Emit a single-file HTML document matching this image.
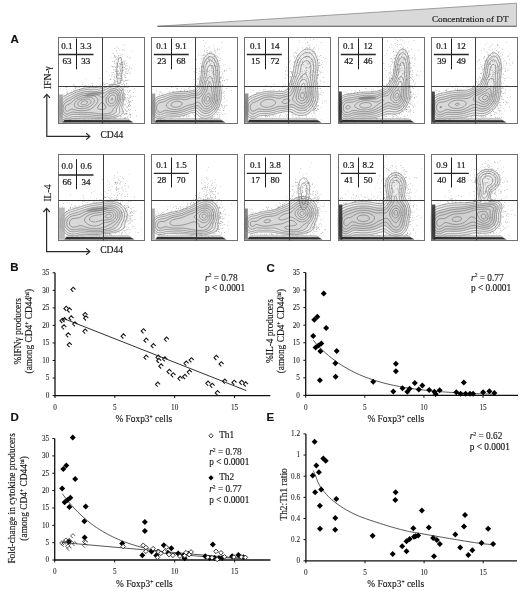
<!DOCTYPE html>
<html><head><meta charset="utf-8"><style>
html,body{margin:0;padding:0;background:#fff;overflow:hidden;width:520px;height:591px;}
svg{display:block;will-change:transform;}
text{stroke:#111;stroke-width:0.15px;}
text.t{stroke:#222;stroke-width:0.08px;fill:#222;}
text.s{stroke-width:0.22px;}
</style></head><body>
<svg width="520" height="591" viewBox="0 0 520 591">
<rect width="520" height="591" fill="#fff"/>
<polygon points="157.5,26.3 516.5,3.2 516.5,26.3" fill="#d9d9d9" stroke="#8a8a8a" stroke-width="0.8"/>
<line x1="157.50" y1="26.30" x2="516.50" y2="26.30" stroke="#6a6a6a" stroke-width="1.0"/>
<text x="508.50" y="21.60" style="font-family:'Liberation Serif',serif;font-size:9.2px;font-weight:normal" text-anchor="end" fill="#1a1a1a" >Concentration of DT</text>
<text x="10.60" y="43.20" style="font-family:'Liberation Sans',sans-serif;font-size:11.5px;font-weight:bold" text-anchor="start" fill="#111" >A</text>
<text x="10.20" y="270.70" style="font-family:'Liberation Sans',sans-serif;font-size:11.5px;font-weight:bold" text-anchor="start" fill="#111" >B</text>
<text x="266.60" y="272.00" style="font-family:'Liberation Sans',sans-serif;font-size:11.5px;font-weight:bold" text-anchor="start" fill="#111" >C</text>
<text x="10.40" y="420.50" style="font-family:'Liberation Sans',sans-serif;font-size:11.5px;font-weight:bold" text-anchor="start" fill="#111" >D</text>
<text x="266.40" y="420.80" style="font-family:'Liberation Sans',sans-serif;font-size:11.5px;font-weight:bold" text-anchor="start" fill="#111" >E</text>
<g><path d="M68.1 120.2l-.7 .1-1 .1-1-.2-.7-.2-.6-.3-.7-.4-.7-.5-.6-.6-.4-.4-.6-.6-.4-.5-.3-.5-.3-.5-.4-.5-.3-.6-.3-.6-.3-.5-.3-.7-.1-1 0-1 0-1 0-1 0-1 0-1 0-1 0-1 0-1 .1-.6 .3-.7 .4-.7 .4-.6 .4-.7 .4-.6 .3-.4 .6-.7 .4-.4 .6-.6 .4-.4 .7-.5 .5-.4 .5-.3 .5-.4 .5-.3 .7-.3 .6-.4 .6-.3 .7-.3 .7-.4 .6-.3 .7-.3 .7-.4 .7-.3 .7-.3 .6-.3 .7-.3 .7-.3 .6-.3 .7-.3 .6-.2 .7-.3 .7-.2 .7-.2 .6-.2 .7-.2 .7-.2 .6-.2 .7-.2 .7-.1 .6-.2 .7-.1 .7-.2 .6-.1 .7-.1 .7-.1 .6-.1 .7-.1 1-.1 .8-.1 .9-.1 1 0 1-.1 1 0 1 0 1 .1 1 0 .7 .1 .9 .1 1 .1 .7 .1 .7 .1 .6 .1 1 .1 1 0 1-.1 .7-.1 .7-.2 .6-.3 .6-.2 .7-.4 .7-.3 .6-.3 .8-.4 .6-.2 .7-.3 .7-.2 .6-.2 .7-.1 .7-.1 1-.1 1 0 1 .1 .6 .2 .7 .2 .7 .3 .6 .3 .7 .4 .5 .4 .5 .4 .6 .6 .4 .5 .3 .4 .4 .5 .3 .6 .3 .6 .4 .7 .2 .7 .2 .7 .2 .6 .2 .7 .1 .7 .1 .8 0 .8 0 1 0 1-.1 1-.1 .7-.1 .7-.2 .6-.1 .7-.2 .7-.2 .6-.2 .7-.3 .7-.2 .5-.3 .8-.2 .7-.1 .6-.1 1 .2 .7 .3 .7 .3 .6 .4 .7 .3 .7 .1 .6-.1 1-.3 .7-.5 .6-.5 .4-.4 .3-.5 .4-.6 .3-.7 .3-.6 .3-.7 .3-.7 .2-.6 .2-.7 .2-.7 .2-.6 .2-.7 .1-.7 .2-.6 .1-.7 .1-.7 .1-.6 .1-.7 .1-1 .1-1 .1-1 .1-1 0-1 .1-1 0-1 0-1 0-1 0-1 0-1-.1-1 0-1-.1-1 0-1-.1-1 0-1-.1-1 0-1-.1-1 0-1-.1-1 0-1 0-1 0-1 0-1 .1-1 0-1 .1-1 0-1 .1-1 0-1 0-1 .1-1 0-1 0-1 0-1 .1-.7 .1-.6 .2-.7 .2-.7 .3-.6 .2-.7 .3-.7 .2-.6 .2z" fill="#ececec" stroke="none"/><clipPath id="cl00"><rect x="58.4" y="86.5" width="85.8" height="36.6"/></clipPath><path d="M68.1 116.2l-.7 .2-1 0-.7-.1-.6-.3-.7-.4-.5-.4-.5-.6-.3-.5-.4-.5-.3-.6-.3-.8-.3-.7-.2-.7-.1-.6-.1-.7 0-1 0-1 .1-1 .1-.7 .2-.6 .3-.7 .2-.7 .4-.6 .4-.7 .3-.4 .5-.6 .5-.5 .5-.5 .5-.3 .5-.4 .5-.3 .7-.3 .6-.4 .7-.3 .7-.3 .6-.4 .6-.3 .6-.3 .5-.3 .6-.4 .6-.3 .6-.4 .5-.2 .7-.4 .7-.3 .6-.3 .7-.3 .7-.3 .6-.3 .7-.2 .7-.3 .6-.2 .7-.2 .7-.2 .6-.2 .7-.1 .7-.2 .6-.1 .7-.2 .7-.1 .6-.1 .7-.1 .7-.1 1-.1 1 0 1-.1 1 0 1 0 1 .1 1 .1 .6 .1 .7 .1 .7 .1 .6 .1 .7 .2 .7 .2 .6 .2 .7 .2 .6 .2 .7 .3 .7 .1 .7 .1 1 0 .6-.1 .7-.3 .7-.4 .5-.3 .5-.4 .5-.3 .5-.3 .5-.4 .5-.3 .5-.3 .6-.4 .5-.2 .7-.3 .7-.3 .6-.2 .7-.1 .7-.1 1-.1 1 .2 .6 .1 .7 .3 .7 .3 .6 .4 .7 .7 .6 .7 .4 .5 .3 .5 .3 .6 .3 .7 .2 .7 .2 .6 .1 .7 .1 1 0 1 0 1-.1 1-.2 .7-.1 .6-.2 .7-.2 .6-.3 .7-.3 .7-.3 .7-.4 .6-.4 .7-.3 .6-.4 .6-.3 .5-.3 .6-.3 .7-.2 .7-.1 .6-.1 1-.1 .7-.2 .6-.4 .6-.4 .5-.6 .4-.6 .4-.7 .3-.7 .3-.6 .2-.7 .2-.7 .2-.6 .1-.7 .1-.7 .2-.6 0-1 .1-1 .1-1 .1-1 0-1 0-1 0-1 0-1-.1-1 0-1-.1-1-.1-1-.1-1-.1-1-.1-1-.1-1-.1-1-.1-1-.1-.9-.1-.8 0-1-.1-1 0-1 0-1 0-1 0-1 0-1 0-1 0-1 0-1-.1-1 0-1-.1-1 0-1-.1-1 0-1 .1-.7 .1-.6 .3-.7 .3-.7 .3-.6 .3-.7 .3z" fill="#d8d8d8" stroke="none" clip-path="url(#cl00)"/><ellipse cx="0" cy="0" rx="10" ry="2.0" fill="#555" fill-opacity="0.35" transform="translate(94.4,94.0) rotate(-12)"/><path d="M114.2 56.2h.6v.6h-.6zM120.7 80.3h.6v.6h-.6zM122.9 67.7h.6v.6h-.6zM121.8 63.6h.6v.6h-.6zM115.1 71.1h.6v.6h-.6zM124.2 63.6h.6v.6h-.6zM122.6 70.0h.6v.6h-.6zM122.6 87.4h.6v.6h-.6zM122.8 68.9h.6v.6h-.6zM124.4 63.2h.6v.6h-.6zM129.5 57.8h.6v.6h-.6zM116.6 75.6h.6v.6h-.6zM119.6 67.6h.6v.6h-.6zM127.3 73.3h.6v.6h-.6zM113.4 53.1h.6v.6h-.6zM120.9 65.4h.6v.6h-.6zM116.3 70.2h.6v.6h-.6zM119.3 74.6h.6v.6h-.6zM121.5 71.9h.6v.6h-.6zM110.7 66.5h.6v.6h-.6zM114.9 82.0h.6v.6h-.6zM113.1 69.0h.6v.6h-.6zM118.4 48.5h.6v.6h-.6zM116.3 56.5h.6v.6h-.6zM126.2 68.7h.6v.6h-.6zM116.7 71.5h.6v.6h-.6zM127.1 55.9h.6v.6h-.6zM117.6 57.1h.6v.6h-.6zM120.6 72.9h.6v.6h-.6zM119.6 71.9h.6v.6h-.6zM119.5 73.0h.6v.6h-.6zM114.3 76.4h.6v.6h-.6zM120.9 69.9h.6v.6h-.6zM121.1 61.4h.6v.6h-.6zM120.5 82.1h.6v.6h-.6zM122.2 79.8h.6v.6h-.6zM115.7 86.7h.6v.6h-.6zM118.1 74.2h.6v.6h-.6zM116.4 71.1h.6v.6h-.6zM111.7 72.1h.6v.6h-.6zM121.1 73.1h.6v.6h-.6zM116.5 51.6h.6v.6h-.6zM119.1 68.6h.6v.6h-.6zM129.5 66.6h.6v.6h-.6zM120.4 73.9h.6v.6h-.6zM119.9 73.3h.6v.6h-.6zM124.2 67.1h.6v.6h-.6zM125.0 65.8h.6v.6h-.6zM127.6 56.9h.6v.6h-.6zM117.1 73.0h.6v.6h-.6zM127.5 65.5h.6v.6h-.6zM118.8 66.7h.6v.6h-.6zM114.2 81.0h.6v.6h-.6zM115.2 80.7h.6v.6h-.6zM124.4 67.0h.6v.6h-.6zM122.8 87.1h.6v.6h-.6zM125.2 77.3h.6v.6h-.6zM115.3 70.6h.6v.6h-.6zM117.9 61.0h.6v.6h-.6zM114.0 61.1h.6v.6h-.6zM110.5 79.3h.6v.6h-.6zM119.3 50.2h.6v.6h-.6zM126.5 86.9h.6v.6h-.6zM124.4 76.6h.6v.6h-.6zM115.9 66.1h.6v.6h-.6zM124.7 85.8h.6v.6h-.6zM116.8 71.9h.6v.6h-.6zM120.8 56.9h.6v.6h-.6zM123.1 62.7h.6v.6h-.6zM117.6 58.4h.6v.6h-.6zM115.4 57.1h.6v.6h-.6zM122.3 88.8h.6v.6h-.6zM118.6 70.2h.6v.6h-.6zM116.9 67.3h.6v.6h-.6zM122.3 77.1h.6v.6h-.6zM118.4 74.9h.6v.6h-.6zM121.1 62.1h.6v.6h-.6zM115.1 58.9h.6v.6h-.6zM122.7 49.2h.6v.6h-.6zM115.1 78.2h.6v.6h-.6zM117.7 66.3h.6v.6h-.6zM111.0 77.9h.6v.6h-.6zM124.6 69.1h.6v.6h-.6zM119.8 55.1h.6v.6h-.6zM121.5 62.6h.6v.6h-.6zM111.7 83.9h.6v.6h-.6zM120.1 62.7h.6v.6h-.6zM117.6 73.9h.6v.6h-.6zM124.8 45.0h.6v.6h-.6zM112.3 60.9h.6v.6h-.6zM121.0 78.7h.6v.6h-.6zM124.2 49.9h.6v.6h-.6zM114.0 79.7h.6v.6h-.6zM119.9 64.1h.6v.6h-.6zM114.5 63.0h.6v.6h-.6zM119.6 83.7h.6v.6h-.6zM120.9 64.1h.6v.6h-.6zM125.3 80.4h.6v.6h-.6zM120.2 65.6h.6v.6h-.6zM116.3 73.4h.6v.6h-.6zM122.0 80.2h.6v.6h-.6zM119.4 80.7h.6v.6h-.6zM124.3 67.3h.6v.6h-.6zM116.7 46.8h.6v.6h-.6zM125.4 87.4h.6v.6h-.6zM120.2 64.3h.6v.6h-.6zM120.5 82.9h.6v.6h-.6zM123.9 61.9h.6v.6h-.6zM117.0 65.7h.6v.6h-.6zM117.1 71.1h.6v.6h-.6zM121.7 69.8h.6v.6h-.6zM119.0 89.8h.6v.6h-.6zM119.6 52.7h.6v.6h-.6zM117.6 64.6h.6v.6h-.6zM118.0 72.9h.6v.6h-.6zM123.3 74.5h.6v.6h-.6zM128.2 70.5h.6v.6h-.6zM113.2 72.1h.6v.6h-.6zM126.2 80.4h.6v.6h-.6zM122.7 64.5h.6v.6h-.6zM124.8 64.5h.6v.6h-.6zM120.2 68.9h.6v.6h-.6zM116.1 77.0h.6v.6h-.6zM118.5 55.5h.6v.6h-.6zM115.2 89.0h.6v.6h-.6zM111.9 66.3h.6v.6h-.6zM119.0 63.6h.6v.6h-.6zM120.6 66.4h.6v.6h-.6zM118.1 58.8h.6v.6h-.6zM120.3 60.5h.6v.6h-.6zM112.4 66.6h.6v.6h-.6zM124.2 74.6h.6v.6h-.6zM118.7 77.2h.6v.6h-.6zM119.6 65.9h.6v.6h-.6zM122.6 66.8h.6v.6h-.6zM116.9 74.4h.6v.6h-.6zM131.1 50.7h.6v.6h-.6zM125.0 68.0h.6v.6h-.6zM124.9 80.3h.6v.6h-.6zM120.1 86.4h.6v.6h-.6zM116.2 67.7h.6v.6h-.6zM121.7 55.9h.6v.6h-.6zM116.1 63.6h.6v.6h-.6zM120.4 82.3h.6v.6h-.6zM120.5 90.1h.6v.6h-.6zM125.0 68.1h.6v.6h-.6zM121.4 54.6h.6v.6h-.6zM120.1 71.3h.6v.6h-.6zM125.6 77.6h.6v.6h-.6zM118.9 78.8h.6v.6h-.6zM117.0 73.5h.6v.6h-.6zM117.1 94.5h.6v.6h-.6zM126.0 69.7h.6v.6h-.6zM119.5 98.5h.6v.6h-.6zM116.8 58.9h.6v.6h-.6zM110.6 84.5h.6v.6h-.6zM114.7 81.0h.6v.6h-.6zM120.8 78.0h.6v.6h-.6zM122.0 62.0h.6v.6h-.6zM126.9 68.4h.6v.6h-.6zM116.3 57.8h.6v.6h-.6zM121.6 70.2h.6v.6h-.6zM125.2 72.6h.6v.6h-.6zM109.1 75.5h.6v.6h-.6zM129.8 57.5h.6v.6h-.6zM114.3 62.4h.6v.6h-.6zM114.3 47.9h.6v.6h-.6zM123.6 70.3h.6v.6h-.6zM121.3 59.2h.6v.6h-.6zM124.9 80.2h.6v.6h-.6zM122.3 64.2h.6v.6h-.6zM120.8 74.7h.6v.6h-.6zM118.8 65.7h.6v.6h-.6zM115.9 69.3h.6v.6h-.6zM122.1 67.4h.6v.6h-.6zM110.8 57.5h.6v.6h-.6zM118.6 78.1h.6v.6h-.6zM122.9 60.7h.6v.6h-.6zM114.2 82.3h.6v.6h-.6zM123.2 44.6h.6v.6h-.6zM123.8 64.4h.6v.6h-.6zM119.7 77.8h.6v.6h-.6zM118.7 78.0h.6v.6h-.6zM121.9 49.8h.6v.6h-.6zM122.3 71.3h.6v.6h-.6zM118.3 71.1h.6v.6h-.6zM128.7 72.0h.6v.6h-.6zM126.3 65.5h.6v.6h-.6zM123.9 61.3h.6v.6h-.6zM125.7 71.1h.6v.6h-.6zM125.3 74.9h.6v.6h-.6zM113.2 79.1h.6v.6h-.6zM130.9 68.3h.6v.6h-.6zM112.9 60.9h.6v.6h-.6zM120.4 76.5h.6v.6h-.6zM114.4 55.3h.6v.6h-.6zM122.3 62.0h.6v.6h-.6zM121.4 62.7h.6v.6h-.6zM120.5 69.1h.6v.6h-.6zM106.5 71.0h.6v.6h-.6zM123.0 89.1h.6v.6h-.6zM120.5 75.6h.6v.6h-.6zM110.2 78.9h.6v.6h-.6zM126.2 65.3h.6v.6h-.6zM118.7 58.5h.6v.6h-.6zM116.0 65.7h.6v.6h-.6zM121.4 64.2h.6v.6h-.6zM117.0 90.3h.6v.6h-.6zM121.2 84.3h.6v.6h-.6zM117.8 78.2h.6v.6h-.6zM115.4 68.7h.6v.6h-.6zM114.3 56.6h.6v.6h-.6zM123.0 66.4h.6v.6h-.6zM119.9 63.3h.6v.6h-.6zM116.0 62.0h.6v.6h-.6zM116.8 73.9h.6v.6h-.6zM115.4 87.3h.6v.6h-.6zM129.1 90.4h.6v.6h-.6zM121.1 67.8h.6v.6h-.6zM120.2 70.8h.6v.6h-.6zM126.3 73.1h.6v.6h-.6zM116.5 63.2h.6v.6h-.6zM114.5 83.2h.6v.6h-.6zM117.1 75.2h.6v.6h-.6zM120.2 70.9h.6v.6h-.6zM118.5 75.6h.6v.6h-.6zM117.8 65.4h.6v.6h-.6zM120.1 67.8h.6v.6h-.6zM117.4 82.8h.6v.6h-.6zM114.4 80.1h.6v.6h-.6zM122.7 71.8h.6v.6h-.6zM118.1 55.8h.6v.6h-.6zM118.0 95.2h.6v.6h-.6zM121.6 74.9h.6v.6h-.6zM121.2 80.0h.6v.6h-.6zM114.2 60.6h.6v.6h-.6zM116.0 76.3h.6v.6h-.6zM113.0 76.5h.6v.6h-.6zM113.8 73.8h.6v.6h-.6zM120.7 82.5h.6v.6h-.6zM117.1 53.2h.6v.6h-.6zM115.0 82.9h.6v.6h-.6zM113.2 66.8h.6v.6h-.6zM125.0 65.7h.6v.6h-.6zM117.4 70.5h.6v.6h-.6zM120.3 75.0h.6v.6h-.6zM118.9 72.8h.6v.6h-.6zM114.9 66.9h.6v.6h-.6zM121.2 76.7h.6v.6h-.6zM119.8 99.4h.6v.6h-.6zM125.1 77.5h.6v.6h-.6zM121.9 67.0h.6v.6h-.6zM113.5 83.0h.6v.6h-.6zM118.6 79.7h.6v.6h-.6zM118.7 62.9h.6v.6h-.6zM118.8 83.3h.6v.6h-.6zM113.6 56.9h.6v.6h-.6zM111.6 75.6h.6v.6h-.6zM118.6 89.4h.6v.6h-.6zM120.7 58.6h.6v.6h-.6zM113.8 66.0h.6v.6h-.6zM127.6 62.5h.6v.6h-.6zM122.1 84.0h.6v.6h-.6zM117.0 63.4h.6v.6h-.6zM128.4 69.5h.6v.6h-.6zM112.3 74.4h.6v.6h-.6zM114.6 80.2h.6v.6h-.6zM114.3 77.3h.6v.6h-.6zM124.5 60.6h.6v.6h-.6zM115.8 49.9h.6v.6h-.6zM122.5 79.5h.6v.6h-.6zM120.3 70.3h.6v.6h-.6zM116.5 76.0h.6v.6h-.6zM119.8 63.5h.6v.6h-.6zM113.9 69.5h.6v.6h-.6zM123.0 83.4h.6v.6h-.6zM114.7 54.7h.6v.6h-.6zM115.2 67.5h.6v.6h-.6zM122.3 53.9h.6v.6h-.6zM117.0 82.8h.6v.6h-.6zM127.7 71.2h.6v.6h-.6zM125.5 59.9h.6v.6h-.6zM111.8 53.0h.6v.6h-.6zM119.9 70.4h.6v.6h-.6zM118.6 71.0h.6v.6h-.6zM129.0 67.8h.6v.6h-.6zM116.8 82.9h.6v.6h-.6zM116.4 59.5h.6v.6h-.6zM118.4 77.2h.6v.6h-.6zM118.3 84.7h.6v.6h-.6zM115.2 63.7h.6v.6h-.6zM120.4 78.2h.6v.6h-.6zM116.8 84.8h.6v.6h-.6zM115.4 55.9h.6v.6h-.6zM126.1 63.3h.6v.6h-.6zM119.9 56.9h.6v.6h-.6zM114.5 74.7h.6v.6h-.6zM113.0 88.4h.6v.6h-.6zM117.8 55.5h.6v.6h-.6zM113.6 69.7h.6v.6h-.6zM134.1 88.0h.6v.6h-.6zM125.9 113.3h.6v.6h-.6zM129.0 102.7h.6v.6h-.6zM128.9 106.0h.6v.6h-.6zM126.2 121.0h.6v.6h-.6zM129.7 101.3h.6v.6h-.6zM128.4 99.8h.6v.6h-.6zM127.2 97.2h.6v.6h-.6zM126.7 87.0h.6v.6h-.6zM130.7 100.6h.6v.6h-.6zM127.8 86.8h.6v.6h-.6zM125.5 90.7h.6v.6h-.6zM126.2 83.3h.6v.6h-.6zM128.2 109.3h.6v.6h-.6zM128.5 100.4h.6v.6h-.6zM123.9 113.8h.6v.6h-.6zM129.7 95.8h.6v.6h-.6zM124.4 97.6h.6v.6h-.6zM122.9 94.4h.6v.6h-.6zM126.6 92.0h.6v.6h-.6zM128.2 119.0h.6v.6h-.6zM129.8 73.3h.6v.6h-.6zM124.5 114.3h.6v.6h-.6zM126.5 113.3h.6v.6h-.6zM130.0 96.9h.6v.6h-.6zM127.3 102.9h.6v.6h-.6zM130.3 117.3h.6v.6h-.6zM129.1 101.6h.6v.6h-.6zM123.7 80.8h.6v.6h-.6zM125.4 94.5h.6v.6h-.6zM129.7 114.5h.6v.6h-.6zM121.4 91.7h.6v.6h-.6zM129.5 113.8h.6v.6h-.6zM127.0 97.2h.6v.6h-.6zM125.2 108.9h.6v.6h-.6zM133.1 96.3h.6v.6h-.6zM125.2 94.6h.6v.6h-.6zM125.8 98.3h.6v.6h-.6zM126.7 80.1h.6v.6h-.6zM126.6 107.4h.6v.6h-.6zM128.8 79.8h.6v.6h-.6zM128.5 100.8h.6v.6h-.6zM121.4 90.3h.6v.6h-.6zM130.4 105.1h.6v.6h-.6zM130.2 114.3h.6v.6h-.6zM129.8 101.7h.6v.6h-.6zM128.7 98.4h.6v.6h-.6zM123.6 104.4h.6v.6h-.6zM129.3 106.2h.6v.6h-.6zM126.3 110.4h.6v.6h-.6zM124.7 96.7h.6v.6h-.6zM127.5 113.4h.6v.6h-.6zM129.1 91.2h.6v.6h-.6zM124.9 100.0h.6v.6h-.6zM128.9 103.7h.6v.6h-.6zM130.0 109.1h.6v.6h-.6zM126.0 105.8h.6v.6h-.6zM127.9 104.7h.6v.6h-.6zM127.4 121.4h.6v.6h-.6zM130.8 102.2h.6v.6h-.6zM128.1 86.1h.6v.6h-.6zM122.9 99.6h.6v.6h-.6zM125.3 103.7h.6v.6h-.6zM130.5 96.0h.6v.6h-.6zM130.8 95.8h.6v.6h-.6zM130.7 114.3h.6v.6h-.6zM126.9 107.3h.6v.6h-.6zM125.2 117.8h.6v.6h-.6zM129.2 104.3h.6v.6h-.6zM127.1 90.5h.6v.6h-.6zM126.8 99.4h.6v.6h-.6zM125.7 98.7h.6v.6h-.6zM128.3 98.2h.6v.6h-.6zM125.2 109.3h.6v.6h-.6zM126.4 83.8h.6v.6h-.6zM132.3 100.1h.6v.6h-.6zM127.2 117.5h.6v.6h-.6zM130.5 90.3h.6v.6h-.6zM128.0 109.1h.6v.6h-.6zM128.5 101.9h.6v.6h-.6zM127.9 84.9h.6v.6h-.6zM133.0 92.3h.6v.6h-.6zM128.3 115.2h.6v.6h-.6zM128.1 94.7h.6v.6h-.6zM127.8 102.4h.6v.6h-.6zM126.2 100.8h.6v.6h-.6zM130.4 90.2h.6v.6h-.6zM125.4 113.3h.6v.6h-.6zM123.6 111.0h.6v.6h-.6zM128.1 105.8h.6v.6h-.6zM128.6 100.1h.6v.6h-.6zM124.4 93.3h.6v.6h-.6zM128.1 92.1h.6v.6h-.6zM127.4 111.0h.6v.6h-.6zM123.4 80.7h.6v.6h-.6zM122.1 111.5h.6v.6h-.6zM128.3 105.1h.6v.6h-.6zM127.4 106.4h.6v.6h-.6zM129.5 101.6h.6v.6h-.6zM78.6 99.0h.6v.6h-.6zM81.4 88.8h.6v.6h-.6zM95.6 96.6h.6v.6h-.6zM107.4 98.2h.6v.6h-.6zM123.4 93.5h.6v.6h-.6zM104.2 88.9h.6v.6h-.6zM109.4 92.0h.6v.6h-.6zM82.9 95.1h.6v.6h-.6zM116.1 93.1h.6v.6h-.6zM108.9 93.0h.6v.6h-.6zM135.1 96.5h.6v.6h-.6zM118.5 100.3h.6v.6h-.6zM99.7 98.8h.6v.6h-.6zM76.6 89.0h.6v.6h-.6zM130.5 86.1h.6v.6h-.6zM80.8 99.3h.6v.6h-.6zM105.4 98.2h.6v.6h-.6zM119.5 92.3h.6v.6h-.6zM115.3 86.1h.6v.6h-.6zM77.5 98.5h.6v.6h-.6zM79.5 90.6h.6v.6h-.6zM122.1 89.4h.6v.6h-.6zM112.9 91.7h.6v.6h-.6zM83.1 86.2h.6v.6h-.6zM66.0 87.5h.6v.6h-.6zM75.1 92.4h.6v.6h-.6zM81.3 92.7h.6v.6h-.6zM90.7 86.4h.6v.6h-.6zM104.9 101.7h.6v.6h-.6zM104.9 97.2h.6v.6h-.6zM93.1 94.7h.6v.6h-.6zM83.6 95.0h.6v.6h-.6zM104.7 84.2h.6v.6h-.6zM88.6 92.8h.6v.6h-.6zM117.6 94.6h.6v.6h-.6zM91.9 92.9h.6v.6h-.6zM86.6 93.9h.6v.6h-.6zM122.9 94.9h.6v.6h-.6zM122.9 98.6h.6v.6h-.6zM72.1 119.9h.6v.6h-.6zM95.5 87.0h.6v.6h-.6zM119.3 85.1h.6v.6h-.6zM114.9 84.1h.6v.6h-.6zM98.6 118.6h.6v.6h-.6zM120.1 116.3h.6v.6h-.6zM60.9 94.8h.6v.6h-.6zM109.2 84.1h.6v.6h-.6zM66.0 89.3h.6v.6h-.6zM125.0 97.1h.6v.6h-.6zM60.5 88.0h.6v.6h-.6zM100.5 84.4h.6v.6h-.6zM120.2 116.9h.6v.6h-.6zM122.0 85.9h.6v.6h-.6zM118.0 120.4h.6v.6h-.6zM109.3 122.2h.6v.6h-.6zM112.8 84.1h.6v.6h-.6zM111.2 83.7h.6v.6h-.6zM90.3 85.5h.6v.6h-.6zM127.6 87.4h.6v.6h-.6zM127.3 79.7h.6v.6h-.6zM75.3 87.3h.6v.6h-.6zM92.0 85.1h.6v.6h-.6zM129.2 112.4h.6v.6h-.6zM123.5 110.8h.6v.6h-.6zM117.1 77.8h.6v.6h-.6zM121.5 75.9h.6v.6h-.6zM107.3 83.3h.6v.6h-.6zM79.5 120.0h.6v.6h-.6zM125.2 104.6h.6v.6h-.6zM123.4 82.6h.6v.6h-.6zM124.9 117.1h.6v.6h-.6zM105.8 118.8h.6v.6h-.6zM59.6 115.7h.6v.6h-.6zM104.4 84.4h.6v.6h-.6zM97.9 86.4h.6v.6h-.6zM59.8 99.0h.6v.6h-.6zM113.1 119.0h.6v.6h-.6zM124.1 98.9h.6v.6h-.6zM100.1 85.0h.6v.6h-.6zM76.2 86.9h.6v.6h-.6zM83.9 119.7h.6v.6h-.6zM77.8 86.1h.6v.6h-.6zM123.0 106.9h.6v.6h-.6zM61.4 118.6h.6v.6h-.6zM112.1 84.8h.6v.6h-.6zM127.5 94.3h.6v.6h-.6zM67.5 93.3h.6v.6h-.6zM122.6 105.9h.6v.6h-.6zM103.7 82.0h.6v.6h-.6zM66.8 93.0h.6v.6h-.6zM124.7 89.5h.6v.6h-.6zM88.0 84.5h.6v.6h-.6zM123.8 112.7h.6v.6h-.6zM65.8 86.9h.6v.6h-.6zM118.5 81.2h.6v.6h-.6zM63.3 119.2h.6v.6h-.6zM124.2 87.1h.6v.6h-.6zM66.9 91.0h.6v.6h-.6zM124.0 90.2h.6v.6h-.6zM121.7 116.2h.6v.6h-.6zM85.2 122.2h.6v.6h-.6zM74.4 87.7h.6v.6h-.6zM91.8 119.1h.6v.6h-.6zM82.6 88.3h.6v.6h-.6zM104.8 86.4h.6v.6h-.6zM61.5 97.9h.6v.6h-.6zM114.6 118.3h.6v.6h-.6zM93.3 86.9h.6v.6h-.6zM117.2 80.8h.6v.6h-.6zM84.2 87.4h.6v.6h-.6zM77.7 120.7h.6v.6h-.6zM63.7 121.7h.6v.6h-.6zM73.0 89.6h.6v.6h-.6zM102.3 85.0h.6v.6h-.6zM99.0 118.4h.6v.6h-.6zM101.2 86.7h.6v.6h-.6zM96.1 85.6h.6v.6h-.6zM110.6 118.7h.6v.6h-.6zM134.9 110.1h.6v.6h-.6zM69.9 92.6h.6v.6h-.6zM108.5 118.8h.6v.6h-.6zM71.1 90.4h.6v.6h-.6zM102.2 119.7h.6v.6h-.6zM125.5 97.2h.6v.6h-.6zM125.3 110.3h.6v.6h-.6zM95.8 87.0h.6v.6h-.6zM124.7 99.5h.6v.6h-.6zM104.3 87.4h.6v.6h-.6zM65.1 121.7h.6v.6h-.6zM125.6 98.3h.6v.6h-.6zM123.5 106.5h.6v.6h-.6zM109.6 79.5h.6v.6h-.6zM76.6 118.6h.6v.6h-.6zM79.4 118.6h.6v.6h-.6zM129.8 95.2h.6v.6h-.6zM128.8 110.5h.6v.6h-.6zM103.2 83.5h.6v.6h-.6zM86.2 85.7h.6v.6h-.6zM129.6 98.2h.6v.6h-.6zM99.3 78.1h.6v.6h-.6zM78.8 87.3h.6v.6h-.6zM70.3 119.2h.6v.6h-.6zM121.5 79.7h.6v.6h-.6zM72.9 84.3h.6v.6h-.6zM127.5 90.7h.6v.6h-.6zM96.5 86.4h.6v.6h-.6zM98.0 119.0h.6v.6h-.6zM60.5 99.2h.6v.6h-.6zM95.5 119.2h.6v.6h-.6zM125.8 112.8h.6v.6h-.6zM124.2 108.3h.6v.6h-.6zM60.5 95.4h.6v.6h-.6zM104.3 86.6h.6v.6h-.6zM63.0 94.4h.6v.6h-.6zM123.7 104.1h.6v.6h-.6zM89.5 85.8h.6v.6h-.6zM75.6 89.9h.6v.6h-.6zM76.8 87.6h.6v.6h-.6zM82.9 87.4h.6v.6h-.6zM74.0 90.0h.6v.6h-.6zM115.8 81.3h.6v.6h-.6zM125.2 108.9h.6v.6h-.6zM63.9 95.3h.6v.6h-.6zM62.2 95.5h.6v.6h-.6zM78.6 120.6h.6v.6h-.6zM124.4 117.7h.6v.6h-.6zM123.2 103.0h.6v.6h-.6zM66.5 94.4h.6v.6h-.6zM88.3 120.1h.6v.6h-.6zM88.1 118.9h.6v.6h-.6zM82.6 82.6h.6v.6h-.6zM75.1 88.4h.6v.6h-.6zM122.8 108.5h.6v.6h-.6zM123.9 117.8h.6v.6h-.6zM66.2 92.0h.6v.6h-.6zM104.2 84.4h.6v.6h-.6zM107.2 119.0h.6v.6h-.6zM79.9 86.4h.6v.6h-.6zM126.5 114.5h.6v.6h-.6zM120.6 80.6h.6v.6h-.6zM85.8 120.4h.6v.6h-.6zM78.7 86.8h.6v.6h-.6zM115.5 118.3h.6v.6h-.6zM130.3 115.2h.6v.6h-.6zM89.0 87.4h.6v.6h-.6zM107.1 121.3h.6v.6h-.6zM71.1 92.2h.6v.6h-.6zM125.7 98.2h.6v.6h-.6zM84.9 78.7h.6v.6h-.6zM121.8 78.4h.6v.6h-.6zM127.3 115.9h.6v.6h-.6zM83.3 86.3h.6v.6h-.6zM69.4 120.6h.6v.6h-.6zM69.5 121.6h.6v.6h-.6zM84.8 85.1h.6v.6h-.6zM96.6 119.7h.6v.6h-.6zM121.9 108.8h.6v.6h-.6zM84.0 119.1h.6v.6h-.6zM123.3 88.1h.6v.6h-.6zM114.2 80.5h.6v.6h-.6zM86.9 121.2h.6v.6h-.6zM114.1 118.7h.6v.6h-.6zM124.9 113.7h.6v.6h-.6zM109.6 84.5h.6v.6h-.6zM92.3 85.0h.6v.6h-.6zM60.7 119.8h.6v.6h-.6zM59.4 115.4h.6v.6h-.6zM105.9 83.3h.6v.6h-.6zM62.8 89.7h.6v.6h-.6zM128.9 97.2h.6v.6h-.6zM73.8 85.1h.6v.6h-.6zM72.9 86.4h.6v.6h-.6zM79.1 89.4h.6v.6h-.6zM102.9 84.5h.6v.6h-.6zM79.7 89.1h.6v.6h-.6zM100.1 87.3h.6v.6h-.6zM81.9 84.1h.6v.6h-.6zM68.9 120.8h.6v.6h-.6zM122.6 105.1h.6v.6h-.6zM123.6 105.5h.6v.6h-.6zM124.4 84.1h.6v.6h-.6zM97.6 120.0h.6v.6h-.6zM75.2 87.9h.6v.6h-.6zM66.9 92.6h.6v.6h-.6zM104.3 84.3h.6v.6h-.6zM108.2 80.7h.6v.6h-.6zM91.3 82.9h.6v.6h-.6zM113.7 83.8h.6v.6h-.6zM62.0 120.6h.6v.6h-.6zM65.6 122.0h.6v.6h-.6zM87.9 120.0h.6v.6h-.6zM84.9 121.1h.6v.6h-.6zM124.5 95.7h.6v.6h-.6zM95.8 120.2h.6v.6h-.6zM121.0 80.4h.6v.6h-.6zM108.1 84.4h.6v.6h-.6zM74.8 119.0h.6v.6h-.6zM119.7 83.5h.6v.6h-.6zM104.2 119.8h.6v.6h-.6zM62.6 95.4h.6v.6h-.6zM102.2 86.5h.6v.6h-.6zM126.6 111.1h.6v.6h-.6zM105.5 120.8h.6v.6h-.6zM100.3 87.7h.6v.6h-.6zM92.4 83.6h.6v.6h-.6zM112.9 82.2h.6v.6h-.6zM124.0 85.0h.6v.6h-.6zM124.5 81.5h.6v.6h-.6zM136.2 115.6h.6v.6h-.6z" fill="#8c8c8c"/><path d="M68.1 120.2l-.7 .1-1 .1-1-.2-.7-.2-.6-.3-.7-.4-.7-.5-.6-.6-.4-.4-.6-.6-.4-.5-.3-.5-.3-.5-.4-.5-.3-.6-.3-.6-.3-.5-.3-.7-.1-1 0-1 0-1 0-1 0-1 0-1 0-1 0-1 0-1 .1-.6 .3-.7 .4-.7 .4-.6 .4-.7 .4-.6 .3-.4 .6-.7 .4-.4 .6-.6 .4-.4 .7-.5 .5-.4 .5-.3 .5-.4 .5-.3 .7-.3 .6-.4 .6-.3 .7-.3 .7-.4 .6-.3 .7-.3 .7-.4 .7-.3 .7-.3 .6-.3 .7-.3 .7-.3 .6-.3 .7-.3 .6-.2 .7-.3 .7-.2 .7-.2 .6-.2 .7-.2 .7-.2 .6-.2 .7-.2 .7-.1 .6-.2 .7-.1 .7-.2 .6-.1 .7-.1 .7-.1 .6-.1 .7-.1 1-.1 .8-.1 .9-.1 1 0 1-.1 1 0 1 0 1 .1 1 0 .7 .1 .9 .1 1 .1 .7 .1 .7 .1 .6 .1 1 .1 1 0 1-.1 .7-.1 .7-.2 .6-.3 .6-.2 .7-.4 .7-.3 .6-.3 .8-.4 .6-.2 .7-.3 .7-.2 .6-.2 .7-.1 .7-.1 1-.1 1 0 1 .1 .6 .2 .7 .2 .7 .3 .6 .3 .7 .4 .5 .4 .5 .4 .6 .6 .4 .5 .3 .4 .4 .5 .3 .6 .3 .6 .4 .7 .2 .7 .2 .7 .2 .6 .2 .7 .1 .7 .1 .8 0 .8 0 1 0 1-.1 1-.1 .7-.1 .7-.2 .6-.1 .7-.2 .7-.2 .6-.2 .7-.3 .7-.2 .5-.3 .8-.2 .7-.1 .6-.1 1 .2 .7 .3 .7 .3 .6 .4 .7 .3 .7 .1 .6-.1 1-.3 .7-.5 .6-.5 .4-.4 .3-.5 .4-.6 .3-.7 .3-.6 .3-.7 .3-.7 .2-.6 .2-.7 .2-.7 .2-.6 .2-.7 .1-.7 .2-.6 .1-.7 .1-.7 .1-.6 .1-.7 .1-1 .1-1 .1-1 .1-1 0-1 .1-1 0-1 0-1 0-1 0-1 0-1-.1-1 0-1-.1-1 0-1-.1-1 0-1-.1-1 0-1-.1-1 0-1-.1-1 0-1 0-1 0-1 0-1 .1-1 0-1 .1-1 0-1 .1-1 0-1 0-1 .1-1 0-1 0-1 0-1 .1-.7 .1-.6 .2-.7 .2-.7 .3-.6 .2-.7 .3-.7 .2-.6 .2M68.4 118.2l-.7 .2-.6 .1-1-.1-.7-.1-.7-.3-.6-.4-.7-.4-.7-.7-.5-.7-.5-.6-.3-.5-.3-.5-.3-.7-.3-.7-.2-.6-.2-.7-.2-.7-.1-.6-.1-.7-.1-1 0-1 .1-1 .1-.7 .2-.6 .2-.7 .2-.7 .3-.6 .3-.7 .4-.7 .3-.5 .4-.5 .3-.4 .5-.6 .5-.5 .5-.5 .4-.3 .5-.3 .5-.4 .6-.3 .5-.3 .7-.4 .6-.3 .7-.3 .7-.4 .6-.3 .6-.3 .7-.4 .6-.3 .6-.3 .5-.3 .7-.3 .7-.3 .6-.3 .7-.3 .7-.3 .6-.2 .7-.3 .7-.2 .6-.2 .7-.3 .7-.2 .6-.2 .7-.1 .7-.2 .6-.2 .7-.1 .7-.1 .6-.2 .7-.1 .7-.1 .6-.1 1-.1 .7-.1 1-.1 1 0 1 0 1 0 1 0 1 0 1 .1 1 .1 .7 .1 .6 .2 .7 .1 .7 .1 .6 .2 .7 .1 .7 .1 .6 .1 1 0 1-.1 .7-.2 .7-.2 .6-.4 .7-.3 .7-.4 .6-.4 .7-.3 .7-.4 .6-.3 .7-.2 .7-.3 .6-.2 .7-.1 .7-.1 1-.1 1 .1 .6 .1 .7 .2 .7 .2 .6 .3 .7 .4 .4 .4 .6 .5 .5 .5 .5 .6 .3 .5 .4 .5 .3 .7 .3 .7 .2 .6 .2 .7 .2 .7 .1 .6 .1 .7 .1 1-.1 1 0 1-.1 .7-.1 .6-.1 .7-.2 .7-.2 .6-.2 .7-.3 .7-.2 .6-.3 .7-.3 .7-.3 .6-.3 .7-.3 .7-.1 .6-.1 .7 .1 1 .1 .7 .1 .6 .1 1-.2 .7-.3 .7-.6 .6-.4 .4-.5 .3-.6 .3-.6 .4-.8 .3-.7 .3-.7 .2-.6 .2-.7 .2-.7 .1-.7 .1-.6 .2-.7 .1-.7 .1-1 .1-1 .1-1 0-1 .1-1 0-1 0-1 0-1 0-1 0-1 0-1-.1-1 0-1-.1-1-.1-1 0-1-.1-1-.1-1-.1-1-.1-1 0-1-.1-1 0-1 0-1-.1-1 0-1 0-1 .1-1 0-1 0-1 0-1 0-1 0-1 0-1 0-1 0-1 0-1 .1-.6 .1-.7 .2-.6 .3-.7 .3-.7 .3-.7 .3M68.1 116.2l-.7 .2-1 0-.7-.1-.6-.3-.7-.4-.5-.4-.5-.6-.3-.5-.4-.5-.3-.6-.3-.8-.3-.7-.2-.7-.1-.6-.1-.7 0-1 0-1 .1-1 .1-.7 .2-.6 .3-.7 .2-.7 .4-.6 .4-.7 .3-.4 .5-.6 .5-.5 .5-.5 .5-.3 .5-.4 .5-.3 .7-.3 .6-.4 .7-.3 .7-.3 .6-.4 .6-.3 .6-.3 .5-.3 .6-.4 .6-.3 .6-.4 .5-.2 .7-.4 .7-.3 .6-.3 .7-.3 .7-.3 .6-.3 .7-.2 .7-.3 .6-.2 .7-.2 .7-.2 .6-.2 .7-.1 .7-.2 .6-.1 .7-.2 .7-.1 .6-.1 .7-.1 .7-.1 1-.1 1 0 1-.1 1 0 1 0 1 .1 1 .1 .6 .1 .7 .1 .7 .1 .6 .1 .7 .2 .7 .2 .6 .2 .7 .2 .6 .2 .7 .3 .7 .1 .7 .1 1 0 .6-.1 .7-.3 .7-.4 .5-.3 .5-.4 .5-.3 .5-.3 .5-.4 .5-.3 .5-.3 .6-.4 .5-.2 .7-.3 .7-.3 .6-.2 .7-.1 .7-.1 1-.1 1 .2 .6 .1 .7 .3 .7 .3 .6 .4 .7 .7 .6 .7 .4 .5 .3 .5 .3 .6 .3 .7 .2 .7 .2 .6 .1 .7 .1 1 0 1 0 1-.1 1-.2 .7-.1 .6-.2 .7-.2 .6-.3 .7-.3 .7-.3 .7-.4 .6-.4 .7-.3 .6-.4 .6-.3 .5-.3 .6-.3 .7-.2 .7-.1 .6-.1 1-.1 .7-.2 .6-.4 .6-.4 .5-.6 .4-.6 .4-.7 .3-.7 .3-.6 .2-.7 .2-.7 .2-.6 .1-.7 .1-.7 .2-.6 0-1 .1-1 .1-1 .1-1 0-1 0-1 0-1 0-1-.1-1 0-1-.1-1-.1-1-.1-1-.1-1-.1-1-.1-1-.1-1-.1-1-.1-.9-.1-.8 0-1-.1-1 0-1 0-1 0-1 0-1 0-1 0-1 0-1 0-1-.1-1 0-1-.1-1 0-1-.1-1 0-1 .1-.7 .1-.6 .3-.7 .3-.7 .3-.6 .3-.7 .3M106.4 113.9l-1 .1-1 0-1 0-1 0-1 0-1-.1-1 0-1-.1-.7-.1-.6-.1-.7-.1-.7-.1-.6-.2-.7-.1-.7-.1-.6-.1-.9-.1-.8 0-1-.1-1 0-1 0-1 0-1 0-1 0-1 0-1 .1-1 0-1 0-1 0-1 0-1-.1-1-.1-1-.1-.7-.1-.6-.1-.7-.1-1-.1-1 0-.7 .1-.6 .2-.7 .4-.7 .3-.6 .4-.7 .3-.7 .2-.6 .2-1-.2-.7-.3-.7-.5-.5-.7-.4-.7-.3-.6-.2-.7-.2-.7 0-.6-.1-1 .1-1 .2-.7 .1-.7 .3-.6 .3-.7 .4-.6 .3-.4 .6-.7 .8-.5 .6-.5 .7-.3 .7-.3 .6-.3 .7-.3 .7-.4 .5-.4 .6-.3 .4-.3 .5-.4 .5-.3 .5-.3 .5-.4 .6-.3 .5-.3 .7-.4 .6-.3 .7-.3 .7-.4 .7-.3 .6-.2 .7-.3 .7-.2 .6-.2 .7-.2 .7-.2 .6-.2 .7-.1 .7-.2 .6-.1 .7-.1 .7-.1 1-.1 1-.1 1-.1 1 0 1 .1 1 0 1 .2 .6 .1 .7 .1 .7 .2 .6 .2 .6 .2 .8 .3 .6 .3 .7 .3 .6 .4 .5 .3 .5 .4 .4 .3 .5 .3 .5 .4 .7 .3 1-.1 .6-.5 .5-.4 .5-.5 .5-.5 .5-.5 .5-.5 .5-.5 .5-.5 .5-.5 .7-.5 .5-.3 .5-.4 .6-.3 .7-.3 .7-.3 .7-.2 .6-.1 1 0 1 .1 .7 .2 .6 .3 .5 .3 .4 .3 .5 .5 .5 .5 .4 .7 .3 .7 .3 .6 .2 .7 .1 .7 .1 1 0 1-.1 1-.1 .6-.2 .7-.2 .7-.2 .6-.3 .7-.3 .7-.4 .6-.4 .7-.4 .5-.3 .4-.6 .8-.4 .4-.5 .6-.5 .5-.5 .5-.5 .6-.3 .6-.4 .7-.3 .7-.3 .6-.4 .5-.6 .6-.7 .3-.7 .3-.6 .3-.7 .1-.7 .2-.6 .1-.7 .1M103.9 109.2l.8-.3 .6-.4 .4-.5 .1-.8-.2-.7-.2-.5-.3-.7-.3-.5-.4-.5-.3-.4-.6-.7-.4-.4-.6-.3-.8 .1-.6 .4-.6 .5-.4 .4-.6 .6-.4 .5-.4 .4-.3 .5-.3 .5-.4 .8 0 1 .4 .4 .6 .4 .7 .2 .7 .2 1 .1 1-.1 1-.1 .6-.1M111.7 106.2l-1 0-.6-.1-.7-.2-.6-.4-.7-.6-.6-.7-.4-.6-.4-.6-.3-.8-.2-.7-.1-.7 0-1 .1-.6 .1-.7 .3-.7 .3-.6 .4-.7 .4-.7 .4-.4 .5-.6 .5-.4 .6-.5 .6-.4 .6-.3 .8-.3 .7-.2 1 0 .7 .1 .6 .2 .7 .3 .6 .5 .4 .5 .3 .4 .4 .7 .2 .8 .2 .6 .1 1 0 1-.1 .7-.2 .7-.2 .6-.2 .7-.3 .7-.4 .6-.5 .6-.6 .8-.4 .3-.6 .6-.6 .4-.7 .3-.7 .3M67.4 111.2l-1-.2-.6-.5-.4-.6-.2-.7-.1-1 .1-.7 .2-.7 .3-.6 .4-.5 .5-.5 .5-.4 .6-.3 .7-.2 .7-.2 .6-.3 .6-.3 .4-.3 .7-.6 .4-.4 .6-.6 .5-.4 .5-.5 .6-.5 .7-.6 .6-.4 .5-.4 .5-.3 .6-.3 .5-.3 .7-.3 .6-.3 .7-.3 .7-.3 .5-.2 .8-.3 .7-.2 .6-.1 .7-.2 .7-.1 .6-.2 .7-.1 .7-.1 1-.1 1 0 1 0 1 0 1 .1 .6 .1 .7 .2 .7 .1 .6 .2 .7 .3 .7 .3 .6 .4 .5 .4 .5 .5 .4 .5 .3 .5 .3 .8 .1 .7-.1 1-.2 .6-.3 .7-.4 .7-.4 .5-.3 .5-.6 .6-.4 .6-.5 .4-.5 .6-.5 .4-.5 .5-.7 .5-.4 .4-.5 .3-.4 .3-.7 .3-.7 .3-.6 .3-.7 .2-.7 .2-.6 .1-.7 .1-.7 .2-.6 0-1 .2-1 0-1 .1-1 0-1 0-1-.1-1-.1-.7-.1-.7-.2-.6-.1-.7-.2-.6-.2-.7-.2-.7-.2-.7-.2-.6-.1-1 .1-.7 .2-.6 .4-.5 .4-.5 .3-.5 .3-.6 .3M112.4 103.5l-.7 .2-1-.1-.6-.3-.6-.5-.4-.5-.3-.5-.3-.6-.1-.7 0-1 .1-.7 .2-.6 .3-.7 .4-.6 .3-.4 .7-.6 .5-.4 .7-.3 .8-.2 1 0 .7 .2 .6 .5 .4 .5 .3 .6 .2 .7 .1 .7 0 1-.1 .6-.2 .7-.3 .6-.4 .6-.3 .4-.7 .7-.5 .4-.7 .3M84.4 108.5l-.7 .1-1 .1-1 0-1 0-1-.1-.6-.1-.7-.1-.7-.2-.6-.2-.7-.3-.7-.4-.5-.5-.5-.6-.3-.7-.1-.7 .1-.8 .3-.8 .4-.7 .3-.4 .5-.6 .5-.5 .6-.5 .4-.3 .5-.4 .5-.3 .7-.3 .6-.4 .7-.3 .7-.2 .6-.3 .7-.2 .7-.2 .6-.1 .7-.2 .7-.1 .6-.1 1-.1 1 0 1 0 1 .2 .7 .1 .7 .2 .6 .2 .7 .3 .7 .5 .6 .7 .4 .5 .2 .8 0 1-.2 .7-.3 .6-.4 .6-.3 .5-.6 .6-.4 .4-.7 .6-.4 .3-.5 .4-.5 .3-.6 .3-.7 .4-.6 .3-.7 .2-.7 .3-.6 .2-.7 .1-.7 .2M112.4 100.2l-.8 0-.3-.7 .2-.7 .6-.5 .6 .1 .3 .8-.2 .6M84.4 106.5l-.7 .1-1 .1-1 0-1-.1-.6-.2-.7-.2-.7-.4-.6-.6-.3-.7 0-1 .3-.7 .3-.5 .4-.5 .6-.5 .7-.5 .5-.3 .7-.3 .7-.4 .7-.2 .7-.2 .7-.2 .6-.1 .7-.1 1-.1 1 .1 .7 .1 .6 .1 .7 .3 .6 .3 .7 .7 .3 .7-.1 1-.3 .6-.4 .7-.5 .5-.6 .5-.5 .3-.5 .4-.6 .3-.7 .3-.7 .3-.7 .2-.7 .2M84.7 104.6l-.6 .1-1 .1-.7-.1-.7-.3-.6-.6 .1-1 .5-.6 .5-.4 .5-.3 .7-.3 .7-.2 .6-.1 1 0 .7 .1 .6 .2 .4 .3 .3 .7-.2 .6-.4 .6-.6 .4-.6 .4-.8 .3M119.1 83.6l-.7-.1-.3-.4-.3-.6-.2-.7-.2-.6-.1-.7-.1-.7-.1-.6-.2-1 0-1-.1-1 0-1 0-1 0-1 0-1 0-1 0-1 .1-1 .1-1 .1-.9 0-.8 .2-1 .1-.7 .1-.6 .1-.7 .1-.7 .1-.6 .2-.7 .1-.7 .2-.6 .2-.7 .2-.6 .4-.7 .3-.5 .6-.5 .7 .2 .4 .6 .3 .8 .2 .7 .1 .7 .1 .6 .1 .7 .1 1 .1 1 .1 1 0 1 .1 1 0 1-.1 1 0 1 0 1-.1 1-.1 1-.1 1-.1 1 0 .7-.1 .6-.1 .7-.1 .7-.2 .6-.1 .7-.1 .7-.2 .6-.2 .7-.2 .7-.2 .6-.3 .7-.4 .7-.5 .4" fill="none" stroke="#505050" stroke-width="0.5"/><path d="M61.4,122.6 L65.4,117.7 L127.4,118.1 L133.4,122.6Z" fill="#999" fill-opacity="0.5"/><path d="M62.4,122.6 L64.4,120.1 L129.4,120.3 L133.4,122.6Z" fill="#1e1e1e" fill-opacity="0.9"/><rect x="58.8" y="94.5" width="4.0" height="28.2" fill="#999" fill-opacity="0.8"/></g>
<rect x="58.5" y="37.5" width="86" height="86" fill="none" stroke="#707070" stroke-width="1"/>
<line x1="102.50" y1="37.50" x2="102.50" y2="123.50" stroke="#3c3c3c" stroke-width="1"/>
<line x1="58.50" y1="86.50" x2="144.50" y2="86.50" stroke="#3c3c3c" stroke-width="1"/>
<rect x="59" y="38" width="35.5" height="32.3" fill="#fff"/>
<line x1="76.50" y1="38.40" x2="76.50" y2="69.30" stroke="#1e1e1e" stroke-width="1.05"/>
<line x1="58.50" y1="54.50" x2="93.50" y2="54.50" stroke="#262626" stroke-width="1.3"/>
<text x="66.90" y="48.50" style="font-family:'Liberation Serif',serif;font-size:9px;font-weight:normal" text-anchor="middle" fill="#1a1a1a" class="s">0.1</text>
<text x="85.85" y="48.50" style="font-family:'Liberation Serif',serif;font-size:9px;font-weight:normal" text-anchor="middle" fill="#1a1a1a" class="s">3.3</text>
<text x="66.90" y="63.80" style="font-family:'Liberation Serif',serif;font-size:9px;font-weight:normal" text-anchor="middle" fill="#1a1a1a" class="s">63</text>
<text x="85.85" y="63.80" style="font-family:'Liberation Serif',serif;font-size:9px;font-weight:normal" text-anchor="middle" fill="#1a1a1a" class="s">33</text>
<g><path d="M160.7 118.9l-1 .1-1-.1-.6-.1-.7-.3-.7-.3-.6-.4-.5-.3-.5-.5-.6-.5-.4-.6-.4-.4-.3-.5-.3-.5-.4-.7-.3-.6-.2-.7-.3-.7-.2-.6-.1-.7-.1-.7-.1-1 0-1 0-1 0-.9 .1-.7 .2-.7 .1-.7 .3-.6 .2-.7 .3-.7 .4-.6 .4-.6 .3-.5 .4-.4 .4-.5 .6-.6 .5-.4 .4-.4 .5-.3 .5-.3 .7-.4 .7-.3 .7-.2 .6-.2 .7-.2 .7-.2 .6-.2 .7-.1 .7-.2 .6-.2 .7-.2 .7-.3 .6-.2 .7-.2 .7-.2 .6-.3 .7-.2 .7-.2 .6-.2 .7-.1 .7-.2 .6-.1 .7-.2 .7-.1 .6-.1 .7-.1 .7-.1 1-.1 1-.1 1-.1 1 0 1-.1 1 0 1 0 1 0 1 0 1 0 1 0 1-.1 .6-.1 .7-.2 .7-.1 .6-.1 .7-.2 .7-.1 .6-.1 .7-.2 .7-.1 .6-.2 .7-.1 .7-.2 .6-.3 .7-.3 .5-.4 .5-.4 .4-.6 .4-.6 .3-.7 .3-.7 .2-.6 .1-.7 .2-.7 .1-.6 .2-.7 .1-.7 .1-.6 .2-.7 .1-.7 .2-.6 .1-.7 .1-.7 .2-.6 .1-.7 .1-.7 .1-.6 .1-.7 .1-1 0-1 .1-1 .1-1 0-1 .1-1 .1-1 .1-.7 .1-.6 .1-.7 .1-.7 .2-.6 .1-.7 .2-.7 .2-.6 .2-.7 .2-.6 .2-.7 .3-.7 .3-.7 .3-.6 .4-.7 .4-.7 .4-.5 .3-.5 .6-.6 .4-.4 .7-.6 .7-.4 .6-.3 .7-.2 .7 0 1 0 .6 .2 .7 .3 .7 .3 .4 .4 .6 .5 .5 .5 .5 .6 .3 .4 .3 .5 .4 .6 .3 .6 .3 .6 .3 .7 .3 .7 .2 .6 .2 .7 .3 .7 .1 .6 .2 .7 .1 .7 .2 .6 .1 .7 .1 .7 .1 .6 .1 1 .1 1 .1 1 0 1 0 1 .1 1 0 1 0 1 0 1 0 1 .1 1 .1 1 .1 1 .1 1 .1 1 .1 .7 .1 .7 .1 .6 .1 .7 .1 .7 .1 .6 .1 .7 .1 .7 .1 .6 .1 .7 .1 .7 .1 .6 .1 .9 .1 .8 0 1 .1 1 0 1 0 1 0 1-.1 1-.1 1-.1 .7 0 .6-.2 .7-.1 .7-.2 .6-.1 .7-.2 .7-.2 .6-.2 .7-.3 .7-.2 .6-.3 .7-.3 .6-.3 .7-.3 .7-.4 .6-.3 .6-.3 .5-.4 .5-.3 .5-.3 .5-.4 .4-.3 .4-.5 .7-.5 .5-.5 .5-.5 .5-.6 .5-.4 .3-.7 .5-.6 .5-.7 .3-.6 .4-.7 .3-.7 .3-.7 .2-.6 .1-.7 .2-1 .1-1-.1-1-.1-.7-.1-.6-.3-.7-.2-.7-.4-.6-.4-.5-.3-.4-.3-.5-.4-.6-.6-.7-.7-.7-.6-.4-.4-.4-.3-.5-.3-.7-.3-.6-.1-1 0-.7 .1-.7 .1-.6 .2-.7 .2-.7 .2-.6 .3-.7 .2-.7 .3-.6 .2-.6 .2-.8 .2-.6 .3-.7 .2-.7 .2-.6 .1-.7 .2-.7 .2-.6 .1-.7 .2-.7 .1-.6 .1-.7 .1-.7 .1-1 .1-1 .1-1 .1-1 0-1 0-1 0-1 0-1 0-1-.1-1 .1-1 .1-.6 .1-.7 .2-.7 .2-.6 .3-.7 .3-.7 .2-.6 .3-.7 .2-.7 .1z" fill="#ececec" stroke="none"/><clipPath id="cl01"><rect x="151.4" y="86.5" width="85.8" height="36.6"/></clipPath><path d="M160.1 114.9l-1-.1-.7-.2-.7-.3-.6-.5-.7-.6-.3-.4-.4-.5-.3-.7-.3-.8-.2-.6-.2-.7-.1-.7 0-1 0-1 .1-.6 .2-.7 .2-.7 .2-.6 .4-.7 .4-.6 .3-.4 .6-.7 .4-.3 .7-.5 .6-.4 .7-.2 .6-.2 .7-.2 .7-.2 .7-.1 .6-.2 .7-.2 .7-.2 .6-.3 .7-.2 .7-.3 .6-.3 .7-.3 .7-.3 .5-.2 .8-.3 .7-.3 .6-.2 .7-.2 .7-.1 .6-.2 .7-.1 .7-.2 .6-.1 .7-.1 1-.1 1-.1 1 0 1 0 1 0 1 0 1 0 1 .1 1 0 1-.1 1-.1 .7-.1 .6-.2 .7-.1 .6-.2 .7-.2 .7-.2 .7-.1 .6-.2 .7-.1 .7-.1 .6-.1 .7-.1 1-.1 .7-.1 .6-.2 .7-.1 .7-.3 .6-.4 .6-.4 .4-.4 .5-.6 .4-.6 .4-.7 .2-.7 .3-.6 .2-.7 .1-.7 .2-.6 .1-.7 .1-.7 .1-.6 .1-.7 .1-.7 .2-.6 .1-.7 .2-.7 .1-.6 .2-.7 .2-.7 .2-.6 .1-.7 .2-.7 .1-.6 .2-.7 .1-.7 .1-.6 .1-1 .1-1 .1-1 .1-1 .1-1 .1-.7 .1-.7 .1-.6 .2-.7 .2-.7 .2-.6 .2-.6 .3-.8 .3-.6 .4-.6 .3-.5 .6-.6 .4-.4 .7-.4 .6-.3 1 0 .7 .2 .7 .4 .6 .5 .4 .4 .3 .5 .3 .5 .4 .6 .3 .7 .2 .6 .3 .7 .1 .7 .2 .6 .2 .7 .1 .7 .1 .6 .1 1 .1 1 0 1 0 1 .1 1 0 1 0 1 .1 1 .1 1 .1 1 .1 .7 .1 .7 .1 .6 .1 .7 .1 .7 .1 1 .1 1 .1 1 .1 1 .1 1 .1 1 .1 .9 .1 .7 .1 1 .1 1 .1 1 .1 1 .1 1 0 1-.1 1 0 1-.1 1-.1 .7-.1 .7-.2 .6-.1 .7-.2 .7-.2 .6-.2 .7-.3 .7-.3 .6-.3 .7-.3 .7-.4 .6-.4 .7-.3 .5-.3 .5-.4 .4-.5 .6-.5 .6-.4 .4-.6 .5-.5 .5-.5 .3-.5 .4-.5 .2-.6 .4-.7 .3-.7 .2-.6 .1-.7 .1-1 .1-1-.2-.7-.1-.6-.3-.7-.3-.7-.4-.5-.5-.5-.4-.6-.6-.4-.4-.5-.6-.5-.4-.6-.6-.4-.3-.6-.3-.7-.2-1 0-1 .1-.7 .2-.6 .1-.7 .2-.7 .2-.6 .2-.7 .2-.7 .2-.6 .3-.7 .2-.7 .2-.6 .3-.7 .2-.7 .3-.6 .2-.7 .3-.7 .2-.6 .2-.7 .3-.7 .1-.6 .2-.7 .2-.7 .1-.6 .2-.7 .1-.7 .1-.6 .1-1 .1-1 .1-1 0-1 0-1 0-1-.1-1-.1-1-.1-1-.1-1-.1-1 0-.7 .2-.7 .1-.6 .3-.7 .3-.7 .3-.6 .3-.7 .2-.7 .2z" fill="#d8d8d8" stroke="none" clip-path="url(#cl01)"/><path d="M206.7 70.8h.6v.6h-.6zM199.2 71.0h.6v.6h-.6zM215.0 61.6h.6v.6h-.6zM215.9 54.9h.6v.6h-.6zM209.5 59.6h.6v.6h-.6zM213.6 68.4h.6v.6h-.6zM221.7 42.3h.6v.6h-.6zM217.8 64.3h.6v.6h-.6zM215.6 57.7h.6v.6h-.6zM215.5 68.4h.6v.6h-.6zM206.2 59.7h.6v.6h-.6zM217.2 70.2h.6v.6h-.6zM201.5 66.8h.6v.6h-.6zM209.4 85.1h.6v.6h-.6zM208.8 65.4h.6v.6h-.6zM201.0 66.6h.6v.6h-.6zM210.7 69.8h.6v.6h-.6zM221.3 47.7h.6v.6h-.6zM209.4 56.6h.6v.6h-.6zM204.2 86.7h.6v.6h-.6zM210.9 75.7h.6v.6h-.6zM216.5 70.5h.6v.6h-.6zM212.6 82.5h.6v.6h-.6zM211.4 67.3h.6v.6h-.6zM202.9 66.5h.6v.6h-.6zM214.4 65.9h.6v.6h-.6zM214.3 48.2h.6v.6h-.6zM219.4 80.8h.6v.6h-.6zM220.3 67.2h.6v.6h-.6zM215.5 68.4h.6v.6h-.6zM201.5 65.5h.6v.6h-.6zM202.8 61.9h.6v.6h-.6zM204.8 42.4h.6v.6h-.6zM213.2 71.3h.6v.6h-.6zM206.7 95.7h.6v.6h-.6zM219.3 81.4h.6v.6h-.6zM212.9 66.0h.6v.6h-.6zM213.6 58.4h.6v.6h-.6zM215.9 69.8h.6v.6h-.6zM213.4 74.0h.6v.6h-.6zM202.9 68.1h.6v.6h-.6zM226.1 79.5h.6v.6h-.6zM220.2 58.1h.6v.6h-.6zM220.5 82.3h.6v.6h-.6zM206.9 71.4h.6v.6h-.6zM200.3 62.9h.6v.6h-.6zM202.4 66.1h.6v.6h-.6zM205.1 73.7h.6v.6h-.6zM216.7 78.6h.6v.6h-.6zM216.8 70.4h.6v.6h-.6zM220.2 76.5h.6v.6h-.6zM224.3 98.3h.6v.6h-.6zM214.5 49.8h.6v.6h-.6zM213.5 45.4h.6v.6h-.6zM209.2 70.6h.6v.6h-.6zM209.4 57.9h.6v.6h-.6zM204.5 70.9h.6v.6h-.6zM214.5 50.2h.6v.6h-.6zM213.3 71.1h.6v.6h-.6zM209.0 85.2h.6v.6h-.6zM206.5 82.8h.6v.6h-.6zM214.1 56.3h.6v.6h-.6zM219.2 65.8h.6v.6h-.6zM211.9 80.1h.6v.6h-.6zM213.1 91.4h.6v.6h-.6zM208.1 58.1h.6v.6h-.6zM209.9 59.3h.6v.6h-.6zM209.5 82.9h.6v.6h-.6zM209.7 65.2h.6v.6h-.6zM207.8 57.2h.6v.6h-.6zM213.8 82.1h.6v.6h-.6zM219.2 49.3h.6v.6h-.6zM205.7 61.3h.6v.6h-.6zM219.8 81.1h.6v.6h-.6zM209.0 62.0h.6v.6h-.6zM209.2 78.7h.6v.6h-.6zM198.5 54.8h.6v.6h-.6zM196.9 78.8h.6v.6h-.6zM215.8 75.2h.6v.6h-.6zM204.9 88.9h.6v.6h-.6zM216.2 66.5h.6v.6h-.6zM211.7 65.3h.6v.6h-.6zM212.9 68.4h.6v.6h-.6zM219.4 82.1h.6v.6h-.6zM211.0 60.6h.6v.6h-.6zM191.8 67.8h.6v.6h-.6zM201.0 92.9h.6v.6h-.6zM217.2 78.9h.6v.6h-.6zM223.4 78.2h.6v.6h-.6zM210.8 63.2h.6v.6h-.6zM207.2 79.8h.6v.6h-.6zM203.0 55.5h.6v.6h-.6zM214.7 51.6h.6v.6h-.6zM200.6 58.2h.6v.6h-.6zM203.9 86.5h.6v.6h-.6zM212.2 71.5h.6v.6h-.6zM212.0 58.3h.6v.6h-.6zM209.8 65.2h.6v.6h-.6zM217.8 74.9h.6v.6h-.6zM203.9 83.7h.6v.6h-.6zM204.3 49.9h.6v.6h-.6zM208.9 85.5h.6v.6h-.6zM211.8 80.7h.6v.6h-.6zM209.4 61.1h.6v.6h-.6zM223.4 64.7h.6v.6h-.6zM207.8 75.4h.6v.6h-.6zM215.2 66.1h.6v.6h-.6zM207.9 71.1h.6v.6h-.6zM213.3 56.8h.6v.6h-.6zM208.7 47.6h.6v.6h-.6zM209.0 98.6h.6v.6h-.6zM221.1 71.5h.6v.6h-.6zM209.4 72.2h.6v.6h-.6zM221.7 75.6h.6v.6h-.6zM207.0 85.5h.6v.6h-.6zM208.6 80.6h.6v.6h-.6zM218.1 57.2h.6v.6h-.6zM196.5 68.1h.6v.6h-.6zM201.4 70.3h.6v.6h-.6zM211.5 78.6h.6v.6h-.6zM214.3 62.3h.6v.6h-.6zM214.8 74.1h.6v.6h-.6zM209.4 72.2h.6v.6h-.6zM202.7 86.1h.6v.6h-.6zM214.1 70.5h.6v.6h-.6zM204.6 73.6h.6v.6h-.6zM211.9 77.6h.6v.6h-.6zM222.3 69.4h.6v.6h-.6zM212.1 59.6h.6v.6h-.6zM204.2 77.5h.6v.6h-.6zM208.8 73.9h.6v.6h-.6zM209.2 59.4h.6v.6h-.6zM213.5 53.2h.6v.6h-.6zM216.9 76.2h.6v.6h-.6zM205.7 59.1h.6v.6h-.6zM207.4 77.3h.6v.6h-.6zM217.6 87.7h.6v.6h-.6zM215.9 72.0h.6v.6h-.6zM219.6 72.2h.6v.6h-.6zM202.5 71.0h.6v.6h-.6zM205.6 86.1h.6v.6h-.6zM217.5 86.3h.6v.6h-.6zM205.6 70.5h.6v.6h-.6zM213.4 78.4h.6v.6h-.6zM211.0 70.0h.6v.6h-.6zM206.8 63.5h.6v.6h-.6zM220.3 78.7h.6v.6h-.6zM211.3 68.4h.6v.6h-.6zM208.3 59.3h.6v.6h-.6zM210.4 51.5h.6v.6h-.6zM212.9 81.4h.6v.6h-.6zM201.8 57.9h.6v.6h-.6zM206.1 56.2h.6v.6h-.6zM203.6 66.3h.6v.6h-.6zM198.5 78.4h.6v.6h-.6zM217.3 48.8h.6v.6h-.6zM220.1 77.1h.6v.6h-.6zM218.6 74.2h.6v.6h-.6zM200.6 54.9h.6v.6h-.6zM213.8 55.8h.6v.6h-.6zM215.5 67.4h.6v.6h-.6zM207.9 92.7h.6v.6h-.6zM216.4 66.5h.6v.6h-.6zM204.6 82.5h.6v.6h-.6zM204.8 80.8h.6v.6h-.6zM206.3 50.5h.6v.6h-.6zM207.0 69.5h.6v.6h-.6zM205.2 81.3h.6v.6h-.6zM217.2 63.5h.6v.6h-.6zM204.8 84.2h.6v.6h-.6zM208.5 56.6h.6v.6h-.6zM207.5 51.9h.6v.6h-.6zM224.8 64.2h.6v.6h-.6zM205.9 77.4h.6v.6h-.6zM214.2 64.9h.6v.6h-.6zM222.4 80.6h.6v.6h-.6zM204.2 51.0h.6v.6h-.6zM206.3 62.6h.6v.6h-.6zM209.4 86.0h.6v.6h-.6zM203.3 40.1h.6v.6h-.6zM218.8 73.3h.6v.6h-.6zM208.5 58.9h.6v.6h-.6zM217.8 60.6h.6v.6h-.6zM214.6 65.6h.6v.6h-.6zM211.5 51.9h.6v.6h-.6zM217.2 80.7h.6v.6h-.6zM209.5 76.6h.6v.6h-.6zM217.8 84.2h.6v.6h-.6zM203.4 71.5h.6v.6h-.6zM206.9 58.2h.6v.6h-.6zM218.7 77.3h.6v.6h-.6zM198.7 53.5h.6v.6h-.6zM214.3 58.5h.6v.6h-.6zM208.9 94.8h.6v.6h-.6zM208.1 82.5h.6v.6h-.6zM207.2 74.9h.6v.6h-.6zM219.1 87.4h.6v.6h-.6zM202.2 66.1h.6v.6h-.6zM216.4 76.6h.6v.6h-.6zM214.3 59.8h.6v.6h-.6zM208.8 65.6h.6v.6h-.6zM210.9 70.7h.6v.6h-.6zM215.6 87.6h.6v.6h-.6zM207.8 61.2h.6v.6h-.6zM202.3 82.3h.6v.6h-.6zM213.1 69.5h.6v.6h-.6zM206.3 48.5h.6v.6h-.6zM208.9 46.4h.6v.6h-.6zM211.7 61.2h.6v.6h-.6zM215.8 82.5h.6v.6h-.6zM222.3 72.7h.6v.6h-.6zM213.5 91.5h.6v.6h-.6zM212.1 71.8h.6v.6h-.6zM216.3 86.7h.6v.6h-.6zM213.1 72.7h.6v.6h-.6zM201.3 58.7h.6v.6h-.6zM207.8 78.2h.6v.6h-.6zM204.0 60.7h.6v.6h-.6zM215.6 52.7h.6v.6h-.6zM219.0 60.6h.6v.6h-.6zM213.5 65.0h.6v.6h-.6zM205.2 72.7h.6v.6h-.6zM216.2 79.9h.6v.6h-.6zM205.6 77.0h.6v.6h-.6zM212.9 94.8h.6v.6h-.6zM204.2 46.1h.6v.6h-.6zM203.1 67.5h.6v.6h-.6zM203.0 100.8h.6v.6h-.6zM211.5 65.9h.6v.6h-.6zM207.4 54.5h.6v.6h-.6zM214.0 60.6h.6v.6h-.6zM203.6 58.0h.6v.6h-.6zM214.3 63.8h.6v.6h-.6zM207.7 90.6h.6v.6h-.6zM218.9 52.9h.6v.6h-.6zM217.5 61.4h.6v.6h-.6zM210.1 86.8h.6v.6h-.6zM212.0 73.3h.6v.6h-.6zM212.9 73.7h.6v.6h-.6zM214.2 65.2h.6v.6h-.6zM209.8 81.1h.6v.6h-.6zM218.0 57.5h.6v.6h-.6zM208.3 81.3h.6v.6h-.6zM199.8 71.3h.6v.6h-.6zM212.9 67.5h.6v.6h-.6zM210.7 63.3h.6v.6h-.6zM216.4 81.2h.6v.6h-.6zM215.0 73.9h.6v.6h-.6zM212.2 65.1h.6v.6h-.6zM218.1 90.0h.6v.6h-.6zM212.3 109.9h.6v.6h-.6zM224.0 105.4h.6v.6h-.6zM224.5 106.3h.6v.6h-.6zM223.2 95.9h.6v.6h-.6zM219.0 110.4h.6v.6h-.6zM220.1 110.2h.6v.6h-.6zM210.7 101.4h.6v.6h-.6zM215.7 108.9h.6v.6h-.6zM216.3 95.5h.6v.6h-.6zM216.9 102.9h.6v.6h-.6zM220.7 85.7h.6v.6h-.6zM215.4 101.1h.6v.6h-.6zM223.6 110.1h.6v.6h-.6zM216.0 119.2h.6v.6h-.6zM214.3 109.0h.6v.6h-.6zM207.4 106.0h.6v.6h-.6zM210.7 105.9h.6v.6h-.6zM216.4 100.3h.6v.6h-.6zM218.9 110.5h.6v.6h-.6zM208.6 97.4h.6v.6h-.6zM217.4 104.4h.6v.6h-.6zM215.0 108.5h.6v.6h-.6zM217.8 99.7h.6v.6h-.6zM224.6 113.6h.6v.6h-.6zM213.8 107.9h.6v.6h-.6zM209.0 101.7h.6v.6h-.6zM215.6 94.0h.6v.6h-.6zM213.1 102.6h.6v.6h-.6zM217.2 100.1h.6v.6h-.6zM221.0 104.5h.6v.6h-.6zM221.9 107.5h.6v.6h-.6zM219.1 106.6h.6v.6h-.6zM224.5 95.6h.6v.6h-.6zM219.3 108.7h.6v.6h-.6zM222.6 107.7h.6v.6h-.6zM219.2 90.8h.6v.6h-.6zM218.9 106.9h.6v.6h-.6zM214.9 103.2h.6v.6h-.6zM217.5 107.3h.6v.6h-.6zM214.6 94.0h.6v.6h-.6zM216.0 100.9h.6v.6h-.6zM217.8 101.6h.6v.6h-.6zM223.2 92.6h.6v.6h-.6zM216.2 108.4h.6v.6h-.6zM220.6 101.0h.6v.6h-.6zM211.3 107.2h.6v.6h-.6zM216.0 94.7h.6v.6h-.6zM223.8 91.1h.6v.6h-.6zM219.2 93.3h.6v.6h-.6zM208.4 84.0h.6v.6h-.6zM217.3 96.7h.6v.6h-.6zM216.2 107.3h.6v.6h-.6zM211.5 116.9h.6v.6h-.6zM208.7 114.4h.6v.6h-.6zM212.7 115.7h.6v.6h-.6zM212.1 115.7h.6v.6h-.6zM220.4 105.7h.6v.6h-.6zM220.7 112.6h.6v.6h-.6zM222.9 109.9h.6v.6h-.6zM206.6 80.5h.6v.6h-.6zM216.1 105.5h.6v.6h-.6zM219.2 104.6h.6v.6h-.6zM214.1 107.5h.6v.6h-.6zM214.3 99.3h.6v.6h-.6zM213.5 97.3h.6v.6h-.6zM218.3 99.3h.6v.6h-.6zM217.2 110.7h.6v.6h-.6zM223.6 108.2h.6v.6h-.6zM219.4 117.5h.6v.6h-.6zM218.5 92.4h.6v.6h-.6zM217.4 114.3h.6v.6h-.6zM213.5 121.4h.6v.6h-.6zM218.1 95.6h.6v.6h-.6zM221.6 104.6h.6v.6h-.6zM219.8 89.2h.6v.6h-.6zM212.1 78.2h.6v.6h-.6zM226.0 100.2h.6v.6h-.6zM225.7 104.7h.6v.6h-.6zM223.9 80.4h.6v.6h-.6zM222.2 84.4h.6v.6h-.6zM194.3 84.6h.6v.6h-.6zM224.5 107.0h.6v.6h-.6zM199.9 118.3h.6v.6h-.6zM214.4 116.0h.6v.6h-.6zM222.7 102.4h.6v.6h-.6zM215.4 55.4h.6v.6h-.6zM177.0 88.5h.6v.6h-.6zM184.6 90.6h.6v.6h-.6zM216.2 113.5h.6v.6h-.6zM187.4 118.0h.6v.6h-.6zM176.5 91.2h.6v.6h-.6zM211.5 117.7h.6v.6h-.6zM169.4 90.8h.6v.6h-.6zM193.8 79.3h.6v.6h-.6zM216.8 56.4h.6v.6h-.6zM196.9 83.8h.6v.6h-.6zM180.3 91.0h.6v.6h-.6zM188.6 116.1h.6v.6h-.6zM199.6 118.7h.6v.6h-.6zM189.6 89.2h.6v.6h-.6zM221.6 84.5h.6v.6h-.6zM162.2 93.5h.6v.6h-.6zM176.6 88.1h.6v.6h-.6zM197.9 78.6h.6v.6h-.6zM183.0 116.2h.6v.6h-.6zM227.2 79.6h.6v.6h-.6zM219.5 114.9h.6v.6h-.6zM218.0 108.9h.6v.6h-.6zM196.9 85.1h.6v.6h-.6zM179.3 117.5h.6v.6h-.6zM222.2 85.2h.6v.6h-.6zM199.4 118.2h.6v.6h-.6zM217.0 55.7h.6v.6h-.6zM178.8 91.1h.6v.6h-.6zM196.1 72.3h.6v.6h-.6zM160.3 91.5h.6v.6h-.6zM206.5 52.3h.6v.6h-.6zM202.2 54.9h.6v.6h-.6zM159.4 94.0h.6v.6h-.6zM152.7 114.7h.6v.6h-.6zM199.1 68.1h.6v.6h-.6zM162.3 95.3h.6v.6h-.6zM217.0 114.5h.6v.6h-.6zM202.7 118.0h.6v.6h-.6zM187.0 89.9h.6v.6h-.6zM203.3 121.6h.6v.6h-.6zM183.3 118.0h.6v.6h-.6zM221.7 87.0h.6v.6h-.6zM229.5 68.3h.6v.6h-.6zM222.0 73.5h.6v.6h-.6zM196.3 119.9h.6v.6h-.6zM214.8 51.8h.6v.6h-.6zM222.1 89.8h.6v.6h-.6zM201.2 118.0h.6v.6h-.6zM199.2 75.8h.6v.6h-.6zM219.7 60.4h.6v.6h-.6zM219.9 78.6h.6v.6h-.6zM193.5 114.6h.6v.6h-.6zM204.3 55.2h.6v.6h-.6zM218.6 64.9h.6v.6h-.6zM154.3 98.3h.6v.6h-.6zM163.2 94.2h.6v.6h-.6zM188.9 115.2h.6v.6h-.6zM199.5 77.0h.6v.6h-.6zM158.6 94.0h.6v.6h-.6zM211.4 118.1h.6v.6h-.6zM198.7 121.4h.6v.6h-.6zM179.2 116.7h.6v.6h-.6zM214.0 118.9h.6v.6h-.6zM197.9 73.9h.6v.6h-.6zM181.0 91.7h.6v.6h-.6zM157.2 121.8h.6v.6h-.6zM152.2 101.9h.6v.6h-.6zM195.5 64.9h.6v.6h-.6zM183.8 88.8h.6v.6h-.6zM219.4 71.5h.6v.6h-.6zM153.5 117.9h.6v.6h-.6zM220.6 65.5h.6v.6h-.6zM184.3 90.1h.6v.6h-.6zM183.8 91.7h.6v.6h-.6zM173.5 91.9h.6v.6h-.6zM196.2 118.4h.6v.6h-.6zM210.3 51.4h.6v.6h-.6zM224.4 70.6h.6v.6h-.6zM198.8 73.3h.6v.6h-.6zM180.6 90.3h.6v.6h-.6zM185.9 120.0h.6v.6h-.6zM183.6 115.6h.6v.6h-.6zM231.0 90.3h.6v.6h-.6zM230.2 85.9h.6v.6h-.6zM210.6 117.6h.6v.6h-.6zM220.2 108.0h.6v.6h-.6zM222.6 114.1h.6v.6h-.6zM214.3 118.9h.6v.6h-.6zM208.9 51.8h.6v.6h-.6zM217.7 117.5h.6v.6h-.6zM211.1 122.1h.6v.6h-.6zM160.7 92.3h.6v.6h-.6zM204.6 53.9h.6v.6h-.6zM217.0 56.1h.6v.6h-.6zM154.2 120.1h.6v.6h-.6zM224.1 70.1h.6v.6h-.6zM186.3 116.7h.6v.6h-.6zM219.7 116.0h.6v.6h-.6zM185.8 88.9h.6v.6h-.6zM220.3 76.6h.6v.6h-.6zM196.3 59.3h.6v.6h-.6zM220.7 82.5h.6v.6h-.6zM222.0 105.6h.6v.6h-.6zM170.3 118.4h.6v.6h-.6zM172.4 91.5h.6v.6h-.6zM217.1 59.5h.6v.6h-.6zM201.0 117.9h.6v.6h-.6zM221.6 92.1h.6v.6h-.6zM155.9 90.6h.6v.6h-.6zM188.0 115.7h.6v.6h-.6zM214.9 50.4h.6v.6h-.6zM226.3 70.0h.6v.6h-.6zM207.1 49.9h.6v.6h-.6zM199.8 80.1h.6v.6h-.6zM189.6 90.9h.6v.6h-.6zM223.8 71.0h.6v.6h-.6zM217.5 49.6h.6v.6h-.6zM213.8 54.3h.6v.6h-.6zM194.6 87.2h.6v.6h-.6zM221.3 90.5h.6v.6h-.6zM196.1 69.7h.6v.6h-.6zM186.2 91.5h.6v.6h-.6zM221.0 105.6h.6v.6h-.6zM189.1 87.1h.6v.6h-.6zM221.6 93.3h.6v.6h-.6zM194.3 71.6h.6v.6h-.6zM166.6 88.0h.6v.6h-.6zM222.5 87.9h.6v.6h-.6zM192.5 112.9h.6v.6h-.6zM212.4 116.8h.6v.6h-.6zM222.7 85.3h.6v.6h-.6zM218.7 112.3h.6v.6h-.6zM198.8 79.5h.6v.6h-.6zM160.6 119.3h.6v.6h-.6zM218.0 60.7h.6v.6h-.6zM154.0 99.5h.6v.6h-.6zM221.2 77.6h.6v.6h-.6zM175.9 85.5h.6v.6h-.6zM226.1 88.1h.6v.6h-.6zM219.5 71.7h.6v.6h-.6zM161.7 93.4h.6v.6h-.6zM164.6 119.4h.6v.6h-.6zM156.3 121.7h.6v.6h-.6zM202.8 57.3h.6v.6h-.6zM203.3 54.6h.6v.6h-.6zM188.6 88.3h.6v.6h-.6zM177.8 120.7h.6v.6h-.6zM214.7 115.4h.6v.6h-.6zM171.0 87.1h.6v.6h-.6zM209.6 120.9h.6v.6h-.6zM199.0 119.2h.6v.6h-.6zM176.9 88.9h.6v.6h-.6zM172.0 120.8h.6v.6h-.6zM170.9 118.1h.6v.6h-.6zM196.1 114.4h.6v.6h-.6zM212.8 116.7h.6v.6h-.6zM160.5 120.2h.6v.6h-.6zM184.3 115.2h.6v.6h-.6zM216.5 112.0h.6v.6h-.6zM184.5 90.6h.6v.6h-.6zM172.0 121.4h.6v.6h-.6zM196.3 81.7h.6v.6h-.6zM206.4 119.1h.6v.6h-.6zM198.5 78.3h.6v.6h-.6zM199.8 77.5h.6v.6h-.6zM223.2 76.7h.6v.6h-.6zM164.3 119.2h.6v.6h-.6zM194.3 115.3h.6v.6h-.6zM222.2 79.9h.6v.6h-.6zM219.1 67.0h.6v.6h-.6zM214.6 114.2h.6v.6h-.6zM218.8 63.5h.6v.6h-.6zM200.5 120.0h.6v.6h-.6zM200.9 60.2h.6v.6h-.6zM217.6 112.1h.6v.6h-.6zM200.9 75.2h.6v.6h-.6zM222.0 107.5h.6v.6h-.6zM196.3 120.1h.6v.6h-.6zM193.5 118.0h.6v.6h-.6zM224.6 101.7h.6v.6h-.6zM173.3 91.6h.6v.6h-.6zM189.5 89.7h.6v.6h-.6zM219.5 114.4h.6v.6h-.6zM194.6 116.4h.6v.6h-.6zM218.5 109.6h.6v.6h-.6zM187.1 91.3h.6v.6h-.6zM186.1 115.6h.6v.6h-.6zM196.8 86.8h.6v.6h-.6zM224.1 80.1h.6v.6h-.6zM210.7 51.8h.6v.6h-.6zM201.1 72.6h.6v.6h-.6zM199.4 121.5h.6v.6h-.6zM226.5 105.3h.6v.6h-.6zM181.3 88.4h.6v.6h-.6zM211.4 120.6h.6v.6h-.6zM209.0 53.0h.6v.6h-.6zM196.5 85.6h.6v.6h-.6zM195.5 89.4h.6v.6h-.6zM219.6 78.6h.6v.6h-.6zM169.0 117.9h.6v.6h-.6zM199.5 81.0h.6v.6h-.6zM181.7 91.2h.6v.6h-.6zM190.6 121.3h.6v.6h-.6zM159.3 91.7h.6v.6h-.6zM220.9 77.6h.6v.6h-.6zM221.6 99.3h.6v.6h-.6zM209.8 118.6h.6v.6h-.6z" fill="#8c8c8c"/><path d="M160.7 118.9l-1 .1-1-.1-.6-.1-.7-.3-.7-.3-.6-.4-.5-.3-.5-.5-.6-.5-.4-.6-.4-.4-.3-.5-.3-.5-.4-.7-.3-.6-.2-.7-.3-.7-.2-.6-.1-.7-.1-.7-.1-1 0-1 0-1 0-.9 .1-.7 .2-.7 .1-.7 .3-.6 .2-.7 .3-.7 .4-.6 .4-.6 .3-.5 .4-.4 .4-.5 .6-.6 .5-.4 .4-.4 .5-.3 .5-.3 .7-.4 .7-.3 .7-.2 .6-.2 .7-.2 .7-.2 .6-.2 .7-.1 .7-.2 .6-.2 .7-.2 .7-.3 .6-.2 .7-.2 .7-.2 .6-.3 .7-.2 .7-.2 .6-.2 .7-.1 .7-.2 .6-.1 .7-.2 .7-.1 .6-.1 .7-.1 .7-.1 1-.1 1-.1 1-.1 1 0 1-.1 1 0 1 0 1 0 1 0 1 0 1 0 1-.1 .6-.1 .7-.2 .7-.1 .6-.1 .7-.2 .7-.1 .6-.1 .7-.2 .7-.1 .6-.2 .7-.1 .7-.2 .6-.3 .7-.3 .5-.4 .5-.4 .4-.6 .4-.6 .3-.7 .3-.7 .2-.6 .1-.7 .2-.7 .1-.6 .2-.7 .1-.7 .1-.6 .2-.7 .1-.7 .2-.6 .1-.7 .1-.7 .2-.6 .1-.7 .1-.7 .1-.6 .1-.7 .1-1 0-1 .1-1 .1-1 0-1 .1-1 .1-1 .1-.7 .1-.6 .1-.7 .1-.7 .2-.6 .1-.7 .2-.7 .2-.6 .2-.7 .2-.6 .2-.7 .3-.7 .3-.7 .3-.6 .4-.7 .4-.7 .4-.5 .3-.5 .6-.6 .4-.4 .7-.6 .7-.4 .6-.3 .7-.2 .7 0 1 0 .6 .2 .7 .3 .7 .3 .4 .4 .6 .5 .5 .5 .5 .6 .3 .4 .3 .5 .4 .6 .3 .6 .3 .6 .3 .7 .3 .7 .2 .6 .2 .7 .3 .7 .1 .6 .2 .7 .1 .7 .2 .6 .1 .7 .1 .7 .1 .6 .1 1 .1 1 .1 1 0 1 0 1 .1 1 0 1 0 1 0 1 0 1 .1 1 .1 1 .1 1 .1 1 .1 1 .1 .7 .1 .7 .1 .6 .1 .7 .1 .7 .1 .6 .1 .7 .1 .7 .1 .6 .1 .7 .1 .7 .1 .6 .1 .9 .1 .8 0 1 .1 1 0 1 0 1 0 1-.1 1-.1 1-.1 .7 0 .6-.2 .7-.1 .7-.2 .6-.1 .7-.2 .7-.2 .6-.2 .7-.3 .7-.2 .6-.3 .7-.3 .6-.3 .7-.3 .7-.4 .6-.3 .6-.3 .5-.4 .5-.3 .5-.3 .5-.4 .4-.3 .4-.5 .7-.5 .5-.5 .5-.5 .5-.6 .5-.4 .3-.7 .5-.6 .5-.7 .3-.6 .4-.7 .3-.7 .3-.7 .2-.6 .1-.7 .2-1 .1-1-.1-1-.1-.7-.1-.6-.3-.7-.2-.7-.4-.6-.4-.5-.3-.4-.3-.5-.4-.6-.6-.7-.7-.7-.6-.4-.4-.4-.3-.5-.3-.7-.3-.6-.1-1 0-.7 .1-.7 .1-.6 .2-.7 .2-.7 .2-.6 .3-.7 .2-.7 .3-.6 .2-.6 .2-.8 .2-.6 .3-.7 .2-.7 .2-.6 .1-.7 .2-.7 .2-.6 .1-.7 .2-.7 .1-.6 .1-.7 .1-.7 .1-1 .1-1 .1-1 .1-1 0-1 0-1 0-1 0-1 0-1-.1-1 .1-1 .1-.6 .1-.7 .2-.7 .2-.6 .3-.7 .3-.7 .2-.6 .3-.7 .2-.7 .1M161.1 116.9l-.7 .1-1 0-.7-.1-.6-.2-.6-.2-.6-.3-.5-.4-.7-.6-.4-.4-.5-.6-.4-.7-.3-.6-.4-.7-.2-.7-.2-.7-.2-.6-.1-.7-.1-1 0-1 .1-1 0-.7 .2-.6 .2-.7 .2-.7 .3-.6 .3-.7 .4-.7 .5-.6 .3-.4 .6-.6 .4-.4 .7-.5 .6-.4 .7-.3 .7-.3 .6-.2 .7-.2 .7-.2 .6-.2 .7-.1 .7-.2 .6-.2 .7-.2 .7-.3 .6-.2 .7-.3 .7-.2 .6-.3 .7-.2 .7-.2 .6-.2 .7-.2 .7-.2 .6-.2 .7-.1 .7-.2 .6-.1 .7-.1 .7-.1 1-.1 .8-.1 .8-.1 1 0 1 0 1 0 1 0 1 0 1 0 1 0 1-.1 1-.1 .7-.1 .7-.1 .6-.2 .7-.1 .7-.2 .6-.1 .7-.2 .7-.1 .6-.1 .7-.2 .7-.1 .6-.1 .7-.1 .7-.2 .6-.2 .7-.3 .7-.5 .5-.5 .5-.6 .3-.5 .3-.7 .3-.8 .2-.7 .2-.6 .2-.7 .1-.7 .1-.7 .1-.6 .2-.7 .1-.7 .1-.6 .2-.7 .1-.7 .2-.6 .1-.7 .2-.7 .1-.6 .2-.7 .1-.7 .1-.6 .1-.7 .1-1 .1-1 0-1 .1-1 .1-.7 .1-1 .1-1 .1-.6 .1-.7 .1-.7 .2-.6 .1-.7 .2-.7 .2-.6 .2-.7 .3-.7 .3-.6 .3-.6 .3-.6 .4-.6 .3-.4 .4-.5 .6-.6 .5-.4 .5-.3 .7-.4 .6-.1 1-.1 .7 .2 .7 .3 .6 .4 .5 .3 .5 .6 .4 .4 .5 .7 .4 .7 .4 .6 .3 .7 .3 .7 .2 .6 .2 .6 .2 .8 .2 .6 .1 .7 .2 .7 .1 .6 .1 .7 .1 .9 .1 .8 0 1 .1 1 0 1 0 1 .1 1 0 1 0 1 0 .7 .1 .9 .1 1 .1 1 .1 .7 .1 1 .1 .7 .1 1 .1 .6 .1 .7 .1 1 .1 1 .1 .7 .1 .6 .1 .7 .1 1 .1 .7 .1 1 .1 1 .1 1 0 1 .1 1 0 1-.1 1-.1 1-.1 .9-.1 .7-.1 .7-.2 .7-.1 .6-.2 .7-.2 .7-.2 .6-.2 .6-.3 .8-.3 .6-.3 .7-.3 .7-.4 .6-.4 .7-.4 .6-.3 .5-.3 .5-.4 .4-.3 .4-.5 .6-.5 .6-.4 .4-.6 .5-.6 .5-.4 .3-.5 .4-.5 .3-.6 .3-.7 .4-.7 .2-.7 .2-.6 .2-.7 .1-1 .1-1-.1-.7-.1-.6-.2-.7-.2-.7-.3-.6-.4-.7-.5-.5-.4-.5-.5-.5-.5-.5-.5-.5-.5-.5-.4-.7-.6-.6-.3-.7-.2-1-.1-1 .1-.7 .2-.6 .2-.6 .1-.8 .3-.6 .2-.6 .2-.8 .3-.6 .2-.7 .3-.6 .2-.7 .3-.7 .2-.7 .2-.6 .2-.7 .2-.7 .2-.6 .2-.7 .2-.7 .1-.6 .2-.7 .1-.7 .1-.6 .1-.7 .1-1 .1-1 .1-1 .1-1 0-1 0-1 0-1-.1-1-.1-1 0-1 0-1 0-.7 .2-.6 .2-.7 .2-.6 .2-.7 .4-.7 .2-.7 .3-.6 .2M160.1 114.9l-1-.1-.7-.2-.7-.3-.6-.5-.7-.6-.3-.4-.4-.5-.3-.7-.3-.8-.2-.6-.2-.7-.1-.7 0-1 0-1 .1-.6 .2-.7 .2-.7 .2-.6 .4-.7 .4-.6 .3-.4 .6-.7 .4-.3 .7-.5 .6-.4 .7-.2 .6-.2 .7-.2 .7-.2 .7-.1 .6-.2 .7-.2 .7-.2 .6-.3 .7-.2 .7-.3 .6-.3 .7-.3 .7-.3 .5-.2 .8-.3 .7-.3 .6-.2 .7-.2 .7-.1 .6-.2 .7-.1 .7-.2 .6-.1 .7-.1 1-.1 1-.1 1 0 1 0 1 0 1 0 1 0 1 .1 1 0 1-.1 1-.1 .7-.1 .6-.2 .7-.1 .6-.2 .7-.2 .7-.2 .7-.1 .6-.2 .7-.1 .7-.1 .6-.1 .7-.1 1-.1 .7-.1 .6-.2 .7-.1 .7-.3 .6-.4 .6-.4 .4-.4 .5-.6 .4-.6 .4-.7 .2-.7 .3-.6 .2-.7 .1-.7 .2-.6 .1-.7 .1-.7 .1-.6 .1-.7 .1-.7 .2-.6 .1-.7 .2-.7 .1-.6 .2-.7 .2-.7 .2-.6 .1-.7 .2-.7 .1-.6 .2-.7 .1-.7 .1-.6 .1-1 .1-1 .1-1 .1-1 .1-1 .1-.7 .1-.7 .1-.6 .2-.7 .2-.7 .2-.6 .2-.6 .3-.8 .3-.6 .4-.6 .3-.5 .6-.6 .4-.4 .7-.4 .6-.3 1 0 .7 .2 .7 .4 .6 .5 .4 .4 .3 .5 .3 .5 .4 .6 .3 .7 .2 .6 .3 .7 .1 .7 .2 .6 .2 .7 .1 .7 .1 .6 .1 1 .1 1 0 1 0 1 .1 1 0 1 0 1 .1 1 .1 1 .1 1 .1 .7 .1 .7 .1 .6 .1 .7 .1 .7 .1 1 .1 1 .1 1 .1 1 .1 1 .1 1 .1 .9 .1 .7 .1 1 .1 1 .1 1 .1 1 .1 1 0 1-.1 1 0 1-.1 1-.1 .7-.1 .7-.2 .6-.1 .7-.2 .7-.2 .6-.2 .7-.3 .7-.3 .6-.3 .7-.3 .7-.4 .6-.4 .7-.3 .5-.3 .5-.4 .4-.5 .6-.5 .6-.4 .4-.6 .5-.5 .5-.5 .3-.5 .4-.5 .2-.6 .4-.7 .3-.7 .2-.6 .1-.7 .1-1 .1-1-.2-.7-.1-.6-.3-.7-.3-.7-.4-.5-.5-.5-.4-.6-.6-.4-.4-.5-.6-.5-.4-.6-.6-.4-.3-.6-.3-.7-.2-1 0-1 .1-.7 .2-.6 .1-.7 .2-.7 .2-.6 .2-.7 .2-.7 .2-.6 .3-.7 .2-.7 .2-.6 .3-.7 .2-.7 .3-.6 .2-.7 .3-.7 .2-.6 .2-.7 .3-.7 .1-.6 .2-.7 .2-.7 .1-.6 .2-.7 .1-.7 .1-.6 .1-1 .1-1 .1-1 0-1 0-1 0-1-.1-1-.1-1-.1-1-.1-1-.1-1 0-.7 .2-.7 .1-.6 .3-.7 .3-.7 .3-.6 .3-.7 .2-.7 .2M161.1 112.2l-.7 .2-1-.1-.7-.2-.6-.4-.5-.5-.5-.7-.3-.7-.2-.6-.1-.7 0-1 .1-1 .2-.7 .3-.6 .3-.6 .3-.4 .7-.7 .5-.3 .5-.3 .7-.3 .6-.2 .7-.1 .7-.1 .6-.1 .7-.2 .7-.2 .6-.3 .5-.2 .5-.3 .7-.4 .6-.3 .6-.4 .6-.3 .7-.3 .7-.4 .8-.3 .7-.2 .6-.2 .7-.2 .7-.2 .6-.2 .7-.1 .7-.1 .6-.1 1-.1 1-.1 1 0 1 0 1 0 1 .1 .8 .1 .9 0 1 0 1 0 1-.2 .7-.1 .6-.2 .7-.2 .7-.2 .6-.2 .7-.2 .7-.2 .6-.2 .7-.1 .7-.1 1-.1 1-.1 1 0 1 0 .6-.1 .7-.2 .7-.3 .5-.3 .5-.4 .6-.6 .4-.5 .3-.4 .3-.5 .4-.6 .3-.6 .3-.8 .3-.6 .2-.7 .1-.7 .1-.6 .2-.7 .1-.7 0-.6 .1-.7 .1-.7 .2-.6 .1-.7 .2-.7 .1-.6 .2-.7 .2-.7 .2-.6 .3-.7 .2-.7 .2-.6 .2-.7 .2-.7 .2-.6 .1-.7 .1-.7 .1-.6 .1-.7 .1-1 .1-.7 .1-.6 .1-.7 .2-.7 .2-.6 .2-.7 .3-.6 .3-.5 .3-.5 .4-.4 .6-.3 .7-.2 .7 .2 .6 .5 .4 .5 .3 .5 .3 .7 .3 .8 .2 .6 .1 .7 .2 .7 0 .6 .1 1 .1 1 .1 1 0 1 .1 1 .1 .7 .1 .7 .1 .6 .2 .7 .1 .7 .1 .6 .1 .7 .2 .7 .1 .6 .1 .7 .1 .7 .1 1 .1 1 .1 1 0 1 .1 1 .1 1 .1 1 .1 1 .1 1 .1 1 .1 1 .1 1 0 1 0 1-.1 1-.1 1-.1 .6-.2 .7-.1 .7-.2 .6-.2 .7-.2 .6-.3 .7-.3 .7-.4 .7-.4 .6-.3 .6-.3 .4-.4 .5-.4 .5-.6 .7-.4 .3-.6 .6-.6 .4-.5 .4-.5 .2-.7 .3-.7 .3-.6 .1-1 .1-1-.1-.7-.2-.7-.2-.6-.4-.7-.4-.4-.4-.6-.5-.4-.5-.6-.7-.6-.6-.4-.5-.6-.5-.6-.4-.8-.2-1 0-.7 .1-.6 .2-.7 .1-.7 .2-.6 .2-.7 .2-.7 .2-.6 .2-.7 .2-.7 .2-.6 .2-.7 .2-.7 .2-.6 .3-.6 .2-.8 .3-.6 .3-.7 .2-.7 .3-.6 .2-.7 .3-.7 .2-.6 .2-.7 .2-.7 .2-.6 .1-.7 .2-.7 .1-.6 .1-1 .1-1 .1-1 0-1-.1-1 0-1-.2-.7-.1-.7-.1-.6-.1-.7-.2-.7-.1-.6-.1-1-.1-1 .1-.7 .1-.7 .3-.6 .3-.7 .4-.7 .3-.6 .2M176.4 109.5l-1 .1-1 0-1-.1-1-.1-.7-.1-.6-.2-.7-.2-.7-.2-.6-.3-.7-.4-.7-.4-.4-.4-.6-.6-.3-.8 .1-1 .2-.5 .4-.6 .3-.4 .4-.5 .6-.6 .5-.4 .4-.3 .5-.3 .6-.4 .6-.3 .7-.3 .7-.3 .7-.2 .6-.2 .7-.1 .7-.2 .6-.1 1-.1 1 0 1 0 1 0 1 .1 .7 .1 .7 .1 .6 .1 .7 .1 1 .1 1 0 .8-.1 .9-.2 .6-.2 .7-.3 .7-.2 .6-.3 .7-.3 .7-.2 .6-.2 .7-.1 .7-.1 1-.1 1 .1 .6 .2 .7 .1 .7 .2 .6 .2 1-.1 .7-.3 .6-.5 .4-.4 .5-.6 .5-.6 .3-.5 .4-.5 .3-.4 .3-.6 .3-.4 .4-.6 .3-.6 .4-.7 .3-.7 .3-.8 .2-.6 .1-.7 .2-.7 0-.6 .2-1 .1-1 .1-.7 .1-.7 .1-.6 .2-.7 .2-.7 .2-.6 .3-.7 .4-.7 .3-.6 .3-.6 .4-.4 .3-.5 .5-.5 .5-.5 .7-.2 .6 .3 .6 .7 .4 .7 .3 .6 .3 .7 .3 .7 .2 .6 .2 .7 .2 .7 .1 .6 .1 .7 .1 .7 .1 1 .1 1 0 1 0 1 .1 1 .1 1 .1 1 .1 .6 .1 .7 .1 .7 .1 .6 .1 1 .1 1 0 1 0 1-.1 1-.1 .7-.2 .7-.1 .6-.2 .7-.2 .7-.3 .6-.3 .7-.4 .7-.3 .6-.3 .4-.4 .5-.4 .5-.6 .6-.6 .6-.7 .4-.5 .4-.8 .3-.7 .2-.7 .1-1-.1-.6-.1-.7-.3-.7-.4-.5-.4-.5-.4-.5-.6-.5-.6-.3-.5-.3-.5-.4-.5-.3-.5-.3-.4-.6-.7-.4-.3-.7-.3-1 .1-.7 .3-.5 .2-.7 .4-.7 .3-.7 .3-.7 .3-.7 .2-.6 .2-.7 .2-.6 .1-.7 .2-.7 .1-.7 .1-.6 .2-.7 .2-.7 .2-.6 .3-.7 .3-.7 .3-.6 .4-.7 .3-.7 .3-.6 .3-.7 .3-.7 .3-.6 .2-.7 .2-.7 .1-.6 .2-.7 .1-.7 .1M207.7 106.3l-.6 .1-1-.1-.7-.2-.6-.3-.4-.3-.7-.6-.3-.5-.3-.5-.4-.7-.3-.7-.2-.7-.1-.6-.1-1 .2-1 .1-.7 .3-.7 .3-.6 .3-.7 .3-.7 .4-.6 .5-.7 .3-.6 .4-.5 .3-.5 .3-.5 .4-.6 .3-.6 .3-.7 .3-.7 .2-.6 .2-.7 0-.7 .1-1 .1-1 .1-.6 .2-.7 .2-.7 .3-.6 .3-.5 .7-.4 .7 0 .5 .5 .3 .7 .3 .7 .1 .6 .1 .7 0 1 0 1 .1 1 0 1 .1 .7 .1 .6 .2 .7 .2 .7 .1 .6 .2 .7 .1 .7 .2 .6 .1 .7 .1 1 0 1 0 1-.2 .9-.1 .8-.2 .6-.2 .7-.3 .7-.3 .6-.4 .7-.5 .6-.3 .4-.7 .6-.4 .4-.5 .3-.7 .4M177.1 107.2l-.7 .1-1 0-1-.1-.7-.1-.6-.2-.7-.3-.7-.4-.5-.7-.1-.7 .1-.6 .4-.7 .5-.5 .6-.5 .6-.3 .8-.4 .6-.2 .7-.1 .7-.2 1 0 1 0 1 .1 .6 .2 .7 .2 .7 .3 .6 .4 .5 .7 0 1-.4 .6-.4 .4-.7 .6-.6 .4-.7 .3-.7 .3-.6 .2-.7 .1M207.7 103.9l-.6 .1-.7-.1-.7-.3-.4-.4-.5-.7-.3-.7-.2-.6-.1-.7 0-1 .1-.7 .2-.6 .2-.7 .4-.7 .3-.6 .3-.5 .4-.4 .4-.5 .6-.6 .5-.4 .5-.3 .6-.1 .7 .1 .4 .3 .5 .7 .4 .7 .2 .6 .2 .7 .1 .7 0 1-.1 1-.1 .6-.2 .7-.3 .7-.3 .6-.5 .7-.6 .7-.5 .3-.5 .3M207.7 101.6l-.8-.1-.4-.3-.4-.7-.1-.7 .1-.8 .2-.8 .4-.7 .4-.4 .6-.5 .7-.1 .5 .3 .4 .7 .2 .7 0 1-.2 .6-.3 .7-.6 .7-.5 .3" fill="none" stroke="#505050" stroke-width="0.5"/><path d="M153.4,122.6 L157.4,117.7 L219.4,118.1 L225.4,122.6Z" fill="#999" fill-opacity="0.5"/><path d="M154.4,122.6 L156.4,120.1 L221.4,120.3 L225.4,122.6Z" fill="#1e1e1e" fill-opacity="0.9"/><rect x="151.8" y="93.5" width="3.5" height="29.2" fill="#888" fill-opacity="0.8"/></g>
<rect x="151.5" y="37.5" width="86" height="86" fill="none" stroke="#707070" stroke-width="1"/>
<line x1="195.50" y1="37.50" x2="195.50" y2="123.50" stroke="#3c3c3c" stroke-width="1"/>
<line x1="151.50" y1="86.50" x2="237.50" y2="86.50" stroke="#3c3c3c" stroke-width="1"/>
<rect x="152" y="38" width="37.8" height="32.3" fill="#fff"/>
<line x1="171.50" y1="38.40" x2="171.50" y2="69.30" stroke="#1e1e1e" stroke-width="1.05"/>
<line x1="153.80" y1="54.50" x2="188.80" y2="54.50" stroke="#262626" stroke-width="1.3"/>
<text x="161.80" y="48.50" style="font-family:'Liberation Serif',serif;font-size:9px;font-weight:normal" text-anchor="middle" fill="#1a1a1a" class="s">0.1</text>
<text x="181.00" y="48.50" style="font-family:'Liberation Serif',serif;font-size:9px;font-weight:normal" text-anchor="middle" fill="#1a1a1a" class="s">9.1</text>
<text x="161.80" y="63.80" style="font-family:'Liberation Serif',serif;font-size:9px;font-weight:normal" text-anchor="middle" fill="#1a1a1a" class="s">23</text>
<text x="181.00" y="63.80" style="font-family:'Liberation Serif',serif;font-size:9px;font-weight:normal" text-anchor="middle" fill="#1a1a1a" class="s">68</text>
<g><path d="M254.1 118.2l-.7 .2-1 0-1-.1-.7-.2-.6-.3-.7-.3-.5-.3-.4-.4-.4-.4-.6-.6-.4-.5-.4-.5-.3-.5-.3-.6-.3-.5-.3-.7-.3-.7-.2-.6-.2-.7-.1-.7-.2-.6-.1-.7 0-1 0-1 0-.9 .1-.8 .1-.6 .2-.7 .2-.7 .3-.6 .3-.7 .4-.7 .4-.6 .3-.5 .4-.4 .4-.5 .6-.6 .4-.4 .4-.3 .5-.3 .5-.4 .5-.3 .7-.3 .6-.3 .7-.3 .7-.3 .6-.2 .7-.2 .7-.3 .6-.2 .6-.2 .8-.3 .6-.2 .7-.3 .7-.2 .6-.2 .7-.2 .7-.2 .6-.2 .7-.2 .7-.1 .6-.2 .7-.1 .7-.1 .6-.1 .7-.1 .7-.1 1-.1 1-.1 1 0 1-.1 1 0 1 .1 1 0 1 .1 1 .1 .9 .1 .7 .1 1 .1 1 0 1 0 1-.1 .7 0 .7-.2 .6-.1 .7-.2 .7-.3 .6-.3 .6-.3 .4-.4 .4-.3 .5-.7 .4-.6 .3-.7 .3-.7 .3-.6 .2-.7 .2-.7 .3-.6 .1-.6 .3-.8 .2-.6 .2-.7 .2-.7 .2-.6 .2-.7 .2-.7 .2-.6 .2-.7 .3-.7 .2-.6 .2-.7 .2-.7 .2-.6 .1-.7 .2-.7 .1-.6 .1-.7 .1-.7 .1-.6 .1-.7 .1-.7 .1-.6 .1-.7 .1-.7 .1-.6 .2-.7 .1-.7 .2-.6 .1-.7 .2-.7 .2-.6 .2-.7 .3-.7 .2-.6 .3-.7 .3-.7 .3-.6 .3-.7 .4-.7 .3-.6 .5-.7 .3-.5 .3-.5 .4-.4 .3-.5 .4-.4 .6-.7 .7-.6 .4-.4 .6-.5 .6-.4 .7-.4 .7-.4 .6-.3 .7-.2 .7-.1 .6-.1 1-.1 1 .1 .7 .1 .7 .2 .6 .3 .7 .4 .6 .4 .5 .3 .6 .5 .4 .5 .6 .6 .3 .5 .3 .4 .4 .5 .3 .6 .3 .7 .4 .7 .3 .7 .2 .7 .3 .6 .2 .7 .1 .7 .2 .6 .1 .7 .2 .7 .1 .6 0 .7 .1 1 .1 1 0 1 0 1 0 1 0 1-.1 1-.1 1-.1 .7-.1 .6-.1 .7-.1 .7-.1 .6-.1 .7-.1 .7-.1 .6-.1 1-.1 1 0 1 0 1 0 1 .1 1 .1 1 .1 1 .1 1 .1 1 .1 1 .1 1 .1 1 .1 1 .1 .7 .1 1 .1 1 0 1 0 1 0 1-.1 1-.1 1-.1 .7-.1 .6-.1 .7-.1 .7-.2 .6-.2 .7-.2 .7-.2 .6-.3 .7-.2 .7-.3 .6-.3 .7-.4 .7-.4 .6-.3 .6-.3 .4-.4 .6-.3 .4-.3 .5-.5 .5-.5 .6-.4 .4-.6 .6-.5 .4-.5 .5-.7 .5-.6 .4-.5 .3-.6 .3-.6 .4-.7 .3-.7 .2-.6 .3-.7 .2-.7 .1-.6 .1-1 .1-1 .1-1-.1-1-.1-.7-.1-.7-.2-.6-.2-.7-.2-.7-.3-.6-.3-.7-.4-.7-.4-.6-.4-.7-.4-.6-.3-.7-.4-.7-.2-.7-.2-1 0-1 0-1 .1-.6 .1-.7 .1-.7 .1-.6 .1-.7 .1-.7 .1-.6 .1-.7 .2-.7 .1-.6 .1-.7 .2-.7 .1-.6 .2-.7 .2-.7 .2-.6 .2-.7 .1-.7 .2-.6 .2-.7 .1-.7 .2-.6 .1-.7 .2-.7 .1-.6 .1-.7 .1-1 .1-1 .1-1 .1-1 0-1 .1-1 0-1 0-1 0-1 .2-.7 .1-.6 .2-.7 .3-.7 .3-.6 .3-.7 .4-.7 .3-.6 .3-.7 .2z" fill="#ececec" stroke="none"/><clipPath id="cl02"><rect x="244.4" y="86.5" width="85.8" height="36.6"/></clipPath><path d="M253.7 113.9l-.6 .1-1 0-.7-.2-.5-.3-.5-.3-.4-.4-.6-.6-.3-.5-.3-.5-.3-.7-.2-.7-.2-.6-.1-.7-.1-1 .1-1 .1-.7 .1-.6 .2-.6 .3-.8 .3-.6 .4-.6 .3-.4 .7-.7 .7-.5 .6-.5 .7-.3 .7-.3 .6-.3 .7-.3 .7-.2 .6-.3 .7-.2 .7-.3 .6-.3 .7-.3 .7-.3 .5-.2 .8-.4 .7-.2 .6-.3 .7-.2 .7-.2 .6-.2 .7-.1 .7-.2 .6-.1 .7-.1 .7-.1 1-.1 1-.1 1 0 1 0 1 0 1 .1 1 .1 .6 .1 .7 .1 .7 .1 .6 .1 .7 .1 1 .1 1 .1 1-.1 .7-.1 .6-.1 .7-.1 .7-.2 .6-.2 .7-.1 .7-.2 .6-.2 .7-.2 .6-.1 .7-.3 .7-.3 .7-.3 .5-.5 .5-.4 .5-.6 .4-.6 .4-.7 .3-.7 .2-.6 .3-.7 .2-.7 .2-.6 .2-.7 .2-.7 .1-.6 .2-.7 .2-.7 .2-.6 .1-.7 .2-.7 .2-.6 .3-.7 .2-.7 .3-.6 .2-.7 .3-.7 .2-.5 .4-.8 .2-.7 .3-.6 .2-.7 .3-.7 .1-.6 .2-.7 .1-.7 .1-.6 .1-.7 .1-.7 .1-.6 .2-.7 .1-.7 .1-.6 .1-.7 .2-.7 .2-.6 .2-.7 .2-.7 .3-.6 .2-.7 .4-.7 .3-.6 .3-.6 .3-.4 .4-.6 .3-.4 .7-.7 .7-.7 .4-.3 .5-.3 .6-.4 .8-.3 .7-.2 1 0 1 .1 .6 .2 .7 .4 .7 .4 .4 .4 .6 .7 .3 .4 .3 .5 .4 .6 .3 .7 .3 .8 .2 .7 .2 .6 .1 .7 .2 .7 .1 .6 0 1 .1 1 0 1-.1 1-.1 1-.1 1-.1 .7-.1 .7-.1 .6-.1 .7-.1 .7-.1 1 0 1 0 1 0 1 .1 1 .1 1 .1 1 .1 1 .1 1 .1 1 .1 1 .1 1 .1 1 .1 1 0 .8 .1 .8 .1 1 .1 1 0 1 .1 1 0 1-.1 1 0 1-.2 1-.1 .7-.1 .7-.2 .6-.2 .7-.2 .7-.3 .6-.2 .7-.4 .7-.3 .6-.4 .7-.3 .5-.4 .5-.3 .4-.5 .6-.5 .6-.5 .4-.5 .5-.6 .5-.5 .3-.5 .4-.6 .3-.7 .3-.8 .3-.6 .2-.7 .2-.7 .1-1 .1-1 0-1-.1-.6-.2-.7-.2-.7-.2-.6-.3-.7-.3-.7-.4-.6-.4-.7-.4-.6-.4-.7-.3-.7-.2-.7-.1-1-.1-1 .2-.6 .1-.7 .1-.7 .2-.6 .1-.7 .2-.7 .1-.6 .1-.7 .1-1 .1-1 .1-1 .1-1 .1-.7 0-.6 .2-.7 .1-.7 .2-.6 .1-.7 .3-.7 .2-.6 .2-.6 .2-.8 .2-.6 .2-.7 .2-.7 .1-.6 .2-.7 .1-.7 .1-.6 .1-.7 .1-1 .1-1 .1-1 0-1 0-1-.1-1 0-1-.1-1 0-1 .1-.7 .1-.6 .2-.7 .3-.6 .3-.6 .3-.6 .4-.5 .2-.7 .3-.7 .2z" fill="#d8d8d8" stroke="none" clip-path="url(#cl02)"/><path d="M311.4 54.5h.6v.6h-.6zM323.7 81.8h.6v.6h-.6zM314.0 68.5h.6v.6h-.6zM297.8 82.6h.6v.6h-.6zM301.7 80.1h.6v.6h-.6zM313.3 70.6h.6v.6h-.6zM306.0 69.8h.6v.6h-.6zM315.9 72.2h.6v.6h-.6zM290.9 72.1h.6v.6h-.6zM323.3 77.1h.6v.6h-.6zM321.5 90.6h.6v.6h-.6zM294.8 76.3h.6v.6h-.6zM304.0 87.7h.6v.6h-.6zM301.6 80.2h.6v.6h-.6zM303.4 64.5h.6v.6h-.6zM314.4 74.9h.6v.6h-.6zM302.5 76.6h.6v.6h-.6zM299.3 79.4h.6v.6h-.6zM312.5 64.3h.6v.6h-.6zM317.6 81.8h.6v.6h-.6zM303.3 61.7h.6v.6h-.6zM309.3 66.7h.6v.6h-.6zM295.3 76.6h.6v.6h-.6zM315.0 70.7h.6v.6h-.6zM325.5 58.5h.6v.6h-.6zM311.9 53.4h.6v.6h-.6zM306.5 62.5h.6v.6h-.6zM290.4 60.3h.6v.6h-.6zM304.5 94.3h.6v.6h-.6zM290.2 56.2h.6v.6h-.6zM313.4 51.7h.6v.6h-.6zM321.7 95.0h.6v.6h-.6zM318.5 48.6h.6v.6h-.6zM308.4 61.6h.6v.6h-.6zM311.1 74.6h.6v.6h-.6zM301.5 68.8h.6v.6h-.6zM308.9 72.4h.6v.6h-.6zM308.9 87.2h.6v.6h-.6zM306.9 96.6h.6v.6h-.6zM285.0 71.3h.6v.6h-.6zM309.1 73.0h.6v.6h-.6zM310.6 64.9h.6v.6h-.6zM300.6 62.1h.6v.6h-.6zM310.3 63.2h.6v.6h-.6zM313.4 71.0h.6v.6h-.6zM288.9 62.5h.6v.6h-.6zM314.0 71.7h.6v.6h-.6zM302.2 62.6h.6v.6h-.6zM296.8 55.0h.6v.6h-.6zM307.5 63.8h.6v.6h-.6zM299.6 64.7h.6v.6h-.6zM302.1 61.7h.6v.6h-.6zM297.6 62.5h.6v.6h-.6zM300.3 74.0h.6v.6h-.6zM295.8 52.0h.6v.6h-.6zM301.0 78.6h.6v.6h-.6zM296.9 60.3h.6v.6h-.6zM294.7 65.9h.6v.6h-.6zM314.8 82.5h.6v.6h-.6zM306.2 78.7h.6v.6h-.6zM309.5 45.6h.6v.6h-.6zM320.4 71.7h.6v.6h-.6zM311.6 83.8h.6v.6h-.6zM306.3 56.1h.6v.6h-.6zM297.1 62.1h.6v.6h-.6zM312.7 83.7h.6v.6h-.6zM310.1 52.2h.6v.6h-.6zM314.8 88.7h.6v.6h-.6zM305.1 51.6h.6v.6h-.6zM303.1 59.0h.6v.6h-.6zM288.9 61.0h.6v.6h-.6zM310.8 62.4h.6v.6h-.6zM293.4 76.8h.6v.6h-.6zM302.0 72.7h.6v.6h-.6zM310.1 69.7h.6v.6h-.6zM306.6 70.3h.6v.6h-.6zM305.2 48.2h.6v.6h-.6zM309.7 60.0h.6v.6h-.6zM291.3 80.6h.6v.6h-.6zM306.3 53.2h.6v.6h-.6zM316.4 84.4h.6v.6h-.6zM315.5 65.5h.6v.6h-.6zM293.5 55.2h.6v.6h-.6zM313.7 77.0h.6v.6h-.6zM309.5 76.6h.6v.6h-.6zM297.7 59.6h.6v.6h-.6zM294.6 60.7h.6v.6h-.6zM304.7 57.3h.6v.6h-.6zM317.4 60.1h.6v.6h-.6zM309.9 39.8h.6v.6h-.6zM298.0 59.4h.6v.6h-.6zM306.8 82.9h.6v.6h-.6zM314.6 61.5h.6v.6h-.6zM305.1 72.3h.6v.6h-.6zM302.1 77.6h.6v.6h-.6zM309.7 69.7h.6v.6h-.6zM288.6 61.9h.6v.6h-.6zM309.5 61.2h.6v.6h-.6zM294.6 61.1h.6v.6h-.6zM305.2 71.6h.6v.6h-.6zM308.8 63.2h.6v.6h-.6zM304.7 76.9h.6v.6h-.6zM299.7 89.3h.6v.6h-.6zM302.7 74.1h.6v.6h-.6zM312.6 50.8h.6v.6h-.6zM294.7 72.1h.6v.6h-.6zM298.4 65.6h.6v.6h-.6zM308.5 63.2h.6v.6h-.6zM312.5 59.2h.6v.6h-.6zM305.7 64.9h.6v.6h-.6zM301.5 106.7h.6v.6h-.6zM311.7 105.7h.6v.6h-.6zM302.7 89.3h.6v.6h-.6zM322.9 57.3h.6v.6h-.6zM316.9 70.2h.6v.6h-.6zM321.5 81.2h.6v.6h-.6zM298.0 64.2h.6v.6h-.6zM302.0 75.7h.6v.6h-.6zM303.7 81.7h.6v.6h-.6zM295.6 87.1h.6v.6h-.6zM301.6 73.7h.6v.6h-.6zM313.8 72.4h.6v.6h-.6zM297.6 65.4h.6v.6h-.6zM303.6 64.2h.6v.6h-.6zM318.4 69.9h.6v.6h-.6zM308.6 66.8h.6v.6h-.6zM310.2 77.6h.6v.6h-.6zM306.2 72.0h.6v.6h-.6zM300.8 65.5h.6v.6h-.6zM303.0 86.0h.6v.6h-.6zM308.2 64.2h.6v.6h-.6zM301.2 75.4h.6v.6h-.6zM306.4 74.2h.6v.6h-.6zM302.3 61.1h.6v.6h-.6zM305.3 68.0h.6v.6h-.6zM319.0 71.0h.6v.6h-.6zM311.1 61.3h.6v.6h-.6zM295.3 52.3h.6v.6h-.6zM304.5 99.7h.6v.6h-.6zM321.3 60.3h.6v.6h-.6zM321.1 64.1h.6v.6h-.6zM296.4 64.9h.6v.6h-.6zM309.7 67.8h.6v.6h-.6zM306.1 78.3h.6v.6h-.6zM285.2 77.6h.6v.6h-.6zM308.5 60.9h.6v.6h-.6zM322.6 72.2h.6v.6h-.6zM300.2 76.0h.6v.6h-.6zM303.6 65.7h.6v.6h-.6zM314.0 81.4h.6v.6h-.6zM302.4 71.2h.6v.6h-.6zM302.4 79.1h.6v.6h-.6zM308.4 55.9h.6v.6h-.6zM294.2 89.6h.6v.6h-.6zM310.2 66.5h.6v.6h-.6zM295.2 56.6h.6v.6h-.6zM306.6 58.1h.6v.6h-.6zM312.9 59.6h.6v.6h-.6zM319.8 72.8h.6v.6h-.6zM299.7 42.0h.6v.6h-.6zM308.1 57.5h.6v.6h-.6zM308.2 82.3h.6v.6h-.6zM291.2 84.1h.6v.6h-.6zM305.3 56.6h.6v.6h-.6zM308.0 71.4h.6v.6h-.6zM310.7 72.4h.6v.6h-.6zM322.5 67.1h.6v.6h-.6zM307.1 63.2h.6v.6h-.6zM305.7 79.8h.6v.6h-.6zM305.5 67.0h.6v.6h-.6zM306.1 72.7h.6v.6h-.6zM310.2 79.7h.6v.6h-.6zM319.2 59.0h.6v.6h-.6zM297.5 59.5h.6v.6h-.6zM306.4 97.2h.6v.6h-.6zM286.4 58.4h.6v.6h-.6zM292.4 84.0h.6v.6h-.6zM307.4 84.7h.6v.6h-.6zM288.7 71.7h.6v.6h-.6zM308.8 66.8h.6v.6h-.6zM316.7 69.6h.6v.6h-.6zM299.0 61.6h.6v.6h-.6zM300.1 70.8h.6v.6h-.6zM306.1 67.9h.6v.6h-.6zM301.7 64.2h.6v.6h-.6zM305.5 66.2h.6v.6h-.6zM300.2 80.5h.6v.6h-.6zM313.1 70.6h.6v.6h-.6zM308.5 67.9h.6v.6h-.6zM305.4 93.3h.6v.6h-.6zM287.5 70.2h.6v.6h-.6zM300.2 77.9h.6v.6h-.6zM306.3 60.0h.6v.6h-.6zM311.7 57.9h.6v.6h-.6zM300.6 76.2h.6v.6h-.6zM310.9 81.9h.6v.6h-.6zM301.0 78.5h.6v.6h-.6zM312.0 79.6h.6v.6h-.6zM304.5 70.6h.6v.6h-.6zM296.9 77.9h.6v.6h-.6zM305.6 57.7h.6v.6h-.6zM316.7 74.8h.6v.6h-.6zM309.2 56.8h.6v.6h-.6zM306.2 67.1h.6v.6h-.6zM312.8 65.4h.6v.6h-.6zM311.8 71.7h.6v.6h-.6zM307.6 53.8h.6v.6h-.6zM290.9 72.9h.6v.6h-.6zM285.3 74.0h.6v.6h-.6zM292.6 83.3h.6v.6h-.6zM319.3 62.7h.6v.6h-.6zM311.5 75.5h.6v.6h-.6zM293.1 61.7h.6v.6h-.6zM312.1 75.6h.6v.6h-.6zM294.2 61.8h.6v.6h-.6zM307.1 56.7h.6v.6h-.6zM313.1 62.4h.6v.6h-.6zM304.5 88.0h.6v.6h-.6zM312.0 86.8h.6v.6h-.6zM312.5 70.4h.6v.6h-.6zM291.6 70.9h.6v.6h-.6zM304.6 74.1h.6v.6h-.6zM309.2 51.9h.6v.6h-.6zM301.0 93.2h.6v.6h-.6zM294.1 58.4h.6v.6h-.6zM316.9 55.2h.6v.6h-.6zM307.1 67.5h.6v.6h-.6zM300.3 58.1h.6v.6h-.6zM297.8 73.3h.6v.6h-.6zM304.6 77.3h.6v.6h-.6zM314.5 65.7h.6v.6h-.6zM301.1 71.5h.6v.6h-.6zM309.1 62.4h.6v.6h-.6zM307.5 49.5h.6v.6h-.6zM303.4 54.7h.6v.6h-.6zM305.3 93.2h.6v.6h-.6zM305.7 68.2h.6v.6h-.6zM297.6 47.7h.6v.6h-.6zM293.7 56.1h.6v.6h-.6zM310.9 59.3h.6v.6h-.6zM316.9 78.3h.6v.6h-.6zM310.0 70.9h.6v.6h-.6zM298.5 86.6h.6v.6h-.6zM305.6 92.1h.6v.6h-.6zM301.1 76.8h.6v.6h-.6zM294.3 76.0h.6v.6h-.6zM297.3 84.3h.6v.6h-.6zM300.9 64.7h.6v.6h-.6zM309.8 66.4h.6v.6h-.6zM304.2 110.4h.6v.6h-.6zM316.3 103.8h.6v.6h-.6zM308.1 105.1h.6v.6h-.6zM313.8 106.5h.6v.6h-.6zM324.4 101.5h.6v.6h-.6zM305.8 117.1h.6v.6h-.6zM310.0 93.0h.6v.6h-.6zM307.3 95.5h.6v.6h-.6zM306.7 102.5h.6v.6h-.6zM315.9 104.1h.6v.6h-.6zM304.3 91.0h.6v.6h-.6zM313.8 111.8h.6v.6h-.6zM312.7 101.2h.6v.6h-.6zM317.5 108.8h.6v.6h-.6zM303.4 97.9h.6v.6h-.6zM306.0 98.5h.6v.6h-.6zM317.2 105.6h.6v.6h-.6zM303.1 99.1h.6v.6h-.6zM313.1 97.1h.6v.6h-.6zM317.8 105.7h.6v.6h-.6zM304.6 110.0h.6v.6h-.6zM306.8 101.0h.6v.6h-.6zM316.5 106.9h.6v.6h-.6zM305.8 96.0h.6v.6h-.6zM316.2 106.7h.6v.6h-.6zM317.9 95.4h.6v.6h-.6zM312.3 105.9h.6v.6h-.6zM311.7 93.9h.6v.6h-.6zM311.8 105.1h.6v.6h-.6zM308.7 111.7h.6v.6h-.6zM316.0 103.8h.6v.6h-.6zM315.6 88.3h.6v.6h-.6zM312.0 115.9h.6v.6h-.6zM313.5 97.2h.6v.6h-.6zM305.1 83.3h.6v.6h-.6zM307.3 119.2h.6v.6h-.6zM301.3 97.2h.6v.6h-.6zM309.0 108.8h.6v.6h-.6zM316.3 104.9h.6v.6h-.6zM313.3 119.7h.6v.6h-.6zM309.4 117.0h.6v.6h-.6zM310.0 87.3h.6v.6h-.6zM309.9 106.7h.6v.6h-.6zM317.2 93.2h.6v.6h-.6zM306.1 101.9h.6v.6h-.6zM318.0 100.9h.6v.6h-.6zM314.6 101.1h.6v.6h-.6zM304.6 91.7h.6v.6h-.6zM315.1 108.3h.6v.6h-.6zM315.7 109.9h.6v.6h-.6zM310.0 109.8h.6v.6h-.6zM321.0 119.4h.6v.6h-.6zM308.1 101.0h.6v.6h-.6zM310.2 94.6h.6v.6h-.6zM313.2 103.4h.6v.6h-.6zM314.7 79.9h.6v.6h-.6zM311.2 100.1h.6v.6h-.6zM316.7 91.5h.6v.6h-.6zM309.1 92.3h.6v.6h-.6zM314.7 90.7h.6v.6h-.6zM311.4 91.3h.6v.6h-.6zM312.2 104.5h.6v.6h-.6zM307.2 86.9h.6v.6h-.6zM311.5 93.1h.6v.6h-.6zM304.5 102.5h.6v.6h-.6zM304.8 99.4h.6v.6h-.6zM311.2 113.5h.6v.6h-.6zM316.1 102.5h.6v.6h-.6zM306.9 119.6h.6v.6h-.6zM314.4 109.3h.6v.6h-.6zM323.2 92.4h.6v.6h-.6zM314.8 100.3h.6v.6h-.6zM315.1 115.7h.6v.6h-.6zM311.3 89.9h.6v.6h-.6zM302.4 93.2h.6v.6h-.6zM309.9 85.4h.6v.6h-.6zM312.4 100.9h.6v.6h-.6zM306.4 110.3h.6v.6h-.6zM312.9 111.9h.6v.6h-.6zM308.4 100.2h.6v.6h-.6zM320.0 94.1h.6v.6h-.6zM265.8 85.3h.6v.6h-.6zM279.5 115.6h.6v.6h-.6zM257.5 91.9h.6v.6h-.6zM252.8 90.3h.6v.6h-.6zM265.1 115.3h.6v.6h-.6zM256.1 93.4h.6v.6h-.6zM325.8 100.5h.6v.6h-.6zM317.6 75.3h.6v.6h-.6zM290.5 80.2h.6v.6h-.6zM317.7 106.2h.6v.6h-.6zM304.0 49.5h.6v.6h-.6zM295.6 116.7h.6v.6h-.6zM318.4 97.6h.6v.6h-.6zM321.5 72.5h.6v.6h-.6zM268.1 115.2h.6v.6h-.6zM284.7 86.4h.6v.6h-.6zM290.1 68.5h.6v.6h-.6zM292.0 113.7h.6v.6h-.6zM298.2 116.0h.6v.6h-.6zM297.5 56.0h.6v.6h-.6zM297.7 55.1h.6v.6h-.6zM287.3 114.0h.6v.6h-.6zM313.6 119.0h.6v.6h-.6zM279.8 115.1h.6v.6h-.6zM314.0 109.3h.6v.6h-.6zM320.2 55.4h.6v.6h-.6zM322.2 62.2h.6v.6h-.6zM319.0 62.3h.6v.6h-.6zM278.8 116.7h.6v.6h-.6zM294.4 56.9h.6v.6h-.6zM270.9 87.4h.6v.6h-.6zM314.5 117.7h.6v.6h-.6zM245.6 120.7h.6v.6h-.6zM262.8 89.4h.6v.6h-.6zM307.6 41.8h.6v.6h-.6zM313.0 111.8h.6v.6h-.6zM282.1 114.9h.6v.6h-.6zM317.2 56.2h.6v.6h-.6zM292.8 114.3h.6v.6h-.6zM285.6 69.7h.6v.6h-.6zM314.1 47.3h.6v.6h-.6zM289.5 112.2h.6v.6h-.6zM299.0 53.4h.6v.6h-.6zM259.1 90.5h.6v.6h-.6zM275.3 116.2h.6v.6h-.6zM317.3 102.1h.6v.6h-.6zM318.5 74.6h.6v.6h-.6zM286.0 115.1h.6v.6h-.6zM320.7 83.4h.6v.6h-.6zM288.8 76.6h.6v.6h-.6zM275.7 115.7h.6v.6h-.6zM292.3 74.1h.6v.6h-.6zM316.9 77.1h.6v.6h-.6zM320.4 85.7h.6v.6h-.6zM307.9 44.6h.6v.6h-.6zM324.3 101.4h.6v.6h-.6zM320.7 54.9h.6v.6h-.6zM319.8 81.4h.6v.6h-.6zM245.4 114.6h.6v.6h-.6zM315.1 53.1h.6v.6h-.6zM317.5 83.1h.6v.6h-.6zM265.2 116.3h.6v.6h-.6zM318.4 95.9h.6v.6h-.6zM309.7 47.8h.6v.6h-.6zM291.6 71.4h.6v.6h-.6zM280.9 112.2h.6v.6h-.6zM308.3 113.7h.6v.6h-.6zM322.3 41.9h.6v.6h-.6zM288.9 84.6h.6v.6h-.6zM320.6 87.9h.6v.6h-.6zM286.7 89.4h.6v.6h-.6zM313.4 108.7h.6v.6h-.6zM266.5 116.3h.6v.6h-.6zM319.2 121.5h.6v.6h-.6zM317.5 108.3h.6v.6h-.6zM285.3 84.2h.6v.6h-.6zM283.8 116.4h.6v.6h-.6zM304.9 118.7h.6v.6h-.6zM269.9 90.9h.6v.6h-.6zM288.6 85.9h.6v.6h-.6zM318.2 99.5h.6v.6h-.6zM327.6 61.4h.6v.6h-.6zM248.1 94.5h.6v.6h-.6zM258.3 91.9h.6v.6h-.6zM272.0 115.7h.6v.6h-.6zM312.9 50.7h.6v.6h-.6zM307.4 47.2h.6v.6h-.6zM318.6 85.7h.6v.6h-.6zM286.8 88.7h.6v.6h-.6zM256.5 92.3h.6v.6h-.6zM299.0 117.3h.6v.6h-.6zM298.9 40.4h.6v.6h-.6zM296.8 119.2h.6v.6h-.6zM292.7 116.8h.6v.6h-.6zM253.7 121.0h.6v.6h-.6zM291.9 76.0h.6v.6h-.6zM284.9 114.4h.6v.6h-.6zM291.3 112.5h.6v.6h-.6zM246.6 96.1h.6v.6h-.6zM318.5 67.4h.6v.6h-.6zM254.1 94.1h.6v.6h-.6zM321.4 107.5h.6v.6h-.6zM261.2 116.0h.6v.6h-.6zM255.7 94.2h.6v.6h-.6zM281.2 90.3h.6v.6h-.6zM260.0 118.8h.6v.6h-.6zM285.4 88.7h.6v.6h-.6zM318.5 109.1h.6v.6h-.6zM273.6 114.6h.6v.6h-.6zM314.8 106.8h.6v.6h-.6zM259.3 91.9h.6v.6h-.6zM291.2 77.5h.6v.6h-.6zM318.1 59.4h.6v.6h-.6zM306.4 115.8h.6v.6h-.6zM314.6 113.3h.6v.6h-.6zM322.5 101.6h.6v.6h-.6zM250.2 119.0h.6v.6h-.6zM246.7 114.9h.6v.6h-.6zM274.0 117.9h.6v.6h-.6zM292.7 115.2h.6v.6h-.6zM281.9 87.1h.6v.6h-.6zM291.2 111.9h.6v.6h-.6zM280.5 113.9h.6v.6h-.6zM285.2 86.5h.6v.6h-.6zM316.9 75.5h.6v.6h-.6zM250.2 89.5h.6v.6h-.6zM297.7 49.5h.6v.6h-.6zM273.9 84.3h.6v.6h-.6zM295.1 114.6h.6v.6h-.6zM249.8 96.6h.6v.6h-.6zM273.2 115.6h.6v.6h-.6zM283.3 85.4h.6v.6h-.6zM272.5 120.5h.6v.6h-.6zM247.8 98.5h.6v.6h-.6zM286.5 116.0h.6v.6h-.6zM297.5 50.5h.6v.6h-.6zM290.1 76.1h.6v.6h-.6zM309.5 46.8h.6v.6h-.6zM305.0 43.5h.6v.6h-.6zM293.4 66.0h.6v.6h-.6zM302.7 117.5h.6v.6h-.6zM320.2 85.9h.6v.6h-.6zM307.2 47.9h.6v.6h-.6zM313.2 48.6h.6v.6h-.6zM322.2 103.0h.6v.6h-.6zM316.3 106.3h.6v.6h-.6zM289.2 83.0h.6v.6h-.6zM268.0 121.0h.6v.6h-.6zM305.0 38.6h.6v.6h-.6zM319.4 65.3h.6v.6h-.6zM320.1 92.4h.6v.6h-.6zM291.3 72.6h.6v.6h-.6zM264.8 115.7h.6v.6h-.6zM295.9 53.1h.6v.6h-.6zM284.6 83.7h.6v.6h-.6zM314.6 108.1h.6v.6h-.6zM293.5 52.8h.6v.6h-.6zM286.0 67.5h.6v.6h-.6zM289.9 81.6h.6v.6h-.6zM319.0 98.7h.6v.6h-.6zM279.2 89.8h.6v.6h-.6zM293.1 120.2h.6v.6h-.6zM253.1 119.2h.6v.6h-.6zM265.1 89.3h.6v.6h-.6zM292.1 64.7h.6v.6h-.6zM287.9 76.7h.6v.6h-.6zM312.8 109.9h.6v.6h-.6zM314.1 51.3h.6v.6h-.6zM302.0 47.6h.6v.6h-.6zM292.0 72.8h.6v.6h-.6zM246.7 94.0h.6v.6h-.6zM279.1 119.9h.6v.6h-.6zM320.1 80.0h.6v.6h-.6zM312.5 49.2h.6v.6h-.6zM290.9 115.2h.6v.6h-.6zM287.6 117.1h.6v.6h-.6zM324.1 82.5h.6v.6h-.6zM263.2 90.2h.6v.6h-.6zM316.2 110.1h.6v.6h-.6zM317.2 108.9h.6v.6h-.6zM245.2 113.1h.6v.6h-.6zM318.1 105.1h.6v.6h-.6zM320.1 42.2h.6v.6h-.6zM289.9 81.8h.6v.6h-.6zM314.6 48.6h.6v.6h-.6zM306.0 47.3h.6v.6h-.6zM286.8 74.8h.6v.6h-.6zM305.5 115.3h.6v.6h-.6zM290.2 71.3h.6v.6h-.6zM278.8 90.1h.6v.6h-.6zM314.5 110.6h.6v.6h-.6zM273.0 88.9h.6v.6h-.6zM313.4 110.1h.6v.6h-.6zM296.4 117.6h.6v.6h-.6zM272.2 118.3h.6v.6h-.6zM318.3 74.3h.6v.6h-.6zM319.8 87.9h.6v.6h-.6zM290.0 77.6h.6v.6h-.6zM266.9 116.1h.6v.6h-.6zM292.0 75.1h.6v.6h-.6zM318.9 85.0h.6v.6h-.6zM319.1 56.5h.6v.6h-.6zM318.5 63.1h.6v.6h-.6zM319.5 93.8h.6v.6h-.6zM316.3 45.0h.6v.6h-.6zM269.0 116.3h.6v.6h-.6zM318.7 65.3h.6v.6h-.6zM317.8 73.9h.6v.6h-.6zM306.9 42.3h.6v.6h-.6zM298.9 121.4h.6v.6h-.6zM248.7 120.7h.6v.6h-.6zM292.0 112.6h.6v.6h-.6zM313.1 39.1h.6v.6h-.6zM318.4 88.0h.6v.6h-.6zM320.3 65.4h.6v.6h-.6zM315.4 108.1h.6v.6h-.6zM287.7 114.6h.6v.6h-.6z" fill="#8c8c8c"/><path d="M254.1 118.2l-.7 .2-1 0-1-.1-.7-.2-.6-.3-.7-.3-.5-.3-.4-.4-.4-.4-.6-.6-.4-.5-.4-.5-.3-.5-.3-.6-.3-.5-.3-.7-.3-.7-.2-.6-.2-.7-.1-.7-.2-.6-.1-.7 0-1 0-1 0-.9 .1-.8 .1-.6 .2-.7 .2-.7 .3-.6 .3-.7 .4-.7 .4-.6 .3-.5 .4-.4 .4-.5 .6-.6 .4-.4 .4-.3 .5-.3 .5-.4 .5-.3 .7-.3 .6-.3 .7-.3 .7-.3 .6-.2 .7-.2 .7-.3 .6-.2 .6-.2 .8-.3 .6-.2 .7-.3 .7-.2 .6-.2 .7-.2 .7-.2 .6-.2 .7-.2 .7-.1 .6-.2 .7-.1 .7-.1 .6-.1 .7-.1 .7-.1 1-.1 1-.1 1 0 1-.1 1 0 1 .1 1 0 1 .1 1 .1 .9 .1 .7 .1 1 .1 1 0 1 0 1-.1 .7 0 .7-.2 .6-.1 .7-.2 .7-.3 .6-.3 .6-.3 .4-.4 .4-.3 .5-.7 .4-.6 .3-.7 .3-.7 .3-.6 .2-.7 .2-.7 .3-.6 .1-.6 .3-.8 .2-.6 .2-.7 .2-.7 .2-.6 .2-.7 .2-.7 .2-.6 .2-.7 .3-.7 .2-.6 .2-.7 .2-.7 .2-.6 .1-.7 .2-.7 .1-.6 .1-.7 .1-.7 .1-.6 .1-.7 .1-.7 .1-.6 .1-.7 .1-.7 .1-.6 .2-.7 .1-.7 .2-.6 .1-.7 .2-.7 .2-.6 .2-.7 .3-.7 .2-.6 .3-.7 .3-.7 .3-.6 .3-.7 .4-.7 .3-.6 .5-.7 .3-.5 .3-.5 .4-.4 .3-.5 .4-.4 .6-.7 .7-.6 .4-.4 .6-.5 .6-.4 .7-.4 .7-.4 .6-.3 .7-.2 .7-.1 .6-.1 1-.1 1 .1 .7 .1 .7 .2 .6 .3 .7 .4 .6 .4 .5 .3 .6 .5 .4 .5 .6 .6 .3 .5 .3 .4 .4 .5 .3 .6 .3 .7 .4 .7 .3 .7 .2 .7 .3 .6 .2 .7 .1 .7 .2 .6 .1 .7 .2 .7 .1 .6 0 .7 .1 1 .1 1 0 1 0 1 0 1 0 1-.1 1-.1 1-.1 .7-.1 .6-.1 .7-.1 .7-.1 .6-.1 .7-.1 .7-.1 .6-.1 1-.1 1 0 1 0 1 0 1 .1 1 .1 1 .1 1 .1 1 .1 1 .1 1 .1 1 .1 1 .1 1 .1 .7 .1 1 .1 1 0 1 0 1 0 1-.1 1-.1 1-.1 .7-.1 .6-.1 .7-.1 .7-.2 .6-.2 .7-.2 .7-.2 .6-.3 .7-.2 .7-.3 .6-.3 .7-.4 .7-.4 .6-.3 .6-.3 .4-.4 .6-.3 .4-.3 .5-.5 .5-.5 .6-.4 .4-.6 .6-.5 .4-.5 .5-.7 .5-.6 .4-.5 .3-.6 .3-.6 .4-.7 .3-.7 .2-.6 .3-.7 .2-.7 .1-.6 .1-1 .1-1 .1-1-.1-1-.1-.7-.1-.7-.2-.6-.2-.7-.2-.7-.3-.6-.3-.7-.4-.7-.4-.6-.4-.7-.4-.6-.3-.7-.4-.7-.2-.7-.2-1 0-1 0-1 .1-.6 .1-.7 .1-.7 .1-.6 .1-.7 .1-.7 .1-.6 .1-.7 .2-.7 .1-.6 .1-.7 .2-.7 .1-.6 .2-.7 .2-.7 .2-.6 .2-.7 .1-.7 .2-.6 .2-.7 .1-.7 .2-.6 .1-.7 .2-.7 .1-.6 .1-.7 .1-1 .1-1 .1-1 .1-1 0-1 .1-1 0-1 0-1 0-1 .2-.7 .1-.6 .2-.7 .3-.7 .3-.6 .3-.7 .4-.7 .3-.6 .3-.7 .2M253.7 116.2l-.6 .1-1 0-.7-.1-.7-.2-.6-.4-.7-.4-.7-.7-.5-.7-.5-.6-.3-.6-.3-.7-.3-.7-.2-.7-.2-.6-.1-.7-.1-.7-.1-1 0-1 .1-1 .1-.7 .2-.6 .2-.7 .3-.7 .3-.6 .4-.7 .4-.5 .3-.4 .4-.4 .6-.6 .5-.4 .5-.4 .5-.3 .5-.3 .7-.3 .6-.3 .7-.3 .7-.2 .6-.2 .7-.3 .7-.2 .6-.3 .7-.3 .7-.2 .6-.3 .7-.2 .7-.3 .6-.2 .7-.2 .7-.2 .6-.2 .7-.1 .7-.2 .6-.1 .7-.1 .7-.2 .6-.1 .7 0 1-.1 1-.1 1 0 1 0 1 0 1 .1 1 0 1 .2 1 .1 .7 .1 1 .1 1 0 1 .1 1-.1 .8-.1 .8-.1 .7-.2 .7-.1 .6-.2 .7-.2 .7-.3 .6-.2 .7-.4 .5-.3 .5-.5 .5-.5 .5-.7 .3-.6 .4-.7 .2-.7 .3-.6 .2-.7 .2-.7 .2-.6 .2-.7 .2-.7 .1-.6 .2-.7 .2-.7 .2-.6 .2-.7 .2-.6 .3-.7 .2-.7 .3-.7 .2-.6 .3-.7 .2-.7 .2-.6 .2-.7 .2-.7 .2-.6 .1-.7 .2-.7 .1-.6 .1-.7 .1-.7 .1-.6 .1-.7 .1-.7 .1-.6 .1-.7 .1-.7 .2-.6 .2-.7 .1-.6 .2-.7 .3-.7 .2-.6 .3-.7 .3-.7 .3-.7 .3-.6 .4-.7 .4-.7 .3-.5 .4-.4 .3-.5 .5-.6 .5-.5 .5-.5 .5-.4 .7-.5 .6-.4 .6-.3 .8-.3 .6-.2 .7-.2 1 0 1 .1 .7 .1 .6 .3 .7 .3 .7 .5 .4 .4 .6 .5 .4 .5 .5 .6 .4 .6 .3 .5 .3 .6 .3 .7 .3 .6 .2 .7 .3 .7 .1 .6 .2 .7 .1 .7 .1 .6 .1 .7 .1 1 .1 1 0 1 0 1 0 1-.1 1-.1 1-.1 .7-.1 .6-.1 .7-.1 .7-.1 .6-.1 .7-.1 .7-.1 1-.1 1 0 1 0 1 .1 1 0 1 .1 1 .1 1 .1 1 .1 1 .1 1 .1 .6 .1 1 .1 1 .1 1 .1 1 .1 1 0 1 .1 1 0 1-.1 1-.1 1-.1 1-.1 .7-.1 .7-.2 .6-.1 .7-.2 .7-.2 .6-.3 .7-.2 .5-.3 .8-.4 .7-.3 .6-.3 .6-.3 .5-.4 .5-.3 .5-.4 .4-.4 .6-.6 .6-.4 .4-.6 .5-.5 .5-.4 .3-.5 .3-.5 .4-.5 .3-.6 .3-.6 .3-.7 .3-.7 .2-.6 .2-.7 .2-.7 .1-1 .1-1-.1-1 0-.6-.2-.7-.1-.7-.2-.6-.3-.7-.2-.7-.4-.6-.3-.7-.4-.7-.4-.6-.4-.7-.3-.7-.3-.6-.2-1-.1-1 .1-1 .1-.7 .1-.7 .1-.6 .1-.7 .2-.7 .1-.6 .1-.7 0-.7 .1-.6 .1-.7 .1-.7 .1-.6 .1-.7 .2-.7 .1-.6 .2-.7 .2-.7 .1-.6 .2-.7 .2-.7 .2-.6 .2-.7 .2-.7 .1-.6 .2-.7 .1-.7 .2-.6 .1-.7 .1-.7 .1-1 .1-1 .1-1 0-1 0-1 0-1 0-1 0-1 0-1 .2-.6 .1-.7 .2-.7 .3-.6 .4-.7 .3-.7 .4-.6 .3-.7 .3-.7 .1M253.7 113.9l-.6 .1-1 0-.7-.2-.5-.3-.5-.3-.4-.4-.6-.6-.3-.5-.3-.5-.3-.7-.2-.7-.2-.6-.1-.7-.1-1 .1-1 .1-.7 .1-.6 .2-.6 .3-.8 .3-.6 .4-.6 .3-.4 .7-.7 .7-.5 .6-.5 .7-.3 .7-.3 .6-.3 .7-.3 .7-.2 .6-.3 .7-.2 .7-.3 .6-.3 .7-.3 .7-.3 .5-.2 .8-.4 .7-.2 .6-.3 .7-.2 .7-.2 .6-.2 .7-.1 .7-.2 .6-.1 .7-.1 .7-.1 1-.1 1-.1 1 0 1 0 1 0 1 .1 1 .1 .6 .1 .7 .1 .7 .1 .6 .1 .7 .1 1 .1 1 .1 1-.1 .7-.1 .6-.1 .7-.1 .7-.2 .6-.2 .7-.1 .7-.2 .6-.2 .7-.2 .6-.1 .7-.3 .7-.3 .7-.3 .5-.5 .5-.4 .5-.6 .4-.6 .4-.7 .3-.7 .2-.6 .3-.7 .2-.7 .2-.6 .2-.7 .2-.7 .1-.6 .2-.7 .2-.7 .2-.6 .1-.7 .2-.7 .2-.6 .3-.7 .2-.7 .3-.6 .2-.7 .3-.7 .2-.5 .4-.8 .2-.7 .3-.6 .2-.7 .3-.7 .1-.6 .2-.7 .1-.7 .1-.6 .1-.7 .1-.7 .1-.6 .2-.7 .1-.7 .1-.6 .1-.7 .2-.7 .2-.6 .2-.7 .2-.7 .3-.6 .2-.7 .4-.7 .3-.6 .3-.6 .3-.4 .4-.6 .3-.4 .7-.7 .7-.7 .4-.3 .5-.3 .6-.4 .8-.3 .7-.2 1 0 1 .1 .6 .2 .7 .4 .7 .4 .4 .4 .6 .7 .3 .4 .3 .5 .4 .6 .3 .7 .3 .8 .2 .7 .2 .6 .1 .7 .2 .7 .1 .6 0 1 .1 1 0 1-.1 1-.1 1-.1 1-.1 .7-.1 .7-.1 .6-.1 .7-.1 .7-.1 1 0 1 0 1 0 1 .1 1 .1 1 .1 1 .1 1 .1 1 .1 1 .1 1 .1 1 .1 1 .1 1 0 .8 .1 .8 .1 1 .1 1 0 1 .1 1 0 1-.1 1 0 1-.2 1-.1 .7-.1 .7-.2 .6-.2 .7-.2 .7-.3 .6-.2 .7-.4 .7-.3 .6-.4 .7-.3 .5-.4 .5-.3 .4-.5 .6-.5 .6-.5 .4-.5 .5-.6 .5-.5 .3-.5 .4-.6 .3-.7 .3-.8 .3-.6 .2-.7 .2-.7 .1-1 .1-1 0-1-.1-.6-.2-.7-.2-.7-.2-.6-.3-.7-.3-.7-.4-.6-.4-.7-.4-.6-.4-.7-.3-.7-.2-.7-.1-1-.1-1 .2-.6 .1-.7 .1-.7 .2-.6 .1-.7 .2-.7 .1-.6 .1-.7 .1-1 .1-1 .1-1 .1-1 .1-.7 0-.6 .2-.7 .1-.7 .2-.6 .1-.7 .3-.7 .2-.6 .2-.6 .2-.8 .2-.6 .2-.7 .2-.7 .1-.6 .2-.7 .1-.7 .1-.6 .1-.7 .1-1 .1-1 .1-1 0-1 0-1-.1-1 0-1-.1-1 0-1 .1-.7 .1-.6 .2-.7 .3-.6 .3-.6 .3-.6 .4-.5 .2-.7 .3-.7 .2M253.1 111.2l-1-.2-.7-.4-.4-.4-.4-.7-.3-.7-.1-.6-.1-1 .2-1 .2-.7 .2-.6 .4-.5 .5-.6 .5-.4 .6-.5 .7-.3 .7-.2 .6-.3 .7-.2 .7-.3 .6-.3 .7-.3 .7-.4 .6-.4 .7-.4 .6-.3 .6-.3 .6-.4 .8-.3 .7-.3 .7-.2 .7-.3 .6-.1 .7-.2 .7-.1 .6-.2 .7 0 1-.1 1-.1 1 0 1 .1 1 .1 .7 .1 .6 .1 .7 .1 .7 .2 .6 .2 .7 .1 .7 .2 .6 .1 1 .1 1-.1 .7-.1 .7-.2 .6-.2 .7-.2 .7-.2 .6-.2 .7-.2 .7-.2 .6-.2 .7-.1 .7-.1 .6-.2 .7-.1 .6-.2 .7-.2 .7-.3 .6-.5 .4-.4 .5-.6 .4-.6 .4-.7 .3-.7 .3-.6 .2-.7 .3-.7 .2-.6 .2-.7 .2-.7 .2-.6 .1-.7 .2-.7 .2-.6 .1-.7 .2-.7 .1-.6 .2-.7 .2-.7 .3-.6 .2-.6 .3-.8 .3-.6 .3-.7 .4-.7 .3-.6 .4-.7 .3-.7 .3-.6 .3-.7 .3-.7 .2-.6 .2-.7 .1-.7 .2-.6 .1-.7 .1-.7 .1-.6 .1-.7 .1-.7 .2-.6 .2-.7 .2-.7 .2-.6 .3-.7 .4-.7 .4-.6 .4-.5 .4-.5 .6-.6 .6-.4 .7-.3 .7-.2 1 0 .6 .2 .5 .3 .5 .3 .4 .4 .4 .6 .4 .7 .3 .6 .2 .7 .2 .7 .1 .6 .1 .7 .1 1 0 1-.1 1-.1 1 0 .7-.1 .6-.1 .7-.1 .7-.1 1-.1 1 .1 1 .1 1 .1 .6 .1 .7 .1 .7 .1 .6 .1 .7 .1 .7 .1 .6 .1 .7 .1 .7 .1 1 .1 1 .1 1 .1 1 0 .9 .1 .7 .1 1 .1 1 0 1 .1 1 0 1 .1 1-.1 1-.1 1-.1 .7-.1 .7-.1 .6-.2 .7-.2 .7-.3 .6-.3 .7-.3 .7-.3 .6-.4 .5-.3 .5-.3 .5-.5 .5-.5 .6-.5 .4-.5 .5-.7 .5-.7 .4-.6 .3-.7 .3-.7 .2-.6 .1-.7 .1-1 .1-1-.1-.7-.1-.6-.2-.7-.2-.7-.3-.6-.4-.7-.4-.7-.4-.5-.4-.5-.3-.6-.3-.7-.4-.7-.1-1-.1-1 .1-.6 .2-.7 .2-.7 .3-.6 .2-.7 .2-.7 .1-.6 .2-.7 .1-1 .1-1 .1-1 0-1-.1-1 0-1 .1-.7 .1-.6 .1-.7 .2-.7 .2-.6 .3-.6 .2-.8 .3-.6 .3-.7 .2-.7 .2-.6 .2-.7 .2-.7 .2-.6 .2-.7 .1-.7 .1-1 .1-1 .1-1 0-1-.1-1 0-1-.2-.6-.1-.7-.1-.7-.1-.6-.1-1-.1-1 .1-.7 .2-.6 .3-.6 .3-.5 .3-.6 .4-.7 .3-.7 .3-.6 .1M301.7 105.8l-1 0-.6-.2-.7-.2-.6-.2-.7-.4-.5-.3-.5-.3-.4-.4-.6-.5-.6-.5-.4-.4-.6-.6-.4-.4-.6-.6-.4-.4-.4-.5-.1-.7 .1-.7 .2-.7 .3-.6 .3-.7 .2-.7 .3-.6 .2-.7 .3-.7 .2-.6 .3-.7 .2-.7 .2-.6 .2-.7 .3-.7 .2-.6 .1-.7 .2-.6 .2-.7 .1-.7 .2-.7 .1-.6 .2-.7 .1-.7 .2-.6 .2-.7 .3-.7 .2-.6 .4-.7 .3-.7 .4-.6 .4-.6 .4-.4 .3-.5 .5-.5 .5-.6 .4-.4 .6-.7 .7-.7 .6-.6 .7-.6 .7-.3 .6 .5 .4 .5 .3 .7 .3 .5 .3 .7 .3 .6 .3 .7 .3 .7 .3 .6 .2 .6 .2 .8 .2 .6 .2 .7 .2 .7 .1 .6 .1 .7 .1 .7 .1 1 .1 1 0 1 .1 1 0 1 .1 1 .1 1 .1 1 .1 1 0 1 0 1-.1 1-.1 1-.1 .6-.2 .7-.2 .7-.2 .6-.3 .7-.3 .5-.2 .5-.4 .6-.4 .5-.5 .6-.5 .5-.5 .5-.5 .3-.5 .3-.5 .3-.6 .3-.7 .2-.7 .2-.7 0M285.7 103.5l-1 .1-.7-.1-.6-.2-.7-.3-.4-.5-.2-.7 .3-.6 .6-.7 .5-.3 .5-.4 .7-.3 .7-.2 .7-.2 1-.1 1 .1 .6 .2 .6 .2 .4 .3 .3 .7-.3 .5-.3 .5-.7 .7-.4 .3-.6 .3-.6 .4-.7 .2-.7 .1M268.4 107.2l-1 .1-1 0-1-.1-.7-.1-.6-.1-.7-.2-.7-.3-.6-.3-.6-.4-.4-.4-.4-.5-.1-.7 .1-.7 .3-.7 .4-.6 .4-.4 .6-.5 .7-.4 .6-.4 .7-.3 .7-.2 .6-.3 .7-.1 .7-.1 .6-.1 1-.1 1 0 1 .1 .7 .1 .7 .2 .6 .2 .7 .3 .6 .3 .5 .3 .6 .5 .4 .5 .2 .7-.1 .7-.4 .6-.5 .5-.5 .5-.5 .4-.5 .3-.5 .3-.6 .3-.7 .3-.7 .2-.6 .2-.7 .2-.7 .1M303.1 103.2l-.7 .2-1 0-.7-.1-.6-.2-.6-.3-.4-.2-.6-.4-.4-.4-.6-.6-.4-.6-.4-.6-.3-.8-.2-.7-.1-.7 0-1 .1-1 .1-.6 .2-.7 .2-.7 .2-.6 .2-.7 .2-.7 .2-.6 .2-.7 .3-.7 .2-.6 .1-.7 .2-.7 .1-.6 .2-.7 .1-.7 .2-.6 .1-.7 .2-.6 .3-.7 .2-.7 .4-.7 .4-.6 .6-.7 .4-.4 .7-.4 .7-.3 .6-.1 1 .2 .6 .3 .4 .4 .5 .6 .4 .7 .3 .7 .2 .6 .2 .7 .1 .7 .1 .6 .1 1 .1 1 0 1 .1 1 .1 1 .1 1 .1 1 .1 1 0 1 0 1 0 1-.1 1-.2 .7-.1 .7-.3 .6-.3 .7-.3 .7-.5 .6-.3 .5-.6 .5-.4 .4-.7 .5-.7 .3-.6 .2M302.4 100.9l-1-.1-.7-.2-.6-.3-.5-.5-.5-.6-.4-.6-.2-.8-.1-.6-.1-1 .1-.8 .2-.9 .1-.6 .3-.7 .2-.7 .3-.7 .2-.6 .3-.7 .3-.7 .2-.6 .2-.7 .2-.7 .2-.6 .2-.7 .1-.7 .3-.6 .3-.7 .4-.6 .6-.4 .7 0 .6 .3 .4 .7 .3 .7 .1 .6 .1 .7 .1 1 .1 1 .1 1 .1 .7 .2 .6 .1 .7 .1 .7 .1 .6 .1 .7 .1 1 0 1-.1 1-.2 .7-.2 .6-.3 .7-.4 .7-.6 .6-.8 .6-.6 .3-.7 .2M302.7 98.2l-.6 .1-.7-.1-.4-.4-.4-.6-.2-.7 0-1 .1-.7 .2-.6 .4-.7 .3-.5 .4-.5 .5-.3 1.1 .2 .3 .4 .3 .7 .2 .7 .1 .6 0 1-.1 .7-.3 .7-.5 .6-.5 .4" fill="none" stroke="#505050" stroke-width="0.5"/><path d="M246.4,122.6 L250.4,117.7 L315.4,118.1 L321.4,122.6Z" fill="#999" fill-opacity="0.5"/><path d="M247.4,122.6 L249.4,120.1 L317.4,120.3 L321.4,122.6Z" fill="#1e1e1e" fill-opacity="0.9"/><rect x="244.8" y="93.5" width="3.5" height="29.2" fill="#777" fill-opacity="0.8"/></g>
<rect x="244.5" y="37.5" width="86" height="86" fill="none" stroke="#707070" stroke-width="1"/>
<line x1="288.50" y1="37.50" x2="288.50" y2="123.50" stroke="#3c3c3c" stroke-width="1"/>
<line x1="244.50" y1="86.50" x2="330.50" y2="86.50" stroke="#3c3c3c" stroke-width="1"/>
<rect x="245" y="38" width="37.8" height="32.3" fill="#fff"/>
<line x1="265.50" y1="38.40" x2="265.50" y2="69.30" stroke="#1e1e1e" stroke-width="1.05"/>
<line x1="246.80" y1="54.50" x2="281.80" y2="54.50" stroke="#262626" stroke-width="1.3"/>
<text x="255.60" y="48.50" style="font-family:'Liberation Serif',serif;font-size:9px;font-weight:normal" text-anchor="middle" fill="#1a1a1a" class="s">0.1</text>
<text x="275.10" y="48.50" style="font-family:'Liberation Serif',serif;font-size:9px;font-weight:normal" text-anchor="middle" fill="#1a1a1a" class="s">14</text>
<text x="255.60" y="63.80" style="font-family:'Liberation Serif',serif;font-size:9px;font-weight:normal" text-anchor="middle" fill="#1a1a1a" class="s">15</text>
<text x="275.10" y="63.80" style="font-family:'Liberation Serif',serif;font-size:9px;font-weight:normal" text-anchor="middle" fill="#1a1a1a" class="s">72</text>
<g><path d="M347.7 120.9l-1 0-1 0-.6-.1-.7-.2-.7-.2-.6-.3-.7-.4-.7-.4-.5-.5-.5-.4-.6-.6-.4-.4-.4-.6-.5-.6-.4-.6 0-1.1 0-1 0-1 0-1 0-1 0-1 0-1 0-1 0-1 0-1 0-1 0-1 0-1 0-1 0-1 0-1 .3-.6 .4-.4 .6-.6 .7-.7 .5-.4 .4-.3 .5-.3 .6-.4 .6-.3 .7-.3 .7-.3 .7-.2 .6-.2 .7-.1 .7-.2 .6 0 1-.1 1-.1 1-.1 1-.1 .7-.1 .7-.1 .6-.1 .7-.2 .7-.1 .6-.1 .7-.1 .7-.1 .6-.2 .7-.1 .7-.1 .6-.1 .7-.1 1-.1 1-.1 1-.1 1 0 1-.1 1 0 1 0 1 0 1 0 1 0 1 0 1 0 1 0 1-.1 .7-.1 .6-.1 .7-.2 .7-.2 .6-.2 .7-.2 .7-.2 .6-.3 .7-.2 .7-.2 .6-.3 .7-.3 .7-.3 .6-.4 .7-.4 .4-.4 .6-.5 .4-.5 .5-.6 .4-.6 .4-.4 .3-.5 .3-.5 .4-.5 .3-.4 .3-.5 .4-.4 .3-.5 .3-.4 .4-.5 .3-.5 .3-.5 .3-.5 .4-.6 .3-.6 .4-.7 .3-.7 .3-.7 .2-.7 .2-.7 .2-.6 .1-.7 .1-.7 .1-.6 .1-.8 .1-.9 .1-1 .1-1 .1-.9 0-.8 .2-1 0-.6 .1-.7 .1-.7 .1-.6 .2-.7 .1-.7 .1-.6 .2-.7 .2-.7 .1-.6 .2-.7 .2-.7 .2-.6 .3-.7 .2-.7 .3-.6 .3-.7 .3-.7 .3-.6 .4-.7 .5-.7 .4-.5 .3-.5 .7-.6 .4-.4 .5-.3 .7-.3 .7-.2 1 .1 .7 .2 .6 .4 .6 .5 .4 .4 .4 .5 .3 .5 .3 .5 .4 .6 .3 .8 .3 .7 .2 .6 .3 .7 .2 .7 .1 .6 .2 .7 .1 .7 .2 .6 .1 .7 .1 .7 .1 .6 .1 .8 .1 .9 .1 1 .1 1 0 1 0 1 0 1 0 1 0 1 0 1-.1 1-.1 1 0 1-.1 1 0 1-.1 1 0 1 0 1 0 1 .1 1 .1 1 0 1 .1 1 0 1 .1 1 0 .9 .1 .8 0 1 .1 1 0 1 .1 1 0 1 0 1 0 1-.1 1 0 1-.2 .9-.1 .7-.1 .7-.1 .7-.2 .6-.2 .7-.2 .7-.2 .6-.2 .6-.3 .8-.3 .6-.3 .7-.3 .7-.4 .6-.4 .7-.3 .6-.4 .5-.3 .4-.3 .5-.6 .7-.4 .4-.6 .6-.4 .4-.7 .6-.4 .3-.5 .3-.5 .4-.6 .3-.6 .3-.7 .4-.7 .2-.7 .2-.6 .2-.7 .1-.7 .1-1 .1-1 0-1-.1-1-.1-.9-.1-.7 0-1-.1-1 0-.8 .1-.9 .2-.6 .2-.7 .2-.7 .2-.7 .2-.6 .3-.7 .2-.7 .3-.6 .2-.7 .2-.7 .2-.6 .2-.7 .2-.7 .2-.6 .2-.7 .1-.7 .2-.6 .1-.7 .2-.7 .1-.6 .1-.7 .1-.7 .1-.6 .1-.7 .1-1 .1-1 .1-.8 .1-.9 .1-1 0-1 .1-1 0-1 0-1 0-1 0-1-.1-1 0-1-.1-1 0-1 .1-1 .1-.6 .1-.7 .2-.7 .2-.6 .3-.7 .2-.7 .3-.6 .3-.7 .2-.7 .2-.6 .1z" fill="#ececec" stroke="none"/><clipPath id="cl03"><rect x="338.4" y="86.5" width="85.8" height="36.6"/></clipPath><path d="M347.7 116.9l-1 0-1-.1-.6-.1-.7-.3-.5-.2-.5-.3-.5-.4-.5-.5-.5-.5-.5-.7-.3-.5-.3-.5-.4-.6-.2-.7-.3-.7-.2-.6-.1-.7-.1-.7-.1-1 0-1 .1-1 .2-.6 .2-.7 .2-.6 .3-.7 .3-.7 .4-.5 .3-.5 .3-.4 .6-.6 .4-.4 .7-.5 .6-.4 .7-.4 .7-.3 .7-.2 .6-.1 .7-.1 .7-.1 1-.1 1-.1 1-.1 1-.1 .6-.1 .7-.2 .7-.1 .6-.2 .7-.1 .7-.2 .6-.1 .7-.2 .7-.1 .6-.2 .7-.1 .7-.1 .6-.1 .7-.1 1-.1 1-.1 1-.1 1 0 1-.1 1 0 1 0 1 .1 1 0 1 0 1 0 1 0 1-.1 .7-.1 .6-.2 .7-.1 .7-.3 .6-.2 .7-.2 .7-.3 .6-.3 .7-.2 .6-.2 .7-.3 .7-.2 .7-.2 .6-.2 .7-.2 .7-.3 .6-.3 .7-.3 .4-.4 .6-.5 .5-.5 .5-.6 .3-.4 .4-.5 .3-.4 .3-.5 .4-.5 .3-.5 .3-.4 .4-.5 .3-.5 .3-.4 .4-.5 .3-.6 .3-.5 .4-.6 .3-.6 .3-.6 .3-.7 .3-.7 .3-.6 .3-.7 .3-.7 .3-.6 .2-.7 .3-.7 .2-.6 .1-.7 .2-.7 .1-.6 .1-.7 0-.7 .1-1 .1-1 .1-1 .1-.7 .1-.9 .1-.7 .1-.7 .1-.6 .1-.7 .2-.7 .2-.6 .2-.7 .2-.7 .2-.6 .3-.7 .3-.7 .4-.6 .5-.7 .6-.7 .7-.5 .7-.2 1 .1 .6 .3 .4 .4 .5 .6 .4 .7 .3 .6 .2 .7 .2 .6 .2 .7 .2 .7 .1 .7 .2 .6 0 .7 .2 1 0 1 .1 1 0 1 0 1-.1 1 0 1-.1 1 0 1-.1 1 0 1 0 1 0 .9 0 .8 .1 1 .1 1 .1 1 0 .7 .1 .9 0 1 0 1 0 1 0 1 0 1 0 1 0 1 0 1 0 1 0 1 0 1-.1 1-.1 1-.1 1-.1 .7-.2 .7-.1 .6-.2 .7-.2 .7-.3 .6-.2 .7-.3 .7-.3 .6-.4 .7-.4 .7-.4 .5-.3 .5-.6 .6-.4 .5-.6 .5-.4 .4-.7 .6-.6 .4-.6 .3-.7 .3-.8 .3-.6 .2-.7 .1-1 .1-1 0-1-.1-.7-.1-.6-.1-.7-.2-.7-.1-.6-.2-.7-.1-1-.1-1 .2-.7 .1-.6 .2-.7 .3-.7 .3-.6 .4-.7 .3-.7 .3-.6 .4-.7 .3-.7 .3-.6 .3-.6 .3-.8 .3-.6 .2-.7 .3-.6 .2-.7 .2-.7 .2-.7 .2-.6 .2-.7 .1-.7 .2-.6 .1-.7 .1-.7 .2-.6 .1-.7 0-.7 .1-1 .1-1 .1-.7 .1-.9 0-1 0-1 0-1 0-1 0-1-.1-1-.1-1-.1-1-.1-1 0-1 0-1 .1-.7 .1-.6 .2-.7 .2-.7 .3-.7 .2-.5 .3-.8 .3-.7 .2-.6 .1z" fill="#d8d8d8" stroke="none" clip-path="url(#cl03)"/><ellipse cx="0" cy="0" rx="9" ry="1.6" fill="#444" fill-opacity="0.4" transform="translate(367.4,98.0) rotate(-3)"/><path d="M409.2 72.9h.6v.6h-.6zM390.2 70.9h.6v.6h-.6zM405.6 59.2h.6v.6h-.6zM390.8 72.2h.6v.6h-.6zM409.0 62.5h.6v.6h-.6zM388.0 89.3h.6v.6h-.6zM394.7 55.5h.6v.6h-.6zM395.5 66.1h.6v.6h-.6zM383.6 63.3h.6v.6h-.6zM407.2 57.3h.6v.6h-.6zM388.0 74.4h.6v.6h-.6zM389.9 73.2h.6v.6h-.6zM395.9 71.8h.6v.6h-.6zM406.4 88.0h.6v.6h-.6zM393.9 62.6h.6v.6h-.6zM416.3 75.1h.6v.6h-.6zM400.2 70.7h.6v.6h-.6zM398.1 72.9h.6v.6h-.6zM404.0 53.9h.6v.6h-.6zM399.4 54.8h.6v.6h-.6zM391.9 79.7h.6v.6h-.6zM396.0 55.1h.6v.6h-.6zM401.7 83.0h.6v.6h-.6zM413.0 88.1h.6v.6h-.6zM402.5 62.6h.6v.6h-.6zM404.2 73.7h.6v.6h-.6zM382.5 71.8h.6v.6h-.6zM398.3 88.1h.6v.6h-.6zM400.2 95.6h.6v.6h-.6zM414.5 79.5h.6v.6h-.6zM413.2 80.3h.6v.6h-.6zM401.3 84.8h.6v.6h-.6zM404.6 58.1h.6v.6h-.6zM399.8 68.8h.6v.6h-.6zM394.6 80.4h.6v.6h-.6zM400.5 63.8h.6v.6h-.6zM397.4 90.0h.6v.6h-.6zM403.0 58.3h.6v.6h-.6zM405.9 67.3h.6v.6h-.6zM398.8 70.9h.6v.6h-.6zM409.3 77.8h.6v.6h-.6zM391.4 58.3h.6v.6h-.6zM400.5 64.8h.6v.6h-.6zM402.0 73.9h.6v.6h-.6zM385.7 70.5h.6v.6h-.6zM405.4 76.4h.6v.6h-.6zM406.1 59.2h.6v.6h-.6zM414.2 55.6h.6v.6h-.6zM405.3 52.6h.6v.6h-.6zM405.6 62.4h.6v.6h-.6zM387.3 50.1h.6v.6h-.6zM402.8 63.1h.6v.6h-.6zM388.9 78.1h.6v.6h-.6zM402.7 61.9h.6v.6h-.6zM406.2 78.9h.6v.6h-.6zM402.6 76.8h.6v.6h-.6zM384.0 68.2h.6v.6h-.6zM412.1 76.7h.6v.6h-.6zM402.8 78.9h.6v.6h-.6zM408.4 51.4h.6v.6h-.6zM394.9 87.5h.6v.6h-.6zM397.3 46.6h.6v.6h-.6zM417.1 71.4h.6v.6h-.6zM398.8 60.8h.6v.6h-.6zM397.0 61.5h.6v.6h-.6zM397.4 70.7h.6v.6h-.6zM408.4 63.6h.6v.6h-.6zM387.8 66.0h.6v.6h-.6zM397.9 67.9h.6v.6h-.6zM393.3 57.7h.6v.6h-.6zM420.5 71.4h.6v.6h-.6zM409.1 55.5h.6v.6h-.6zM401.2 75.6h.6v.6h-.6zM402.3 54.6h.6v.6h-.6zM398.6 72.3h.6v.6h-.6zM396.9 63.2h.6v.6h-.6zM399.1 87.4h.6v.6h-.6zM414.6 58.2h.6v.6h-.6zM398.1 84.4h.6v.6h-.6zM398.3 65.5h.6v.6h-.6zM402.9 50.8h.6v.6h-.6zM412.3 87.4h.6v.6h-.6zM404.3 82.5h.6v.6h-.6zM391.9 91.2h.6v.6h-.6zM400.9 65.6h.6v.6h-.6zM400.6 81.9h.6v.6h-.6zM389.8 89.6h.6v.6h-.6zM394.5 73.6h.6v.6h-.6zM403.2 106.3h.6v.6h-.6zM397.0 69.2h.6v.6h-.6zM413.9 84.4h.6v.6h-.6zM403.3 62.0h.6v.6h-.6zM396.8 63.9h.6v.6h-.6zM399.9 68.4h.6v.6h-.6zM393.2 72.0h.6v.6h-.6zM395.2 76.0h.6v.6h-.6zM406.7 79.3h.6v.6h-.6zM400.0 47.4h.6v.6h-.6zM385.1 74.5h.6v.6h-.6zM389.7 66.2h.6v.6h-.6zM405.2 51.2h.6v.6h-.6zM391.3 63.9h.6v.6h-.6zM398.0 80.7h.6v.6h-.6zM409.3 78.5h.6v.6h-.6zM398.7 53.8h.6v.6h-.6zM398.3 64.5h.6v.6h-.6zM397.4 65.5h.6v.6h-.6zM409.1 87.1h.6v.6h-.6zM395.0 67.5h.6v.6h-.6zM390.7 61.4h.6v.6h-.6zM401.3 69.9h.6v.6h-.6zM413.7 40.1h.6v.6h-.6zM403.6 71.0h.6v.6h-.6zM413.1 81.3h.6v.6h-.6zM410.5 74.5h.6v.6h-.6zM391.8 47.5h.6v.6h-.6zM401.3 98.6h.6v.6h-.6zM400.0 76.6h.6v.6h-.6zM400.9 67.8h.6v.6h-.6zM410.7 68.2h.6v.6h-.6zM412.1 79.3h.6v.6h-.6zM406.8 67.7h.6v.6h-.6zM410.6 67.7h.6v.6h-.6zM396.1 76.8h.6v.6h-.6zM407.5 56.3h.6v.6h-.6zM392.4 78.4h.6v.6h-.6zM398.1 57.9h.6v.6h-.6zM390.9 74.7h.6v.6h-.6zM410.8 82.0h.6v.6h-.6zM397.5 75.7h.6v.6h-.6zM407.1 79.2h.6v.6h-.6zM390.5 64.9h.6v.6h-.6zM402.9 60.0h.6v.6h-.6zM407.6 81.9h.6v.6h-.6zM401.9 67.8h.6v.6h-.6zM402.7 59.3h.6v.6h-.6zM402.4 63.0h.6v.6h-.6zM400.7 60.8h.6v.6h-.6zM398.2 78.1h.6v.6h-.6zM394.4 76.4h.6v.6h-.6zM409.5 86.9h.6v.6h-.6zM401.3 56.1h.6v.6h-.6zM401.8 70.0h.6v.6h-.6zM403.9 68.4h.6v.6h-.6zM391.2 44.5h.6v.6h-.6zM390.3 68.6h.6v.6h-.6zM390.5 76.7h.6v.6h-.6zM415.6 59.5h.6v.6h-.6zM399.0 54.3h.6v.6h-.6zM407.0 97.4h.6v.6h-.6zM386.5 53.2h.6v.6h-.6zM398.1 87.4h.6v.6h-.6zM402.0 73.2h.6v.6h-.6zM396.7 74.5h.6v.6h-.6zM410.1 63.1h.6v.6h-.6zM398.4 57.6h.6v.6h-.6zM400.6 86.8h.6v.6h-.6zM410.3 91.9h.6v.6h-.6zM414.2 59.4h.6v.6h-.6zM404.0 84.0h.6v.6h-.6zM397.6 69.5h.6v.6h-.6zM399.0 79.0h.6v.6h-.6zM410.9 67.0h.6v.6h-.6zM392.6 61.2h.6v.6h-.6zM393.1 50.9h.6v.6h-.6zM393.4 48.7h.6v.6h-.6zM409.4 67.9h.6v.6h-.6zM404.5 66.5h.6v.6h-.6zM393.8 55.0h.6v.6h-.6zM395.0 49.7h.6v.6h-.6zM400.8 59.5h.6v.6h-.6zM396.6 73.9h.6v.6h-.6zM392.4 79.5h.6v.6h-.6zM394.1 81.0h.6v.6h-.6zM399.2 69.7h.6v.6h-.6zM395.8 77.7h.6v.6h-.6zM400.4 54.2h.6v.6h-.6zM397.8 87.8h.6v.6h-.6zM394.8 70.0h.6v.6h-.6zM404.2 59.1h.6v.6h-.6zM404.4 57.3h.6v.6h-.6zM384.7 55.5h.6v.6h-.6zM402.7 64.6h.6v.6h-.6zM396.8 78.5h.6v.6h-.6zM392.4 59.6h.6v.6h-.6zM406.6 79.4h.6v.6h-.6zM402.6 70.2h.6v.6h-.6zM405.1 48.2h.6v.6h-.6zM396.2 54.9h.6v.6h-.6zM415.0 57.2h.6v.6h-.6zM404.6 62.9h.6v.6h-.6zM395.6 90.0h.6v.6h-.6zM415.9 96.6h.6v.6h-.6zM393.7 71.5h.6v.6h-.6zM412.7 71.8h.6v.6h-.6zM398.1 59.1h.6v.6h-.6zM395.5 81.6h.6v.6h-.6zM394.5 58.2h.6v.6h-.6zM392.2 62.6h.6v.6h-.6zM392.9 69.2h.6v.6h-.6zM403.3 78.8h.6v.6h-.6zM399.6 71.7h.6v.6h-.6zM387.2 40.8h.6v.6h-.6zM402.0 72.7h.6v.6h-.6zM388.3 63.9h.6v.6h-.6zM404.4 72.5h.6v.6h-.6zM396.6 84.7h.6v.6h-.6zM398.5 49.7h.6v.6h-.6zM409.9 71.1h.6v.6h-.6zM383.8 79.7h.6v.6h-.6zM418.3 50.4h.6v.6h-.6zM409.2 76.3h.6v.6h-.6zM405.0 72.2h.6v.6h-.6zM394.8 59.4h.6v.6h-.6zM409.2 73.8h.6v.6h-.6zM398.8 77.4h.6v.6h-.6zM398.0 59.3h.6v.6h-.6zM393.9 61.4h.6v.6h-.6zM411.7 58.3h.6v.6h-.6zM407.3 71.7h.6v.6h-.6zM388.8 72.6h.6v.6h-.6zM399.6 79.3h.6v.6h-.6zM389.8 72.8h.6v.6h-.6zM407.9 64.0h.6v.6h-.6zM393.0 69.1h.6v.6h-.6zM399.8 58.4h.6v.6h-.6zM405.0 80.5h.6v.6h-.6zM398.8 57.6h.6v.6h-.6zM390.3 58.8h.6v.6h-.6zM396.7 69.7h.6v.6h-.6zM389.5 46.8h.6v.6h-.6zM412.0 74.4h.6v.6h-.6zM407.9 85.0h.6v.6h-.6zM386.1 76.8h.6v.6h-.6zM391.0 77.7h.6v.6h-.6zM418.6 75.3h.6v.6h-.6zM405.7 69.8h.6v.6h-.6zM397.8 68.9h.6v.6h-.6zM407.9 55.9h.6v.6h-.6zM403.2 73.5h.6v.6h-.6zM406.8 79.8h.6v.6h-.6zM397.3 92.2h.6v.6h-.6zM413.7 64.9h.6v.6h-.6zM402.4 74.0h.6v.6h-.6zM390.8 75.3h.6v.6h-.6zM400.0 65.1h.6v.6h-.6zM397.8 64.3h.6v.6h-.6zM403.6 64.8h.6v.6h-.6zM404.1 100.1h.6v.6h-.6zM413.4 112.2h.6v.6h-.6zM399.7 97.0h.6v.6h-.6zM398.5 98.4h.6v.6h-.6zM407.0 115.1h.6v.6h-.6zM408.3 120.2h.6v.6h-.6zM400.7 86.7h.6v.6h-.6zM409.9 98.6h.6v.6h-.6zM400.4 89.0h.6v.6h-.6zM413.0 107.1h.6v.6h-.6zM405.9 104.9h.6v.6h-.6zM410.2 96.6h.6v.6h-.6zM398.7 106.0h.6v.6h-.6zM409.9 114.6h.6v.6h-.6zM406.2 75.2h.6v.6h-.6zM402.6 88.9h.6v.6h-.6zM397.7 96.4h.6v.6h-.6zM409.4 103.2h.6v.6h-.6zM409.0 107.4h.6v.6h-.6zM403.8 105.5h.6v.6h-.6zM410.2 120.0h.6v.6h-.6zM410.3 104.5h.6v.6h-.6zM411.1 96.9h.6v.6h-.6zM400.6 96.4h.6v.6h-.6zM409.1 84.9h.6v.6h-.6zM406.5 102.1h.6v.6h-.6zM402.3 108.6h.6v.6h-.6zM406.5 93.3h.6v.6h-.6zM403.1 111.6h.6v.6h-.6zM411.2 91.7h.6v.6h-.6zM405.0 109.7h.6v.6h-.6zM407.6 102.0h.6v.6h-.6zM410.1 119.3h.6v.6h-.6zM415.0 106.5h.6v.6h-.6zM409.2 106.0h.6v.6h-.6zM399.7 100.3h.6v.6h-.6zM413.2 93.6h.6v.6h-.6zM407.0 98.2h.6v.6h-.6zM411.5 94.8h.6v.6h-.6zM406.5 90.0h.6v.6h-.6zM404.1 115.0h.6v.6h-.6zM398.9 113.3h.6v.6h-.6zM406.6 108.8h.6v.6h-.6zM409.7 109.2h.6v.6h-.6zM403.0 91.3h.6v.6h-.6zM402.9 78.9h.6v.6h-.6zM402.2 108.9h.6v.6h-.6zM404.9 108.6h.6v.6h-.6zM406.2 109.1h.6v.6h-.6zM409.8 111.8h.6v.6h-.6zM404.0 110.4h.6v.6h-.6zM406.6 97.9h.6v.6h-.6zM400.5 110.2h.6v.6h-.6zM410.4 109.6h.6v.6h-.6zM405.6 118.6h.6v.6h-.6zM398.7 110.3h.6v.6h-.6zM400.9 106.4h.6v.6h-.6zM404.7 106.2h.6v.6h-.6zM411.3 96.8h.6v.6h-.6zM405.9 101.1h.6v.6h-.6zM413.6 112.4h.6v.6h-.6zM407.9 86.8h.6v.6h-.6zM401.3 95.9h.6v.6h-.6zM401.9 111.2h.6v.6h-.6zM414.2 98.0h.6v.6h-.6zM401.9 89.1h.6v.6h-.6zM401.6 108.2h.6v.6h-.6zM401.1 109.7h.6v.6h-.6zM399.0 107.8h.6v.6h-.6zM409.4 106.7h.6v.6h-.6zM410.1 91.3h.6v.6h-.6zM414.1 97.1h.6v.6h-.6zM410.5 97.8h.6v.6h-.6zM404.0 110.4h.6v.6h-.6zM398.4 110.1h.6v.6h-.6zM403.6 105.2h.6v.6h-.6zM403.5 106.8h.6v.6h-.6zM409.1 110.8h.6v.6h-.6zM383.2 116.7h.6v.6h-.6zM348.5 94.0h.6v.6h-.6zM389.8 81.3h.6v.6h-.6zM392.8 69.0h.6v.6h-.6zM410.6 92.3h.6v.6h-.6zM411.0 104.0h.6v.6h-.6zM392.7 70.5h.6v.6h-.6zM339.5 117.9h.6v.6h-.6zM361.6 121.4h.6v.6h-.6zM404.2 116.2h.6v.6h-.6zM372.5 90.9h.6v.6h-.6zM400.5 117.3h.6v.6h-.6zM370.9 121.5h.6v.6h-.6zM376.7 118.0h.6v.6h-.6zM393.8 64.8h.6v.6h-.6zM344.9 121.6h.6v.6h-.6zM399.1 119.2h.6v.6h-.6zM410.4 92.3h.6v.6h-.6zM414.9 94.4h.6v.6h-.6zM398.6 120.7h.6v.6h-.6zM411.0 49.3h.6v.6h-.6zM411.6 100.2h.6v.6h-.6zM390.8 74.8h.6v.6h-.6zM411.3 94.9h.6v.6h-.6zM356.0 87.7h.6v.6h-.6zM417.6 102.4h.6v.6h-.6zM394.7 114.5h.6v.6h-.6zM393.2 51.3h.6v.6h-.6zM395.7 52.4h.6v.6h-.6zM362.3 92.1h.6v.6h-.6zM386.7 114.6h.6v.6h-.6zM406.0 109.0h.6v.6h-.6zM408.4 41.7h.6v.6h-.6zM385.1 116.3h.6v.6h-.6zM394.7 115.4h.6v.6h-.6zM377.6 87.2h.6v.6h-.6zM359.6 90.0h.6v.6h-.6zM413.0 109.8h.6v.6h-.6zM411.6 85.4h.6v.6h-.6zM354.9 90.8h.6v.6h-.6zM397.2 40.1h.6v.6h-.6zM373.2 118.1h.6v.6h-.6zM410.5 96.3h.6v.6h-.6zM414.3 86.4h.6v.6h-.6zM357.1 92.6h.6v.6h-.6zM367.2 121.3h.6v.6h-.6zM405.0 115.9h.6v.6h-.6zM394.0 58.3h.6v.6h-.6zM391.5 114.9h.6v.6h-.6zM410.5 80.0h.6v.6h-.6zM350.5 93.1h.6v.6h-.6zM392.7 62.4h.6v.6h-.6zM385.9 121.9h.6v.6h-.6zM399.6 44.1h.6v.6h-.6zM370.1 120.3h.6v.6h-.6zM351.4 93.0h.6v.6h-.6zM373.5 90.9h.6v.6h-.6zM396.1 115.1h.6v.6h-.6zM389.8 114.0h.6v.6h-.6zM359.2 90.7h.6v.6h-.6zM362.8 120.8h.6v.6h-.6zM348.5 93.6h.6v.6h-.6zM401.5 44.6h.6v.6h-.6zM360.9 118.8h.6v.6h-.6zM355.8 120.4h.6v.6h-.6zM393.6 116.6h.6v.6h-.6zM383.2 85.7h.6v.6h-.6zM380.9 120.2h.6v.6h-.6zM412.3 96.5h.6v.6h-.6zM409.8 62.3h.6v.6h-.6zM395.3 57.2h.6v.6h-.6zM383.8 85.3h.6v.6h-.6zM350.8 121.2h.6v.6h-.6zM402.6 40.6h.6v.6h-.6zM392.8 116.3h.6v.6h-.6zM344.0 120.8h.6v.6h-.6zM380.5 119.6h.6v.6h-.6zM409.5 98.4h.6v.6h-.6zM340.0 92.6h.6v.6h-.6zM396.7 52.0h.6v.6h-.6zM391.1 78.2h.6v.6h-.6zM407.3 52.8h.6v.6h-.6zM407.8 107.7h.6v.6h-.6zM397.4 118.4h.6v.6h-.6zM356.9 92.0h.6v.6h-.6zM371.0 91.4h.6v.6h-.6zM378.9 89.8h.6v.6h-.6zM406.2 110.9h.6v.6h-.6zM351.4 93.1h.6v.6h-.6zM411.8 86.6h.6v.6h-.6zM385.8 85.7h.6v.6h-.6zM408.8 51.8h.6v.6h-.6zM339.7 121.0h.6v.6h-.6zM389.5 80.6h.6v.6h-.6zM414.3 63.2h.6v.6h-.6zM412.0 104.9h.6v.6h-.6zM408.5 50.2h.6v.6h-.6zM365.3 87.9h.6v.6h-.6zM409.6 99.6h.6v.6h-.6zM389.3 79.4h.6v.6h-.6zM397.3 44.3h.6v.6h-.6zM397.5 115.9h.6v.6h-.6zM375.2 117.2h.6v.6h-.6zM410.6 110.3h.6v.6h-.6zM354.3 92.3h.6v.6h-.6zM389.7 81.5h.6v.6h-.6zM389.3 77.3h.6v.6h-.6zM411.3 74.6h.6v.6h-.6zM355.8 120.3h.6v.6h-.6zM372.1 91.7h.6v.6h-.6zM409.9 103.3h.6v.6h-.6zM354.1 122.1h.6v.6h-.6zM411.9 70.1h.6v.6h-.6zM394.5 114.3h.6v.6h-.6zM395.5 45.5h.6v.6h-.6zM379.0 116.7h.6v.6h-.6zM405.5 49.7h.6v.6h-.6zM407.7 106.8h.6v.6h-.6zM416.3 74.4h.6v.6h-.6zM374.8 121.1h.6v.6h-.6zM390.7 66.7h.6v.6h-.6zM389.1 80.1h.6v.6h-.6zM410.7 76.9h.6v.6h-.6zM407.5 104.2h.6v.6h-.6zM407.0 46.9h.6v.6h-.6zM371.2 119.4h.6v.6h-.6zM406.6 109.3h.6v.6h-.6zM347.8 93.1h.6v.6h-.6zM408.7 55.4h.6v.6h-.6zM410.2 85.4h.6v.6h-.6zM413.2 105.8h.6v.6h-.6zM370.3 118.6h.6v.6h-.6zM406.4 49.9h.6v.6h-.6zM376.1 118.9h.6v.6h-.6zM368.9 121.0h.6v.6h-.6zM412.6 94.4h.6v.6h-.6zM411.8 92.0h.6v.6h-.6zM412.0 86.5h.6v.6h-.6zM408.9 56.9h.6v.6h-.6zM408.1 105.9h.6v.6h-.6zM375.2 117.2h.6v.6h-.6zM407.5 107.2h.6v.6h-.6zM415.1 82.8h.6v.6h-.6zM388.2 114.3h.6v.6h-.6zM394.8 43.3h.6v.6h-.6zM395.5 54.0h.6v.6h-.6zM396.5 116.9h.6v.6h-.6zM386.0 116.1h.6v.6h-.6zM376.6 118.6h.6v.6h-.6zM414.5 97.3h.6v.6h-.6zM339.3 118.8h.6v.6h-.6zM404.2 42.6h.6v.6h-.6zM386.3 84.0h.6v.6h-.6zM381.8 87.6h.6v.6h-.6zM401.8 46.2h.6v.6h-.6zM390.1 119.0h.6v.6h-.6zM404.0 118.8h.6v.6h-.6zM375.2 118.2h.6v.6h-.6zM365.0 88.0h.6v.6h-.6zM411.4 78.2h.6v.6h-.6zM414.5 104.4h.6v.6h-.6zM412.3 105.2h.6v.6h-.6zM402.2 48.5h.6v.6h-.6zM410.0 98.0h.6v.6h-.6zM402.8 48.8h.6v.6h-.6zM410.1 77.1h.6v.6h-.6zM391.8 114.8h.6v.6h-.6zM364.8 119.6h.6v.6h-.6zM384.8 116.4h.6v.6h-.6zM399.1 114.2h.6v.6h-.6zM339.3 95.7h.6v.6h-.6zM408.2 111.6h.6v.6h-.6zM346.6 92.6h.6v.6h-.6zM392.2 116.9h.6v.6h-.6zM384.9 119.8h.6v.6h-.6zM412.0 57.5h.6v.6h-.6zM409.9 99.8h.6v.6h-.6zM395.4 39.0h.6v.6h-.6zM354.5 93.4h.6v.6h-.6zM342.2 122.1h.6v.6h-.6zM398.1 117.2h.6v.6h-.6zM389.0 80.4h.6v.6h-.6zM390.8 121.5h.6v.6h-.6zM418.5 89.2h.6v.6h-.6zM398.7 49.2h.6v.6h-.6zM412.2 76.2h.6v.6h-.6zM386.2 114.6h.6v.6h-.6zM371.5 89.2h.6v.6h-.6zM377.1 118.0h.6v.6h-.6zM369.0 118.7h.6v.6h-.6zM389.6 72.4h.6v.6h-.6zM401.3 39.4h.6v.6h-.6zM343.7 91.8h.6v.6h-.6zM376.0 117.9h.6v.6h-.6zM383.8 115.3h.6v.6h-.6zM366.6 88.8h.6v.6h-.6zM373.2 89.6h.6v.6h-.6zM375.0 90.4h.6v.6h-.6zM409.8 71.7h.6v.6h-.6zM357.9 119.6h.6v.6h-.6zM352.8 93.6h.6v.6h-.6zM402.9 47.3h.6v.6h-.6zM401.0 113.8h.6v.6h-.6zM392.0 78.3h.6v.6h-.6zM351.2 90.4h.6v.6h-.6zM408.5 56.9h.6v.6h-.6zM352.7 120.9h.6v.6h-.6zM413.9 85.7h.6v.6h-.6zM343.9 121.0h.6v.6h-.6zM382.3 87.3h.6v.6h-.6zM395.8 51.5h.6v.6h-.6zM389.9 78.5h.6v.6h-.6zM359.0 90.4h.6v.6h-.6zM417.8 93.7h.6v.6h-.6zM411.6 102.0h.6v.6h-.6zM388.7 83.3h.6v.6h-.6zM409.6 71.9h.6v.6h-.6z" fill="#8c8c8c"/><path d="M347.7 120.9l-1 0-1 0-.6-.1-.7-.2-.7-.2-.6-.3-.7-.4-.7-.4-.5-.5-.5-.4-.6-.6-.4-.4-.4-.6-.5-.6-.4-.6 0-1.1 0-1 0-1 0-1 0-1 0-1 0-1 0-1 0-1 0-1 0-1 0-1 0-1 0-1 0-1 0-1 .3-.6 .4-.4 .6-.6 .7-.7 .5-.4 .4-.3 .5-.3 .6-.4 .6-.3 .7-.3 .7-.3 .7-.2 .6-.2 .7-.1 .7-.2 .6 0 1-.1 1-.1 1-.1 1-.1 .7-.1 .7-.1 .6-.1 .7-.2 .7-.1 .6-.1 .7-.1 .7-.1 .6-.2 .7-.1 .7-.1 .6-.1 .7-.1 1-.1 1-.1 1-.1 1 0 1-.1 1 0 1 0 1 0 1 0 1 0 1 0 1 0 1 0 1-.1 .7-.1 .6-.1 .7-.2 .7-.2 .6-.2 .7-.2 .7-.2 .6-.3 .7-.2 .7-.2 .6-.3 .7-.3 .7-.3 .6-.4 .7-.4 .4-.4 .6-.5 .4-.5 .5-.6 .4-.6 .4-.4 .3-.5 .3-.5 .4-.5 .3-.4 .3-.5 .4-.4 .3-.5 .3-.4 .4-.5 .3-.5 .3-.5 .3-.5 .4-.6 .3-.6 .4-.7 .3-.7 .3-.7 .2-.7 .2-.7 .2-.6 .1-.7 .1-.7 .1-.6 .1-.8 .1-.9 .1-1 .1-1 .1-.9 0-.8 .2-1 0-.6 .1-.7 .1-.7 .1-.6 .2-.7 .1-.7 .1-.6 .2-.7 .2-.7 .1-.6 .2-.7 .2-.7 .2-.6 .3-.7 .2-.7 .3-.6 .3-.7 .3-.7 .3-.6 .4-.7 .5-.7 .4-.5 .3-.5 .7-.6 .4-.4 .5-.3 .7-.3 .7-.2 1 .1 .7 .2 .6 .4 .6 .5 .4 .4 .4 .5 .3 .5 .3 .5 .4 .6 .3 .8 .3 .7 .2 .6 .3 .7 .2 .7 .1 .6 .2 .7 .1 .7 .2 .6 .1 .7 .1 .7 .1 .6 .1 .8 .1 .9 .1 1 .1 1 0 1 0 1 0 1 0 1 0 1 0 1-.1 1-.1 1 0 1-.1 1 0 1-.1 1 0 1 0 1 0 1 .1 1 .1 1 0 1 .1 1 0 1 .1 1 0 .9 .1 .8 0 1 .1 1 0 1 .1 1 0 1 0 1 0 1-.1 1 0 1-.2 .9-.1 .7-.1 .7-.1 .7-.2 .6-.2 .7-.2 .7-.2 .6-.2 .6-.3 .8-.3 .6-.3 .7-.3 .7-.4 .6-.4 .7-.3 .6-.4 .5-.3 .4-.3 .5-.6 .7-.4 .4-.6 .6-.4 .4-.7 .6-.4 .3-.5 .3-.5 .4-.6 .3-.6 .3-.7 .4-.7 .2-.7 .2-.6 .2-.7 .1-.7 .1-1 .1-1 0-1-.1-1-.1-.9-.1-.7 0-1-.1-1 0-.8 .1-.9 .2-.6 .2-.7 .2-.7 .2-.7 .2-.6 .3-.7 .2-.7 .3-.6 .2-.7 .2-.7 .2-.6 .2-.7 .2-.7 .2-.6 .2-.7 .1-.7 .2-.6 .1-.7 .2-.7 .1-.6 .1-.7 .1-.7 .1-.6 .1-.7 .1-1 .1-1 .1-.8 .1-.9 .1-1 0-1 .1-1 0-1 0-1 0-1 0-1-.1-1 0-1-.1-1 0-1 .1-1 .1-.6 .1-.7 .2-.7 .2-.6 .3-.7 .2-.7 .3-.6 .3-.7 .2-.7 .2-.6 .1M348.1 118.9l-.7 .1-1 0-1-.1-.7-.2-.6-.2-.6-.3-.6-.4-.5-.3-.4-.3-.6-.6-.4-.4-.6-.7-.3-.5-.4-.5-.3-.5-.3-.7-.4-.7-.3-.8 0-1 0-1 0-1 0-1 0-1 0-1 0-1 0-1 0-.7 .2-.6 .4-.7 .4-.6 .3-.6 .4-.4 .6-.7 .4-.4 .6-.6 .4-.3 .5-.4 .5-.3 .6-.3 .7-.3 .7-.3 .6-.2 .7-.1 .7-.2 .6-.1 1-.1 1 0 1-.1 1-.2 .7 0 .7-.2 .6-.1 .7-.1 .7-.2 .6-.1 .7-.1 .7-.2 .6-.1 .7-.1 .7-.1 .6-.1 .7-.1 .7-.1 1-.1 1-.1 1-.1 1 0 1-.1 1 0 1 0 1 0 1 0 1 0 1 0 1 0 1-.1 .6-.1 .7-.1 .7-.1 .6-.2 .7-.2 .7-.3 .6-.2 .7-.2 .7-.3 .6-.2 .7-.2 .6-.2 .7-.3 .7-.3 .7-.2 .6-.4 .7-.4 .6-.4 .4-.4 .6-.6 .4-.6 .3-.4 .4-.5 .3-.5 .3-.4 .4-.5 .3-.5 .3-.4 .4-.5 .3-.4 .3-.5 .4-.5 .3-.5 .3-.5 .4-.6 .3-.6 .3-.6 .4-.7 .3-.7 .3-.8 .3-.7 .2-.6 .2-.7 .2-.7 .2-.6 .1-.7 .1-.7 .1-.6 .1-1 .1-1 .1-1 .1-1 .1-1 .1-1 .1-.7 .1-.7 .1-.6 .1-.7 .2-.7 .1-.6 .2-.7 .1-.6 .2-.7 .3-.7 .2-.7 .2-.6 .3-.7 .3-.7 .4-.6 .4-.7 .4-.6 .3-.4 .6-.7 .4-.3 .5-.3 .9-.3 .8-.1 .8 .3 .7 .4 .6 .7 .4 .4 .3 .6 .4 .6 .3 .7 .3 .7 .2 .6 .2 .7 .2 .7 .2 .6 .1 .7 .1 .7 .1 .6 .1 .7 .2 1 .1 1 0 1 .1 1 0 1 0 1 0 1-.1 1 0 1-.1 1-.1 1 0 1-.1 1 0 1 0 1 0 1 .1 1 0 1 .1 1 .1 1 0 1 0 1 .1 1 0 1 0 1 0 1 .1 1 0 1 0 .9 0 .8 0 1 0 1-.1 1-.1 1-.1 .6-.1 .7-.1 .7-.1 .6-.2 .7-.2 .7-.2 .6-.2 .7-.3 .6-.3 .7-.3 .7-.3 .7-.4 .6-.3 .6-.4 .5-.3 .5-.3 .4-.6 .7-.4 .5-.6 .5-.4 .4-.7 .6-.5 .3-.5 .4-.6 .3-.6 .3-.8 .4-.7 .2-.6 .2-.7 .1-.7 .1-1 0-.7 0-.9 0-1-.2-.7-.1-.7-.1-.6-.1-1-.1-1 .1-.7 0-.7 .2-.6 .2-.7 .2-.7 .3-.6 .2-.7 .3-.7 .3-.6 .3-.7 .3-.7 .2-.6 .3-.7 .2-.7 .2-.6 .3-.7 .2-.7 .2-.6 .1-.6 .2-.8 .2-.6 .1-.7 .2-.7 .1-.6 .1-.7 .1-.7 .1-.6 .1-.7 .1-1 .1-1 .1-1 .1-1 0-1 .1-1 0-1 0-1-.1-1 0-1-.1-1 0-1-.1-1 0-1 0-1 .1-.7 .2-.6 .1-.7 .3-.7 .2-.5 .2-.8 .4-.7 .2-.6 .2-.7 .2M347.7 116.9l-1 0-1-.1-.6-.1-.7-.3-.5-.2-.5-.3-.5-.4-.5-.5-.5-.5-.5-.7-.3-.5-.3-.5-.4-.6-.2-.7-.3-.7-.2-.6-.1-.7-.1-.7-.1-1 0-1 .1-1 .2-.6 .2-.7 .2-.6 .3-.7 .3-.7 .4-.5 .3-.5 .3-.4 .6-.6 .4-.4 .7-.5 .6-.4 .7-.4 .7-.3 .7-.2 .6-.1 .7-.1 .7-.1 1-.1 1-.1 1-.1 1-.1 .6-.1 .7-.2 .7-.1 .6-.2 .7-.1 .7-.2 .6-.1 .7-.2 .7-.1 .6-.2 .7-.1 .7-.1 .6-.1 .7-.1 1-.1 1-.1 1-.1 1 0 1-.1 1 0 1 0 1 .1 1 0 1 0 1 0 1 0 1-.1 .7-.1 .6-.2 .7-.1 .7-.3 .6-.2 .7-.2 .7-.3 .6-.3 .7-.2 .6-.2 .7-.3 .7-.2 .7-.2 .6-.2 .7-.2 .7-.3 .6-.3 .7-.3 .4-.4 .6-.5 .5-.5 .5-.6 .3-.4 .4-.5 .3-.4 .3-.5 .4-.5 .3-.5 .3-.4 .4-.5 .3-.5 .3-.4 .4-.5 .3-.6 .3-.5 .4-.6 .3-.6 .3-.6 .3-.7 .3-.7 .3-.6 .3-.7 .3-.7 .3-.6 .2-.7 .3-.7 .2-.6 .1-.7 .2-.7 .1-.6 .1-.7 0-.7 .1-1 .1-1 .1-1 .1-.7 .1-.9 .1-.7 .1-.7 .1-.6 .1-.7 .2-.7 .2-.6 .2-.7 .2-.7 .2-.6 .3-.7 .3-.7 .4-.6 .5-.7 .6-.7 .7-.5 .7-.2 1 .1 .6 .3 .4 .4 .5 .6 .4 .7 .3 .6 .2 .7 .2 .6 .2 .7 .2 .7 .1 .7 .2 .6 0 .7 .2 1 0 1 .1 1 0 1 0 1-.1 1 0 1-.1 1 0 1-.1 1 0 1 0 1 0 .9 0 .8 .1 1 .1 1 .1 1 0 .7 .1 .9 0 1 0 1 0 1 0 1 0 1 0 1 0 1 0 1 0 1 0 1 0 1-.1 1-.1 1-.1 1-.1 .7-.2 .7-.1 .6-.2 .7-.2 .7-.3 .6-.2 .7-.3 .7-.3 .6-.4 .7-.4 .7-.4 .5-.3 .5-.6 .6-.4 .5-.6 .5-.4 .4-.7 .6-.6 .4-.6 .3-.7 .3-.8 .3-.6 .2-.7 .1-1 .1-1 0-1-.1-.7-.1-.6-.1-.7-.2-.7-.1-.6-.2-.7-.1-1-.1-1 .2-.7 .1-.6 .2-.7 .3-.7 .3-.6 .4-.7 .3-.7 .3-.6 .4-.7 .3-.7 .3-.6 .3-.6 .3-.8 .3-.6 .2-.7 .3-.6 .2-.7 .2-.7 .2-.7 .2-.6 .2-.7 .1-.7 .2-.6 .1-.7 .1-.7 .2-.6 .1-.7 0-.7 .1-1 .1-1 .1-.7 .1-.9 0-1 0-1 0-1 0-1 0-1-.1-1-.1-1-.1-1-.1-1 0-1 0-1 .1-.7 .1-.6 .2-.7 .2-.7 .3-.7 .2-.5 .3-.8 .3-.7 .2-.6 .1M347.1 114.8l-1 0-.7-.2-.7-.3-.6-.4-.5-.4-.5-.5-.4-.5-.3-.5-.3-.5-.3-.7-.2-.6-.2-.7-.1-.7-.1-1 0-1 .1-.6 .2-.7 .2-.7 .2-.6 .4-.7 .4-.7 .6-.6 .4-.4 .7-.6 .7-.3 .6-.3 .7-.3 .6-.1 .7-.2 1-.1 1 0 .8-.1 .9 0 .7-.1 .6-.1 .7-.2 .7-.2 .6-.1 .7-.2 .7-.2 .6-.2 .7-.2 .7-.2 .6-.1 .7-.2 .7-.1 .6-.1 .7-.1 .7-.1 1-.1 1-.1 1-.1 1 0 1 0 1 0 1 0 1 0 1 .1 1 0 1 0 1 0 1-.1 .6-.2 .7-.2 .7-.2 .6-.2 .7-.3 .7-.3 .6-.3 .6-.2 .8-.3 .6-.2 .7-.2 .7-.2 .6-.2 .7-.1 .7-.2 .6-.2 .7-.3 .7-.3 .6-.4 .5-.4 .5-.6 .4-.4 .5-.7 .5-.6 .3-.5 .3-.5 .3-.4 .4-.5 .3-.5 .4-.4 .3-.5 .3-.5 .4-.5 .3-.4 .3-.7 .4-.6 .3-.6 .3-.7 .4-.7 .3-.7 .3-.7 .3-.7 .3-.6 .3-.7 .3-.7 .3-.6 .3-.7 .3-.7 .2-.6 .2-.7 .1-.7 .2-.6 .1-.7 .1-1 0-.9 .1-.8 .1-1 .1-.6 .1-.7 .1-.7 .2-.6 .2-.7 .2-.7 .3-.6 .3-.6 .3-.6 .6-.5 .4-.3 1 .1 .6 .5 .4 .7 .3 .7 .2 .6 .2 .6 .1 .8 .1 .6 .1 1 .1 1 0 1-.1 1 0 1-.1 1 0 1-.1 1 .1 1 .1 1 0 .7 .1 .7 .1 .6 .1 .7 .1 .7 .1 .6 .1 1 .1 1 0 1 0 1 0 1 0 .7-.1 1 0 1-.1 1 0 1 0 1 0 1 0 1-.1 1 0 .8-.1 .9-.1 .6-.2 .7-.1 .7-.2 .6-.2 .7-.3 .7-.2 .6-.3 .6-.3 .6-.3 .5-.4 .6-.3 .4-.4 .5-.4 .5-.6 .5-.5 .5-.5 .3-.5 .4-.6 .3-.8 .3-.7 .3-.7 .1-1 .1-1-.1-.7-.1-.6-.1-.7-.2-.7-.3-.6-.2-.7-.2-.7-.2-.6-.1-1-.1-.7 .2-.7 .2-.6 .2-.7 .3-.7 .4-.6 .4-.7 .3-.7 .4-.6 .4-.6 .3-.6 .4-.7 .3-.6 .3-.5 .3-.7 .3-.7 .3-.6 .3-.7 .2-.7 .3-.6 .2-.7 .2-.7 .2-.6 .2-.7 .2-.7 .2-.6 .1-.7 .1-.7 .1-.6 .1-.7 .1-1 .1-1 .1-1 .1-1 0-1 0-1 0-1-.1-1 0-1-.2-1-.1-.7-.1-.6-.1-1-.1-.7 0-1 0-.7 0-1 .2-.6 .2-.7 .3-.7 .3-.6 .3-.7 .2-.7 .3-.6 .1-.7 .1M348.7 112.2l-.6 .2-.7 .1-1-.1-.7-.2-.6-.4-.7-.6-.3-.4-.4-.6-.3-.7-.1-.7-.1-.6 0-1 .1-.7 .2-.7 .2-.6 .4-.6 .3-.5 .6-.6 .5-.3 .5-.4 .7-.2 .7-.2 .7-.1 1-.1 1 0 1 0 1-.1 .6-.1 .7-.2 .7-.2 .6-.2 .7-.3 .7-.3 .6-.2 .7-.3 .7-.2 .6-.2 .7-.2 .7-.1 .6-.2 .7-.1 .7-.1 .6-.1 1-.1 1-.1 1-.1 1 0 .9 0 .8 .1 1 0 1 .1 1 .1 1 .1 1 0 1 0 1-.1 .7-.1 .6-.2 .7-.3 .7-.3 .6-.3 .7-.3 .7-.3 .6-.3 .7-.2 .7-.3 .6-.1 .7-.2 .7-.1 1-.1 1-.1 .6-.2 .7-.2 .7-.3 .4-.4 .6-.5 .4-.5 .5-.6 .4-.6 .3-.5 .4-.5 .3-.5 .3-.5 .4-.5 .3-.5 .3-.4 .4-.5 .3-.5 .3-.4 .4-.5 .3-.5 .3-.5 .4-.6 .3-.5 .3-.7 .3-.7 .3-.6 .2-.7 .3-.7 .4-.6 .3-.7 .4-.7 .4-.6 .4-.6 .4-.5 .5-.6 .5-.4 .6-.4 .9 .1 .5 .5 .3 .5 .3 .6 .3 .8 .3 .6 .1 .7 .2 .7 .1 .6 .1 .7 .1 1 0 1 0 1-.1 1-.1 1 0 1-.1 1 0 1 0 1 0 1-.1 1 0 1-.1 1-.1 .7-.1 .6-.1 .7-.2 .7-.2 .6-.3 .7-.3 .7-.3 .6-.4 .6-.3 .5-.4 .4-.4 .5-.6 .5-.6 .5-.5 .4-.7 .3-.8 .3-.7 .1-1 .1-1-.2-.7-.1-.6-.3-.6-.2-.7-.4-.6-.3-.6-.3-.5-.3-.7-.2-.7-.1-1 .1-.6 .2-.6 .3-.6 .3-.5 .3-.6 .4-.6 .3-.5 .3-.6 .4-.5 .3-.5 .3-.7 .4-.6 .3-.6 .3-.5 .3-.6 .4-.6 .3-.6 .4-.7 .3-.5 .3-.6 .3-.7 .3-.7 .3-.6 .3-.7 .2-.7 .2-.6 .2-.7 .2-.7 .2-.6 .1-.7 .2-.7 .1-.6 .1-1 .1-1 .1-1 0-1 .1-1-.1-1 0-1-.1-.7-.1-.7-.1-.6-.1-.7-.1-.7-.2-.6-.1-.7-.2-.7-.1-.6-.1-1-.1-1 .1-.7 .1-.6 .2-.7 .3-.7 .4-.7 .3-.6 .3M397.1 102.5l-.7 .1-1 .1-.7-.2-.6-.2-.7-.4-.6-.4-.7-.7-.6-.6-.4-.7-.4-.7-.1-.6 0-1 .2-.7 .2-.7 .2-.6 .3-.7 .3-.7 .4-.6 .4-.7 .4-.7 .4-.6 .3-.4 .4-.5 .3-.4 .3-.4 .6-.7 .4-.5 .4-.5 .3-.5 .3-.5 .3-.6 .3-.7 .3-.7 .3-.6 .3-.7 .3-.7 .5-.6 .4-.5 .7-.4 1 .1 .5 .8 .3 .6 .1 .7 .1 1 0 1-.1 1-.1 1-.1 1 0 1 0 1 0 1 .1 1 0 1 0 1-.1 1-.1 .7-.1 .6-.2 .6-.2 .8-.3 .6-.4 .7-.4 .7-.4 .5-.4 .5-.6 .4-.6 .5-.7 .3M366.7 109.8l-1 .1-1 .1-1-.1-1 0-1-.1-.6-.2-.7-.1-.7-.2-.6-.1-.7-.3-.7-.3-.6-.3-.7-.4-.7-.4-.4-.3-.5-.7-.2-.7 .2-.6 .5-.7 .4-.5 .7-.5 .4-.3 .5-.4 .6-.3 .7-.3 .8-.4 .7-.2 .6-.2 .7-.2 .7-.2 .6-.1 .7-.1 1-.1 1-.1 1 0 1 0 1 .1 1 .1 .7 .1 .6 .1 .7 .2 .7 .1 .6 .1 .7 .2 .7 .1 .6 .1 .7 .1 1 0 1-.1 .7-.1 .6-.3 .7-.4 .7-.4 .6-.4 .7-.4 .7-.2 1 0 .6 .6-.2 .6-.4 .5-.6 .5-.5 .4-.6 .3-.7 .3-.6 .3-.7 .3-.7 .4-.5 .4-.4 .3-.7 .6-.5 .4-.5 .5-.7 .5-.4 .3-.5 .4-.5 .3-.6 .3-.6 .4-.7 .3-.7 .3-.7 .2-.5 .2-.8 .2-.7 .1-.6 .1-.7 .2M347.7 109.2l-1-.2-.4-.5-.3-.7 .1-.7 .2-.6 .4-.5 .7-.4 .7-.1 1 .2 .6 .4 .4 .4 0 .8-.3 .5-.4 .5-.7 .5-.6 .3M397.1 100.2l-.7 .2-1-.1-.7-.3-.6-.5-.4-.5-.3-.5-.2-.7-.1-.6 0-.8 .1-.9 .2-.6 .3-.7 .3-.7 .4-.6 .3-.5 .5-.6 .5-.5 .6-.5 .4-.3 .5-.3 .9-.4 .6 .1 .6 .6 .3 .7 .2 .6 .2 .7 .1 .7 .1 1 0 1-.1 .8-.2 .8-.3 .7-.3 .7-.4 .6-.5 .6-.6 .4-.6 .4M366.7 107.9l-1 .1-1 0-1 0-.6-.1-.7-.2-.7-.2-.6-.2-.7-.4-.4-.4-.4-.7 .1-.9 .4-.5 .6-.5 .7-.4 .7-.3 .6-.2 .7-.2 .7-.1 1-.1 1 0 1 0 1 .2 .6 .1 .7 .2 .7 .3 .6 .4 .4 .4 .3 .5-.1 .8-.5 .7-.7 .5-.7 .4-.7 .3-.6 .2-.7 .1-.7 .2M397.1 97.9l-.7 .2-.7-.2-.4-.4-.2-.6-.1-.7 .1-.8 .2-.6 .3-.6 .5-.5 .6-.5 .7-.1 .6 .4 .4 .7 .1 .6-.1 1-.2 .7-.3 .7-.5 .5" fill="none" stroke="#505050" stroke-width="0.5"/><path d="M339.4,122.6 L343.4,117.7 L408.4,118.1 L414.4,122.6Z" fill="#999" fill-opacity="0.5"/><path d="M340.4,122.6 L342.4,120.1 L410.4,120.3 L414.4,122.6Z" fill="#1e1e1e" fill-opacity="0.9"/><rect x="338.8" y="91.5" width="3.0" height="31.2" fill="#1a1a1a" fill-opacity="0.8"/></g>
<rect x="338.5" y="37.5" width="86" height="86" fill="none" stroke="#707070" stroke-width="1"/>
<line x1="382.50" y1="37.50" x2="382.50" y2="123.50" stroke="#3c3c3c" stroke-width="1"/>
<line x1="338.50" y1="86.50" x2="424.50" y2="86.50" stroke="#3c3c3c" stroke-width="1"/>
<rect x="339" y="38" width="37.8" height="32.3" fill="#fff"/>
<line x1="358.50" y1="38.40" x2="358.50" y2="69.30" stroke="#1e1e1e" stroke-width="1.05"/>
<line x1="340.80" y1="54.50" x2="375.80" y2="54.50" stroke="#262626" stroke-width="1.3"/>
<text x="348.70" y="48.50" style="font-family:'Liberation Serif',serif;font-size:9px;font-weight:normal" text-anchor="middle" fill="#1a1a1a" class="s">0.1</text>
<text x="368.00" y="48.50" style="font-family:'Liberation Serif',serif;font-size:9px;font-weight:normal" text-anchor="middle" fill="#1a1a1a" class="s">12</text>
<text x="348.70" y="63.80" style="font-family:'Liberation Serif',serif;font-size:9px;font-weight:normal" text-anchor="middle" fill="#1a1a1a" class="s">42</text>
<text x="368.00" y="63.80" style="font-family:'Liberation Serif',serif;font-size:9px;font-weight:normal" text-anchor="middle" fill="#1a1a1a" class="s">46</text>
<g><path d="M440.1 120.8l-1 0-1-.1-.7-.2-.7-.2-.6-.3-.7-.4-.7-.4-.4-.4-.6-.4-.5-.6-.5-.5-.4-.5-.5-.6-.4-.6 0-1.1 0-1 0-1 0-1 0-1 0-1 0-1 0-1 0-1 0-1 0-1 0-1 0-1 0-1 0-1 0-1 .3-1 .4-.4 .5-.6 .5-.4 .6-.6 .5-.3 .4-.4 .5-.3 .6-.3 .6-.4 .8-.3 .6-.3 .7-.2 .7-.2 .6-.2 .7-.1 .7-.2 .6-.1 .7-.2 .7-.1 .6-.1 .7-.2 .7-.1 .6-.2 .7-.1 .7-.2 .6-.1 .7-.2 .7-.1 .6-.2 .7-.1 .7-.1 .6-.1 .7-.2 .7 0 .6-.1 .7-.1 1-.1 .7-.1 1-.1 1 0 1-.1 1 0 1 0 1 0 1 0 1 0 1-.1 .8 0 .8-.1 .7-.1 .7-.2 .6-.2 .7-.2 .7-.2 .6-.2 .7-.3 .6-.2 .7-.3 .7-.3 .7-.3 .6-.3 .7-.3 .7-.3 .6-.4 .7-.4 .5-.4 .5-.4 .6-.6 .4-.4 .5-.6 .4-.7 .4-.6 .4-.7 .3-.7 .3-.6 .2-.7 .3-.7 .2-.5 .3-.8 .2-.7 .2-.6 .2-.7 .1-.7 .2-.6 .1-.7 .1-.7 .1-.6 .1-1 .1-1 .1-1 .1-.7 .1-.7 .1-.6 .1-.7 .2-.7 .1-.6 .2-.7 .1-.7 .2-.6 .2-.7 .2-.7 .3-.6 .2-.7 .3-.7 .3-.6 .3-.7 .4-.7 .4-.6 .4-.6 .3-.5 .4-.4 .4-.5 .6-.6 .5-.4 .4-.4 .5-.3 .6-.3 .6-.2 .7-.1 1-.1 .7 .2 .6 .2 .6 .3 .5 .3 .6 .5 .5 .5 .5 .7 .3 .5 .3 .5 .4 .7 .3 .6 .3 .7 .2 .7 .2 .6 .2 .7 .2 .7 .1 .6 .2 .7 .1 .7 .1 .6 .1 1 .1 1 0 1 0 1 0 1 0 1-.1 1 0 1-.1 1-.1 1-.1 .8-.1 .9-.1 1-.1 1-.1 .9 0 .8 0 1 0 1 .1 1 0 1 0 1 0 1 0 1 0 1 0 1 0 1 0 1-.1 .8 0 .8-.1 1-.1 1-.1 .7-.1 .7-.1 .6-.2 .7-.1 .7-.2 .6-.2 .7-.2 .7-.2 .6-.2 .7-.3 .7-.2 .6-.3 .7-.3 .7-.4 .6-.3 .7-.4 .6-.3 .6-.3 .5-.4 .5-.3 .5-.3 .5-.4 .4-.3 .4-.5 .7-.5 .5-.4 .5-.6 .5-.5 .5-.5 .4-.6 .6-.5 .3-.4 .3-.5 .4-.5 .3-.5 .3-.7 .4-.6 .3-.7 .3-.7 .2-.6 .3-.7 .2-.7 .1-.6 .1-.9 .1-.8 .1-1 0-.8-.1-.9 0-1-.2-.6-.1-1-.1-1 0-1-.1-1 .1-1 .2-.7 .1-.7 .1-.6 .2-.7 .1-.7 .2-.6 .2-.7 .1-.7 .2-.6 .1-.7 .2-.7 .1-.6 .1-.7 .2-.7 .1-.6 .1-.7 .1-.7 .1-.6 0-1 .1-1 .1-1 .1-1 .1-1 0-1 0-1 0-1 0-1 0-1 0-1 .1-1 .1-.7 .1-.7 .2-.6 .2-.7 .3-.6 .2-.7 .3-.7 .3-.7 .2-.6 .2-.7 .2-.7 .1z" fill="#ececec" stroke="none"/><clipPath id="cl04"><rect x="431.4" y="86.5" width="85.8" height="36.6"/></clipPath><path d="M441.7 116.5l-.6 .2-.7 .1-1 0-.7-.1-.6-.2-.7-.2-.7-.4-.6-.4-.7-.6-.6-.7-.4-.5-.3-.5-.4-.7-.3-.6-.3-.7-.2-.7-.2-.7-.1-.6-.1-.7-.1-1 .1-1 .1-1 .2-.7 .1-.6 .3-.7 .3-.7 .2-.5 .3-.5 .4-.5 .3-.4 .7-.7 .7-.6 .5-.4 .5-.4 .6-.3 .7-.3 .7-.2 .6-.2 .7-.2 .7-.2 .6-.1 .7-.1 .7-.1 .6-.2 .7-.1 .7-.2 .6-.1 .7-.2 .7-.2 .6-.2 .7-.2 .7-.2 .6-.1 .7-.2 .7-.2 .6-.1 .7-.1 .7-.2 .6-.1 .7-.1 .7 0 1-.2 .8 0 .8-.1 1 0 1-.1 1 0 1 0 1 .1 1 0 1 0 1-.1 1-.1 .7-.1 .7-.2 .6-.3 .7-.2 .6-.3 .7-.3 .7-.3 .7-.4 .6-.3 .7-.3 .7-.3 .6-.3 .7-.2 .7-.3 .6-.3 .7-.3 .7-.3 .6-.4 .6-.3 .6-.3 .4-.4 .5-.3 .6-.6 .4-.4 .6-.7 .3-.5 .3-.5 .4-.6 .3-.7 .3-.7 .2-.6 .3-.7 .2-.7 .3-.6 .2-.7 .3-.7 .2-.6 .3-.7 .2-.7 .3-.6 .2-.7 .2-.7 .1-.6 .1-.7 .1-.7 .1-.6 .1-.8 .1-.9 .1-.7 .1-.6 .1-.7 .1-.7 .2-.6 .1-.7 .2-.6 .2-.7 .3-.7 .3-.7 .3-.6 .4-.7 .4-.7 .4-.5 .5-.5 .5-.4 .7-.3 .7-.2 1 0 .6 .2 .6 .4 .4 .4 .5 .6 .4 .7 .3 .6 .3 .7 .2 .6 .2 .7 .1 .7 .2 .7 0 .6 .1 1 .1 1 0 1-.1 1-.1 1-.1 1-.1 .8-.1 .9-.1 1-.1 1 0 1 0 1 .1 1 0 1 .1 1 0 1 0 1 0 1 0 1 0 1-.1 1-.1 1-.1 1 0 1-.1 1-.1 1-.1 1-.1 1-.1 .7-.1 .6-.1 .7-.2 .7-.2 .6-.1 .6-.3 .8-.2 .6-.3 .7-.2 .6-.4 .7-.3 .7-.3 .6-.4 .5-.3 .6-.3 .4-.4 .5-.3 .4-.5 .7-.5 .5-.4 .5-.6 .5-.5 .5-.5 .4-.7 .4-.6 .5-.6 .3-.7 .4-.7 .3-.7 .2-.7 .2-.6 .2-.7 .1-1 .1-1-.1-.8 0-.9-.2-.6-.1-.7-.1-.7-.2-.6-.1-.7-.1-1-.1-1 .1-.7 0-.6 .2-.7 .2-.7 .2-.6 .2-.7 .2-.7 .3-.6 .2-.7 .2-.7 .3-.6 .2-.7 .2-.7 .2-.6 .2-.7 .2-.6 .1-.7 .2-.7 .1-.7 .1-.6 .1-.7 .1-.7 .1-1 .1-1 .1-1 .1-1 0-1 0-1 0-.8 0-.8 0-1-.1-1 0-1 0-1 0-.8 .1-.9 .2-.7 .2-.6 .3-.7 .3-.7 .3-.6 .2-.7 .3-.6 .2z" fill="#d8d8d8" stroke="none" clip-path="url(#cl04)"/><path d="M496.9 72.6h.6v.6h-.6zM496.9 65.6h.6v.6h-.6zM487.4 84.7h.6v.6h-.6zM492.3 61.1h.6v.6h-.6zM492.4 94.7h.6v.6h-.6zM492.9 72.5h.6v.6h-.6zM509.9 78.2h.6v.6h-.6zM490.1 55.2h.6v.6h-.6zM490.1 74.0h.6v.6h-.6zM488.7 55.2h.6v.6h-.6zM500.7 52.4h.6v.6h-.6zM489.1 79.3h.6v.6h-.6zM491.7 69.8h.6v.6h-.6zM499.4 56.0h.6v.6h-.6zM498.5 45.4h.6v.6h-.6zM484.6 78.4h.6v.6h-.6zM506.9 69.9h.6v.6h-.6zM494.6 79.2h.6v.6h-.6zM500.0 81.1h.6v.6h-.6zM495.0 83.4h.6v.6h-.6zM506.1 42.5h.6v.6h-.6zM487.4 77.4h.6v.6h-.6zM495.7 46.7h.6v.6h-.6zM503.5 82.8h.6v.6h-.6zM492.3 74.2h.6v.6h-.6zM499.7 69.1h.6v.6h-.6zM505.0 68.4h.6v.6h-.6zM481.2 50.0h.6v.6h-.6zM503.6 68.0h.6v.6h-.6zM501.7 66.9h.6v.6h-.6zM488.6 73.7h.6v.6h-.6zM492.1 92.9h.6v.6h-.6zM488.8 62.7h.6v.6h-.6zM499.2 77.3h.6v.6h-.6zM487.6 90.7h.6v.6h-.6zM497.7 60.4h.6v.6h-.6zM503.7 58.7h.6v.6h-.6zM478.5 59.6h.6v.6h-.6zM496.0 55.0h.6v.6h-.6zM492.0 48.8h.6v.6h-.6zM488.6 76.5h.6v.6h-.6zM496.1 87.2h.6v.6h-.6zM491.6 76.1h.6v.6h-.6zM480.1 62.4h.6v.6h-.6zM487.7 61.8h.6v.6h-.6zM492.4 72.2h.6v.6h-.6zM486.5 60.2h.6v.6h-.6zM481.8 67.2h.6v.6h-.6zM512.3 62.8h.6v.6h-.6zM504.1 80.2h.6v.6h-.6zM502.9 76.9h.6v.6h-.6zM493.4 71.2h.6v.6h-.6zM475.9 55.9h.6v.6h-.6zM490.2 63.4h.6v.6h-.6zM496.8 78.4h.6v.6h-.6zM488.8 91.1h.6v.6h-.6zM487.8 63.3h.6v.6h-.6zM495.3 100.9h.6v.6h-.6zM509.6 64.8h.6v.6h-.6zM495.1 64.8h.6v.6h-.6zM493.7 73.7h.6v.6h-.6zM486.9 61.7h.6v.6h-.6zM505.0 70.0h.6v.6h-.6zM495.7 71.1h.6v.6h-.6zM492.8 64.3h.6v.6h-.6zM490.8 66.4h.6v.6h-.6zM488.7 76.4h.6v.6h-.6zM495.3 84.7h.6v.6h-.6zM510.1 96.8h.6v.6h-.6zM494.2 72.0h.6v.6h-.6zM498.1 52.3h.6v.6h-.6zM487.7 64.3h.6v.6h-.6zM496.4 50.2h.6v.6h-.6zM482.4 70.7h.6v.6h-.6zM505.5 61.4h.6v.6h-.6zM489.8 73.7h.6v.6h-.6zM498.1 66.5h.6v.6h-.6zM495.1 69.7h.6v.6h-.6zM505.6 64.8h.6v.6h-.6zM498.9 88.3h.6v.6h-.6zM499.2 47.4h.6v.6h-.6zM481.3 83.0h.6v.6h-.6zM485.2 83.6h.6v.6h-.6zM485.0 77.0h.6v.6h-.6zM485.4 72.9h.6v.6h-.6zM486.3 74.8h.6v.6h-.6zM500.3 64.7h.6v.6h-.6zM492.5 56.9h.6v.6h-.6zM493.0 79.5h.6v.6h-.6zM485.4 78.8h.6v.6h-.6zM485.3 80.9h.6v.6h-.6zM481.9 68.2h.6v.6h-.6zM501.3 82.7h.6v.6h-.6zM493.5 77.6h.6v.6h-.6zM498.4 92.6h.6v.6h-.6zM494.5 70.0h.6v.6h-.6zM485.2 44.2h.6v.6h-.6zM492.0 57.0h.6v.6h-.6zM475.3 74.5h.6v.6h-.6zM498.2 52.8h.6v.6h-.6zM492.7 78.2h.6v.6h-.6zM494.2 60.8h.6v.6h-.6zM493.3 71.2h.6v.6h-.6zM497.3 73.1h.6v.6h-.6zM490.6 59.1h.6v.6h-.6zM492.7 74.3h.6v.6h-.6zM486.9 83.6h.6v.6h-.6zM490.4 62.8h.6v.6h-.6zM495.0 65.4h.6v.6h-.6zM499.7 61.9h.6v.6h-.6zM489.4 77.0h.6v.6h-.6zM481.1 81.2h.6v.6h-.6zM477.4 61.3h.6v.6h-.6zM490.2 64.1h.6v.6h-.6zM486.4 79.1h.6v.6h-.6zM497.1 69.8h.6v.6h-.6zM505.4 89.7h.6v.6h-.6zM486.1 68.3h.6v.6h-.6zM502.9 61.0h.6v.6h-.6zM502.2 53.9h.6v.6h-.6zM484.7 60.8h.6v.6h-.6zM488.8 47.5h.6v.6h-.6zM498.2 71.9h.6v.6h-.6zM485.9 89.2h.6v.6h-.6zM484.4 49.6h.6v.6h-.6zM498.8 51.6h.6v.6h-.6zM487.7 54.6h.6v.6h-.6zM487.3 66.3h.6v.6h-.6zM497.8 57.0h.6v.6h-.6zM493.6 78.7h.6v.6h-.6zM494.7 81.3h.6v.6h-.6zM504.5 60.5h.6v.6h-.6zM503.5 65.8h.6v.6h-.6zM479.3 59.8h.6v.6h-.6zM500.7 76.8h.6v.6h-.6zM493.3 90.8h.6v.6h-.6zM495.9 56.7h.6v.6h-.6zM500.0 63.3h.6v.6h-.6zM508.0 55.6h.6v.6h-.6zM499.9 74.8h.6v.6h-.6zM492.5 74.6h.6v.6h-.6zM496.9 59.5h.6v.6h-.6zM481.1 66.3h.6v.6h-.6zM497.7 96.4h.6v.6h-.6zM495.1 94.5h.6v.6h-.6zM483.7 58.7h.6v.6h-.6zM481.9 69.6h.6v.6h-.6zM482.4 64.8h.6v.6h-.6zM486.4 75.0h.6v.6h-.6zM497.5 56.0h.6v.6h-.6zM491.6 76.5h.6v.6h-.6zM487.4 82.3h.6v.6h-.6zM490.7 85.0h.6v.6h-.6zM502.9 52.0h.6v.6h-.6zM490.5 92.5h.6v.6h-.6zM486.3 58.7h.6v.6h-.6zM510.3 52.9h.6v.6h-.6zM486.1 84.2h.6v.6h-.6zM496.6 81.2h.6v.6h-.6zM499.8 69.8h.6v.6h-.6zM494.0 81.5h.6v.6h-.6zM491.0 78.9h.6v.6h-.6zM502.9 74.6h.6v.6h-.6zM493.8 57.3h.6v.6h-.6zM497.9 66.2h.6v.6h-.6zM492.4 70.4h.6v.6h-.6zM506.0 85.0h.6v.6h-.6zM485.7 89.4h.6v.6h-.6zM483.0 68.8h.6v.6h-.6zM486.0 63.2h.6v.6h-.6zM491.8 60.8h.6v.6h-.6zM490.8 81.5h.6v.6h-.6zM493.8 62.6h.6v.6h-.6zM487.7 96.4h.6v.6h-.6zM496.6 72.9h.6v.6h-.6zM481.7 72.3h.6v.6h-.6zM483.0 78.8h.6v.6h-.6zM490.6 70.4h.6v.6h-.6zM487.2 59.8h.6v.6h-.6zM486.3 71.9h.6v.6h-.6zM488.1 75.6h.6v.6h-.6zM487.0 64.6h.6v.6h-.6zM494.8 68.0h.6v.6h-.6zM498.3 70.2h.6v.6h-.6zM502.5 48.2h.6v.6h-.6zM493.9 61.3h.6v.6h-.6zM487.2 69.0h.6v.6h-.6zM484.2 57.0h.6v.6h-.6zM484.2 76.7h.6v.6h-.6zM480.2 77.2h.6v.6h-.6zM497.4 44.0h.6v.6h-.6zM506.2 63.7h.6v.6h-.6zM491.9 76.1h.6v.6h-.6zM494.6 66.9h.6v.6h-.6zM475.2 76.9h.6v.6h-.6zM492.1 78.2h.6v.6h-.6zM487.6 52.3h.6v.6h-.6zM493.2 73.8h.6v.6h-.6zM486.3 59.9h.6v.6h-.6zM486.8 42.7h.6v.6h-.6zM485.9 76.9h.6v.6h-.6zM487.6 61.4h.6v.6h-.6zM508.6 69.2h.6v.6h-.6zM498.0 79.0h.6v.6h-.6zM481.2 82.9h.6v.6h-.6zM490.9 67.6h.6v.6h-.6zM489.8 59.6h.6v.6h-.6zM508.9 63.0h.6v.6h-.6zM478.5 83.8h.6v.6h-.6zM497.7 66.7h.6v.6h-.6zM499.2 92.4h.6v.6h-.6zM509.6 89.7h.6v.6h-.6zM506.1 62.8h.6v.6h-.6zM491.4 92.8h.6v.6h-.6zM480.0 63.9h.6v.6h-.6zM484.7 69.4h.6v.6h-.6zM487.3 70.2h.6v.6h-.6zM491.0 58.3h.6v.6h-.6zM487.3 72.1h.6v.6h-.6zM482.0 78.4h.6v.6h-.6zM497.6 98.7h.6v.6h-.6zM493.7 87.3h.6v.6h-.6zM489.5 64.1h.6v.6h-.6zM488.8 74.6h.6v.6h-.6zM487.6 84.6h.6v.6h-.6zM484.5 69.4h.6v.6h-.6zM512.7 60.9h.6v.6h-.6zM490.0 69.3h.6v.6h-.6zM487.9 56.9h.6v.6h-.6zM504.7 71.5h.6v.6h-.6zM489.8 64.2h.6v.6h-.6zM495.1 84.7h.6v.6h-.6zM484.7 67.6h.6v.6h-.6zM489.5 55.4h.6v.6h-.6zM478.2 78.9h.6v.6h-.6zM496.5 67.1h.6v.6h-.6zM509.1 59.1h.6v.6h-.6zM494.8 73.7h.6v.6h-.6zM495.7 60.4h.6v.6h-.6zM502.2 49.0h.6v.6h-.6zM502.1 55.4h.6v.6h-.6zM485.8 82.9h.6v.6h-.6zM486.8 87.2h.6v.6h-.6zM490.2 64.0h.6v.6h-.6zM502.9 73.6h.6v.6h-.6zM483.4 48.0h.6v.6h-.6zM488.3 79.3h.6v.6h-.6zM490.9 67.1h.6v.6h-.6zM493.0 75.9h.6v.6h-.6zM495.6 107.6h.6v.6h-.6zM496.9 92.2h.6v.6h-.6zM488.7 99.1h.6v.6h-.6zM499.2 109.9h.6v.6h-.6zM494.3 114.3h.6v.6h-.6zM498.5 89.4h.6v.6h-.6zM505.2 100.8h.6v.6h-.6zM484.4 79.7h.6v.6h-.6zM502.1 95.7h.6v.6h-.6zM498.7 117.0h.6v.6h-.6zM498.5 107.7h.6v.6h-.6zM501.2 98.2h.6v.6h-.6zM494.6 90.7h.6v.6h-.6zM487.3 100.6h.6v.6h-.6zM493.6 101.4h.6v.6h-.6zM494.8 103.3h.6v.6h-.6zM484.7 107.7h.6v.6h-.6zM499.2 102.2h.6v.6h-.6zM499.0 84.4h.6v.6h-.6zM490.5 94.6h.6v.6h-.6zM496.7 96.9h.6v.6h-.6zM496.7 90.4h.6v.6h-.6zM496.5 113.4h.6v.6h-.6zM496.2 90.6h.6v.6h-.6zM501.6 105.5h.6v.6h-.6zM497.4 104.2h.6v.6h-.6zM506.7 102.8h.6v.6h-.6zM497.5 101.0h.6v.6h-.6zM503.0 93.3h.6v.6h-.6zM503.5 102.4h.6v.6h-.6zM488.8 109.6h.6v.6h-.6zM497.9 91.9h.6v.6h-.6zM498.9 114.2h.6v.6h-.6zM499.6 95.6h.6v.6h-.6zM499.0 110.2h.6v.6h-.6zM503.0 99.3h.6v.6h-.6zM501.2 117.1h.6v.6h-.6zM495.5 116.8h.6v.6h-.6zM502.9 117.4h.6v.6h-.6zM495.9 121.6h.6v.6h-.6zM498.8 99.6h.6v.6h-.6zM494.1 72.5h.6v.6h-.6zM490.1 87.4h.6v.6h-.6zM491.2 90.5h.6v.6h-.6zM504.4 110.2h.6v.6h-.6zM500.7 110.3h.6v.6h-.6zM493.6 91.9h.6v.6h-.6zM500.5 107.6h.6v.6h-.6zM492.0 96.6h.6v.6h-.6zM492.7 95.8h.6v.6h-.6zM487.9 103.0h.6v.6h-.6zM494.8 88.1h.6v.6h-.6zM499.6 108.4h.6v.6h-.6zM509.2 106.6h.6v.6h-.6zM495.2 117.6h.6v.6h-.6zM498.1 110.1h.6v.6h-.6zM498.8 105.2h.6v.6h-.6zM501.3 112.9h.6v.6h-.6zM493.3 100.9h.6v.6h-.6zM491.1 103.6h.6v.6h-.6zM501.3 91.1h.6v.6h-.6zM490.5 95.8h.6v.6h-.6zM499.5 102.1h.6v.6h-.6zM494.3 111.9h.6v.6h-.6zM497.0 117.3h.6v.6h-.6zM499.3 117.7h.6v.6h-.6zM487.9 98.7h.6v.6h-.6zM507.9 102.2h.6v.6h-.6zM489.9 94.4h.6v.6h-.6zM491.1 87.7h.6v.6h-.6zM499.7 111.3h.6v.6h-.6zM481.1 89.4h.6v.6h-.6zM492.4 109.1h.6v.6h-.6zM498.1 97.4h.6v.6h-.6zM495.0 100.7h.6v.6h-.6zM496.2 112.5h.6v.6h-.6zM495.0 94.6h.6v.6h-.6zM495.2 108.0h.6v.6h-.6zM494.6 94.3h.6v.6h-.6zM506.5 102.1h.6v.6h-.6zM462.9 119.8h.6v.6h-.6zM445.3 90.3h.6v.6h-.6zM458.6 90.1h.6v.6h-.6zM488.7 49.3h.6v.6h-.6zM435.8 120.3h.6v.6h-.6zM462.3 83.9h.6v.6h-.6zM439.7 91.6h.6v.6h-.6zM447.2 120.0h.6v.6h-.6zM485.5 120.3h.6v.6h-.6zM443.8 120.7h.6v.6h-.6zM484.7 61.5h.6v.6h-.6zM470.1 118.3h.6v.6h-.6zM502.5 68.4h.6v.6h-.6zM482.9 116.6h.6v.6h-.6zM494.6 114.4h.6v.6h-.6zM474.9 87.0h.6v.6h-.6zM478.8 118.7h.6v.6h-.6zM503.1 63.7h.6v.6h-.6zM505.5 88.8h.6v.6h-.6zM479.3 84.0h.6v.6h-.6zM500.9 96.2h.6v.6h-.6zM505.2 71.0h.6v.6h-.6zM501.3 91.3h.6v.6h-.6zM435.3 121.4h.6v.6h-.6zM485.4 61.6h.6v.6h-.6zM507.2 55.9h.6v.6h-.6zM481.3 73.3h.6v.6h-.6zM471.5 116.1h.6v.6h-.6zM446.1 89.2h.6v.6h-.6zM466.9 119.3h.6v.6h-.6zM484.3 65.1h.6v.6h-.6zM491.3 115.2h.6v.6h-.6zM497.2 45.5h.6v.6h-.6zM483.9 67.4h.6v.6h-.6zM461.5 89.7h.6v.6h-.6zM472.0 87.3h.6v.6h-.6zM490.6 115.6h.6v.6h-.6zM467.7 89.0h.6v.6h-.6zM505.7 77.9h.6v.6h-.6zM490.2 50.0h.6v.6h-.6zM454.9 88.6h.6v.6h-.6zM502.8 58.4h.6v.6h-.6zM503.9 78.3h.6v.6h-.6zM496.9 44.8h.6v.6h-.6zM475.9 115.4h.6v.6h-.6zM488.6 54.5h.6v.6h-.6zM495.0 112.6h.6v.6h-.6zM500.8 56.2h.6v.6h-.6zM441.2 92.7h.6v.6h-.6zM478.6 119.3h.6v.6h-.6zM501.1 88.2h.6v.6h-.6zM501.8 97.2h.6v.6h-.6zM463.6 87.2h.6v.6h-.6zM432.5 97.0h.6v.6h-.6zM496.2 50.1h.6v.6h-.6zM445.8 89.7h.6v.6h-.6zM452.2 87.5h.6v.6h-.6zM490.8 115.0h.6v.6h-.6zM471.8 86.1h.6v.6h-.6zM501.1 82.0h.6v.6h-.6zM493.0 111.1h.6v.6h-.6zM484.5 64.1h.6v.6h-.6zM438.5 93.4h.6v.6h-.6zM491.9 51.8h.6v.6h-.6zM476.1 81.1h.6v.6h-.6zM485.4 60.0h.6v.6h-.6zM481.7 69.4h.6v.6h-.6zM461.9 119.2h.6v.6h-.6zM480.2 73.1h.6v.6h-.6zM489.9 46.7h.6v.6h-.6zM454.7 89.2h.6v.6h-.6zM462.7 90.0h.6v.6h-.6zM436.3 91.9h.6v.6h-.6zM470.3 86.7h.6v.6h-.6zM500.1 105.3h.6v.6h-.6zM498.1 108.4h.6v.6h-.6zM499.6 103.9h.6v.6h-.6zM456.5 121.6h.6v.6h-.6zM479.2 76.7h.6v.6h-.6zM494.7 47.9h.6v.6h-.6zM484.0 63.4h.6v.6h-.6zM463.6 86.3h.6v.6h-.6zM475.4 87.1h.6v.6h-.6zM498.5 102.9h.6v.6h-.6zM501.0 95.9h.6v.6h-.6zM467.7 117.0h.6v.6h-.6zM466.2 87.6h.6v.6h-.6zM484.2 56.3h.6v.6h-.6zM444.9 120.5h.6v.6h-.6zM452.6 86.5h.6v.6h-.6zM472.1 87.4h.6v.6h-.6zM449.0 91.8h.6v.6h-.6zM456.8 89.8h.6v.6h-.6zM449.5 119.1h.6v.6h-.6zM439.2 90.7h.6v.6h-.6zM438.5 91.0h.6v.6h-.6zM468.2 119.3h.6v.6h-.6zM476.9 83.3h.6v.6h-.6zM432.2 119.1h.6v.6h-.6zM440.1 121.9h.6v.6h-.6zM458.5 86.6h.6v.6h-.6zM497.2 106.7h.6v.6h-.6zM472.8 86.3h.6v.6h-.6zM493.6 51.6h.6v.6h-.6zM485.7 116.6h.6v.6h-.6zM486.5 51.7h.6v.6h-.6zM491.6 115.1h.6v.6h-.6zM497.4 105.2h.6v.6h-.6zM499.6 98.4h.6v.6h-.6zM450.6 119.2h.6v.6h-.6zM498.6 51.5h.6v.6h-.6zM475.2 85.1h.6v.6h-.6zM499.5 57.7h.6v.6h-.6zM450.8 121.2h.6v.6h-.6zM447.8 121.3h.6v.6h-.6zM504.3 92.0h.6v.6h-.6zM492.7 52.7h.6v.6h-.6zM473.5 118.0h.6v.6h-.6zM465.6 117.5h.6v.6h-.6zM457.4 88.9h.6v.6h-.6zM492.5 44.2h.6v.6h-.6zM470.5 88.7h.6v.6h-.6zM505.3 93.7h.6v.6h-.6zM459.2 122.0h.6v.6h-.6zM500.5 94.2h.6v.6h-.6zM483.1 57.4h.6v.6h-.6zM465.4 117.5h.6v.6h-.6zM480.2 119.1h.6v.6h-.6zM502.5 93.1h.6v.6h-.6zM501.9 86.1h.6v.6h-.6zM502.2 87.6h.6v.6h-.6zM472.9 116.1h.6v.6h-.6zM490.6 113.9h.6v.6h-.6zM500.0 53.4h.6v.6h-.6zM476.2 115.4h.6v.6h-.6zM480.1 79.8h.6v.6h-.6zM488.4 55.6h.6v.6h-.6zM500.6 102.1h.6v.6h-.6zM461.6 118.3h.6v.6h-.6zM488.6 56.0h.6v.6h-.6zM503.4 102.0h.6v.6h-.6zM466.2 117.2h.6v.6h-.6zM497.6 108.8h.6v.6h-.6zM436.4 120.7h.6v.6h-.6zM481.0 73.9h.6v.6h-.6zM490.6 113.4h.6v.6h-.6zM480.8 116.6h.6v.6h-.6zM483.1 73.7h.6v.6h-.6zM468.8 86.6h.6v.6h-.6zM436.6 90.3h.6v.6h-.6zM502.1 87.7h.6v.6h-.6zM483.4 58.4h.6v.6h-.6zM448.8 119.3h.6v.6h-.6zM493.3 111.3h.6v.6h-.6zM452.0 121.2h.6v.6h-.6zM485.2 116.2h.6v.6h-.6zM476.5 82.4h.6v.6h-.6zM483.2 117.7h.6v.6h-.6zM478.3 81.5h.6v.6h-.6zM479.8 77.6h.6v.6h-.6zM476.2 117.8h.6v.6h-.6zM457.4 90.2h.6v.6h-.6zM444.8 120.4h.6v.6h-.6zM493.1 111.2h.6v.6h-.6zM482.5 75.6h.6v.6h-.6zM449.7 84.0h.6v.6h-.6zM467.6 86.8h.6v.6h-.6zM500.8 58.8h.6v.6h-.6zM473.2 85.3h.6v.6h-.6zM455.7 84.8h.6v.6h-.6zM459.8 88.9h.6v.6h-.6zM481.6 116.8h.6v.6h-.6zM443.6 91.2h.6v.6h-.6zM457.3 88.4h.6v.6h-.6zM502.8 87.8h.6v.6h-.6zM476.2 120.4h.6v.6h-.6zM506.2 101.7h.6v.6h-.6zM501.8 99.3h.6v.6h-.6zM471.6 117.1h.6v.6h-.6zM476.1 116.4h.6v.6h-.6zM497.0 106.6h.6v.6h-.6zM489.8 55.1h.6v.6h-.6zM435.5 89.8h.6v.6h-.6zM490.8 45.3h.6v.6h-.6zM450.5 121.7h.6v.6h-.6zM448.7 119.3h.6v.6h-.6zM488.4 119.5h.6v.6h-.6zM505.3 104.1h.6v.6h-.6zM506.7 86.4h.6v.6h-.6zM501.6 92.3h.6v.6h-.6zM447.7 87.9h.6v.6h-.6zM503.3 108.4h.6v.6h-.6zM446.1 90.6h.6v.6h-.6zM479.2 67.9h.6v.6h-.6zM441.9 122.2h.6v.6h-.6zM506.9 96.9h.6v.6h-.6zM451.6 119.9h.6v.6h-.6zM481.7 79.2h.6v.6h-.6zM450.0 90.9h.6v.6h-.6zM444.2 122.0h.6v.6h-.6zM465.5 119.8h.6v.6h-.6zM436.6 87.7h.6v.6h-.6zM503.5 88.7h.6v.6h-.6zM476.8 78.2h.6v.6h-.6zM453.3 119.4h.6v.6h-.6zM446.3 92.5h.6v.6h-.6zM497.0 104.9h.6v.6h-.6zM464.4 118.3h.6v.6h-.6zM432.4 117.4h.6v.6h-.6zM470.0 116.7h.6v.6h-.6zM459.1 90.1h.6v.6h-.6zM484.4 117.4h.6v.6h-.6zM469.8 120.4h.6v.6h-.6zM507.8 77.0h.6v.6h-.6zM478.2 81.6h.6v.6h-.6z" fill="#8c8c8c"/><path d="M440.1 120.8l-1 0-1-.1-.7-.2-.7-.2-.6-.3-.7-.4-.7-.4-.4-.4-.6-.4-.5-.6-.5-.5-.4-.5-.5-.6-.4-.6 0-1.1 0-1 0-1 0-1 0-1 0-1 0-1 0-1 0-1 0-1 0-1 0-1 0-1 0-1 0-1 0-1 .3-1 .4-.4 .5-.6 .5-.4 .6-.6 .5-.3 .4-.4 .5-.3 .6-.3 .6-.4 .8-.3 .6-.3 .7-.2 .7-.2 .6-.2 .7-.1 .7-.2 .6-.1 .7-.2 .7-.1 .6-.1 .7-.2 .7-.1 .6-.2 .7-.1 .7-.2 .6-.1 .7-.2 .7-.1 .6-.2 .7-.1 .7-.1 .6-.1 .7-.2 .7 0 .6-.1 .7-.1 1-.1 .7-.1 1-.1 1 0 1-.1 1 0 1 0 1 0 1 0 1 0 1-.1 .8 0 .8-.1 .7-.1 .7-.2 .6-.2 .7-.2 .7-.2 .6-.2 .7-.3 .6-.2 .7-.3 .7-.3 .7-.3 .6-.3 .7-.3 .7-.3 .6-.4 .7-.4 .5-.4 .5-.4 .6-.6 .4-.4 .5-.6 .4-.7 .4-.6 .4-.7 .3-.7 .3-.6 .2-.7 .3-.7 .2-.5 .3-.8 .2-.7 .2-.6 .2-.7 .1-.7 .2-.6 .1-.7 .1-.7 .1-.6 .1-1 .1-1 .1-1 .1-.7 .1-.7 .1-.6 .1-.7 .2-.7 .1-.6 .2-.7 .1-.7 .2-.6 .2-.7 .2-.7 .3-.6 .2-.7 .3-.7 .3-.6 .3-.7 .4-.7 .4-.6 .4-.6 .3-.5 .4-.4 .4-.5 .6-.6 .5-.4 .4-.4 .5-.3 .6-.3 .6-.2 .7-.1 1-.1 .7 .2 .6 .2 .6 .3 .5 .3 .6 .5 .5 .5 .5 .7 .3 .5 .3 .5 .4 .7 .3 .6 .3 .7 .2 .7 .2 .6 .2 .7 .2 .7 .1 .6 .2 .7 .1 .7 .1 .6 .1 1 .1 1 0 1 0 1 0 1 0 1-.1 1 0 1-.1 1-.1 1-.1 .8-.1 .9-.1 1-.1 1-.1 .9 0 .8 0 1 0 1 .1 1 0 1 0 1 0 1 0 1 0 1 0 1 0 1 0 1-.1 .8 0 .8-.1 1-.1 1-.1 .7-.1 .7-.1 .6-.2 .7-.1 .7-.2 .6-.2 .7-.2 .7-.2 .6-.2 .7-.3 .7-.2 .6-.3 .7-.3 .7-.4 .6-.3 .7-.4 .6-.3 .6-.3 .5-.4 .5-.3 .5-.3 .5-.4 .4-.3 .4-.5 .7-.5 .5-.4 .5-.6 .5-.5 .5-.5 .4-.6 .6-.5 .3-.4 .3-.5 .4-.5 .3-.5 .3-.7 .4-.6 .3-.7 .3-.7 .2-.6 .3-.7 .2-.7 .1-.6 .1-.9 .1-.8 .1-1 0-.8-.1-.9 0-1-.2-.6-.1-1-.1-1 0-1-.1-1 .1-1 .2-.7 .1-.7 .1-.6 .2-.7 .1-.7 .2-.6 .2-.7 .1-.7 .2-.6 .1-.7 .2-.7 .1-.6 .1-.7 .2-.7 .1-.6 .1-.7 .1-.7 .1-.6 0-1 .1-1 .1-1 .1-1 .1-1 0-1 0-1 0-1 0-1 0-1 0-1 .1-1 .1-.7 .1-.7 .2-.6 .2-.7 .3-.6 .2-.7 .3-.7 .3-.7 .2-.6 .2-.7 .2-.7 .1M440.4 118.8l-1 .1-1-.2-.7-.1-.6-.3-.7-.3-.7-.4-.6-.4-.7-.7-.6-.7-.4-.4-.3-.5-.4-.5-.3-.5-.3-.7-.4-.7-.2-.7-.1-1 0-1 0-1 0-1 0-1 0-1 0-1 0-1 0-1 .2-.6 .4-.7 .4-.7 .3-.5 .4-.4 .6-.7 .4-.5 .6-.5 .7-.6 .7-.4 .5-.4 .7-.3 .8-.3 .6-.3 .7-.2 .7-.1 .6-.2 .7-.1 .7-.2 .6-.1 .7-.1 .7-.2 .6-.1 .7-.2 .7-.1 .6-.2 .7-.2 .7-.1 .6-.2 .7-.2 .7-.1 .6-.2 .7-.1 .7-.1 .6-.1 .7-.1 .7-.1 1-.1 1-.2 1 0 1-.1 .9 0 .7-.1 1 0 1 0 1 0 1 0 1 0 1 0 1-.2 .7-.1 .7-.2 .6-.2 .7-.2 .7-.3 .6-.2 .7-.3 .7-.3 .6-.3 .7-.3 .7-.2 .6-.3 .7-.3 .7-.3 .6-.3 .7-.4 .7-.4 .6-.4 .6-.4 .4-.4 .7-.6 .3-.4 .5-.6 .4-.7 .4-.6 .3-.7 .3-.7 .3-.6 .3-.7 .2-.6 .3-.7 .2-.7 .2-.7 .3-.6 .2-.7 .2-.7 .2-.6 .1-.7 .2-.7 .1-.6 .1-.7 .1-1 .1-1 .1-1 .1-.7 .1-.6 .1-.7 .1-.7 .2-.6 .1-.7 .2-.7 .2-.6 .2-.7 .3-.7 .2-.6 .3-.7 .3-.7 .4-.6 .4-.7 .4-.6 .3-.4 .6-.7 .4-.4 .7-.5 .7-.4 .6-.2 .7-.2 1 .1 .7 .2 .6 .3 .6 .5 .4 .4 .5 .6 .5 .6 .4 .7 .3 .7 .3 .6 .2 .7 .2 .6 .2 .7 .1 .7 .1 .7 .1 .6 .1 .8 .1 .9 .1 1 0 1 0 1-.1 1 0 1-.1 1-.1 1-.2 1-.1 1-.1 1 0 1-.1 1 0 1 .1 1 0 1 0 1 0 1 0 1 0 1 0 1 0 1-.1 1 0 1-.1 1 0 1-.1 1-.1 1-.1 1-.1 .7-.2 .6-.1 .7-.1 .7-.2 .6-.2 .7-.2 .7-.2 .6-.3 .7-.2 .7-.3 .6-.3 .7-.4 .7-.3 .6-.4 .7-.4 .7-.4 .5-.3 .5-.4 .4-.3 .5-.4 .4-.5 .7-.4 .4-.6 .6-.4 .3-.7 .6-.5 .4-.4 .3-.5 .4-.5 .3-.6 .3-.5 .3-.7 .3-.6 .3-.7 .3-.7 .2-.6 .1-.7 .2-.7 0-1 .1-1 0-.9-.1-.7-.1-.7-.1-.7-.1-.6-.1-.7-.1-1-.1-1 .1-1 0-.7 .2-.6 .1-.7 .2-.7 .1-.6 .2-.7 .2-.7 .2-.6 .2-.7 .2-.7 .2-.6 .2-.7 .1-.7 .2-.6 .1-.7 .2-.7 .1-.6 .1-.7 .1-.7 .1-.6 .1-.8 .1-.9 .1-1 0-1 .1-1 0-1 0-1 0-1 0-1 0-1 0-1 0-1 .1-.7 0-.6 .2-.7 .2-.7 .2-.6 .2-.7 .3-.7 .3-.6 .3-.7 .2-.7 .2-.6 .2-.7 0M441.7 116.5l-.6 .2-.7 .1-1 0-.7-.1-.6-.2-.7-.2-.7-.4-.6-.4-.7-.6-.6-.7-.4-.5-.3-.5-.4-.7-.3-.6-.3-.7-.2-.7-.2-.7-.1-.6-.1-.7-.1-1 .1-1 .1-1 .2-.7 .1-.6 .3-.7 .3-.7 .2-.5 .3-.5 .4-.5 .3-.4 .7-.7 .7-.6 .5-.4 .5-.4 .6-.3 .7-.3 .7-.2 .6-.2 .7-.2 .7-.2 .6-.1 .7-.1 .7-.1 .6-.2 .7-.1 .7-.2 .6-.1 .7-.2 .7-.2 .6-.2 .7-.2 .7-.2 .6-.1 .7-.2 .7-.2 .6-.1 .7-.1 .7-.2 .6-.1 .7-.1 .7 0 1-.2 .8 0 .8-.1 1 0 1-.1 1 0 1 0 1 .1 1 0 1 0 1-.1 1-.1 .7-.1 .7-.2 .6-.3 .7-.2 .6-.3 .7-.3 .7-.3 .7-.4 .6-.3 .7-.3 .7-.3 .6-.3 .7-.2 .7-.3 .6-.3 .7-.3 .7-.3 .6-.4 .6-.3 .6-.3 .4-.4 .5-.3 .6-.6 .4-.4 .6-.7 .3-.5 .3-.5 .4-.6 .3-.7 .3-.7 .2-.6 .3-.7 .2-.7 .3-.6 .2-.7 .3-.7 .2-.6 .3-.7 .2-.7 .3-.6 .2-.7 .2-.7 .1-.6 .1-.7 .1-.7 .1-.6 .1-.8 .1-.9 .1-.7 .1-.6 .1-.7 .1-.7 .2-.6 .1-.7 .2-.6 .2-.7 .3-.7 .3-.7 .3-.6 .4-.7 .4-.7 .4-.5 .5-.5 .5-.4 .7-.3 .7-.2 1 0 .6 .2 .6 .4 .4 .4 .5 .6 .4 .7 .3 .6 .3 .7 .2 .6 .2 .7 .1 .7 .2 .7 0 .6 .1 1 .1 1 0 1-.1 1-.1 1-.1 1-.1 .8-.1 .9-.1 1-.1 1 0 1 0 1 .1 1 0 1 .1 1 0 1 0 1 0 1 0 1 0 1-.1 1-.1 1-.1 1 0 1-.1 1-.1 1-.1 1-.1 1-.1 .7-.1 .6-.1 .7-.2 .7-.2 .6-.1 .6-.3 .8-.2 .6-.3 .7-.2 .6-.4 .7-.3 .7-.3 .6-.4 .5-.3 .6-.3 .4-.4 .5-.3 .4-.5 .7-.5 .5-.4 .5-.6 .5-.5 .5-.5 .4-.7 .4-.6 .5-.6 .3-.7 .4-.7 .3-.7 .2-.7 .2-.6 .2-.7 .1-1 .1-1-.1-.8 0-.9-.2-.6-.1-.7-.1-.7-.2-.6-.1-.7-.1-1-.1-1 .1-.7 0-.6 .2-.7 .2-.7 .2-.6 .2-.7 .2-.7 .3-.6 .2-.7 .2-.7 .3-.6 .2-.7 .2-.7 .2-.6 .2-.7 .2-.6 .1-.7 .2-.7 .1-.7 .1-.6 .1-.7 .1-.7 .1-1 .1-1 .1-1 .1-1 0-1 0-1 0-.8 0-.8 0-1-.1-1 0-1 0-1 0-.8 .1-.9 .2-.7 .2-.6 .3-.7 .3-.7 .3-.6 .2-.7 .3-.6 .2M440.7 114.6l-1 0-.8-.1-.8-.3-.7-.3-.5-.4-.5-.4-.5-.6-.4-.7-.4-.6-.3-.7-.2-.7-.1-.6-.1-.7-.1-1 .1-1 .1-.7 .1-.6 .2-.7 .3-.5 .3-.7 .3-.5 .4-.4 .4-.6 .6-.4 .6-.5 .7-.4 .7-.3 .6-.2 .7-.2 .7-.2 .6-.1 .7-.1 .7-.1 .6-.1 .7-.2 .7-.1 .6-.2 .7-.2 .7-.2 .6-.2 .7-.2 .7-.3 .6-.2 .7-.2 .7-.1 .6-.2 .7-.2 .7-.1 .6-.1 .7-.1 .7-.1 .7-.1 .9-.1 1-.1 1 0 1-.1 1 .1 1 0 1 0 1 .1 1 0 1 0 1-.1 .7-.1 .7-.2 .6-.3 .7-.2 .6-.4 .6-.3 .6-.3 .5-.3 .7-.4 .6-.3 .7-.4 .7-.3 .7-.3 .6-.3 .7-.3 .7-.2 .6-.3 .6-.3 .8-.3 .6-.3 .6-.4 .6-.3 .5-.3 .4-.4 .4-.3 .5-.4 .6-.6 .4-.5 .4-.5 .3-.5 .3-.5 .3-.7 .3-.6 .2-.7 .2-.7 .3-.6 .2-.7 .3-.7 .2-.6 .3-.7 .3-.7 .4-.6 .3-.7 .3-.7 .3-.6 .3-.7 .2-.7 .1-.6 .2-.7 .1-.7 0-.6 .2-1 0-.7 .1-.7 .2-.6 .1-.7 .2-.7 .3-.6 .3-.7 .3-.7 .5-.6 .5-.4 .5-.3 .8 0 .6 .2 .4 .5 .5 .6 .3 .7 .2 .7 .1 .6 .1 .7 .1 1 0 1-.1 .9 0 .8-.2 1-.1 1-.1 1 0 1 .1 1 .1 1 0 .6 .1 .7 .1 .7 .1 .6 .1 1 .1 1 0 1 0 1-.1 1-.1 1-.1 .8-.1 .9-.1 1 0 1-.1 .7-.1 1 0 1-.1 1-.1 .9-.1 .7-.2 .7-.1 .7-.2 .6-.2 .7-.2 .7-.3 .6-.3 .7-.3 .7-.3 .6-.4 .7-.4 .6-.4 .5-.3 .5-.4 .4-.5 .7-.4 .4-.7 .6-.7 .5-.6 .5-.5 .3-.5 .3-.7 .3-.7 .3-.6 .2-.7 .2-.7 .1-1 .1-1-.1-.6-.1-.7-.1-.6-.2-.7-.2-.7-.2-.7-.2-.6-.2-.7-.1-1-.1-.7 0-1 .1-.6 .2-.7 .2-.7 .3-.6 .3-.6 .2-.7 .4-.7 .3-.7 .3-.7 .3-.6 .3-.7 .2-.6 .2-.7 .3-.7 .2-.7 .2-.6 .2-.7 .1-.7 .2-.6 .1-.7 .1-.7 .1-.6 .1-1 .1-1 .1-1 0-1 0-1 0-1 0-.9-.1-.8-.1-1-.1-1 0-1-.1-1 .1-.7 .1-.6 .1-.7 .2-.7 .3-.6 .3-.7 .3-.7 .3-.5 .3-.8 .2-.7 .2M441.4 111.9l-.7 .2-1 0-.6-.1-.7-.3-.6-.5-.4-.4-.3-.5-.4-.7-.2-.8-.1-.6 0-1 .1-1 .2-.7 .3-.7 .4-.6 .7-.7 .6-.5 .7-.4 .7-.2 .6-.2 .7-.1 1-.1 1-.1 1-.2 .7-.1 .6-.2 .7-.2 .7-.3 .6-.3 .7-.3 .7-.3 .6-.2 .7-.3 .7-.2 .6-.3 .7-.2 .7-.1 .6-.2 .7-.1 .7-.1 .6-.1 1-.1 1-.1 1 0 1 0 1 0 1 .1 1 .1 1 .1 1 .1 1 .1 1 0 1-.1 .7-.2 .7-.3 .6-.3 .7-.4 .5-.4 .4-.3 .4-.3 .5-.4 .5-.3 .4-.3 .6-.4 .5-.3 .5-.3 .7-.3 .7-.3 .6-.3 .7-.3 .7-.2 .6-.3 .7-.3 .7-.3 .6-.3 .7-.4 .6-.4 .5-.3 .5-.3 .5-.4 .4-.3 .5-.4 .6-.6 .4-.4 .3-.4 .4-.5 .3-.6 .3-.8 .3-.6 .2-.7 .2-.7 .2-.6 .2-.7 .3-.5 .3-.7 .3-.6 .4-.5 .3-.5 .5-.5 .5-.5 .7-.3 1 0 .5 .4 .5 .7 .3 .7 .2 .6 .2 .7 .2 .7 0 .6 .1 1 0 1-.1 1-.1 .7-.1 .7-.1 .6-.1 .7-.1 1-.1 1 0 1 0 1 0 1-.1 1-.1 1-.1 .7-.1 .6-.2 .7-.2 .7-.2 .6-.3 .7-.3 .7-.3 .6-.4 .7-.4 .6-.3 .4-.3 .5-.5 .5-.5 .5-.6 .5-.4 .4-.7 .4-.7 .4-.6 .3-.7 .3-.7 .2-.6 .1-1 0-1-.1-.7-.2-.6-.1-.7-.3-.7-.3-.7-.2-.6-.3-.7-.2-.7-.2-.6-.1-.7-.1-1-.1-.8 .1-.9 .2-.6 .1-.7 .3-.7 .4-.6 .3-.5 .4-.5 .3-.5 .3-.5 .4-.6 .3-.6 .3-.5 .3-.7 .4-.6 .3-.7 .2-.7 .3-.6 .2-.7 .2-.7 .2-.6 .1-.7 .2-.7 .1-.6 .1-.9 .1-.8 .1-1 0-1 0-1 0-1-.1-1-.1-.7-.1-.6-.1-.7-.1-.7-.1-.6-.2-.7-.1-1 0-1 0-.7 .2-.6 .2-.7 .4-.7 .3-.6 .4-.6 .3-.8 .3M484.7 104.2l-1 .1-1-.1-.6-.2-.7-.2-.7-.3-.6-.3-.7-.3-.7-.4-.6-.2-.7-.3-.7-.2-.6-.3-.7-.2-.7-.3-.6-.3-.6-.5-.2-.7 .1-.9 .3-.6 .3-.5 .4-.4 .6-.6 .5-.3 .5-.4 .5-.3 .6-.3 .6-.3 .7-.3 .7-.3 .6-.3 .7-.3 .7-.3 .6-.4 .7-.3 .7-.4 .6-.4 .7-.4 .5-.3 .5-.3 .6-.4 .5-.3 .6-.4 .5-.3 .5-.3 .6-.4 .6-.3 .8 .2 .3 .6 .3 .9 .2 .6 .1 .7 .2 .7 .1 .6 .1 1 0 1-.1 1-.1 .7-.1 .7-.2 .6-.2 .6-.3 .8-.3 .6-.4 .7-.3 .5-.3 .4-.4 .4-.6 .7-.5 .3-.4 .4-.6 .3-.5 .3-.7 .2-.7 .2M459.1 108.2l-.7 .1-1 .1-1 .1-1-.1-1-.1-.7-.1-.6-.1-.7-.2-.7-.2-.6-.2-.7-.3-.5-.4-.5-.3-.6-.7-.2-.6 .1-.9 .4-.6 .4-.5 .6-.5 .6-.5 .6-.4 .7-.3 .7-.3 .7-.3 .7-.2 .6-.2 .7-.1 .7-.1 .6-.1 1-.1 1 0 1 .1 1 .1 .7 .1 .7 .1 .6 .2 .7 .2 .7 .2 .6 .4 .6 .3 .7 .7 .2 .7-.1 .9-.4 .6-.3 .5-.7 .6-.4 .4-.5 .3-.6 .3-.5 .3-.6 .3-.7 .2-.6 .2-.7 .2-.7 .2M441.1 107.9l-.9-.1-.2-.6 .3-.7 .8-.2 .6 .5-.2 .7-.4 .4M485.1 101.9l-.7 .1-1-.1-.7-.2-.5-.2-.7-.3-.4-.3-.6-.4-.4-.3-.7-.6-.4-.4-.3-.5 0-.9 .4-.6 .6-.6 .6-.4 .4-.4 .5-.3 .5-.3 .6-.4 .6-.3 .5-.3 .6-.4 .7-.3 .7-.3 .7-.2 .6-.2 1 0 .7 .4 .5 .6 .3 .7 .2 .7 0 .9-.1 .7-.1 .7-.2 .7-.3 .5-.3 .6-.3 .5-.6 .7-.4 .4-.7 .5-.7 .3-.6 .2M458.1 105.2l-.7 .1-1 0-.7-.2-.4-.6 .3-.7 .5-.3 .6-.2 .7-.1 1 .1 .6 .2 .5 .7-.4 .6-.7 .3M485.4 99.6l-.7 .2-1-.2-.6-.4-.4-.5-.2-.5 .1-.7 .5-.7 .6-.6 .6-.4 .6-.3 .8-.2 1 .2 .4 .3 .2 .7 0 1-.3 .7-.5 .6-.4 .5-.7 .3" fill="none" stroke="#505050" stroke-width="0.5"/><path d="M432.4,122.6 L436.4,117.7 L500.4,118.1 L506.4,122.6Z" fill="#999" fill-opacity="0.5"/><path d="M433.4,122.6 L435.4,120.1 L502.4,120.3 L506.4,122.6Z" fill="#1e1e1e" fill-opacity="0.9"/><rect x="431.8" y="91.5" width="3.0" height="31.2" fill="#1a1a1a" fill-opacity="0.8"/></g>
<rect x="431.5" y="37.5" width="86" height="86" fill="none" stroke="#707070" stroke-width="1"/>
<line x1="475.50" y1="37.50" x2="475.50" y2="123.50" stroke="#3c3c3c" stroke-width="1"/>
<line x1="431.50" y1="86.50" x2="517.50" y2="86.50" stroke="#3c3c3c" stroke-width="1"/>
<rect x="432" y="38" width="37.8" height="32.3" fill="#fff"/>
<line x1="451.50" y1="38.40" x2="451.50" y2="69.30" stroke="#1e1e1e" stroke-width="1.05"/>
<line x1="433.80" y1="54.50" x2="468.80" y2="54.50" stroke="#262626" stroke-width="1.3"/>
<text x="441.80" y="48.50" style="font-family:'Liberation Serif',serif;font-size:9px;font-weight:normal" text-anchor="middle" fill="#1a1a1a" class="s">0.1</text>
<text x="461.20" y="48.50" style="font-family:'Liberation Serif',serif;font-size:9px;font-weight:normal" text-anchor="middle" fill="#1a1a1a" class="s">12</text>
<text x="441.80" y="63.80" style="font-family:'Liberation Serif',serif;font-size:9px;font-weight:normal" text-anchor="middle" fill="#1a1a1a" class="s">39</text>
<text x="461.20" y="63.80" style="font-family:'Liberation Serif',serif;font-size:9px;font-weight:normal" text-anchor="middle" fill="#1a1a1a" class="s">49</text>
<g><path d="M74.4 235.8l-1 .1-1 0-1-.1-.7-.1-.6-.1-.7-.2-.7-.2-.6-.3-.7-.3-.7-.3-.6-.5-.5-.3-.5-.3-.4-.4-.6-.6-.7-.7-.3-.4-.4-.4-.3-.5-.3-.5-.3-.5-.4-.7-.3-.7-.2-.6-.2-.7-.2-.7-.1-.6-.1-1 0-1 0-1 .1-.8 .1-.9 .2-.7 .2-.6 .2-.7 .3-.7 .3-.6 .3-.7 .4-.6 .3-.5 .4-.5 .3-.4 .6-.7 .4-.4 .6-.6 .7-.5 .6-.5 .5-.3 .6-.3 .6-.4 .6-.3 .8-.3 .7-.3 .6-.2 .7-.3 .7-.2 .6-.2 .7-.1 .7-.2 .6-.2 .7-.2 .6-.1 .7-.2 .7-.2 .7-.2 .6-.3 .7-.2 .7-.2 .6-.2 .7-.2 .7-.3 .6-.2 .7-.2 .7-.2 .6-.2 .7-.2 .7-.1 .6-.2 .7-.2 .7-.1 .6-.2 .7-.1 .7-.1 .6-.2 .7-.1 .7-.1 .6-.1 .7-.1 .7-.1 .6-.1 .7-.1 .7-.1 .6-.1 .7-.1 .7 0 .6-.1 .7-.1 .7-.1 .6-.1 .7-.1 .7-.2 .6-.1 .7-.1 .7-.1 .6-.1 .7-.2 .7-.1 .6-.1 .7-.1 1-.1 1 0 1 0 1 0 1 .1 .7 0 .6 .2 .7 .1 .6 .1 .7 .2 .7 .2 .7 .3 .6 .3 .7 .3 .7 .3 .6 .4 .6 .4 .5 .3 .5 .3 .4 .4 .7 .5 .5 .5 .5 .5 .5 .5 .5 .6 .3 .4 .4 .5 .3 .5 .3 .5 .4 .6 .3 .8 .3 .7 .2 .7 .1 .7 .1 .6 .1 1 0 1-.1 .9-.2 .8-.2 .7-.2 .6-.2 .7-.2 .6-.3 .7-.3 .7-.2 .7-.2 .6-.2 .7 0 .7-.1 1-.1 .8-.1 .8-.3 .7-.4 .7-.5 .5-.6 .5-.4 .3-.6 .3-.6 .4-.5 .2-.6 .3-.7 .3-.7 .2-.6 .3-.7 .2-.7 .2-.6 .2-.7 .1-.7 .2-.6 .1-.7 .2-.7 .1-.6 .1-.7 .1-.7 .1-.6 .1-.7 .1-.7 .1-.9 .1-.7 .1-1 .1-1 .1-1 .1-1 .1-1 .1-1 .1-1 0-1 .1-1 .1-1 0-1 0-1 .1-1 0-1 0-1 0-1 0-1 0-1 0-1 0-1-.1-1 0-1 0-1 0-1 0-1 0-1 .2-.7 .1-.7 .1-.6 .1-.7 .2-.7 .1-.6 .2-.7 .1-.7 .2-.6 .1z" fill="#ececec" stroke="none"/><clipPath id="cl10"><rect x="58.4" y="200.5" width="85.8" height="39.6"/></clipPath><path d="M74.7 231.9l-1 0-1 0-.8-.1-.8-.1-.6-.2-.8-.3-.6-.3-.7-.4-.5-.3-.5-.4-.6-.6-.4-.5-.3-.4-.4-.5-.3-.6-.3-.7-.2-.7-.2-.6-.1-.7-.1-1 0-1 .1-1 .2-.7 .2-.6 .2-.7 .3-.7 .4-.6 .4-.7 .4-.5 .5-.5 .5-.5 .6-.5 .5-.3 .5-.4 .6-.3 .8-.3 .7-.3 .7-.3 .6-.1 .7-.2 .7-.2 .6-.1 .7-.2 .7-.1 .6-.2 .7-.2 .6-.1 .7-.3 .7-.2 .7-.2 .6-.3 .7-.3 .7-.2 .6-.3 .7-.2 .7-.3 .6-.2 .7-.3 .7-.2 .6-.2 .7-.2 .7-.2 .6-.2 .7-.1 .7-.2 .6-.1 .7-.2 .7-.1 .6-.1 .7-.1 .7-.1 .6-.1 .7-.1 .7-.1 .6-.1 .7-.1 .7-.1 .6-.1 .7-.1 .7-.1 .6-.1 .7-.1 .7-.1 .6-.1 .7-.2 .7-.1 .6-.2 .7-.1 .7-.1 .6-.2 .7-.1 .7 0 1-.1 1-.1 1 0 1 .1 .6 .1 .7 .2 .7 .2 .6 .2 .7 .2 .6 .3 .6 .3 .6 .3 .5 .4 .5 .3 .5 .5 .6 .5 .4 .5 .5 .5 .5 .7 .4 .6 .3 .7 .3 .7 .2 .6 .2 .7 .1 .7 .1 1 0 1-.1 .6-.2 .7-.1 .7-.3 .6-.2 .6-.3 .7-.4 .7-.3 .5-.3 .5-.4 .6-.3 .6-.3 .5-.4 .6-.3 .5-.3 .6-.4 .6-.3 .5-.3 .4-.5 .5-.5 .5-.7 .4-.6 .4-.7 .3-.7 .3-.7 .3-.6 .2-.7 .2-.7 .2-.6 .2-.7 .1-.7 .1-.6 .2-.7 .1-.7 .1-.6 .1-.7 .1-.7 .1-.7 .1-.9 .1-1 .1-1 .1-1 0-1 .1-1 .1-1 0-1 0-1 0-1 0-1 0-1 0-1 0-1-.1-1-.1-1 0-1-.1-1-.1-1-.1-1-.1-1-.1-1 0-1 0-1 0-1 .1-.7 .1-.7 .2-.6 .1-.7 .1-.7 .1-.6 .1z" fill="#d8d8d8" stroke="none" clip-path="url(#cl10)"/><ellipse cx="0" cy="0" rx="11" ry="2.0" fill="#555" fill-opacity="0.35" transform="translate(97.4,209.5) rotate(-6)"/><path d="M118.9 180.5h.6v.6h-.6zM118.2 189.5h.6v.6h-.6zM124.8 196.3h.6v.6h-.6zM117.2 188.8h.6v.6h-.6zM109.5 205.9h.6v.6h-.6zM117.3 183.0h.6v.6h-.6zM120.5 204.1h.6v.6h-.6zM124.6 185.6h.6v.6h-.6zM128.7 174.0h.6v.6h-.6zM109.3 197.7h.6v.6h-.6zM114.0 175.0h.6v.6h-.6zM116.4 189.3h.6v.6h-.6zM122.8 200.0h.6v.6h-.6zM116.3 198.8h.6v.6h-.6zM113.8 195.2h.6v.6h-.6zM116.1 186.8h.6v.6h-.6zM110.2 189.8h.6v.6h-.6zM113.6 178.0h.6v.6h-.6zM119.7 184.2h.6v.6h-.6zM116.9 182.6h.6v.6h-.6zM109.2 182.5h.6v.6h-.6zM106.7 196.5h.6v.6h-.6zM125.0 185.4h.6v.6h-.6zM125.4 183.1h.6v.6h-.6zM116.7 182.2h.6v.6h-.6zM116.1 197.1h.6v.6h-.6zM122.3 186.5h.6v.6h-.6zM122.7 189.5h.6v.6h-.6zM125.2 189.2h.6v.6h-.6zM127.9 185.6h.6v.6h-.6zM118.9 193.1h.6v.6h-.6zM104.7 191.2h.6v.6h-.6zM121.5 181.5h.6v.6h-.6zM115.5 182.6h.6v.6h-.6zM107.0 180.6h.6v.6h-.6zM121.8 186.9h.6v.6h-.6zM127.6 203.3h.6v.6h-.6zM114.3 184.5h.6v.6h-.6zM120.7 195.2h.6v.6h-.6zM123.5 178.1h.6v.6h-.6zM119.4 188.4h.6v.6h-.6zM121.1 194.1h.6v.6h-.6zM115.8 187.2h.6v.6h-.6zM116.0 188.5h.6v.6h-.6zM117.0 199.3h.6v.6h-.6zM120.0 175.9h.6v.6h-.6zM118.1 190.9h.6v.6h-.6zM111.6 197.1h.6v.6h-.6zM113.3 198.0h.6v.6h-.6zM119.0 182.9h.6v.6h-.6zM118.2 179.1h.6v.6h-.6zM115.3 188.0h.6v.6h-.6zM119.9 182.6h.6v.6h-.6zM114.7 181.9h.6v.6h-.6zM127.6 180.4h.6v.6h-.6zM117.3 172.1h.6v.6h-.6zM134.4 196.6h.6v.6h-.6zM121.0 198.5h.6v.6h-.6zM110.4 199.4h.6v.6h-.6zM122.9 190.8h.6v.6h-.6zM115.2 182.9h.6v.6h-.6zM115.0 182.3h.6v.6h-.6zM116.7 191.9h.6v.6h-.6zM128.2 187.0h.6v.6h-.6zM117.7 199.5h.6v.6h-.6zM111.8 186.1h.6v.6h-.6zM108.0 190.1h.6v.6h-.6zM112.6 201.8h.6v.6h-.6zM116.1 184.4h.6v.6h-.6zM114.1 178.2h.6v.6h-.6zM117.6 181.6h.6v.6h-.6zM114.0 199.2h.6v.6h-.6zM117.2 195.3h.6v.6h-.6zM102.4 179.3h.6v.6h-.6zM127.0 193.8h.6v.6h-.6zM108.8 187.1h.6v.6h-.6zM116.1 200.7h.6v.6h-.6zM116.2 190.1h.6v.6h-.6zM118.2 188.4h.6v.6h-.6zM121.6 188.0h.6v.6h-.6zM117.8 193.8h.6v.6h-.6zM124.4 205.3h.6v.6h-.6zM108.7 184.2h.6v.6h-.6zM126.1 200.1h.6v.6h-.6zM116.4 182.7h.6v.6h-.6zM125.7 191.1h.6v.6h-.6zM120.0 180.9h.6v.6h-.6zM122.4 193.4h.6v.6h-.6zM122.1 177.1h.6v.6h-.6zM128.0 201.3h.6v.6h-.6zM127.8 223.9h.6v.6h-.6zM123.3 219.7h.6v.6h-.6zM124.6 216.1h.6v.6h-.6zM122.0 232.3h.6v.6h-.6zM128.6 216.4h.6v.6h-.6zM128.9 229.5h.6v.6h-.6zM121.1 224.0h.6v.6h-.6zM128.4 206.2h.6v.6h-.6zM125.6 211.4h.6v.6h-.6zM131.7 219.9h.6v.6h-.6zM127.3 210.2h.6v.6h-.6zM128.7 206.8h.6v.6h-.6zM130.4 212.6h.6v.6h-.6zM129.7 216.6h.6v.6h-.6zM123.8 221.1h.6v.6h-.6zM128.5 214.9h.6v.6h-.6zM128.6 221.2h.6v.6h-.6zM127.5 214.1h.6v.6h-.6zM121.3 233.4h.6v.6h-.6zM126.4 222.5h.6v.6h-.6zM124.9 220.5h.6v.6h-.6zM128.7 211.4h.6v.6h-.6zM125.0 210.1h.6v.6h-.6zM125.5 211.2h.6v.6h-.6zM126.4 216.3h.6v.6h-.6zM126.9 196.3h.6v.6h-.6zM125.8 205.1h.6v.6h-.6zM121.5 212.2h.6v.6h-.6zM122.2 212.5h.6v.6h-.6zM128.0 206.9h.6v.6h-.6zM127.5 217.5h.6v.6h-.6zM125.3 231.9h.6v.6h-.6zM131.2 211.0h.6v.6h-.6zM123.6 227.0h.6v.6h-.6zM129.9 208.4h.6v.6h-.6zM122.4 215.5h.6v.6h-.6zM123.8 231.0h.6v.6h-.6zM127.5 229.1h.6v.6h-.6zM127.0 220.2h.6v.6h-.6zM130.7 217.7h.6v.6h-.6zM123.9 199.9h.6v.6h-.6zM129.9 229.9h.6v.6h-.6zM130.5 211.9h.6v.6h-.6zM122.6 201.3h.6v.6h-.6zM118.5 231.8h.6v.6h-.6zM120.8 211.1h.6v.6h-.6zM129.9 222.9h.6v.6h-.6zM121.1 212.8h.6v.6h-.6zM72.2 206.9h.6v.6h-.6zM62.2 233.7h.6v.6h-.6zM130.3 213.2h.6v.6h-.6zM107.2 200.2h.6v.6h-.6zM134.6 219.3h.6v.6h-.6zM63.1 203.4h.6v.6h-.6zM109.9 200.0h.6v.6h-.6zM130.2 221.9h.6v.6h-.6zM69.9 194.6h.6v.6h-.6zM104.9 233.5h.6v.6h-.6zM135.3 231.7h.6v.6h-.6zM82.7 194.7h.6v.6h-.6zM83.7 236.2h.6v.6h-.6zM88.7 201.4h.6v.6h-.6zM115.9 199.5h.6v.6h-.6zM60.7 217.2h.6v.6h-.6zM133.7 210.2h.6v.6h-.6zM120.0 203.1h.6v.6h-.6zM126.5 229.4h.6v.6h-.6zM107.5 234.0h.6v.6h-.6zM100.0 199.7h.6v.6h-.6zM124.5 230.3h.6v.6h-.6zM106.6 235.2h.6v.6h-.6zM77.5 206.9h.6v.6h-.6zM99.0 199.5h.6v.6h-.6zM121.6 235.7h.6v.6h-.6zM129.7 215.6h.6v.6h-.6zM94.8 235.4h.6v.6h-.6zM98.7 201.7h.6v.6h-.6zM93.8 201.7h.6v.6h-.6zM115.2 233.1h.6v.6h-.6zM130.8 220.0h.6v.6h-.6zM110.7 234.4h.6v.6h-.6zM62.3 209.7h.6v.6h-.6zM82.5 237.5h.6v.6h-.6zM101.1 201.8h.6v.6h-.6zM129.4 213.0h.6v.6h-.6zM117.2 200.2h.6v.6h-.6zM109.0 234.0h.6v.6h-.6zM70.0 208.3h.6v.6h-.6zM89.7 200.2h.6v.6h-.6zM132.1 215.3h.6v.6h-.6zM119.1 232.7h.6v.6h-.6zM90.0 235.8h.6v.6h-.6zM141.1 229.7h.6v.6h-.6zM76.3 206.6h.6v.6h-.6zM61.8 229.9h.6v.6h-.6zM124.4 205.0h.6v.6h-.6zM83.5 204.5h.6v.6h-.6zM125.2 208.3h.6v.6h-.6zM105.3 234.0h.6v.6h-.6zM131.7 213.7h.6v.6h-.6zM110.9 193.2h.6v.6h-.6zM105.1 196.9h.6v.6h-.6zM126.2 233.7h.6v.6h-.6zM108.2 201.2h.6v.6h-.6zM113.3 236.0h.6v.6h-.6zM133.6 228.2h.6v.6h-.6zM60.0 227.4h.6v.6h-.6zM83.8 201.1h.6v.6h-.6zM68.1 209.1h.6v.6h-.6zM137.8 232.3h.6v.6h-.6zM61.3 208.7h.6v.6h-.6zM76.8 236.4h.6v.6h-.6zM60.3 227.0h.6v.6h-.6zM80.7 235.3h.6v.6h-.6zM93.7 191.0h.6v.6h-.6zM62.0 205.7h.6v.6h-.6zM110.9 234.9h.6v.6h-.6zM118.9 238.8h.6v.6h-.6zM105.3 236.1h.6v.6h-.6zM126.7 207.1h.6v.6h-.6zM70.3 207.3h.6v.6h-.6zM120.1 201.7h.6v.6h-.6zM119.3 202.9h.6v.6h-.6zM65.4 212.3h.6v.6h-.6zM110.4 200.2h.6v.6h-.6zM73.2 208.7h.6v.6h-.6zM99.3 235.4h.6v.6h-.6zM60.5 230.7h.6v.6h-.6zM124.6 207.0h.6v.6h-.6zM74.4 207.6h.6v.6h-.6zM111.6 200.8h.6v.6h-.6zM131.9 226.0h.6v.6h-.6zM69.2 239.1h.6v.6h-.6zM126.2 207.8h.6v.6h-.6zM60.1 218.7h.6v.6h-.6zM130.9 215.3h.6v.6h-.6zM70.2 206.9h.6v.6h-.6zM66.2 237.9h.6v.6h-.6zM127.0 221.5h.6v.6h-.6zM83.4 196.2h.6v.6h-.6zM77.1 235.8h.6v.6h-.6zM129.3 219.7h.6v.6h-.6zM79.5 206.0h.6v.6h-.6zM62.3 229.9h.6v.6h-.6zM102.7 198.3h.6v.6h-.6zM91.0 192.6h.6v.6h-.6zM106.8 193.4h.6v.6h-.6zM107.1 234.7h.6v.6h-.6zM108.5 201.2h.6v.6h-.6zM63.5 208.9h.6v.6h-.6zM131.7 212.0h.6v.6h-.6zM78.6 204.9h.6v.6h-.6zM128.0 220.4h.6v.6h-.6zM96.5 201.9h.6v.6h-.6zM132.7 207.1h.6v.6h-.6zM95.2 202.6h.6v.6h-.6zM66.4 211.3h.6v.6h-.6zM83.6 198.1h.6v.6h-.6zM60.1 220.3h.6v.6h-.6zM97.0 199.9h.6v.6h-.6zM126.3 227.4h.6v.6h-.6zM96.0 198.6h.6v.6h-.6zM130.5 219.1h.6v.6h-.6zM96.6 235.3h.6v.6h-.6zM130.5 201.1h.6v.6h-.6zM80.6 237.0h.6v.6h-.6zM121.4 232.6h.6v.6h-.6zM132.2 220.8h.6v.6h-.6zM70.4 206.9h.6v.6h-.6zM120.5 202.8h.6v.6h-.6zM140.8 217.7h.6v.6h-.6zM140.8 212.5h.6v.6h-.6zM128.6 205.4h.6v.6h-.6zM104.4 196.0h.6v.6h-.6zM87.8 234.2h.6v.6h-.6zM82.3 235.3h.6v.6h-.6zM100.8 199.2h.6v.6h-.6zM72.5 237.7h.6v.6h-.6zM124.9 226.0h.6v.6h-.6zM135.0 228.4h.6v.6h-.6zM124.6 206.5h.6v.6h-.6zM121.7 234.0h.6v.6h-.6zM121.3 204.2h.6v.6h-.6zM84.8 235.0h.6v.6h-.6zM127.1 205.6h.6v.6h-.6zM127.6 214.8h.6v.6h-.6zM125.8 230.6h.6v.6h-.6zM124.4 208.4h.6v.6h-.6zM78.2 237.4h.6v.6h-.6zM129.3 218.0h.6v.6h-.6zM78.0 238.8h.6v.6h-.6zM101.5 194.3h.6v.6h-.6zM134.5 211.1h.6v.6h-.6zM93.0 202.2h.6v.6h-.6zM111.6 200.6h.6v.6h-.6zM102.6 202.3h.6v.6h-.6zM127.3 212.5h.6v.6h-.6zM82.4 201.3h.6v.6h-.6zM59.3 226.5h.6v.6h-.6zM116.5 232.5h.6v.6h-.6zM71.2 204.0h.6v.6h-.6zM81.1 237.2h.6v.6h-.6zM99.3 236.4h.6v.6h-.6zM118.0 202.3h.6v.6h-.6zM108.3 200.7h.6v.6h-.6zM128.1 227.3h.6v.6h-.6zM103.5 234.2h.6v.6h-.6zM102.6 201.0h.6v.6h-.6zM127.5 218.6h.6v.6h-.6zM62.6 230.8h.6v.6h-.6zM111.7 199.4h.6v.6h-.6zM133.7 226.1h.6v.6h-.6zM135.7 210.6h.6v.6h-.6zM133.5 213.0h.6v.6h-.6zM94.2 200.9h.6v.6h-.6zM130.1 218.3h.6v.6h-.6zM61.9 214.9h.6v.6h-.6zM60.4 218.4h.6v.6h-.6zM74.6 206.0h.6v.6h-.6zM130.9 210.8h.6v.6h-.6zM127.2 208.7h.6v.6h-.6zM90.6 196.7h.6v.6h-.6zM92.3 236.6h.6v.6h-.6zM71.4 236.7h.6v.6h-.6zM131.3 208.6h.6v.6h-.6zM128.9 231.9h.6v.6h-.6zM96.9 202.1h.6v.6h-.6zM59.6 226.5h.6v.6h-.6zM114.8 199.1h.6v.6h-.6zM109.9 234.3h.6v.6h-.6zM118.5 231.4h.6v.6h-.6zM109.6 198.0h.6v.6h-.6zM108.0 196.9h.6v.6h-.6zM62.8 203.2h.6v.6h-.6zM128.6 223.1h.6v.6h-.6zM128.1 207.5h.6v.6h-.6zM126.9 218.7h.6v.6h-.6zM87.1 202.1h.6v.6h-.6zM102.7 200.7h.6v.6h-.6zM93.3 201.7h.6v.6h-.6zM108.9 233.3h.6v.6h-.6zM63.9 232.9h.6v.6h-.6zM74.7 205.1h.6v.6h-.6zM96.8 234.6h.6v.6h-.6zM73.9 238.4h.6v.6h-.6zM82.3 203.5h.6v.6h-.6zM122.9 230.3h.6v.6h-.6zM77.0 207.9h.6v.6h-.6zM129.7 221.8h.6v.6h-.6zM132.5 225.7h.6v.6h-.6zM105.3 197.5h.6v.6h-.6zM71.1 236.9h.6v.6h-.6zM132.0 212.4h.6v.6h-.6zM86.6 200.1h.6v.6h-.6zM109.5 233.7h.6v.6h-.6zM104.6 197.3h.6v.6h-.6zM75.2 207.0h.6v.6h-.6zM60.4 220.3h.6v.6h-.6zM63.1 208.2h.6v.6h-.6zM125.8 220.6h.6v.6h-.6zM127.5 209.4h.6v.6h-.6z" fill="#8c8c8c"/><path d="M74.4 235.8l-1 .1-1 0-1-.1-.7-.1-.6-.1-.7-.2-.7-.2-.6-.3-.7-.3-.7-.3-.6-.5-.5-.3-.5-.3-.4-.4-.6-.6-.7-.7-.3-.4-.4-.4-.3-.5-.3-.5-.3-.5-.4-.7-.3-.7-.2-.6-.2-.7-.2-.7-.1-.6-.1-1 0-1 0-1 .1-.8 .1-.9 .2-.7 .2-.6 .2-.7 .3-.7 .3-.6 .3-.7 .4-.6 .3-.5 .4-.5 .3-.4 .6-.7 .4-.4 .6-.6 .7-.5 .6-.5 .5-.3 .6-.3 .6-.4 .6-.3 .8-.3 .7-.3 .6-.2 .7-.3 .7-.2 .6-.2 .7-.1 .7-.2 .6-.2 .7-.2 .6-.1 .7-.2 .7-.2 .7-.2 .6-.3 .7-.2 .7-.2 .6-.2 .7-.2 .7-.3 .6-.2 .7-.2 .7-.2 .6-.2 .7-.2 .7-.1 .6-.2 .7-.2 .7-.1 .6-.2 .7-.1 .7-.1 .6-.2 .7-.1 .7-.1 .6-.1 .7-.1 .7-.1 .6-.1 .7-.1 .7-.1 .6-.1 .7-.1 .7 0 .6-.1 .7-.1 .7-.1 .6-.1 .7-.1 .7-.2 .6-.1 .7-.1 .7-.1 .6-.1 .7-.2 .7-.1 .6-.1 .7-.1 1-.1 1 0 1 0 1 0 1 .1 .7 0 .6 .2 .7 .1 .6 .1 .7 .2 .7 .2 .7 .3 .6 .3 .7 .3 .7 .3 .6 .4 .6 .4 .5 .3 .5 .3 .4 .4 .7 .5 .5 .5 .5 .5 .5 .5 .5 .6 .3 .4 .4 .5 .3 .5 .3 .5 .4 .6 .3 .8 .3 .7 .2 .7 .1 .7 .1 .6 .1 1 0 1-.1 .9-.2 .8-.2 .7-.2 .6-.2 .7-.2 .6-.3 .7-.3 .7-.2 .7-.2 .6-.2 .7 0 .7-.1 1-.1 .8-.1 .8-.3 .7-.4 .7-.5 .5-.6 .5-.4 .3-.6 .3-.6 .4-.5 .2-.6 .3-.7 .3-.7 .2-.6 .3-.7 .2-.7 .2-.6 .2-.7 .1-.7 .2-.6 .1-.7 .2-.7 .1-.6 .1-.7 .1-.7 .1-.6 .1-.7 .1-.7 .1-.9 .1-.7 .1-1 .1-1 .1-1 .1-1 .1-1 .1-1 .1-1 0-1 .1-1 .1-1 0-1 0-1 .1-1 0-1 0-1 0-1 0-1 0-1 0-1 0-1-.1-1 0-1 0-1 0-1 0-1 0-1 .2-.7 .1-.7 .1-.6 .1-.7 .2-.7 .1-.6 .2-.7 .1-.7 .2-.6 .1M74.7 233.9l-1 0-1 .1-1-.1-.6-.1-.7-.2-.7-.2-.6-.2-.7-.3-.7-.3-.6-.4-.5-.4-.4-.3-.5-.4-.5-.6-.5-.5-.3-.4-.3-.5-.4-.6-.3-.6-.3-.7-.2-.7-.2-.7-.2-.6-.1-.7 0-1 0-1 .1-1 .1-.7 .2-.6 .2-.7 .2-.7 .3-.6 .3-.7 .4-.7 .5-.6 .4-.5 .4-.5 .6-.6 .5-.4 .4-.4 .5-.3 .5-.3 .5-.4 .6-.3 .6-.3 .7-.2 .7-.3 .6-.2 .7-.2 .7-.2 .6-.2 .7-.1 .7-.2 .6-.2 .7-.1 .7-.2 .6-.2 .7-.2 .7-.3 .6-.2 .7-.2 .7-.3 .6-.2 .7-.2 .7-.3 .6-.2 .7-.2 .7-.2 .6-.2 .7-.2 .6-.2 .7-.2 .6-.1 .8-.2 .6-.1 .7-.2 .7-.1 .6-.1 .7-.1 .7-.1 .6-.1 .7-.1 .7-.1 .6-.1 .7-.1 .7-.1 .6-.1 .7-.1 .7-.1 .6-.1 .7-.1 .7-.1 .6-.1 .7-.1 .7-.1 .6-.2 .7-.1 .7-.1 .6-.2 .7-.1 .7-.1 .6-.1 .7 0 1-.1 1 0 1 0 1 .1 .7 .1 .6 .1 .7 .2 .7 .2 .6 .2 .7 .3 .5 .2 .7 .3 .6 .4 .5 .3 .6 .3 .4 .4 .4 .3 .6 .5 .5 .5 .5 .6 .4 .4 .5 .7 .5 .6 .3 .6 .3 .7 .3 .7 .2 .7 .2 .6 .1 .7 .1 1 0 1-.1 1-.1 .7-.2 .7-.2 .6-.2 .7-.3 .7-.3 .6-.3 .7-.3 .7-.3 .6-.3 .7-.2 .7-.2 .6-.2 .7-.3 .7-.3 .6-.4 .7-.6 .7-.7 .6-.7 .4-.6 .3-.6 .3-.8 .3-.7 .3-.6 .2-.7 .2-.7 .2-.6 .2-.7 .1-.7 .2-.6 .1-.7 .1-.7 .1-.6 .2-.7 .1-.7 0-.6 .1-.7 .1-1 .1-1 .1-1 .1-1 .1-1 .1-1 .1-1 .1-1 0-1 .1-1 0-1 0-1 0-1 0-1 0-1 0-1 0-1-.1-1 0-1-.1-1 0-1-.1-1 0-1-.1-1 0-1 .1-.9 0-.8 .1-.6 .2-.7 .1-.7 .1-.6 .2-.7 .1-.7 .1-.6 .1M74.7 231.9l-1 0-1 0-.8-.1-.8-.1-.6-.2-.8-.3-.6-.3-.7-.4-.5-.3-.5-.4-.6-.6-.4-.5-.3-.4-.4-.5-.3-.6-.3-.7-.2-.7-.2-.6-.1-.7-.1-1 0-1 .1-1 .2-.7 .2-.6 .2-.7 .3-.7 .4-.6 .4-.7 .4-.5 .5-.5 .5-.5 .6-.5 .5-.3 .5-.4 .6-.3 .8-.3 .7-.3 .7-.3 .6-.1 .7-.2 .7-.2 .6-.1 .7-.2 .7-.1 .6-.2 .7-.2 .6-.1 .7-.3 .7-.2 .7-.2 .6-.3 .7-.3 .7-.2 .6-.3 .7-.2 .7-.3 .6-.2 .7-.3 .7-.2 .6-.2 .7-.2 .7-.2 .6-.2 .7-.1 .7-.2 .6-.1 .7-.2 .7-.1 .6-.1 .7-.1 .7-.1 .6-.1 .7-.1 .7-.1 .6-.1 .7-.1 .7-.1 .6-.1 .7-.1 .7-.1 .6-.1 .7-.1 .7-.1 .6-.1 .7-.2 .7-.1 .6-.2 .7-.1 .7-.1 .6-.2 .7-.1 .7 0 1-.1 1-.1 1 0 1 .1 .6 .1 .7 .2 .7 .2 .6 .2 .7 .2 .6 .3 .6 .3 .6 .3 .5 .4 .5 .3 .5 .5 .6 .5 .4 .5 .5 .5 .5 .7 .4 .6 .3 .7 .3 .7 .2 .6 .2 .7 .1 .7 .1 1 0 1-.1 .6-.2 .7-.1 .7-.3 .6-.2 .6-.3 .7-.4 .7-.3 .5-.3 .5-.4 .6-.3 .6-.3 .5-.4 .6-.3 .5-.3 .6-.4 .6-.3 .5-.3 .4-.5 .5-.5 .5-.7 .4-.6 .4-.7 .3-.7 .3-.7 .3-.6 .2-.7 .2-.7 .2-.6 .2-.7 .1-.7 .1-.6 .2-.7 .1-.7 .1-.6 .1-.7 .1-.7 .1-.7 .1-.9 .1-1 .1-1 .1-1 0-1 .1-1 .1-1 0-1 0-1 0-1 0-1 0-1 0-1 0-1-.1-1-.1-1 0-1-.1-1-.1-1-.1-1-.1-1-.1-1 0-1 0-1 0-1 .1-.7 .1-.7 .2-.6 .1-.7 .1-.7 .1-.6 .1M98.7 230.2l-1 0-1 .1-1 0-1 0-1 0-1 0-1-.1-1-.1-1 0-1-.2-.6 0-.7-.1-.7-.1-.6-.1-.7-.2-.7-.1-.6-.1-.7-.1-.7-.1-1-.1-1 0-1 .1-1 .1-.6 .1-.7 .1-.7 .2-.6 .1-.7 .1-1 .1-1 0-1-.1-.7-.1-.6-.2-.6-.2-.6-.4-.5-.3-.5-.3-.5-.6-.4-.4-.4-.7-.3-.7-.2-.5-.2-.8-.1-.7-.1-1 .2-1 .1-.6 .2-.7 .3-.7 .4-.6 .5-.7 .7-.7 .6-.5 .7-.5 .6-.3 .7-.3 .7-.3 .7-.2 .6-.1 .7-.1 .7-.2 .6-.1 .7-.1 .7-.1 .6-.2 .7-.2 .7-.2 .6-.2 .7-.3 .7-.3 .6-.3 .7-.3 .7-.4 .6-.3 .7-.2 .7-.3 .6-.3 .7-.2 .7-.3 .6-.2 .7-.2 .7-.2 .6-.2 .7-.2 .7-.1 .6-.2 .7-.1 .7-.1 .6-.1 .7-.1 .7-.1 .6-.1 .7-.1 .7-.1 .6-.1 .7-.1 .7-.1 .6-.1 .7-.1 .7-.1 .6-.1 .7-.2 .7-.1 .6-.2 .7-.1 .7-.2 .6-.1 .7-.1 .7-.2 .6-.1 .8-.1 .9 0 1-.1 1 .1 .7 .1 .6 .1 .7 .2 .7 .2 .6 .3 .7 .3 .7 .4 .6 .4 .7 .6 .4 .4 .6 .7 .3 .5 .4 .5 .3 .7 .3 .6 .2 .7 .1 .7 .1 1 0 1-.1 .6-.2 .7-.2 .7-.2 .6-.3 .7-.4 .6-.3 .5-.3 .4-.4 .5-.5 .7-.5 .5-.4 .5-.6 .5-.4 .5-.6 .6-.4 .4-.6 .5-.5 .5-.4 .3-.5 .3-.5 .4-.6 .3-.7 .3-.8 .3-.6 .3-.7 .2-.7 .2-.6 .2-.7 .1-.7 .2-.6 .1-.7 .1-.7 .1-.6 .1-.7 .1-.7 .1-1 .1-1 .1-.9 .1M97.4 228.5l-1 .1-1 0-1 0-1 0-1-.1-1-.1-1-.1-.7-.1-.6-.1-.7-.2-.7-.1-.6-.2-.7-.2-.7-.2-.6-.3-.7-.2-.7-.3-.6-.2-.7-.2-.7-.2-.6-.1-1 0-.7 .1-.7 .2-.6 .2-.7 .2-.7 .3-.6 .2-.7 .1-.7 .1-1 .1-1-.1-.6-.2-.7-.3-.6-.4-.4-.5-.3-.4-.4-.7-.2-.8 0-1 .1-.6 .2-.7 .3-.6 .3-.5 .5-.6 .5-.4 .7-.4 .6-.3 .7-.2 .7-.1 .6-.1 1-.1 .8 0 .9-.1 .7-.1 .6-.1 .7-.3 .7-.3 .6-.3 .7-.4 .6-.4 .5-.4 .6-.3 .5-.3 .5-.3 .6-.4 .6-.3 .7-.4 .7-.3 .7-.3 .7-.3 .6-.2 .7-.3 .7-.2 .6-.2 .7-.1 .7-.2 .6-.1 .7-.2 .7-.1 .6-.1 .7-.1 .7-.1 .6-.1 .7-.1 1-.1 .7-.1 .6-.1 .7-.1 .7-.1 .6-.1 .7-.2 .7-.1 .6-.2 .7-.2 .7-.1 .6-.2 .7-.2 .7-.1 .6-.1 .7-.1 1-.1 1 0 1 .1 .7 .1 .6 .2 .6 .2 .8 .3 .6 .3 .5 .4 .4 .3 .5 .4 .5 .6 .4 .7 .4 .6 .3 .7 .1 .7 .2 .6 0 1-.2 1-.1 .7-.3 .7-.3 .6-.4 .6-.3 .4-.3 .5-.6 .5-.4 .5-.7 .5-.5 .4-.5 .3-.5 .3-.5 .3-.6 .4-.7 .3-.6 .4-.7 .3-.6 .3-.7 .4-.6 .3-.5 .3-.7 .3-.6 .3-.7 .3-.7 .3-.6 .3-.7 .2-.7 .2-.6 .1-.7 .2-.7 .1-.6 .1-.7 .1-1 .1-.8 .1M96.4 225.9l-1 .1-1 0-1 0-1-.1-.7-.2-.6-.1-.7-.2-.6-.2-.7-.4-.7-.3-.5-.3-.5-.3-.5-.4-.5-.4-.6-.6-.4-.5-.3-.4-.4-.6-.2-.8 .1-1 .3-.7 .4-.7 .4-.5 .5-.5 .5-.4 .7-.5 .6-.4 .6-.3 .7-.4 .8-.3 .6-.2 .7-.3 .7-.2 .6-.1 .7-.2 .7-.1 .6-.2 .7-.1 .7-.1 .6 0 1-.2 1-.1 .7-.1 .7-.1 .6-.1 .7-.1 .7-.1 .6-.2 .7-.2 .7-.2 .6-.2 .7-.2 .7-.2 .6-.2 .7-.1 .7-.1 .6-.1 1-.1 1 .1 .7 .1 .7 .2 .6 .2 .7 .4 .7 .4 .6 .7 .4 .4 .3 .6 .3 .7 .1 .6 .1 1-.1 .7-.2 .7-.3 .6-.4 .7-.5 .6-.4 .4-.6 .5-.7 .5-.6 .3-.7 .3-.7 .3-.6 .2-.7 .2-.7 .1-.6 .2-.7 .1-.7 .1-.6 .1-.7 .1-.7 .2-.6 .2-.7 .2-.7 .2-.6 .3-.6 .2-.6 .4-.6 .3-.6 .3-.6 .3-.7 .3-.7 .2-.6 .1-.7 .2M95.1 221.9l-1 0-.8-.1-.9-.1-.7-.2-.6-.3-.6-.4-.4-.4-.4-.4-.2-.8 .1-.7 .4-.7 .4-.4 .7-.5 .6-.4 .7-.3 .7-.2 .6-.2 .7-.2 .7-.2 .6-.1 .7-.1 1-.1 1-.1 1-.1 .7-.1 .6-.1 .7-.1 .7-.2 .6-.2 .7-.2 .7-.2 .6-.3 .7-.3 .7-.2 .6-.2 .7-.2 .7-.2 .6-.1 1 0 1 .1 .7 .2 .5 .2 .5 .3 .4 .4 .5 .7 .3 .6 .1 .7-.1 1-.3 .7-.5 .6-.4 .5-.7 .5-.6 .3-.7 .3-.7 .2-.6 .1-.7 .1-1 .1-1 .1-1 0-1 0-1 0-1 .2-.7 .1-.6 .1-.7 .2-.7 .2-.6 .2-.7 .2-.7 .2-.6 .1-.7 .2-.7 .1M109.1 217.8l-1 .1-1-.1-.7-.1-.7-.3-.5-.6 .2-.8 .4-.5 .6-.4 .7-.4 .6-.3 .7-.2 .7-.1 .7 .1 .9 .3 .6 .7 .1 .6-.2 .7-.5 .6-.6 .4-.7 .3" fill="none" stroke="#505050" stroke-width="0.5"/><path d="M63.4,239.6 L67.4,234.7 L128.4,235.1 L134.4,239.6Z" fill="#999" fill-opacity="0.5"/><path d="M64.4,239.6 L66.4,237.1 L130.4,237.3 L134.4,239.6Z" fill="#1e1e1e" fill-opacity="0.9"/><rect x="58.8" y="207.5" width="6.0" height="32.2" fill="#aaa" fill-opacity="0.8"/></g>
<rect x="58.5" y="154.5" width="86" height="86" fill="none" stroke="#707070" stroke-width="1"/>
<line x1="103.50" y1="154.50" x2="103.50" y2="240.50" stroke="#3c3c3c" stroke-width="1"/>
<line x1="58.50" y1="200.50" x2="144.50" y2="200.50" stroke="#3c3c3c" stroke-width="1"/>
<rect x="59" y="155" width="35.5" height="35.2" fill="#fff"/>
<line x1="76.50" y1="159.20" x2="76.50" y2="189.20" stroke="#1e1e1e" stroke-width="1.05"/>
<line x1="58.50" y1="175.00" x2="93.50" y2="175.00" stroke="#262626" stroke-width="1.3"/>
<text x="67.00" y="169.30" style="font-family:'Liberation Serif',serif;font-size:9px;font-weight:normal" text-anchor="middle" fill="#1a1a1a" class="s">0.0</text>
<text x="86.00" y="169.30" style="font-family:'Liberation Serif',serif;font-size:9px;font-weight:normal" text-anchor="middle" fill="#1a1a1a" class="s">0.6</text>
<text x="67.00" y="184.60" style="font-family:'Liberation Serif',serif;font-size:9px;font-weight:normal" text-anchor="middle" fill="#1a1a1a" class="s">66</text>
<text x="86.00" y="184.60" style="font-family:'Liberation Serif',serif;font-size:9px;font-weight:normal" text-anchor="middle" fill="#1a1a1a" class="s">34</text>
<g><path d="M203.4 234.8l-1 .1-1 0-1 0-1 0-1 0-1-.1-1 0-1-.1-1-.1-1-.1-1 0-1-.1-1-.1-1-.1-1-.1-1-.1-1 0-1-.1-1-.1-1-.1-1-.1-1-.1-1 0-1-.1-1 0-1 0-1 0-1 0-1 0-1 0-1 0-1 0-1 0-1 0-1 0-1 0-1 .1-.7 .1-.6 .1-.7 .1-.7 .2-.6 .2-.7 .2-.6 .1-.7 .1-1 .1-1 0-.7-.2-.7-.1-.5-.2-.8-.4-.5-.3-.5-.3-.7-.6-.4-.4-.6-.7-.3-.4-.3-.5-.4-.6-.3-.7-.3-.8-.2-.7-.1-.6-.1-.7-.1-1 0-1 .1-.8 .2-.9 .2-.6 .2-.7 .3-.7 .3-.6 .4-.7 .4-.6 .4-.4 .6-.7 .7-.6 .5-.4 .5-.3 .6-.3 .7-.4 .7-.2 .7-.2 .6-.2 .7-.1 .7-.1 .6-.1 .7-.1 .7-.1 .6-.1 .7-.2 .7-.2 .6-.2 .7-.2 .7-.2 .6-.2 .7-.2 .7-.2 .6-.2 .7-.2 .7-.1 .6-.2 .7-.2 .7-.1 .6-.1 .7-.2 .7-.1 .6-.2 .7-.1 .7-.1 .6-.2 .7-.1 .7-.2 .6-.2 .7-.2 .7-.2 .6-.3 .7-.2 .7-.3 .6-.2 .7-.3 .6-.3 .7-.3 .7-.3 .7-.3 .6-.3 .7-.3 .7-.2 .6-.3 .7-.3 .7-.3 .6-.3 .7-.3 .7-.4 .6-.3 .7-.4 .6-.4 .5-.3 .6-.3 .6-.4 .5-.3 .5-.3 .7-.4 .7-.3 .6-.3 .7-.3 .7-.3 .6-.2 .7-.2 .7-.2 .6-.1 .7-.1 1-.1 1 0 1 .1 .7 .1 .6 .1 .7 .2 .7 .2 .6 .3 .7 .3 .7 .4 .6 .4 .6 .4 .4 .3 .7 .6 .4 .4 .6 .6 .6 .7 .4 .7 .3 .5 .3 .5 .4 .7 .3 .6 .3 .7 .2 .7 .2 .6 .2 .7 .2 .7 .1 .6 .1 .7 .1 1 .1 1-.1 1 0 1-.1 1-.1 .7-.1 .6-.2 .7-.1 .7-.2 .6-.2 .7-.1 .7-.1 .6-.1 .7-.1 1 .1 1 .1 .7 .1 1 0 1-.3 .6-.3 .6-.3 .5-.6 .6-.8 .6-.6 .4-.6 .3-.6 .4-.7 .3-.8 .3-.7 .3-.6 .2-.7 .2-.7 .2-.6 .2-.7 .2-.7 .2-.6 .1-.7 .1-.7 .1-.6 .1-1 .1z" fill="#ececec" stroke="none"/><clipPath id="cl11"><rect x="151.4" y="200.5" width="85.8" height="39.6"/></clipPath><path d="M204.1 231.9l-.7 .1-1 .1-1 0-1 0-1 0-1 0-1 0-1-.1-1 0-1-.1-1-.1-1-.1-1-.1-1-.2-.7 0-.6-.1-.7-.1-.7-.1-.6-.1-.7-.1-.7-.1-.6-.1-.7-.1-.7-.1-1-.1-1-.1-1-.1-.9 0-.7-.1-1 0-1 0-1 0-1 0-1-.1-1 0-1 0-1-.1-1-.1-1-.1-1-.1-1-.1-1 0-1 .2-.7 .1-.7 .2-.6 .2-.7 .2-.7 .2-.6 .1-1 .1-1-.1-.7-.2-.7-.3-.5-.4-.5-.4-.4-.6-.4-.6-.4-.7-.2-.7-.1-.6-.1-1 .1-1 .1-.7 .3-.7 .3-.6 .4-.7 .4-.6 .5-.4 .5-.5 .7-.3 .7-.3 .6-.2 .7-.2 .7-.1 1-.1 1-.1 .6-.1 .7-.1 .7-.2 .6-.3 .6-.2 .8-.3 .6-.3 .7-.2 .7-.3 .5-.2 .8-.3 .7-.2 .6-.2 .7-.2 .7-.1 .6-.2 .6-.1 .8-.2 .6-.1 .7-.2 .7-.1 .6-.1 .7-.2 .6-.1 .7-.2 .7-.2 .7-.2 .6-.2 .7-.2 .7-.3 .6-.3 .7-.2 .7-.3 .6-.3 .7-.3 .7-.3 .6-.3 .7-.2 .7-.3 .6-.2 .7-.3 .7-.3 .6-.3 .7-.2 .6-.3 .7-.3 .7-.3 .7-.3 .6-.4 .7-.3 .6-.4 .6-.3 .5-.3 .6-.3 .7-.4 .7-.3 .6-.3 .7-.2 .7-.3 .6-.2 .7-.1 .7-.1 1-.1 1 0 1 .1 .6 .2 .7 .1 .7 .3 .5 .2 .6 .4 .5 .3 .5 .3 .5 .5 .6 .5 .4 .5 .5 .5 .4 .7 .4 .7 .3 .6 .3 .7 .3 .7 .2 .6 .1 .7 .1 .7 .1 .6 .1 1 0 1-.1 1-.1 .7-.1 .7-.2 .6-.1 .7-.2 .7-.3 .6-.2 .7-.3 .7-.3 .6-.2 .6-.3 .8-.2 .6-.2 .6-.2 .8-.2 .6-.2 .7-.4 .6-.3 .5-.5 .6-.5 .4-.7 .4-.6 .4-.7 .3-.7 .3-.6 .2-.7 .2-.7 .2-.6 .1-.7 .1z" fill="#d8d8d8" stroke="none" clip-path="url(#cl11)"/><path d="M206.9 197.6h.6v.6h-.6zM204.2 185.6h.6v.6h-.6zM209.0 194.4h.6v.6h-.6zM205.1 197.2h.6v.6h-.6zM209.2 209.2h.6v.6h-.6zM220.6 185.9h.6v.6h-.6zM210.6 199.2h.6v.6h-.6zM212.3 188.5h.6v.6h-.6zM204.4 193.6h.6v.6h-.6zM203.9 205.5h.6v.6h-.6zM212.3 180.7h.6v.6h-.6zM203.6 180.5h.6v.6h-.6zM203.7 191.0h.6v.6h-.6zM210.5 189.4h.6v.6h-.6zM206.1 207.9h.6v.6h-.6zM211.5 184.5h.6v.6h-.6zM203.9 207.7h.6v.6h-.6zM212.8 191.1h.6v.6h-.6zM197.1 199.0h.6v.6h-.6zM203.9 187.1h.6v.6h-.6zM201.7 179.2h.6v.6h-.6zM209.3 189.5h.6v.6h-.6zM200.9 198.7h.6v.6h-.6zM213.4 186.9h.6v.6h-.6zM203.4 183.7h.6v.6h-.6zM213.2 198.8h.6v.6h-.6zM208.2 167.4h.6v.6h-.6zM213.6 189.4h.6v.6h-.6zM214.1 194.3h.6v.6h-.6zM205.4 182.7h.6v.6h-.6zM209.1 187.0h.6v.6h-.6zM212.1 197.1h.6v.6h-.6zM209.2 190.5h.6v.6h-.6zM214.9 179.0h.6v.6h-.6zM214.9 190.8h.6v.6h-.6zM207.0 179.2h.6v.6h-.6zM199.3 197.3h.6v.6h-.6zM208.2 198.6h.6v.6h-.6zM215.2 195.8h.6v.6h-.6zM206.9 198.4h.6v.6h-.6zM206.2 191.8h.6v.6h-.6zM206.6 177.6h.6v.6h-.6zM211.3 185.0h.6v.6h-.6zM215.4 191.4h.6v.6h-.6zM198.9 200.1h.6v.6h-.6zM212.1 191.2h.6v.6h-.6zM205.6 202.7h.6v.6h-.6zM201.0 183.2h.6v.6h-.6zM213.3 198.8h.6v.6h-.6zM207.0 170.4h.6v.6h-.6zM205.5 195.3h.6v.6h-.6zM208.1 183.4h.6v.6h-.6zM203.6 195.8h.6v.6h-.6zM211.6 188.7h.6v.6h-.6zM205.1 185.7h.6v.6h-.6zM218.2 193.7h.6v.6h-.6zM211.3 199.5h.6v.6h-.6zM206.4 195.1h.6v.6h-.6zM207.7 207.5h.6v.6h-.6zM203.2 187.5h.6v.6h-.6zM211.3 191.7h.6v.6h-.6zM211.6 185.2h.6v.6h-.6zM199.1 192.8h.6v.6h-.6zM209.2 198.5h.6v.6h-.6zM211.9 203.0h.6v.6h-.6zM213.0 191.0h.6v.6h-.6zM206.5 178.4h.6v.6h-.6zM205.4 186.7h.6v.6h-.6zM208.5 191.9h.6v.6h-.6zM212.3 192.8h.6v.6h-.6zM210.8 198.7h.6v.6h-.6zM209.8 201.5h.6v.6h-.6zM207.3 186.4h.6v.6h-.6zM204.4 182.0h.6v.6h-.6zM201.1 177.5h.6v.6h-.6zM210.6 191.4h.6v.6h-.6zM206.2 204.8h.6v.6h-.6zM209.8 191.0h.6v.6h-.6zM221.4 201.6h.6v.6h-.6zM201.5 182.0h.6v.6h-.6zM215.0 186.7h.6v.6h-.6zM204.1 188.9h.6v.6h-.6zM207.1 183.9h.6v.6h-.6zM205.5 187.3h.6v.6h-.6zM208.9 193.4h.6v.6h-.6zM211.3 190.6h.6v.6h-.6zM210.5 196.4h.6v.6h-.6zM217.8 193.3h.6v.6h-.6zM206.7 194.3h.6v.6h-.6zM214.1 182.6h.6v.6h-.6zM207.1 187.3h.6v.6h-.6zM205.0 188.8h.6v.6h-.6zM209.2 200.5h.6v.6h-.6zM201.9 188.9h.6v.6h-.6zM215.4 187.4h.6v.6h-.6zM216.3 185.5h.6v.6h-.6zM207.4 198.4h.6v.6h-.6zM202.4 188.1h.6v.6h-.6zM212.3 183.1h.6v.6h-.6zM209.9 181.4h.6v.6h-.6zM213.1 218.6h.6v.6h-.6zM221.4 220.9h.6v.6h-.6zM212.8 213.7h.6v.6h-.6zM221.2 214.2h.6v.6h-.6zM224.7 223.9h.6v.6h-.6zM216.6 228.6h.6v.6h-.6zM221.1 232.6h.6v.6h-.6zM224.7 214.4h.6v.6h-.6zM213.0 227.4h.6v.6h-.6zM217.2 204.9h.6v.6h-.6zM228.8 215.5h.6v.6h-.6zM218.8 223.1h.6v.6h-.6zM220.0 218.3h.6v.6h-.6zM222.7 213.3h.6v.6h-.6zM215.6 215.8h.6v.6h-.6zM217.5 218.5h.6v.6h-.6zM217.8 223.5h.6v.6h-.6zM228.4 228.7h.6v.6h-.6zM220.4 213.0h.6v.6h-.6zM212.2 215.2h.6v.6h-.6zM222.4 225.4h.6v.6h-.6zM217.3 218.6h.6v.6h-.6zM218.3 215.6h.6v.6h-.6zM217.8 218.9h.6v.6h-.6zM215.2 222.8h.6v.6h-.6zM221.5 207.9h.6v.6h-.6zM212.2 223.7h.6v.6h-.6zM219.3 206.8h.6v.6h-.6zM220.4 207.5h.6v.6h-.6zM220.5 217.5h.6v.6h-.6zM218.2 222.7h.6v.6h-.6zM222.2 215.9h.6v.6h-.6zM221.8 221.8h.6v.6h-.6zM218.7 222.9h.6v.6h-.6zM222.1 228.5h.6v.6h-.6zM222.1 219.5h.6v.6h-.6zM221.8 218.1h.6v.6h-.6zM213.0 215.0h.6v.6h-.6zM217.1 229.6h.6v.6h-.6zM220.6 212.3h.6v.6h-.6zM210.6 215.1h.6v.6h-.6zM215.2 196.6h.6v.6h-.6zM218.4 221.0h.6v.6h-.6zM220.6 213.6h.6v.6h-.6zM224.6 218.2h.6v.6h-.6zM221.0 234.0h.6v.6h-.6zM211.8 223.3h.6v.6h-.6zM211.4 218.4h.6v.6h-.6zM212.0 209.1h.6v.6h-.6zM153.1 212.3h.6v.6h-.6zM169.6 211.8h.6v.6h-.6zM186.4 208.1h.6v.6h-.6zM218.5 222.8h.6v.6h-.6zM201.1 235.8h.6v.6h-.6zM220.4 225.4h.6v.6h-.6zM216.2 202.7h.6v.6h-.6zM187.1 203.9h.6v.6h-.6zM190.5 234.9h.6v.6h-.6zM220.6 216.5h.6v.6h-.6zM215.3 188.1h.6v.6h-.6zM182.0 234.8h.6v.6h-.6zM189.6 235.8h.6v.6h-.6zM223.3 218.1h.6v.6h-.6zM210.1 195.2h.6v.6h-.6zM221.4 228.4h.6v.6h-.6zM217.8 228.6h.6v.6h-.6zM214.1 233.3h.6v.6h-.6zM199.0 200.5h.6v.6h-.6zM210.9 196.9h.6v.6h-.6zM175.4 209.8h.6v.6h-.6zM222.6 222.1h.6v.6h-.6zM152.7 232.6h.6v.6h-.6zM176.4 208.1h.6v.6h-.6zM178.1 208.1h.6v.6h-.6zM171.2 210.8h.6v.6h-.6zM217.8 207.1h.6v.6h-.6zM217.2 201.8h.6v.6h-.6zM219.8 227.7h.6v.6h-.6zM162.3 237.6h.6v.6h-.6zM163.7 211.5h.6v.6h-.6zM221.2 224.4h.6v.6h-.6zM223.0 211.0h.6v.6h-.6zM222.3 215.7h.6v.6h-.6zM191.1 202.0h.6v.6h-.6zM167.2 235.1h.6v.6h-.6zM154.0 218.5h.6v.6h-.6zM195.5 199.3h.6v.6h-.6zM169.7 205.4h.6v.6h-.6zM210.2 192.0h.6v.6h-.6zM180.6 207.8h.6v.6h-.6zM214.7 233.6h.6v.6h-.6zM190.9 235.8h.6v.6h-.6zM190.9 200.6h.6v.6h-.6zM162.0 212.1h.6v.6h-.6zM176.1 210.9h.6v.6h-.6zM173.4 207.3h.6v.6h-.6zM208.2 236.3h.6v.6h-.6zM169.4 211.7h.6v.6h-.6zM167.8 212.7h.6v.6h-.6zM216.5 231.4h.6v.6h-.6zM180.6 234.2h.6v.6h-.6zM219.2 232.2h.6v.6h-.6zM209.0 199.4h.6v.6h-.6zM220.3 212.1h.6v.6h-.6zM202.9 197.8h.6v.6h-.6zM220.6 221.5h.6v.6h-.6zM212.1 236.3h.6v.6h-.6zM193.5 201.9h.6v.6h-.6zM219.4 206.8h.6v.6h-.6zM218.3 198.9h.6v.6h-.6zM203.1 199.6h.6v.6h-.6zM183.2 208.3h.6v.6h-.6zM200.0 197.7h.6v.6h-.6zM164.3 237.5h.6v.6h-.6zM203.3 198.9h.6v.6h-.6zM214.0 200.5h.6v.6h-.6zM176.2 233.7h.6v.6h-.6zM198.1 236.9h.6v.6h-.6zM159.5 235.0h.6v.6h-.6zM219.8 227.7h.6v.6h-.6zM181.9 207.4h.6v.6h-.6zM197.1 235.5h.6v.6h-.6zM215.7 203.6h.6v.6h-.6zM190.0 204.4h.6v.6h-.6zM218.3 225.3h.6v.6h-.6zM213.3 233.0h.6v.6h-.6zM174.2 233.2h.6v.6h-.6zM195.5 199.7h.6v.6h-.6zM222.6 200.0h.6v.6h-.6zM158.2 212.9h.6v.6h-.6zM225.1 214.3h.6v.6h-.6zM174.9 206.3h.6v.6h-.6zM227.1 225.3h.6v.6h-.6zM176.2 206.6h.6v.6h-.6zM176.7 211.1h.6v.6h-.6zM185.7 208.3h.6v.6h-.6zM198.6 200.1h.6v.6h-.6zM177.3 204.4h.6v.6h-.6zM212.7 236.0h.6v.6h-.6zM183.4 201.7h.6v.6h-.6zM231.5 203.6h.6v.6h-.6zM197.6 235.7h.6v.6h-.6zM193.7 203.3h.6v.6h-.6zM153.3 215.5h.6v.6h-.6zM210.5 197.0h.6v.6h-.6zM187.0 204.9h.6v.6h-.6zM186.9 206.4h.6v.6h-.6zM155.6 214.1h.6v.6h-.6zM198.3 198.4h.6v.6h-.6zM186.3 206.3h.6v.6h-.6zM164.2 212.8h.6v.6h-.6zM153.0 218.0h.6v.6h-.6zM161.4 213.3h.6v.6h-.6zM225.4 209.9h.6v.6h-.6zM181.5 209.9h.6v.6h-.6zM204.5 238.3h.6v.6h-.6zM200.2 198.6h.6v.6h-.6zM201.5 200.2h.6v.6h-.6zM193.5 202.3h.6v.6h-.6zM212.2 198.9h.6v.6h-.6zM194.9 201.7h.6v.6h-.6zM219.7 216.8h.6v.6h-.6zM224.0 209.2h.6v.6h-.6zM220.5 223.4h.6v.6h-.6zM195.6 195.1h.6v.6h-.6zM219.9 212.3h.6v.6h-.6zM218.3 207.9h.6v.6h-.6zM218.1 231.3h.6v.6h-.6zM165.2 237.4h.6v.6h-.6zM219.6 206.5h.6v.6h-.6zM219.7 210.7h.6v.6h-.6zM220.1 213.1h.6v.6h-.6zM195.3 237.0h.6v.6h-.6zM215.7 237.8h.6v.6h-.6zM192.8 204.3h.6v.6h-.6zM152.7 219.8h.6v.6h-.6zM161.6 236.2h.6v.6h-.6zM214.9 203.2h.6v.6h-.6zM222.9 227.7h.6v.6h-.6zM162.2 214.6h.6v.6h-.6zM200.2 198.6h.6v.6h-.6zM153.3 231.7h.6v.6h-.6zM203.7 200.1h.6v.6h-.6zM182.5 209.2h.6v.6h-.6zM218.3 226.6h.6v.6h-.6zM155.3 215.4h.6v.6h-.6zM154.4 217.2h.6v.6h-.6zM201.5 235.3h.6v.6h-.6zM219.2 199.3h.6v.6h-.6zM217.0 204.9h.6v.6h-.6zM215.3 231.7h.6v.6h-.6zM195.0 199.3h.6v.6h-.6zM216.1 204.8h.6v.6h-.6zM157.1 211.2h.6v.6h-.6zM216.5 230.8h.6v.6h-.6zM190.1 203.1h.6v.6h-.6zM212.6 201.5h.6v.6h-.6zM192.2 199.7h.6v.6h-.6zM218.8 207.4h.6v.6h-.6zM208.6 197.5h.6v.6h-.6zM197.1 201.6h.6v.6h-.6zM211.6 233.4h.6v.6h-.6zM179.8 206.3h.6v.6h-.6zM211.5 197.7h.6v.6h-.6zM218.0 226.3h.6v.6h-.6zM158.6 212.8h.6v.6h-.6zM220.7 204.3h.6v.6h-.6zM204.8 196.6h.6v.6h-.6zM220.3 216.2h.6v.6h-.6zM228.3 221.7h.6v.6h-.6zM223.7 224.3h.6v.6h-.6zM206.0 236.1h.6v.6h-.6zM194.3 203.8h.6v.6h-.6zM205.9 190.7h.6v.6h-.6zM219.0 229.1h.6v.6h-.6zM204.5 235.3h.6v.6h-.6zM198.7 237.7h.6v.6h-.6zM215.6 237.0h.6v.6h-.6zM219.6 223.0h.6v.6h-.6zM182.0 209.4h.6v.6h-.6zM185.5 237.4h.6v.6h-.6zM213.3 194.4h.6v.6h-.6zM214.7 197.3h.6v.6h-.6zM167.6 205.9h.6v.6h-.6zM218.7 221.9h.6v.6h-.6zM218.3 229.3h.6v.6h-.6zM220.7 222.9h.6v.6h-.6zM224.3 232.1h.6v.6h-.6zM195.0 194.9h.6v.6h-.6zM162.9 214.3h.6v.6h-.6zM152.9 220.1h.6v.6h-.6zM200.6 235.2h.6v.6h-.6zM178.2 234.7h.6v.6h-.6zM198.3 200.8h.6v.6h-.6zM196.7 235.6h.6v.6h-.6zM210.0 194.7h.6v.6h-.6zM171.7 210.8h.6v.6h-.6zM218.8 223.7h.6v.6h-.6zM220.7 220.9h.6v.6h-.6zM182.8 206.5h.6v.6h-.6zM215.4 198.3h.6v.6h-.6zM196.5 202.6h.6v.6h-.6zM180.2 209.7h.6v.6h-.6zM198.6 197.6h.6v.6h-.6zM187.6 203.3h.6v.6h-.6zM162.8 212.6h.6v.6h-.6zM219.4 218.6h.6v.6h-.6zM219.4 217.1h.6v.6h-.6zM167.2 209.1h.6v.6h-.6zM160.2 213.9h.6v.6h-.6zM180.0 207.7h.6v.6h-.6zM219.0 207.8h.6v.6h-.6zM164.4 234.6h.6v.6h-.6zM193.5 198.8h.6v.6h-.6zM186.8 203.7h.6v.6h-.6zM194.3 197.7h.6v.6h-.6zM220.5 221.1h.6v.6h-.6zM222.2 206.8h.6v.6h-.6zM223.3 210.7h.6v.6h-.6z" fill="#8c8c8c"/><path d="M203.4 234.8l-1 .1-1 0-1 0-1 0-1 0-1-.1-1 0-1-.1-1-.1-1-.1-1 0-1-.1-1-.1-1-.1-1-.1-1-.1-1 0-1-.1-1-.1-1-.1-1-.1-1-.1-1 0-1-.1-1 0-1 0-1 0-1 0-1 0-1 0-1 0-1 0-1 0-1 0-1 0-1 0-1 .1-.7 .1-.6 .1-.7 .1-.7 .2-.6 .2-.7 .2-.6 .1-.7 .1-1 .1-1 0-.7-.2-.7-.1-.5-.2-.8-.4-.5-.3-.5-.3-.7-.6-.4-.4-.6-.7-.3-.4-.3-.5-.4-.6-.3-.7-.3-.8-.2-.7-.1-.6-.1-.7-.1-1 0-1 .1-.8 .2-.9 .2-.6 .2-.7 .3-.7 .3-.6 .4-.7 .4-.6 .4-.4 .6-.7 .7-.6 .5-.4 .5-.3 .6-.3 .7-.4 .7-.2 .7-.2 .6-.2 .7-.1 .7-.1 .6-.1 .7-.1 .7-.1 .6-.1 .7-.2 .7-.2 .6-.2 .7-.2 .7-.2 .6-.2 .7-.2 .7-.2 .6-.2 .7-.2 .7-.1 .6-.2 .7-.2 .7-.1 .6-.1 .7-.2 .7-.1 .6-.2 .7-.1 .7-.1 .6-.2 .7-.1 .7-.2 .6-.2 .7-.2 .7-.2 .6-.3 .7-.2 .7-.3 .6-.2 .7-.3 .6-.3 .7-.3 .7-.3 .7-.3 .6-.3 .7-.3 .7-.2 .6-.3 .7-.3 .7-.3 .6-.3 .7-.3 .7-.4 .6-.3 .7-.4 .6-.4 .5-.3 .6-.3 .6-.4 .5-.3 .5-.3 .7-.4 .7-.3 .6-.3 .7-.3 .7-.3 .6-.2 .7-.2 .7-.2 .6-.1 .7-.1 1-.1 1 0 1 .1 .7 .1 .6 .1 .7 .2 .7 .2 .6 .3 .7 .3 .7 .4 .6 .4 .6 .4 .4 .3 .7 .6 .4 .4 .6 .6 .6 .7 .4 .7 .3 .5 .3 .5 .4 .7 .3 .6 .3 .7 .2 .7 .2 .6 .2 .7 .2 .7 .1 .6 .1 .7 .1 1 .1 1-.1 1 0 1-.1 1-.1 .7-.1 .6-.2 .7-.1 .7-.2 .6-.2 .7-.1 .7-.1 .6-.1 .7-.1 1 .1 1 .1 .7 .1 1 0 1-.3 .6-.3 .6-.3 .5-.6 .6-.8 .6-.6 .4-.6 .3-.6 .4-.7 .3-.8 .3-.7 .3-.6 .2-.7 .2-.7 .2-.6 .2-.7 .2-.7 .2-.6 .1-.7 .1-.7 .1-.6 .1-1 .1M202.7 233.5l-1 .1-1 0-1 0-1 0-1-.1-1 0-1-.1-1-.1-1 0-1-.1-1-.1-1-.1-1-.1-.8-.1-.8-.1-1-.1-1-.1-1-.1-1-.1-1-.1-1-.1-1-.1-1-.1-1 0-1-.1-1 0-1 0-1 0-1 0-1 0-1 0-1-.1-1 0-1-.1-1 0-1 0-1 .1-.7 0-.7 .2-.6 .1-.7 .2-.7 .2-.6 .2-.7 .1-.7 .1-1 .1-1-.2-.6-.1-.7-.3-.7-.4-.6-.4-.4-.4-.6-.6-.4-.5-.3-.5-.3-.7-.3-.6-.2-.7-.2-.7-.1-.6 0-1 .1-1 .1-.7 .1-.7 .2-.6 .3-.7 .3-.5 .3-.5 .4-.5 .4-.5 .6-.6 .4-.4 .5-.3 .6-.4 .8-.3 .7-.2 .6-.2 .7-.1 .7-.1 .6-.1 .7-.1 .7-.1 .6-.1 .7-.2 .7-.2 .6-.2 .7-.2 .7-.2 .6-.3 .7-.2 .7-.2 .6-.2 .7-.2 .7-.2 .6-.2 .7-.2 .7-.1 .6-.2 .7-.1 .7-.2 .6-.1 .7-.1 .7-.2 .6-.1 .7-.2 .7-.1 .6-.2 .7-.2 .7-.2 .6-.2 .7-.3 .7-.2 .6-.3 .7-.3 .7-.3 .6-.2 .7-.3 .7-.3 .6-.3 .7-.3 .7-.3 .6-.2 .7-.3 .7-.3 .6-.3 .7-.2 .7-.4 .6-.3 .7-.3 .6-.4 .6-.3 .6-.3 .5-.3 .7-.4 .6-.3 .6-.4 .7-.3 .7-.3 .7-.4 .7-.2 .7-.2 .6-.2 .7-.2 .7-.1 .8-.1 .8 0 .8 0 .9 .1 .7 .2 .6 .1 .7 .2 .7 .3 .6 .3 .7 .4 .6 .4 .5 .4 .6 .5 .5 .5 .5 .5 .3 .5 .5 .6 .5 .7 .3 .7 .3 .6 .3 .7 .3 .7 .1 .5 .2 .8 .2 .7 .1 .6 .1 1 0 1 0 1-.1 1-.1 1-.1 .7-.2 .7-.1 .6-.2 .7-.2 .7-.2 .6-.2 .7-.2 .7-.2 .6-.1 .7-.1 1-.1 1-.1 .7-.1 .6-.3 .6-.3 .6-.3 .5-.7 .6-.5 .4-.5 .3-.6 .4-.6 .3-.8 .3-.7 .3-.6 .3-.7 .2-.7 .1-.6 .2-.7 .1-.7 .2-.6 .1-.7 .1-1 .1M204.1 231.9l-.7 .1-1 .1-1 0-1 0-1 0-1 0-1 0-1-.1-1 0-1-.1-1-.1-1-.1-1-.1-1-.2-.7 0-.6-.1-.7-.1-.7-.1-.6-.1-.7-.1-.7-.1-.6-.1-.7-.1-.7-.1-1-.1-1-.1-1-.1-.9 0-.7-.1-1 0-1 0-1 0-1 0-1-.1-1 0-1 0-1-.1-1-.1-1-.1-1-.1-1-.1-1 0-1 .2-.7 .1-.7 .2-.6 .2-.7 .2-.7 .2-.6 .1-1 .1-1-.1-.7-.2-.7-.3-.5-.4-.5-.4-.4-.6-.4-.6-.4-.7-.2-.7-.1-.6-.1-1 .1-1 .1-.7 .3-.7 .3-.6 .4-.7 .4-.6 .5-.4 .5-.5 .7-.3 .7-.3 .6-.2 .7-.2 .7-.1 1-.1 1-.1 .6-.1 .7-.1 .7-.2 .6-.3 .6-.2 .8-.3 .6-.3 .7-.2 .7-.3 .5-.2 .8-.3 .7-.2 .6-.2 .7-.2 .7-.1 .6-.2 .6-.1 .8-.2 .6-.1 .7-.2 .7-.1 .6-.1 .7-.2 .6-.1 .7-.2 .7-.2 .7-.2 .6-.2 .7-.2 .7-.3 .6-.3 .7-.2 .7-.3 .6-.3 .7-.3 .7-.3 .6-.3 .7-.2 .7-.3 .6-.2 .7-.3 .7-.3 .6-.3 .7-.2 .6-.3 .7-.3 .7-.3 .7-.3 .6-.4 .7-.3 .6-.4 .6-.3 .5-.3 .6-.3 .7-.4 .7-.3 .6-.3 .7-.2 .7-.3 .6-.2 .7-.1 .7-.1 1-.1 1 0 1 .1 .6 .2 .7 .1 .7 .3 .5 .2 .6 .4 .5 .3 .5 .3 .5 .5 .6 .5 .4 .5 .5 .5 .4 .7 .4 .7 .3 .6 .3 .7 .3 .7 .2 .6 .1 .7 .1 .7 .1 .6 .1 1 0 1-.1 1-.1 .7-.1 .7-.2 .6-.1 .7-.2 .7-.3 .6-.2 .7-.3 .7-.3 .6-.2 .6-.3 .8-.2 .6-.2 .6-.2 .8-.2 .6-.2 .7-.4 .6-.3 .5-.5 .6-.5 .4-.7 .4-.6 .4-.7 .3-.7 .3-.6 .2-.7 .2-.7 .2-.6 .1-.7 .1M203.4 230.2l-.7 .1-1 .1-1 .1-1 0-1-.1-1 0-1-.1-1-.1-.6-.1-.7-.1-.7-.1-.6-.1-.7-.1-.7-.1-.6-.2-.7-.1-.7-.1-.6-.2-.7-.1-.7-.1-.6-.1-.7-.2-.7-.1-.6 0-1-.1-1-.1-1-.1-1 0-1 0-1 0-1 0-1 0-1 0-1 0-1 0-1-.1-1-.1-.9-.1-.8-.1-.7-.1-.6-.2-.7-.1-.7-.2-.6-.1-.7-.1-1-.1-1 .2-.6 .2-.7 .3-.7 .2-.7 .3-.6 .2-1 0-.7-.1-.5-.3-.5-.3-.5-.7-.3-.6-.2-.7 .1-1 .2-.7 .3-.6 .4-.5 .6-.5 .6-.4 .8-.2 .7-.1 1 0 1 0 1-.1 .6-.2 .7-.2 .7-.4 .6-.3 .7-.4 .6-.4 .6-.3 .7-.4 .7-.3 .7-.3 .7-.3 .7-.2 .6-.2 .7-.2 .7-.2 .6-.1 .7-.2 .7-.1 .6-.2 .7-.1 .7-.1 .6-.2 .7-.1 .7-.2 .6-.2 .7-.2 .7-.2 .6-.2 .7-.3 .6-.2 .7-.3 .7-.3 .7-.3 .6-.3 .7-.3 .7-.3 .6-.2 .7-.3 .7-.3 .6-.2 .7-.3 .7-.2 .6-.3 .7-.3 .7-.2 .6-.3 .7-.4 .7-.3 .6-.4 .7-.3 .7-.4 .6-.4 .7-.3 .7-.3 .6-.3 .7-.3 .7-.2 .6-.2 .7-.2 .7-.1 1-.1 1 .1 .6 .1 .7 .1 .7 .2 .6 .3 .7 .4 .6 .4 .4 .3 .7 .7 .6 .7 .4 .5 .3 .6 .3 .5 .3 .7 .2 .7 .2 .6 .1 .7 .1 .7 .1 1-.1 1-.1 1-.1 .6-.1 .7-.2 .7-.3 .6-.2 .7-.3 .7-.4 .6-.3 .7-.4 .7-.4 .6-.3 .7-.4 .7-.3 .6-.4 .7-.3 .6-.4 .5-.5 .6-.5 .3-.6 .5-.7 .3-.7 .3-.6 .2-.7 .2-.7 .2M203.4 227.2l-.7 .2-.6 0-1 0-.7-.1-.7-.4-.3-.5-.2-.9-.2-.7-.4-.6-.5-.7-.4-.4-.6-.5-.7-.4-.7-.2-.6-.2-1 0-1 .1-.7 .2-.7 .1-.6 .3-.7 .2-.7 .3-.6 .2-.7 .3-.7 .2-.6 .2-.7 .2-.7 .2-.6 .2-.7 .1-.7 .2-.6 .1-.7 .1-.7 .1-.6 .1-.7 .1-.7 .1-1 .1-1 .1-1 0-1 .1-1-.1-1-.1-.6-.1-.7-.1-.7-.2-.5-.3-.6-.3-.5-.5-.3-.8 .1-.7 .4-.7 .4-.5 .7-.5 .5-.3 .5-.3 .7-.3 .6-.2 .7-.3 .7-.2 .6-.1 .7-.2 .7-.2 .6-.1 .7-.1 .7-.2 .6-.1 .7-.2 .7-.2 .6-.2 .7-.2 .7-.2 .6-.3 .7-.2 .7-.3 .6-.3 .7-.3 .6-.3 .7-.3 .7-.3 .7-.3 .6-.3 .7-.2 .6-.3 .7-.2 .7-.3 .7-.3 .5-.2 .8-.3 .7-.3 .6-.4 .7-.3 .5-.3 .6-.4 .6-.3 .5-.3 .6-.4 .5-.3 .7-.3 .7-.3 .6-.3 .7-.2 .7-.2 .6-.1 1-.1 1 0 .7 .1 .7 .2 .6 .3 .7 .3 .7 .5 .4 .4 .6 .6 .3 .5 .3 .5 .4 .6 .3 .8 .2 .7 .1 .7 .1 1 0 1-.1 1-.2 .6-.1 .7-.3 .7-.3 .6-.3 .7-.4 .7-.4 .5-.3 .4-.3 .5-.6 .6-.4 .5-.5 .5-.5 .5-.6 .5-.4 .4-.7 .5-.6 .4-.5 .3-.6 .3M205.1 222.6l-.7 .1-1 0-.7-.1-.6-.2-.7-.3-.7-.4-.6-.5-.6-.4-.5-.3-.4-.3-.5-.4-.5-.3-.5-.3-.5-.4-.5-.3-.6-.3-.6-.4-.5-.3-.3-.7 .5-.6 .5-.5 .5-.5 .5-.5 .6-.5 .7-.6 .5-.4 .4-.4 .5-.3 .4-.3 .5-.4 .5-.3 .5-.3 .7-.4 .7-.2 .6-.3 .7-.1 .7-.1 1-.1 .6 .1 .7 .2 .7 .3 .6 .4 .6 .5 .4 .5 .4 .5 .3 .6 .3 .7 .1 .7 .1 .7 0 1-.1 1-.2 .6-.2 .7-.3 .7-.4 .5-.3 .5-.5 .6-.5 .5-.7 .5-.6 .4-.7 .3M204.7 220.2l-1 .1-.6-.1-.7-.2-.7-.4-.6-.4-.7-.7-.5-.7-.4-.6-.1-.7 .1-1 .2-.6 .4-.5 .5-.6 .5-.4 .6-.5 .7-.4 .7-.2 .6-.2 1 0 .7 .1 .7 .2 .6 .4 .4 .4 .3 .4 .3 .6 .2 .6 .1 .7 0 1-.1 .7-.3 .6-.3 .7-.6 .6-.4 .4-.5 .3-.7 .4M204.4 218.2l-1-.1-.5-.3-.5-.4-.3-.5-.2-.7 .2-.7 .3-.5 .5-.5 .5-.3 .7-.1 .7 .1 .6 .3 .5 .7 .2 .6 0 .8-.3 .6-.4 .5-.7 .4" fill="none" stroke="#505050" stroke-width="0.5"/><path d="M154.4,239.6 L158.4,234.7 L220.4,235.1 L226.4,239.6Z" fill="#999" fill-opacity="0.5"/><path d="M155.4,239.6 L157.4,237.1 L222.4,237.3 L226.4,239.6Z" fill="#1e1e1e" fill-opacity="0.9"/><rect x="151.8" y="208.5" width="3.0" height="31.2" fill="#999" fill-opacity="0.8"/></g>
<rect x="151.5" y="154.5" width="86" height="86" fill="none" stroke="#707070" stroke-width="1"/>
<line x1="196.50" y1="154.50" x2="196.50" y2="240.50" stroke="#3c3c3c" stroke-width="1"/>
<line x1="151.50" y1="200.50" x2="237.50" y2="200.50" stroke="#3c3c3c" stroke-width="1"/>
<rect x="152" y="155" width="37.8" height="33.5" fill="#fff"/>
<line x1="171.50" y1="157.50" x2="171.50" y2="187.50" stroke="#1e1e1e" stroke-width="1.05"/>
<line x1="153.80" y1="173.30" x2="188.80" y2="173.30" stroke="#262626" stroke-width="1.3"/>
<text x="161.80" y="167.70" style="font-family:'Liberation Serif',serif;font-size:9px;font-weight:normal" text-anchor="middle" fill="#1a1a1a" class="s">0.1</text>
<text x="181.00" y="167.70" style="font-family:'Liberation Serif',serif;font-size:9px;font-weight:normal" text-anchor="middle" fill="#1a1a1a" class="s">1.5</text>
<text x="161.80" y="182.90" style="font-family:'Liberation Serif',serif;font-size:9px;font-weight:normal" text-anchor="middle" fill="#1a1a1a" class="s">28</text>
<text x="181.00" y="182.90" style="font-family:'Liberation Serif',serif;font-size:9px;font-weight:normal" text-anchor="middle" fill="#1a1a1a" class="s">70</text>
<g><path d="M294.7 234.5l-1 0-1 0-1 0-1 0-.9 0-1.1 0-1-.1-1 0-1-.1-1-.1-1-.1-1-.1-.6-.1-.7-.1-.7-.1-.6-.1-.7-.1-.7-.1-.6-.1-.7-.2-.7-.1-.6-.1-.7-.1-.7-.2-.6-.1-.7-.1-.7-.1-.6-.1-1-.1-1-.1-1 0-1 0-1 0-1 0-1 0-1 0-1 0-1 0-1 0-1 0-1 0-1 0-1 .2-.7 .1-.7 .2-.6 .2-.7 .2-.7 .2-.6 .2-.7 .1-1 0-.7-.1-.6-.2-.7-.2-.6-.4-.5-.3-.6-.5-.5-.5-.5-.5-.3-.5-.3-.5-.4-.5-.3-.7-.3-.7-.2-.6-.2-.7-.2-.7 0-.6-.1-1 .1-1 .1-.7 .1-.7 .2-.6 .2-.7 .3-.7 .3-.6 .4-.6 .3-.6 .3-.4 .7-.8 .7-.6 .6-.6 .7-.4 .7-.3 .6-.3 .7-.2 .7-.1 .6-.1 .7-.1 .7-.1 .6-.1 .7-.2 .7-.1 .6-.2 .7-.2 .7-.2 .6-.2 .7-.3 .7-.2 .6-.1 .7-.2 .7-.2 .6-.2 .7-.1 .7-.1 .6-.2 .7-.1 .7-.1 .6-.1 .7-.1 .7-.1 .6-.1 .7-.1 .7 0 .6-.1 .7-.1 .7-.2 .6-.1 .7-.1 .7-.2 .6-.2 .7-.3 .7-.2 .6-.3 .6-.2 .8-.3 .6-.3 .7-.3 .7-.3 .6-.3 .7-.3 .7-.3 .6-.2 .7-.3 .7-.3 .6-.3 .7-.3 .7-.3 .6-.3 .7-.4 .7-.4 .6-.4 .5-.4 .5-.3 .4-.3 .5-.4 .4-.3 .4-.3 .4-.4 .4-.3 .5-.3 .5-.4 .4-.3 .5-.3 .6-.4 .6-.3 .6-.3 .7-.4 .8-.3 .7-.2 .6-.2 .7-.2 .7-.1 .6-.1 1-.1 1-.1 1 .1 1 .1 .7 .1 .7 .1 .6 .2 .7 .2 .7 .3 .6 .2 .7 .4 .6 .3 .5 .3 .5 .4 .5 .3 .4 .3 .5 .4 .6 .6 .7 .7 .4 .5 .3 .4 .3 .4 .4 .5 .3 .5 .3 .6 .4 .6 .3 .7 .3 .8 .3 .7 .2 .6 .2 .7 .1 .7 .1 .6 .1 .7 .1 1 .1 1 0 1-.1 1-.1 .7-.1 1-.1 .6-.2 .7-.2 .7-.2 .6-.3 .7-.2 .6-.3 .7-.3 .7-.3 .7-.3 .6-.3 .7-.3 .7-.1 .6-.2 .7-.1 .7-.1 .6-.2 .7-.2 .7-.3 .6-.3 .5-.5 .5-.5 .6-.7 .4-.5 .4-.5 .3-.7 .3-.6 .3-.7 .3-.7 .2-.6 .2-.7 .2-.7 .2-.6 .2-.7 .1-.7 .1-.6 .2-.7 .1-.7 .1-.6 .1-1 .1-1 .1-1 0-1 .1-1 .1-1 0z" fill="#ececec" stroke="none"/><clipPath id="cl12"><rect x="244.4" y="200.5" width="85.8" height="39.6"/></clipPath><path d="M297.4 231.5l-1 .1-1 .1-1 .1-1 0-1 0-1 0-1 0-1 0-1-.1-1-.1-.9-.1-.8-.1-.6-.1-.7-.1-.7-.1-.6-.2-.7-.2-.7-.1-.6-.2-.7-.2-.7-.3-.6-.2-.7-.3-.7-.2-.6-.3-.7-.2-.7-.2-.6-.2-.7-.1-.7-.1-1 0-1-.1-1 .1-1 0-1 .1-1 0-1 .1-1 0-1 0-1 0-1 0-1-.1-.7 0-.9-.1-1-.1-1-.1-1 0-.7 .1-.7 .2-.6 .3-.7 .2-.7 .3-.6 .2-.7 .1-1 0-.7-.2-.5-.3-.5-.3-.6-.7-.4-.5-.3-.7-.3-.8-.1-.6-.1-1 .1-1 .1-.7 .2-.7 .3-.6 .3-.7 .5-.6 .4-.4 .4-.3 .5-.3 .7-.3 .7-.2 .6-.1 1-.1 1-.1 .7-.1 .7-.2 .6-.2 .7-.2 .7-.3 .6-.3 .7-.3 .7-.2 .6-.3 .7-.2 .7-.3 .6-.2 .7-.1 .7-.2 .6-.1 .7-.2 .7-.1 .6-.1 .7-.1 .7-.1 1-.1 1-.1 1-.1 1-.1 .6-.1 .7-.2 .7-.1 .6-.2 .7-.2 .7-.2 .6-.3 .7-.3 .7-.3 .6-.3 .7-.3 .5-.2 .7-.4 .8-.3 .7-.3 .6-.3 .7-.3 .7-.2 .6-.2 .7-.3 .7-.2 .6-.3 .7-.2 .7-.3 .6-.3 .7-.3 .7-.3 .6-.5 .6-.3 .4-.3 .5-.4 .4-.3 .5-.4 .4-.3 .4-.3 .5-.4 .4-.3 .5-.3 .5-.4 .6-.3 .6-.3 .7-.4 .7-.3 .7-.2 .6-.2 .7-.1 .7-.1 1-.1 1 0 .7 0 .9 .2 .7 .1 .7 .2 .6 .3 .6 .2 .6 .4 .6 .3 .5 .3 .4 .4 .4 .3 .6 .6 .4 .4 .6 .7 .3 .5 .4 .5 .3 .6 .3 .6 .4 .8 .2 .6 .2 .7 .2 .7 .1 .6 .1 .7 .1 1 0 1-.1 1-.1 .7-.1 .6-.2 .7-.2 .7-.2 .6-.3 .7-.3 .7-.4 .6-.4 .7-.3 .5-.3 .4-.4 .5-.3 .4-.4 .5-.6 .7-.3 .4-.4 .5-.3 .4-.3 .5-.3 .5-.4 .7-.3 .6-.4 .5-.3 .4-.4 .5-.6 .5-.7 .4-.6 .4-.7 .3-.7 .3-.6 .2-.7 .2-.7 .2-.6 .1-.7 .1-.7 .1-.6 .1-.7 .1z" fill="#d8d8d8" stroke="none" clip-path="url(#cl12)"/><path d="M296.4 191.6h.6v.6h-.6zM310.0 186.4h.6v.6h-.6zM300.9 207.1h.6v.6h-.6zM305.7 190.1h.6v.6h-.6zM298.7 184.3h.6v.6h-.6zM317.7 199.3h.6v.6h-.6zM298.6 184.2h.6v.6h-.6zM305.4 188.1h.6v.6h-.6zM302.4 186.1h.6v.6h-.6zM317.4 191.6h.6v.6h-.6zM306.2 188.1h.6v.6h-.6zM298.3 209.1h.6v.6h-.6zM302.0 188.0h.6v.6h-.6zM299.4 191.5h.6v.6h-.6zM298.8 196.8h.6v.6h-.6zM303.7 207.6h.6v.6h-.6zM295.9 185.0h.6v.6h-.6zM308.8 182.3h.6v.6h-.6zM293.6 199.4h.6v.6h-.6zM304.9 184.1h.6v.6h-.6zM309.0 183.7h.6v.6h-.6zM307.5 183.7h.6v.6h-.6zM315.4 194.1h.6v.6h-.6zM305.8 190.3h.6v.6h-.6zM310.7 162.6h.6v.6h-.6zM301.0 194.3h.6v.6h-.6zM315.7 195.1h.6v.6h-.6zM289.8 191.1h.6v.6h-.6zM306.2 181.1h.6v.6h-.6zM299.6 194.0h.6v.6h-.6zM309.8 166.9h.6v.6h-.6zM298.6 205.2h.6v.6h-.6zM304.0 185.2h.6v.6h-.6zM307.2 183.3h.6v.6h-.6zM299.1 192.9h.6v.6h-.6zM304.9 207.1h.6v.6h-.6zM308.2 182.5h.6v.6h-.6zM302.5 191.3h.6v.6h-.6zM301.0 182.7h.6v.6h-.6zM304.4 185.2h.6v.6h-.6zM315.8 197.2h.6v.6h-.6zM299.8 207.6h.6v.6h-.6zM310.2 189.2h.6v.6h-.6zM292.1 186.4h.6v.6h-.6zM298.6 188.8h.6v.6h-.6zM305.1 189.7h.6v.6h-.6zM309.5 185.3h.6v.6h-.6zM303.0 184.8h.6v.6h-.6zM306.1 177.2h.6v.6h-.6zM295.9 182.2h.6v.6h-.6zM298.9 185.1h.6v.6h-.6zM309.1 209.1h.6v.6h-.6zM305.4 180.7h.6v.6h-.6zM303.9 202.8h.6v.6h-.6zM295.6 185.6h.6v.6h-.6zM314.7 185.2h.6v.6h-.6zM313.2 193.4h.6v.6h-.6zM303.4 199.3h.6v.6h-.6zM307.6 182.8h.6v.6h-.6zM297.5 181.8h.6v.6h-.6zM309.2 190.0h.6v.6h-.6zM305.4 190.8h.6v.6h-.6zM302.6 187.4h.6v.6h-.6zM292.4 189.6h.6v.6h-.6zM299.4 187.3h.6v.6h-.6zM295.3 182.0h.6v.6h-.6zM310.2 194.0h.6v.6h-.6zM300.7 206.3h.6v.6h-.6zM314.3 200.2h.6v.6h-.6zM307.4 188.2h.6v.6h-.6zM300.1 193.5h.6v.6h-.6zM312.6 190.7h.6v.6h-.6zM312.0 184.7h.6v.6h-.6zM306.0 185.4h.6v.6h-.6zM293.1 186.2h.6v.6h-.6zM308.7 204.5h.6v.6h-.6zM309.5 196.4h.6v.6h-.6zM308.0 183.1h.6v.6h-.6zM299.5 188.1h.6v.6h-.6zM296.6 191.7h.6v.6h-.6zM295.1 182.3h.6v.6h-.6zM293.8 190.9h.6v.6h-.6zM299.4 179.7h.6v.6h-.6zM310.9 193.9h.6v.6h-.6zM312.8 198.2h.6v.6h-.6zM302.8 187.1h.6v.6h-.6zM301.0 193.1h.6v.6h-.6zM309.8 192.8h.6v.6h-.6zM306.8 193.0h.6v.6h-.6zM309.9 198.0h.6v.6h-.6zM303.9 179.3h.6v.6h-.6zM301.7 189.7h.6v.6h-.6zM312.4 193.8h.6v.6h-.6zM299.2 172.7h.6v.6h-.6zM309.1 196.7h.6v.6h-.6zM299.5 189.2h.6v.6h-.6zM305.7 200.7h.6v.6h-.6zM302.6 192.3h.6v.6h-.6zM304.2 197.0h.6v.6h-.6zM301.2 198.0h.6v.6h-.6zM313.4 191.1h.6v.6h-.6zM304.1 198.2h.6v.6h-.6zM302.3 190.1h.6v.6h-.6zM302.7 174.6h.6v.6h-.6zM314.4 186.9h.6v.6h-.6zM301.9 189.9h.6v.6h-.6zM298.9 200.0h.6v.6h-.6zM296.8 187.8h.6v.6h-.6zM305.6 191.6h.6v.6h-.6zM301.5 196.9h.6v.6h-.6zM302.1 199.2h.6v.6h-.6zM306.4 173.4h.6v.6h-.6zM316.0 190.0h.6v.6h-.6zM307.4 182.1h.6v.6h-.6zM310.5 197.7h.6v.6h-.6zM300.7 203.1h.6v.6h-.6zM309.3 196.4h.6v.6h-.6zM309.3 182.6h.6v.6h-.6zM307.2 185.5h.6v.6h-.6zM308.3 202.6h.6v.6h-.6zM297.6 193.2h.6v.6h-.6zM312.0 183.6h.6v.6h-.6zM303.1 196.3h.6v.6h-.6zM299.1 193.7h.6v.6h-.6zM305.0 180.7h.6v.6h-.6zM306.3 192.6h.6v.6h-.6zM303.1 183.0h.6v.6h-.6zM307.3 193.0h.6v.6h-.6zM308.0 189.1h.6v.6h-.6zM302.0 191.9h.6v.6h-.6zM300.5 168.3h.6v.6h-.6zM302.6 192.1h.6v.6h-.6zM302.4 186.9h.6v.6h-.6zM301.7 205.8h.6v.6h-.6zM312.1 191.7h.6v.6h-.6zM317.5 193.1h.6v.6h-.6zM295.4 178.6h.6v.6h-.6zM306.5 178.2h.6v.6h-.6zM299.5 187.3h.6v.6h-.6zM298.6 198.9h.6v.6h-.6zM305.2 182.2h.6v.6h-.6zM306.3 203.7h.6v.6h-.6zM296.9 198.2h.6v.6h-.6zM306.3 183.5h.6v.6h-.6zM305.6 203.6h.6v.6h-.6zM297.6 182.4h.6v.6h-.6zM307.8 194.0h.6v.6h-.6zM304.2 182.2h.6v.6h-.6zM299.7 190.4h.6v.6h-.6zM299.6 197.4h.6v.6h-.6zM316.4 228.6h.6v.6h-.6zM309.8 229.0h.6v.6h-.6zM311.7 215.5h.6v.6h-.6zM316.8 231.5h.6v.6h-.6zM314.5 223.3h.6v.6h-.6zM315.5 215.4h.6v.6h-.6zM307.6 223.3h.6v.6h-.6zM320.2 223.0h.6v.6h-.6zM309.1 216.7h.6v.6h-.6zM305.7 215.2h.6v.6h-.6zM312.1 227.3h.6v.6h-.6zM311.7 207.8h.6v.6h-.6zM318.9 229.5h.6v.6h-.6zM313.8 212.8h.6v.6h-.6zM310.2 216.1h.6v.6h-.6zM308.3 213.1h.6v.6h-.6zM316.0 221.5h.6v.6h-.6zM312.9 233.8h.6v.6h-.6zM311.3 213.0h.6v.6h-.6zM306.7 227.4h.6v.6h-.6zM316.9 211.8h.6v.6h-.6zM312.4 223.2h.6v.6h-.6zM315.6 218.6h.6v.6h-.6zM313.8 223.0h.6v.6h-.6zM310.4 215.5h.6v.6h-.6zM306.8 232.6h.6v.6h-.6zM314.9 213.6h.6v.6h-.6zM316.2 229.3h.6v.6h-.6zM309.0 222.9h.6v.6h-.6zM311.1 211.8h.6v.6h-.6zM318.4 215.4h.6v.6h-.6zM312.4 227.6h.6v.6h-.6zM315.7 210.4h.6v.6h-.6zM308.4 222.0h.6v.6h-.6zM310.4 202.1h.6v.6h-.6zM313.7 208.4h.6v.6h-.6zM308.5 229.7h.6v.6h-.6zM313.1 226.1h.6v.6h-.6zM313.2 221.2h.6v.6h-.6zM307.1 215.1h.6v.6h-.6zM315.1 214.7h.6v.6h-.6zM317.1 198.5h.6v.6h-.6zM307.1 225.7h.6v.6h-.6zM316.3 201.2h.6v.6h-.6zM307.6 204.1h.6v.6h-.6zM319.4 197.7h.6v.6h-.6zM312.9 201.1h.6v.6h-.6zM306.0 214.4h.6v.6h-.6zM281.5 237.3h.6v.6h-.6zM320.7 194.4h.6v.6h-.6zM279.0 207.4h.6v.6h-.6zM276.3 208.8h.6v.6h-.6zM301.6 237.1h.6v.6h-.6zM313.8 228.1h.6v.6h-.6zM265.6 206.4h.6v.6h-.6zM252.2 235.3h.6v.6h-.6zM292.4 198.3h.6v.6h-.6zM313.3 230.2h.6v.6h-.6zM291.8 199.1h.6v.6h-.6zM324.0 229.4h.6v.6h-.6zM291.9 236.0h.6v.6h-.6zM297.2 236.2h.6v.6h-.6zM282.3 204.5h.6v.6h-.6zM308.2 190.2h.6v.6h-.6zM285.9 197.0h.6v.6h-.6zM249.9 236.5h.6v.6h-.6zM283.7 204.0h.6v.6h-.6zM301.4 195.3h.6v.6h-.6zM316.3 198.9h.6v.6h-.6zM314.3 238.6h.6v.6h-.6zM325.2 229.1h.6v.6h-.6zM313.8 231.1h.6v.6h-.6zM307.7 237.1h.6v.6h-.6zM317.2 196.8h.6v.6h-.6zM284.0 203.3h.6v.6h-.6zM314.3 226.9h.6v.6h-.6zM271.5 233.3h.6v.6h-.6zM318.7 235.6h.6v.6h-.6zM286.7 195.7h.6v.6h-.6zM277.8 207.8h.6v.6h-.6zM291.7 195.1h.6v.6h-.6zM295.8 235.1h.6v.6h-.6zM262.7 209.3h.6v.6h-.6zM315.2 224.6h.6v.6h-.6zM294.6 196.9h.6v.6h-.6zM322.2 219.0h.6v.6h-.6zM250.3 234.4h.6v.6h-.6zM272.0 234.5h.6v.6h-.6zM276.5 233.8h.6v.6h-.6zM287.1 199.7h.6v.6h-.6zM319.6 209.2h.6v.6h-.6zM316.5 227.1h.6v.6h-.6zM284.1 205.5h.6v.6h-.6zM299.9 196.2h.6v.6h-.6zM250.6 212.3h.6v.6h-.6zM275.9 236.3h.6v.6h-.6zM290.2 199.7h.6v.6h-.6zM280.1 203.4h.6v.6h-.6zM314.3 198.1h.6v.6h-.6zM264.5 233.8h.6v.6h-.6zM251.6 238.3h.6v.6h-.6zM294.4 191.9h.6v.6h-.6zM282.2 205.3h.6v.6h-.6zM321.1 210.9h.6v.6h-.6zM312.7 195.0h.6v.6h-.6zM315.8 224.6h.6v.6h-.6zM309.8 232.7h.6v.6h-.6zM321.0 224.2h.6v.6h-.6zM255.8 233.0h.6v.6h-.6zM295.6 197.1h.6v.6h-.6zM296.2 196.9h.6v.6h-.6zM289.8 237.2h.6v.6h-.6zM278.9 202.6h.6v.6h-.6zM293.8 195.5h.6v.6h-.6zM304.9 195.5h.6v.6h-.6zM315.0 191.6h.6v.6h-.6zM288.5 201.2h.6v.6h-.6zM319.6 208.4h.6v.6h-.6zM306.3 234.2h.6v.6h-.6zM315.6 200.1h.6v.6h-.6zM288.4 203.1h.6v.6h-.6zM301.9 196.1h.6v.6h-.6zM286.3 201.1h.6v.6h-.6zM246.2 218.2h.6v.6h-.6zM319.3 223.8h.6v.6h-.6zM306.8 193.9h.6v.6h-.6zM257.1 233.6h.6v.6h-.6zM289.8 237.1h.6v.6h-.6zM315.0 227.7h.6v.6h-.6zM293.6 234.9h.6v.6h-.6zM309.5 195.9h.6v.6h-.6zM303.6 234.7h.6v.6h-.6zM312.8 198.4h.6v.6h-.6zM306.9 196.8h.6v.6h-.6zM304.8 235.8h.6v.6h-.6zM317.2 202.1h.6v.6h-.6zM280.2 203.4h.6v.6h-.6zM318.9 194.7h.6v.6h-.6zM283.9 202.7h.6v.6h-.6zM245.5 235.2h.6v.6h-.6zM320.3 219.6h.6v.6h-.6zM275.8 205.3h.6v.6h-.6zM309.9 234.8h.6v.6h-.6zM277.5 233.4h.6v.6h-.6zM267.9 206.7h.6v.6h-.6zM246.2 230.8h.6v.6h-.6zM312.5 232.4h.6v.6h-.6zM259.6 212.0h.6v.6h-.6zM271.0 234.3h.6v.6h-.6zM272.0 210.2h.6v.6h-.6zM285.2 202.7h.6v.6h-.6zM318.3 198.5h.6v.6h-.6zM324.9 210.9h.6v.6h-.6zM320.7 233.6h.6v.6h-.6zM303.1 195.4h.6v.6h-.6zM307.5 232.6h.6v.6h-.6zM282.0 236.9h.6v.6h-.6zM321.7 206.5h.6v.6h-.6zM260.0 211.2h.6v.6h-.6zM270.9 238.8h.6v.6h-.6zM290.8 200.0h.6v.6h-.6zM281.5 236.1h.6v.6h-.6zM315.8 230.8h.6v.6h-.6zM266.3 234.1h.6v.6h-.6zM297.5 234.5h.6v.6h-.6zM317.5 227.8h.6v.6h-.6zM315.4 197.1h.6v.6h-.6zM293.3 193.6h.6v.6h-.6zM301.6 234.0h.6v.6h-.6zM296.0 192.9h.6v.6h-.6zM292.3 235.3h.6v.6h-.6zM278.5 207.3h.6v.6h-.6zM313.1 199.5h.6v.6h-.6zM283.5 235.5h.6v.6h-.6zM318.7 213.4h.6v.6h-.6zM319.6 216.0h.6v.6h-.6zM323.9 203.1h.6v.6h-.6zM252.0 213.6h.6v.6h-.6zM280.4 205.1h.6v.6h-.6zM296.0 236.6h.6v.6h-.6zM304.7 196.6h.6v.6h-.6zM316.9 219.7h.6v.6h-.6zM252.8 212.0h.6v.6h-.6zM266.2 207.1h.6v.6h-.6zM306.2 186.8h.6v.6h-.6zM318.9 207.4h.6v.6h-.6zM286.1 204.4h.6v.6h-.6zM290.1 197.9h.6v.6h-.6zM278.3 206.8h.6v.6h-.6zM283.6 236.3h.6v.6h-.6zM290.6 202.0h.6v.6h-.6zM272.0 235.0h.6v.6h-.6zM313.8 201.1h.6v.6h-.6zM267.4 209.5h.6v.6h-.6zM295.1 235.2h.6v.6h-.6zM300.8 235.6h.6v.6h-.6zM302.9 195.4h.6v.6h-.6zM314.5 224.5h.6v.6h-.6zM252.1 209.0h.6v.6h-.6zM260.8 211.2h.6v.6h-.6zM319.9 205.7h.6v.6h-.6zM315.9 204.5h.6v.6h-.6zM302.0 191.8h.6v.6h-.6zM317.8 210.5h.6v.6h-.6zM314.6 198.5h.6v.6h-.6zM247.5 233.1h.6v.6h-.6zM269.1 209.7h.6v.6h-.6zM267.0 208.4h.6v.6h-.6zM260.3 234.3h.6v.6h-.6zM319.6 211.0h.6v.6h-.6zM323.8 205.4h.6v.6h-.6zM314.4 196.7h.6v.6h-.6zM261.2 232.7h.6v.6h-.6zM317.9 199.0h.6v.6h-.6zM278.9 205.9h.6v.6h-.6zM310.5 233.9h.6v.6h-.6zM299.3 184.7h.6v.6h-.6zM322.0 232.3h.6v.6h-.6zM321.3 226.5h.6v.6h-.6zM297.5 234.4h.6v.6h-.6zM298.2 196.8h.6v.6h-.6zM305.3 195.0h.6v.6h-.6zM291.2 199.4h.6v.6h-.6zM308.6 191.5h.6v.6h-.6zM321.5 233.0h.6v.6h-.6zM280.0 203.4h.6v.6h-.6zM255.0 212.5h.6v.6h-.6zM316.8 203.7h.6v.6h-.6zM314.6 202.2h.6v.6h-.6zM317.9 209.6h.6v.6h-.6zM271.4 208.4h.6v.6h-.6zM299.7 196.5h.6v.6h-.6zM316.9 236.3h.6v.6h-.6zM282.6 203.8h.6v.6h-.6zM318.5 196.4h.6v.6h-.6zM257.5 236.6h.6v.6h-.6zM317.8 210.3h.6v.6h-.6zM291.9 196.3h.6v.6h-.6zM272.9 208.9h.6v.6h-.6zM297.9 234.6h.6v.6h-.6zM318.0 207.1h.6v.6h-.6zM285.0 201.0h.6v.6h-.6zM262.3 233.9h.6v.6h-.6zM305.2 237.6h.6v.6h-.6zM270.0 232.7h.6v.6h-.6zM282.2 206.3h.6v.6h-.6zM263.8 235.3h.6v.6h-.6zM246.9 217.3h.6v.6h-.6zM315.8 201.3h.6v.6h-.6zM290.5 198.4h.6v.6h-.6zM323.0 206.0h.6v.6h-.6zM267.8 207.3h.6v.6h-.6zM318.3 227.3h.6v.6h-.6zM319.5 215.0h.6v.6h-.6zM277.5 206.6h.6v.6h-.6zM254.0 234.0h.6v.6h-.6zM303.5 235.7h.6v.6h-.6zM317.9 212.6h.6v.6h-.6zM318.3 201.8h.6v.6h-.6zM269.1 233.8h.6v.6h-.6zM316.5 226.3h.6v.6h-.6zM273.2 234.6h.6v.6h-.6z" fill="#8c8c8c"/><path d="M294.7 234.5l-1 0-1 0-1 0-1 0-.9 0-1.1 0-1-.1-1 0-1-.1-1-.1-1-.1-1-.1-.6-.1-.7-.1-.7-.1-.6-.1-.7-.1-.7-.1-.6-.1-.7-.2-.7-.1-.6-.1-.7-.1-.7-.2-.6-.1-.7-.1-.7-.1-.6-.1-1-.1-1-.1-1 0-1 0-1 0-1 0-1 0-1 0-1 0-1 0-1 0-1 0-1 0-1 0-1 .2-.7 .1-.7 .2-.6 .2-.7 .2-.7 .2-.6 .2-.7 .1-1 0-.7-.1-.6-.2-.7-.2-.6-.4-.5-.3-.6-.5-.5-.5-.5-.5-.3-.5-.3-.5-.4-.5-.3-.7-.3-.7-.2-.6-.2-.7-.2-.7 0-.6-.1-1 .1-1 .1-.7 .1-.7 .2-.6 .2-.7 .3-.7 .3-.6 .4-.6 .3-.6 .3-.4 .7-.8 .7-.6 .6-.6 .7-.4 .7-.3 .6-.3 .7-.2 .7-.1 .6-.1 .7-.1 .7-.1 .6-.1 .7-.2 .7-.1 .6-.2 .7-.2 .7-.2 .6-.2 .7-.3 .7-.2 .6-.1 .7-.2 .7-.2 .6-.2 .7-.1 .7-.1 .6-.2 .7-.1 .7-.1 .6-.1 .7-.1 .7-.1 .6-.1 .7-.1 .7 0 .6-.1 .7-.1 .7-.2 .6-.1 .7-.1 .7-.2 .6-.2 .7-.3 .7-.2 .6-.3 .6-.2 .8-.3 .6-.3 .7-.3 .7-.3 .6-.3 .7-.3 .7-.3 .6-.2 .7-.3 .7-.3 .6-.3 .7-.3 .7-.3 .6-.3 .7-.4 .7-.4 .6-.4 .5-.4 .5-.3 .4-.3 .5-.4 .4-.3 .4-.3 .4-.4 .4-.3 .5-.3 .5-.4 .4-.3 .5-.3 .6-.4 .6-.3 .6-.3 .7-.4 .8-.3 .7-.2 .6-.2 .7-.2 .7-.1 .6-.1 1-.1 1-.1 1 .1 1 .1 .7 .1 .7 .1 .6 .2 .7 .2 .7 .3 .6 .2 .7 .4 .6 .3 .5 .3 .5 .4 .5 .3 .4 .3 .5 .4 .6 .6 .7 .7 .4 .5 .3 .4 .3 .4 .4 .5 .3 .5 .3 .6 .4 .6 .3 .7 .3 .8 .3 .7 .2 .6 .2 .7 .1 .7 .1 .6 .1 .7 .1 1 .1 1 0 1-.1 1-.1 .7-.1 1-.1 .6-.2 .7-.2 .7-.2 .6-.3 .7-.2 .6-.3 .7-.3 .7-.3 .7-.3 .6-.3 .7-.3 .7-.1 .6-.2 .7-.1 .7-.1 .6-.2 .7-.2 .7-.3 .6-.3 .5-.5 .5-.5 .6-.7 .4-.5 .4-.5 .3-.7 .3-.6 .3-.7 .3-.7 .2-.6 .2-.7 .2-.7 .2-.6 .2-.7 .1-.7 .1-.6 .2-.7 .1-.7 .1-.6 .1-1 .1-1 .1-1 0-1 .1-1 .1-1 0M295.7 233.2l-1 0-1 .1-1 0-1 0-1 0-1-.1-1 0-1-.1-1 0-1-.1-1-.1-1-.2-.6-.1-.7-.1-.7-.1-.6-.1-.7-.1-.7-.2-.6-.1-.7-.2-.7-.1-.6-.2-.7-.2-.7-.1-.6-.2-.7-.1-.7-.2-.6-.1-.7-.1-1-.1-1-.1-1 0-1 0-1 0-1 0-1 .1-1 0-1 0-1 0-1-.1-1 0-1-.1-1 0-1 .1-.7 .1-.6 .1-.7 .2-.6 .2-.7 .3-.7 .2-.7 .1-1 .1-1-.1-.6-.2-.6-.4-.5-.3-.6-.5-.4-.5-.5-.7-.4-.6-.3-.7-.3-.7-.1-.6-.2-.7-.1-1 0-1 .2-1 .1-.7 .2-.6 .3-.7 .3-.7 .4-.6 .5-.6 .6-.8 .7-.5 .7-.4 .6-.3 .7-.2 .7-.2 .6-.1 .7-.1 1-.1 .7-.1 .6-.2 .7-.2 .7-.2 .6-.2 .7-.2 .7-.3 .6-.2 .7-.2 .7-.2 .6-.2 .7-.2 .7-.2 .6-.1 .7-.2 .7-.1 .6-.1 .7-.1 .7-.1 .6-.1 .7-.1 1-.1 1-.1 .7-.1 .6-.1 .7-.1 .7-.2 .6-.1 .7-.2 .7-.2 .6-.2 .7-.3 .6-.2 .7-.3 .7-.3 .7-.3 .6-.3 .7-.3 .7-.3 .6-.3 .7-.3 .7-.3 .6-.2 .7-.3 .7-.2 .5-.3 .8-.3 .7-.3 .6-.3 .7-.3 .7-.4 .6-.4 .5-.3 .5-.3 .4-.4 .5-.3 .4-.3 .4-.4 .4-.3 .5-.3 .4-.4 .5-.3 .5-.3 .5-.4 .5-.3 .7-.3 .7-.3 .6-.3 .7-.3 .6-.1 .7-.2 .7-.2 .7-.1 1-.1 1 0 1 .1 .6 .1 .7 .1 .7 .2 .6 .2 .7 .3 .6 .2 .7 .4 .6 .3 .4 .3 .6 .4 .4 .3 .7 .6 .4 .4 .6 .7 .5 .6 .5 .7 .3 .5 .3 .5 .4 .7 .3 .6 .3 .7 .2 .7 .2 .6 .2 .7 .1 .7 .1 .6 .1 1 0 1 0 1-.1 1-.1 .7-.1 .7-.2 .6-.1 .7-.2 .6-.3 .7-.3 .7-.3 .7-.3 .6-.4 .7-.4 .7-.4 .6-.3 .6-.3 .6-.3 .5-.3 .7-.3 .6-.2 .7-.2 .7-.3 .6-.4 .7-.4 .5-.5 .5-.5 .4-.6 .4-.7 .4-.7 .3-.6 .3-.7 .3-.7 .2-.6 .2-.7 .1-.7 .2-.6 .1-.7 .2-.7 .1-.6 .1-.7 .1-1 .1-1 .1-1 0M297.4 231.5l-1 .1-1 .1-1 .1-1 0-1 0-1 0-1 0-1 0-1-.1-1-.1-.9-.1-.8-.1-.6-.1-.7-.1-.7-.1-.6-.2-.7-.2-.7-.1-.6-.2-.7-.2-.7-.3-.6-.2-.7-.3-.7-.2-.6-.3-.7-.2-.7-.2-.6-.2-.7-.1-.7-.1-1 0-1-.1-1 .1-1 0-1 .1-1 0-1 .1-1 0-1 0-1 0-1 0-1-.1-.7 0-.9-.1-1-.1-1-.1-1 0-.7 .1-.7 .2-.6 .3-.7 .2-.7 .3-.6 .2-.7 .1-1 0-.7-.2-.5-.3-.5-.3-.6-.7-.4-.5-.3-.7-.3-.8-.1-.6-.1-1 .1-1 .1-.7 .2-.7 .3-.6 .3-.7 .5-.6 .4-.4 .4-.3 .5-.3 .7-.3 .7-.2 .6-.1 1-.1 1-.1 .7-.1 .7-.2 .6-.2 .7-.2 .7-.3 .6-.3 .7-.3 .7-.2 .6-.3 .7-.2 .7-.3 .6-.2 .7-.1 .7-.2 .6-.1 .7-.2 .7-.1 .6-.1 .7-.1 .7-.1 1-.1 1-.1 1-.1 1-.1 .6-.1 .7-.2 .7-.1 .6-.2 .7-.2 .7-.2 .6-.3 .7-.3 .7-.3 .6-.3 .7-.3 .5-.2 .7-.4 .8-.3 .7-.3 .6-.3 .7-.3 .7-.2 .6-.2 .7-.3 .7-.2 .6-.3 .7-.2 .7-.3 .6-.3 .7-.3 .7-.3 .6-.5 .6-.3 .4-.3 .5-.4 .4-.3 .5-.4 .4-.3 .4-.3 .5-.4 .4-.3 .5-.3 .5-.4 .6-.3 .6-.3 .7-.4 .7-.3 .7-.2 .6-.2 .7-.1 .7-.1 1-.1 1 0 .7 0 .9 .2 .7 .1 .7 .2 .6 .3 .6 .2 .6 .4 .6 .3 .5 .3 .4 .4 .4 .3 .6 .6 .4 .4 .6 .7 .3 .5 .4 .5 .3 .6 .3 .6 .4 .8 .2 .6 .2 .7 .2 .7 .1 .6 .1 .7 .1 1 0 1-.1 1-.1 .7-.1 .6-.2 .7-.2 .7-.2 .6-.3 .7-.3 .7-.4 .6-.4 .7-.3 .5-.3 .4-.4 .5-.3 .4-.4 .5-.6 .7-.3 .4-.4 .5-.3 .4-.3 .5-.3 .5-.4 .7-.3 .6-.4 .5-.3 .4-.4 .5-.6 .5-.7 .4-.6 .4-.7 .3-.7 .3-.6 .2-.7 .2-.7 .2-.6 .1-.7 .1-.7 .1-.6 .1-.7 .1M293.1 229.8l-1 .1-1-.1-1 0-1-.1-.7-.1-.7-.2-.6-.1-.7-.3-.7-.2-.6-.5-.5-.5 .1-.7 .7-.4 .7-.2 .6-.2 .7-.1 1-.1 1 0 1-.1 1-.1 1-.1 .7-.1 .6-.1 .7-.1 .7-.2 .6-.3 .7-.5 .1-.7-.3-.6-.5-.5-.5-.5-.5-.4-.6-.5-.7-.3-.7-.3-.6-.2-1 0-1 .1-.7 .2-.7 .2-.6 .3-.6 .2-.7 .3-.7 .4-.7 .3-.7 .3-.6 .3-.7 .2-.7 .2-.6 .2-.7 .2-.7 .1-.6 .1-1 .1-1 .1-1 .1-.8 .1-.9 .1-.7 .1-.6 .2-.7 .1-.7 .1-.6 .2-.7 .1-.7 .1-.6 .1-.7 .1-.7 .1-.6 .1-1 .1-1 .1-1 0-1 0-1 0-1-.2-.7-.1-.7-.2-.6-.1-.7-.3-.7-.2-.6-.3-.7-.2-.7-.1-.8 .1-.5 .2-.6 .5-.5 .3-.5 .3-.7 .4-.7 .1-1-.1-.5-.4-.4-.6-.2-.7 0-1 .2-.7 .4-.6 .5-.5 .7-.3 .6-.2 1 .1 .7 .1 .7 .2 1-.1 .6-.3 .6-.4 .4-.3 .5-.3 .4-.4 .5-.3 .4-.3 .6-.4 .6-.3 .6-.3 .8-.4 .6-.2 .7-.2 .6-.2 .7-.2 .7-.2 .7-.1 .6-.1 .7-.1 .7-.1 1-.1 1-.1 1 0 1-.1 1-.1 .6-.1 .7-.2 .7-.2 .6-.2 .7-.2 .6-.3 .7-.3 .7-.3 .7-.4 .6-.3 .6-.3 .7-.4 .7-.3 .7-.3 .7-.3 .6-.3 .7-.2 .6-.2 .7-.3 .7-.2 .7-.2 .6-.2 .7-.2 .7-.2 .6-.3 .7-.4 .7-.3 .5-.4 .5-.3 .4-.4 .5-.3 .4-.4 .7-.5 .5-.4 .4-.4 .4-.3 .5-.3 .5-.4 .5-.3 .5-.3 .7-.3 .6-.3 .7-.3 .6-.1 .7-.2 .7-.1 1-.1 1 .1 .7 .1 .6 .1 .7 .2 .7 .3 .5 .2 .6 .4 .5 .3 .5 .3 .5 .5 .6 .5 .4 .6 .4 .4 .3 .5 .3 .5 .3 .7 .3 .7 .2 .6 .2 .7 .2 .7 0 .6 .1 1 0 1-.1 1-.2 .7-.1 .7-.2 .6-.3 .7-.3 .7-.4 .6-.3 .6-.4 .4-.3 .5-.5 .5-.5 .6-.5 .4-.5 .4-.7 .6-.5 .4-.5 .3-.6 .3-.5 .4-.5 .3-.6 .3-.4 .4-.5 .3-.5 .6-.4 .4-.3 .5-.5 .5-.5 .5-.7 .4-.6 .3-.7 .3-.7 .2-.6 .2-.7 .1-.7 .1-.6 .1-1 .1-.8 0M302.4 221.8l-1 0-1-.1-.7-.2-.6-.2-.7-.3-.7-.4-.6-.4-.6-.4-.5-.3-.5-.3-.4-.4-.5-.3-.5-.3-.6-.4-.7-.3-.7-.3-.7-.1-1 0-.7 .2-.6 .2-.7 .3-.7 .3-.6 .3-.7 .3-.7 .3-.6 .2-.7 .2-.7 .2-.6 .1-.7 .1-1 .1-1-.1-.7-.2-.6-.3-.4-.5 .1-.6 .5-.7 .4-.4 .7-.6 .4-.3 .4-.4 .5-.3 .6-.3 .6-.4 .5-.2 .7-.3 .6-.3 .7-.2 .7-.1 .6-.2 .7-.1 .7-.1 .6-.2 .7-.1 .7-.3 .6-.3 .7-.4 .6-.5 .4-.4 .7-.6 .6-.7 .7-.6 .7-.7 .6-.6 .5-.4 .5-.4 .7-.5 .7-.4 .6-.4 .7-.3 .7-.2 .6-.2 .7-.1 1-.1 1 .1 .7 .1 .6 .2 .7 .3 .5 .2 .5 .3 .5 .4 .5 .4 .6 .6 .4 .5 .3 .5 .4 .6 .3 .7 .3 .7 .1 .7 .2 .6 0 1 0 1-.1 1-.2 .7-.2 .7-.3 .6-.3 .7-.4 .7-.4 .5-.4 .5-.6 .6-.5 .4-.5 .3-.5 .3-.7 .4-.8 .3-.7 .2-.7 .1M267.7 222.6l-.6 .1-1 0-1-.1-.7-.3-.4-.5 .1-.6 .6-.6 .7-.4 .7-.2 .6-.2 .7 0 1-.1 1 .1 .7 .2 .6 .3 0 .8-.4 .4-.5 .3-.7 .4-.7 .2-.7 .2M302.7 219.5l-1 .1-.7-.1-.9-.2-.7-.3-.7-.3-.6-.5-.6-.4-.4-.4-.6-.6-.4-.5-.4-.4-.3-.6-.3-.8-.1-.7 .1-.8 .2-.8 .3-.7 .4-.7 .4-.5 .4-.5 .6-.6 .7-.6 .6-.4 .5-.4 .5-.2 .7-.3 .6-.1 .7-.1 1-.1 .7 .1 .7 .2 .6 .3 .7 .4 .7 .5 .6 .7 .4 .5 .3 .5 .3 .6 .2 .7 .1 .7 .1 .8-.1 .8-.1 .7-.1 .7-.3 .6-.3 .7-.5 .7-.6 .6-.4 .4-.6 .5-.7 .4-.7 .2-.6 .2M303.4 217.2l-.7 .2-1 .1-.6-.1-.6-.2-.7-.4-.5-.3-.6-.6-.3-.4-.3-.5-.3-.8-.1-1 .1-.7 .3-.7 .3-.6 .3-.4 .7-.6 .4-.4 .6-.3 .7-.2 .6-.2 1 .1 .7 .1 .7 .3 .6 .5 .4 .4 .5 .7 .3 .6 .1 .7 .1 1-.1 .7-.2 .6-.4 .7-.3 .5-.5 .5-.5 .3-.6 .4M302.7 215.3l-.6 .1-.7-.1-.7-.4-.4-.4-.3-.7 0-1 .3-.6 .4-.5 .7-.4 .7-.1 .6 .1 .7 .4 .4 .5 .3 .6 0 .8-.4 .9-.6 .6M304.7 209.6l-.6 .2-1-.2-.7-.3-.4-.5-.6-.6-.3-.7-.4-.7-.2-.6-.2-.7-.2-.7-.2-.6-.1-.7-.1-.7-.1-.6-.1-.7-.1-.9-.1-.8-.1-.6-.1-.7-.1-.7-.1-.6-.1-.7-.1-.7-.1-.6-.1-.7-.1-.7-.1-.6-.1-1-.1-1 0-1 0-1 0-1 .1-1 .1-1 .1-.7 .2-.7 .1-.6 .2-.7 .2-.7 .3-.6 .3-.7 .3-.7 .4-.6 .3-.5 .5-.5 .5-.6 .7-.4 .7-.3 .6-.1 1 .2 .7 .3 .7 .5 .3 .4 .6 .6 .4 .6 .3 .6 .4 .7 .3 .8 .2 .7 .2 .6 .2 .7 .1 .7 .1 .6 .1 .7 .1 .7 .1 1 0 1 0 1 0 1-.1 .8-.1 .8-.1 1-.1 .7-.1 .7-.1 .6-.1 .7-.1 .7-.1 .6-.1 .7-.1 .7-.1 1-.1 1-.1 .6-.1 .7-.1 .7-.2 .6-.1 .7-.2 .7-.2 .6-.2 .7-.3 .7-.3 .6-.3 .5-.4 .5-.4 .4-.5 .3M304.4 204.2l-.7 .3-.6-.3-.4-.6-.3-.7-.2-.7-.1-.7-.1-.7-.2-1-.1-1-.1-1-.1-1-.1-.6-.1-.7-.1-.7-.1-.6-.1-.7-.1-.7-.1-.6-.1-1-.1-1 0-1 .1-1 .1-.7 .1-.7 .2-.6 .2-.7 .3-.7 .4-.6 .4-.5 .7-.5 .6-.2 .7 .1 .6 .4 .6 .7 .4 .6 .3 .7 .2 .7 .2 .6 .1 .7 .1 .7 .1 1 0 1 0 1-.1 1-.1 .6-.1 .7-.2 .7-.1 .6-.1 .7-.1 .7-.1 .6-.1 .7-.1 1-.1 1-.1 1-.1 .7-.1 .6-.2 .7-.2 .7-.3 .6-.4 .4" fill="none" stroke="#505050" stroke-width="0.5"/><path d="M246.4,239.6 L250.4,234.7 L316.4,235.1 L322.4,239.6Z" fill="#999" fill-opacity="0.5"/><path d="M247.4,239.6 L249.4,237.1 L318.4,237.3 L322.4,239.6Z" fill="#1e1e1e" fill-opacity="0.9"/><rect x="244.8" y="208.5" width="3.0" height="31.2" fill="#666" fill-opacity="0.8"/></g>
<rect x="244.5" y="154.5" width="86" height="86" fill="none" stroke="#707070" stroke-width="1"/>
<line x1="289.50" y1="154.50" x2="289.50" y2="240.50" stroke="#3c3c3c" stroke-width="1"/>
<line x1="244.50" y1="200.50" x2="330.50" y2="200.50" stroke="#3c3c3c" stroke-width="1"/>
<rect x="245" y="155" width="37.8" height="33.5" fill="#fff"/>
<line x1="265.50" y1="157.50" x2="265.50" y2="187.50" stroke="#1e1e1e" stroke-width="1.05"/>
<line x1="246.80" y1="173.30" x2="281.80" y2="173.30" stroke="#262626" stroke-width="1.3"/>
<text x="255.60" y="167.70" style="font-family:'Liberation Serif',serif;font-size:9px;font-weight:normal" text-anchor="middle" fill="#1a1a1a" class="s">0.1</text>
<text x="275.10" y="167.70" style="font-family:'Liberation Serif',serif;font-size:9px;font-weight:normal" text-anchor="middle" fill="#1a1a1a" class="s">3.8</text>
<text x="255.60" y="182.90" style="font-family:'Liberation Serif',serif;font-size:9px;font-weight:normal" text-anchor="middle" fill="#1a1a1a" class="s">17</text>
<text x="275.10" y="182.90" style="font-family:'Liberation Serif',serif;font-size:9px;font-weight:normal" text-anchor="middle" fill="#1a1a1a" class="s">80</text>
<g><path d="M346.7 238.2l-1 .1-1-.1-.6-.1-.7-.2-.7-.2-.6-.3-.7-.5-.6-.4-.7-.6-.7-.7-.6-.7-.4-.5 0-.8 0-1 0-1 0-1 0-1 0-1 0-1 0-1 0-1 0-1 0-1 0-1 0-1 0-1 0-1 0-1 0-1 0-1 0-1 0-1 0-1 0-1 0-1 0-1 0-1 0-1 .5-.4 .5-.3 .5-.3 .5-.3 .6-.4 .6-.3 .7-.4 .7-.3 .7-.3 .7-.3 .7-.2 .6-.2 .7-.2 .7-.2 .6-.2 .7-.2 .7-.2 .6-.2 .7-.1 .7-.2 .6-.1 .7-.2 .7-.1 .6-.1 .7-.1 .7-.1 .6-.1 .7-.1 1-.1 1-.1 1-.1 1-.1 1 0 1 0 1 0 1 0 1 0 1 0 1 .1 1 .1 1 .1 1 .1 .7 .1 .6 .1 .7 .1 .7 .1 .6 .1 .7 .1 .7 .2 .6 .1 .7 .1 .7 .1 .6 .2 .7 .1 1 .1 1 0 .7-.1 1-.2 .6-.3 .7-.4 .6-.4 .4-.4 .5-.6 .5-.7 .3-.6 .4-.7 .2-.7 .2-.7 .1-.6 .1-.7 0-.7 .1-1-.1-1-.1-1-.1-.6-.1-.7-.1-.7-.1-.6-.1-.7-.2-.7-.1-.6-.1-1 0-1 0-1 0-1 .1-1 .1-.7 .2-.7 .1-.6 .3-.7 .2-.7 .3-.6 .3-.7 .4-.7 .4-.6 .3-.5 .3-.4 .4-.5 .6-.6 .4-.4 .6-.4 .7-.5 .7-.3 .6-.4 .7-.2 .7-.2 .6-.1 1-.1 1 .1 .7 .1 .7 .2 .6 .2 .7 .3 .7 .3 .5 .4 .5 .3 .6 .6 .5 .4 .5 .6 .6 .7 .4 .7 .4 .5 .2 .5 .4 .7 .2 .6 .3 .7 .2 .7 .1 .6 .2 .7 .1 .7 .1 1 .1 1-.1 1 0 1-.2 1-.1 .6-.1 .7-.1 .7-.2 .6-.1 .7-.2 .7-.1 .6-.1 .7-.1 1 0 1 .1 .7 .2 .6 .2 .7 .3 .7 .3 .6 .4 .6 .3 .5 .3 .6 .4 .5 .3 .5 .3 .6 .4 .6 .3 .6 .3 .8 .3 .7 .3 .7 .2 .7 .2 .6 .1 .7 .2 .7 .1 .6 .1 1 0 1 0 1 0 1-.1 1-.1 1-.1 .7-.1 .7-.2 .6-.1 .7-.1 .7-.2 .6-.1 .7-.2 .7-.1 .6-.1 .7-.1 .7-.1 .6-.2 .7-.1 .7-.1 .6-.1 .7-.2 .7-.1 .6-.2 .7-.2 .7-.3 .6-.3 .7-.3 .6-.3 .6-.4 .6-.3 .4-.3 .4-.6 .7-.4 .4-.7 .6-.5 .4-.4 .3-.6 .3-.5 .3-.7 .3-.6 .3-.7 .2-.7 .2-.6 .1-.7 .1-1 .1-1-.1-1-.1-.7-.1-.6-.2-.7-.2-.7-.2-.6-.3-.7-.3-.7-.3-.6-.4-.6-.4-.5-.3-.5-.3-.6-.4-.5-.3-.7-.3-.6-.3-.7-.1-1-.1-1 .1-.7 .1-.6 .2-.7 .2-.7 .2-.6 .2-.7 .1-.7 .2-.6 .2-.7 .2-.7 .1-.6 .2-.7 .1-.7 .2-.6 .1-.7 .1-.7 .1-.6 .1-.7 .1-.7 .1-1 .1-1 .1-.8 0-.8 .1-1 0-1 0-1 0-1 0-1 0-1 0-1-.1-1-.1-1 0-1 0-1 .1-.7 .1-.7 .2-.6 .2-.7 .3-.7 .4-.6 .4-.7 .4-.7 .3-.6 .3-.7 .3-.7 .2-.6 .2z" fill="#ececec" stroke="none"/><clipPath id="cl13"><rect x="338.4" y="200.5" width="85.8" height="39.6"/></clipPath><path d="M346.4 233.8l-1 .1-1-.2-.7-.2-.6-.3-.6-.4-.4-.3-.7-.6-.6-.7-.4-.6-.3-.4-.4-.7-.3-.6-.3-.7-.3-.7-.2-.7-.2-.6 0-1 0-1 0-1 0-1 0-1 0-1 0-1 0-1 0-1 .1-.7 .2-.5 .4-.7 .3-.6 .3-.5 .4-.5 .4-.5 .6-.6 .4-.4 .6-.5 .6-.5 .6-.4 .6-.3 .5-.3 .7-.3 .6-.3 .7-.3 .7-.2 .6-.3 .7-.2 .7-.2 .6-.2 .7-.2 .7-.2 .6-.2 .7-.2 .7-.1 .6-.2 .7-.2 .7-.1 .6-.1 .7-.2 .7-.1 .6-.1 .7 0 .8-.1 .9-.1 1-.1 1 0 1 0 1 0 1 0 1 0 1 .1 1 .1 1 .1 .6 .1 .7 .2 .7 .1 .6 .1 .7 .1 .7 .2 .6 .1 .7 .2 .7 .1 .6 .1 .7 .2 .7 .1 1 .1 1 0 1 0 1 0 1 0 .6-.1 .7-.2 .6-.2 .7-.3 .5-.4 .5-.4 .6-.6 .4-.4 .5-.6 .4-.6 .5-.7 .3-.5 .3-.5 .3-.7 .2-.6 .2-.7 .1-.7 .2-.6 0-.7 .1-1 .1-1 .1-1 0-1 .1-1 0-1 0-.8-.1-.9-.1-.6-.1-.7-.1-.7-.1-.6-.1-1-.1-1 0-1 .1-1 .1-.7 .2-.7 .2-.6 .3-.7 .3-.7 .4-.6 .4-.5 .5-.5 .5-.5 .7-.5 .6-.3 .7-.3 .6-.1 .7-.1 .9 .1 .8 .2 .7 .3 .6 .3 .7 .5 .7 .7 .3 .4 .3 .5 .4 .6 .2 .5 .3 .7 .2 .6 .2 .7 .1 .7 .1 1 0 1-.1 1-.1 .6-.1 .7-.2 .7-.1 .6-.2 .7-.1 .7-.1 .6-.1 .7-.1 1 0 1 0 1 .1 1 .1 .7 .1 .6 .2 .7 .1 .7 .3 .6 .3 .7 .3 .7 .4 .6 .5 .7 .3 .5 .3 .5 .4 .6 .3 .5 .3 .6 .4 .6 .2 .7 .3 .7 .2 .6 .2 .7 .1 .7 .1 .6 .1 1 0 1 0 1-.1 1-.1 .7-.1 .7-.1 .6-.2 .7-.1 .7-.2 .6-.1 .7-.2 .6-.2 .7-.1 .7-.1 .7-.2 .6-.1 .7-.1 .7-.1 .6-.2 .7-.1 .7-.2 .6-.2 .7-.3 .7-.3 .6-.3 .7-.5 .7-.3 .4-.6 .6-.4 .4-.7 .5-.7 .4-.6 .3-.7 .2-.7 .2-.6 .1-1 .1-1-.1-.7-.1-.7-.2-.6-.3-.6-.2-.6-.3-.5-.4-.5-.3-.4-.3-.4-.4-.7-.6-.6-.7-.7-.7-.4-.4-.6-.6-.7-.5-.7-.4-.6-.2-1-.1-.7 .1-.7 .2-.6 .2-.7 .3-.7 .2-.6 .3-.6 .3-.7 .3-.7 .3-.7 .3-.7 .2-.6 .3-.7 .2-.7 .2-.6 .2-.7 .2-.7 .2-.6 .1-.7 .2-.7 .1-.6 .1-.7 .1-.7 .1-1 .1-.9 .1-.7 .1-1 0-1 0-1 0-1 0-1 0-1-.1-1-.1-1 0-1-.1-1-.1-1 0-1 .1-.7 .2-.7 .2-.6 .3-.7 .4-.7 .4-.5 .4-.6 .3-.5 .3-.6 .4-.8 .3-.6 .2-.7 .1z" fill="#d0d0d0" stroke="none" clip-path="url(#cl13)"/><path d="M409.2 191.2h.6v.6h-.6zM400.6 165.3h.6v.6h-.6zM395.9 208.5h.6v.6h-.6zM378.5 195.0h.6v.6h-.6zM404.3 181.5h.6v.6h-.6zM416.0 177.6h.6v.6h-.6zM416.3 190.5h.6v.6h-.6zM400.4 185.2h.6v.6h-.6zM391.5 196.7h.6v.6h-.6zM403.8 204.7h.6v.6h-.6zM380.3 191.8h.6v.6h-.6zM392.5 204.8h.6v.6h-.6zM401.5 206.8h.6v.6h-.6zM400.1 188.9h.6v.6h-.6zM399.5 192.5h.6v.6h-.6zM384.5 185.8h.6v.6h-.6zM381.0 180.6h.6v.6h-.6zM398.7 180.7h.6v.6h-.6zM404.1 169.6h.6v.6h-.6zM393.7 182.3h.6v.6h-.6zM387.1 179.3h.6v.6h-.6zM399.5 192.0h.6v.6h-.6zM406.7 195.2h.6v.6h-.6zM396.9 183.2h.6v.6h-.6zM389.1 177.2h.6v.6h-.6zM412.2 184.9h.6v.6h-.6zM404.8 180.6h.6v.6h-.6zM394.5 182.3h.6v.6h-.6zM396.1 203.1h.6v.6h-.6zM389.7 198.1h.6v.6h-.6zM408.2 189.0h.6v.6h-.6zM391.3 196.2h.6v.6h-.6zM387.2 183.9h.6v.6h-.6zM396.0 175.3h.6v.6h-.6zM414.6 177.1h.6v.6h-.6zM370.6 180.3h.6v.6h-.6zM385.7 177.0h.6v.6h-.6zM403.9 195.9h.6v.6h-.6zM399.7 191.4h.6v.6h-.6zM398.2 182.3h.6v.6h-.6zM397.4 189.5h.6v.6h-.6zM394.0 185.6h.6v.6h-.6zM400.3 194.4h.6v.6h-.6zM399.8 206.7h.6v.6h-.6zM394.5 170.2h.6v.6h-.6zM386.8 196.8h.6v.6h-.6zM390.8 182.1h.6v.6h-.6zM383.9 178.6h.6v.6h-.6zM400.5 178.3h.6v.6h-.6zM396.5 208.3h.6v.6h-.6zM403.4 179.9h.6v.6h-.6zM407.8 204.2h.6v.6h-.6zM395.8 188.7h.6v.6h-.6zM401.8 178.5h.6v.6h-.6zM394.2 190.5h.6v.6h-.6zM402.0 204.6h.6v.6h-.6zM386.7 203.0h.6v.6h-.6zM397.4 181.5h.6v.6h-.6zM393.7 192.2h.6v.6h-.6zM400.4 189.7h.6v.6h-.6zM397.8 186.4h.6v.6h-.6zM387.6 191.2h.6v.6h-.6zM409.2 193.4h.6v.6h-.6zM397.6 179.6h.6v.6h-.6zM390.1 198.3h.6v.6h-.6zM402.4 176.7h.6v.6h-.6zM391.2 188.3h.6v.6h-.6zM387.8 204.5h.6v.6h-.6zM406.4 183.7h.6v.6h-.6zM401.3 185.0h.6v.6h-.6zM388.8 196.2h.6v.6h-.6zM396.4 184.0h.6v.6h-.6zM406.3 171.2h.6v.6h-.6zM398.4 182.4h.6v.6h-.6zM400.9 180.0h.6v.6h-.6zM396.5 176.3h.6v.6h-.6zM402.7 166.9h.6v.6h-.6zM409.9 200.9h.6v.6h-.6zM401.6 187.8h.6v.6h-.6zM395.1 177.2h.6v.6h-.6zM394.3 182.4h.6v.6h-.6zM400.1 181.1h.6v.6h-.6zM396.2 179.6h.6v.6h-.6zM402.0 194.7h.6v.6h-.6zM401.7 194.9h.6v.6h-.6zM401.6 172.4h.6v.6h-.6zM399.5 173.1h.6v.6h-.6zM405.1 177.1h.6v.6h-.6zM406.4 171.0h.6v.6h-.6zM371.1 226.0h.6v.6h-.6zM383.1 185.0h.6v.6h-.6zM397.3 188.3h.6v.6h-.6zM401.7 196.8h.6v.6h-.6zM402.6 177.0h.6v.6h-.6zM387.7 168.8h.6v.6h-.6zM392.0 202.2h.6v.6h-.6zM387.8 176.7h.6v.6h-.6zM405.6 195.6h.6v.6h-.6zM396.3 181.2h.6v.6h-.6zM380.9 215.0h.6v.6h-.6zM395.6 198.5h.6v.6h-.6zM392.1 188.6h.6v.6h-.6zM404.4 172.8h.6v.6h-.6zM392.5 179.6h.6v.6h-.6zM391.6 165.0h.6v.6h-.6zM393.2 179.8h.6v.6h-.6zM405.1 171.3h.6v.6h-.6zM389.0 195.6h.6v.6h-.6zM392.8 190.8h.6v.6h-.6zM390.9 188.4h.6v.6h-.6zM394.9 219.9h.6v.6h-.6zM405.5 187.3h.6v.6h-.6zM401.2 196.3h.6v.6h-.6zM409.6 192.4h.6v.6h-.6zM400.8 180.0h.6v.6h-.6zM395.4 174.8h.6v.6h-.6zM409.2 206.3h.6v.6h-.6zM395.1 173.8h.6v.6h-.6zM409.9 189.6h.6v.6h-.6zM399.7 181.0h.6v.6h-.6zM387.8 193.3h.6v.6h-.6zM407.4 206.7h.6v.6h-.6zM398.3 173.4h.6v.6h-.6zM402.6 189.7h.6v.6h-.6zM401.6 200.5h.6v.6h-.6zM396.2 176.8h.6v.6h-.6zM389.3 170.2h.6v.6h-.6zM405.6 182.0h.6v.6h-.6zM393.1 182.4h.6v.6h-.6zM393.6 191.7h.6v.6h-.6zM383.8 167.3h.6v.6h-.6zM400.3 188.1h.6v.6h-.6zM400.8 165.3h.6v.6h-.6zM374.9 188.1h.6v.6h-.6zM377.5 182.7h.6v.6h-.6zM386.4 156.1h.6v.6h-.6zM392.1 191.9h.6v.6h-.6zM395.5 177.1h.6v.6h-.6zM391.1 200.9h.6v.6h-.6zM405.6 192.0h.6v.6h-.6zM403.5 169.8h.6v.6h-.6zM386.0 168.3h.6v.6h-.6zM399.8 181.1h.6v.6h-.6zM395.7 170.8h.6v.6h-.6zM393.5 213.5h.6v.6h-.6zM387.6 196.7h.6v.6h-.6zM398.5 182.2h.6v.6h-.6zM391.4 187.9h.6v.6h-.6zM378.0 179.4h.6v.6h-.6zM400.5 189.7h.6v.6h-.6zM394.8 166.7h.6v.6h-.6zM396.3 180.3h.6v.6h-.6zM384.8 190.2h.6v.6h-.6zM387.9 169.6h.6v.6h-.6zM389.7 185.4h.6v.6h-.6zM401.1 177.2h.6v.6h-.6zM401.3 200.1h.6v.6h-.6zM393.5 195.5h.6v.6h-.6zM421.5 167.9h.6v.6h-.6zM392.0 165.5h.6v.6h-.6zM382.5 178.8h.6v.6h-.6zM405.3 206.5h.6v.6h-.6zM387.4 203.7h.6v.6h-.6zM389.8 197.2h.6v.6h-.6zM401.7 188.3h.6v.6h-.6zM384.1 185.0h.6v.6h-.6zM393.3 195.9h.6v.6h-.6zM397.8 189.7h.6v.6h-.6zM400.8 175.1h.6v.6h-.6zM404.0 178.7h.6v.6h-.6zM391.8 196.5h.6v.6h-.6zM404.1 205.8h.6v.6h-.6zM380.5 187.9h.6v.6h-.6zM388.0 170.1h.6v.6h-.6zM391.8 180.1h.6v.6h-.6zM393.9 175.9h.6v.6h-.6zM396.4 194.1h.6v.6h-.6zM405.1 188.6h.6v.6h-.6zM400.6 174.6h.6v.6h-.6zM404.9 205.1h.6v.6h-.6zM409.8 238.6h.6v.6h-.6zM401.8 215.2h.6v.6h-.6zM407.3 232.6h.6v.6h-.6zM404.4 210.8h.6v.6h-.6zM417.7 238.9h.6v.6h-.6zM412.6 220.1h.6v.6h-.6zM408.7 210.8h.6v.6h-.6zM412.1 217.2h.6v.6h-.6zM415.5 232.2h.6v.6h-.6zM400.3 211.9h.6v.6h-.6zM401.2 218.2h.6v.6h-.6zM401.2 230.0h.6v.6h-.6zM408.8 213.9h.6v.6h-.6zM397.0 216.7h.6v.6h-.6zM416.5 216.5h.6v.6h-.6zM388.4 210.1h.6v.6h-.6zM397.8 214.8h.6v.6h-.6zM390.5 226.2h.6v.6h-.6zM409.4 207.2h.6v.6h-.6zM397.4 214.7h.6v.6h-.6zM405.5 225.4h.6v.6h-.6zM407.8 217.3h.6v.6h-.6zM417.4 219.0h.6v.6h-.6zM410.4 233.2h.6v.6h-.6zM402.8 215.0h.6v.6h-.6zM403.0 221.3h.6v.6h-.6zM409.6 216.2h.6v.6h-.6zM408.1 223.9h.6v.6h-.6zM416.1 204.9h.6v.6h-.6zM400.4 209.7h.6v.6h-.6zM407.6 217.7h.6v.6h-.6zM408.7 230.5h.6v.6h-.6zM408.0 215.1h.6v.6h-.6zM421.2 217.1h.6v.6h-.6zM408.6 225.9h.6v.6h-.6zM404.7 200.0h.6v.6h-.6zM406.0 225.5h.6v.6h-.6zM409.6 222.6h.6v.6h-.6zM410.1 224.4h.6v.6h-.6zM414.3 211.5h.6v.6h-.6zM411.1 219.7h.6v.6h-.6zM398.3 218.3h.6v.6h-.6zM400.8 213.4h.6v.6h-.6zM411.2 192.4h.6v.6h-.6zM410.8 210.6h.6v.6h-.6zM408.3 214.5h.6v.6h-.6zM405.3 213.6h.6v.6h-.6zM401.6 215.5h.6v.6h-.6zM405.8 209.1h.6v.6h-.6zM396.9 219.5h.6v.6h-.6zM394.7 206.4h.6v.6h-.6zM403.6 206.0h.6v.6h-.6zM412.6 211.9h.6v.6h-.6zM406.4 223.6h.6v.6h-.6zM409.9 224.7h.6v.6h-.6zM406.2 221.2h.6v.6h-.6zM413.6 228.6h.6v.6h-.6zM406.0 229.7h.6v.6h-.6zM409.2 219.0h.6v.6h-.6zM405.9 234.9h.6v.6h-.6zM411.4 211.8h.6v.6h-.6zM402.4 167.2h.6v.6h-.6zM356.0 195.3h.6v.6h-.6zM385.1 185.5h.6v.6h-.6zM408.2 193.0h.6v.6h-.6zM408.9 221.6h.6v.6h-.6zM397.5 237.6h.6v.6h-.6zM363.7 196.0h.6v.6h-.6zM361.2 238.0h.6v.6h-.6zM345.4 203.5h.6v.6h-.6zM407.3 192.2h.6v.6h-.6zM371.0 199.7h.6v.6h-.6zM371.0 197.9h.6v.6h-.6zM361.5 200.9h.6v.6h-.6zM404.4 178.6h.6v.6h-.6zM408.2 184.0h.6v.6h-.6zM398.3 172.5h.6v.6h-.6zM379.2 175.6h.6v.6h-.6zM366.2 201.1h.6v.6h-.6zM348.9 239.0h.6v.6h-.6zM339.5 198.9h.6v.6h-.6zM378.3 202.9h.6v.6h-.6zM368.1 198.7h.6v.6h-.6zM372.8 235.3h.6v.6h-.6zM418.6 215.2h.6v.6h-.6zM410.5 188.0h.6v.6h-.6zM413.1 205.1h.6v.6h-.6zM354.3 201.1h.6v.6h-.6zM416.6 225.1h.6v.6h-.6zM409.7 224.5h.6v.6h-.6zM410.0 203.4h.6v.6h-.6zM388.1 233.7h.6v.6h-.6zM385.6 191.6h.6v.6h-.6zM407.2 233.3h.6v.6h-.6zM405.5 234.1h.6v.6h-.6zM372.2 235.0h.6v.6h-.6zM383.5 186.0h.6v.6h-.6zM408.6 189.3h.6v.6h-.6zM410.0 221.1h.6v.6h-.6zM378.6 202.5h.6v.6h-.6zM381.8 202.8h.6v.6h-.6zM380.0 235.6h.6v.6h-.6zM406.2 234.0h.6v.6h-.6zM390.4 235.3h.6v.6h-.6zM409.3 234.1h.6v.6h-.6zM384.5 165.4h.6v.6h-.6zM385.3 193.4h.6v.6h-.6zM347.5 201.0h.6v.6h-.6zM346.3 202.8h.6v.6h-.6zM386.2 191.7h.6v.6h-.6zM390.5 173.9h.6v.6h-.6zM364.1 239.3h.6v.6h-.6zM406.0 193.1h.6v.6h-.6zM408.0 236.9h.6v.6h-.6zM365.3 197.2h.6v.6h-.6zM382.0 202.0h.6v.6h-.6zM383.2 188.8h.6v.6h-.6zM409.7 192.3h.6v.6h-.6zM355.3 237.5h.6v.6h-.6zM373.6 196.0h.6v.6h-.6zM385.9 233.0h.6v.6h-.6zM369.8 199.6h.6v.6h-.6zM409.9 224.8h.6v.6h-.6zM360.3 238.3h.6v.6h-.6zM407.0 231.7h.6v.6h-.6zM391.7 173.3h.6v.6h-.6zM408.4 198.1h.6v.6h-.6zM413.6 202.7h.6v.6h-.6zM343.4 205.0h.6v.6h-.6zM386.5 234.5h.6v.6h-.6zM340.8 236.9h.6v.6h-.6zM382.7 201.6h.6v.6h-.6zM409.8 224.7h.6v.6h-.6zM356.5 196.0h.6v.6h-.6zM386.6 177.8h.6v.6h-.6zM347.9 190.9h.6v.6h-.6zM411.6 211.9h.6v.6h-.6zM359.1 199.0h.6v.6h-.6zM376.7 238.6h.6v.6h-.6zM367.3 196.7h.6v.6h-.6zM346.3 238.9h.6v.6h-.6zM352.0 202.3h.6v.6h-.6zM339.8 205.9h.6v.6h-.6zM340.2 236.5h.6v.6h-.6zM388.0 177.1h.6v.6h-.6zM383.8 194.3h.6v.6h-.6zM358.1 194.7h.6v.6h-.6zM385.2 180.5h.6v.6h-.6zM391.5 173.8h.6v.6h-.6zM377.7 202.8h.6v.6h-.6zM404.8 174.3h.6v.6h-.6zM380.9 232.7h.6v.6h-.6zM385.1 179.8h.6v.6h-.6zM408.3 228.7h.6v.6h-.6zM384.5 235.4h.6v.6h-.6zM405.6 234.7h.6v.6h-.6zM381.9 198.6h.6v.6h-.6zM383.8 186.9h.6v.6h-.6zM379.3 235.3h.6v.6h-.6zM412.8 229.6h.6v.6h-.6zM392.5 237.4h.6v.6h-.6zM380.3 199.6h.6v.6h-.6zM354.4 238.7h.6v.6h-.6zM376.7 234.2h.6v.6h-.6zM362.7 199.3h.6v.6h-.6zM355.6 201.1h.6v.6h-.6zM392.2 165.9h.6v.6h-.6zM376.6 234.9h.6v.6h-.6zM343.9 238.5h.6v.6h-.6zM369.2 199.7h.6v.6h-.6zM410.2 217.1h.6v.6h-.6zM342.1 237.5h.6v.6h-.6zM343.2 238.4h.6v.6h-.6zM384.5 196.7h.6v.6h-.6zM383.0 202.4h.6v.6h-.6zM408.3 195.7h.6v.6h-.6zM371.7 235.1h.6v.6h-.6zM375.4 199.0h.6v.6h-.6zM409.7 200.9h.6v.6h-.6zM398.3 237.2h.6v.6h-.6zM380.5 203.7h.6v.6h-.6zM405.2 177.3h.6v.6h-.6zM368.0 199.6h.6v.6h-.6zM409.9 183.3h.6v.6h-.6zM413.1 230.0h.6v.6h-.6zM408.7 198.6h.6v.6h-.6zM363.4 237.6h.6v.6h-.6zM412.2 226.2h.6v.6h-.6zM357.2 235.7h.6v.6h-.6zM340.3 198.3h.6v.6h-.6zM379.0 203.2h.6v.6h-.6zM413.5 206.0h.6v.6h-.6zM409.3 196.1h.6v.6h-.6zM342.5 204.9h.6v.6h-.6zM377.5 235.3h.6v.6h-.6zM383.8 232.5h.6v.6h-.6zM385.7 234.0h.6v.6h-.6zM385.3 180.6h.6v.6h-.6zM387.7 236.4h.6v.6h-.6zM350.9 197.6h.6v.6h-.6zM410.2 197.1h.6v.6h-.6zM370.4 201.4h.6v.6h-.6zM395.8 166.0h.6v.6h-.6zM354.7 200.7h.6v.6h-.6zM340.0 206.1h.6v.6h-.6zM343.2 202.8h.6v.6h-.6zM407.5 190.5h.6v.6h-.6zM389.2 235.0h.6v.6h-.6zM355.4 201.6h.6v.6h-.6zM379.5 201.3h.6v.6h-.6zM359.1 236.0h.6v.6h-.6zM383.9 197.2h.6v.6h-.6zM385.4 236.2h.6v.6h-.6zM409.3 221.4h.6v.6h-.6zM360.9 194.6h.6v.6h-.6zM406.3 177.1h.6v.6h-.6zM354.4 235.7h.6v.6h-.6zM383.0 201.1h.6v.6h-.6zM395.8 172.5h.6v.6h-.6zM344.8 203.1h.6v.6h-.6zM364.6 197.0h.6v.6h-.6zM394.2 172.3h.6v.6h-.6zM371.1 194.5h.6v.6h-.6zM412.2 217.4h.6v.6h-.6zM382.2 237.6h.6v.6h-.6zM353.3 198.6h.6v.6h-.6zM376.5 237.4h.6v.6h-.6zM382.6 201.1h.6v.6h-.6zM358.5 197.2h.6v.6h-.6zM376.1 203.0h.6v.6h-.6zM349.7 238.3h.6v.6h-.6zM345.7 203.6h.6v.6h-.6zM354.2 202.0h.6v.6h-.6zM409.6 178.3h.6v.6h-.6zM389.2 234.2h.6v.6h-.6zM410.2 199.2h.6v.6h-.6zM415.9 208.8h.6v.6h-.6zM390.1 167.0h.6v.6h-.6zM341.8 197.5h.6v.6h-.6zM404.6 236.3h.6v.6h-.6zM355.2 198.0h.6v.6h-.6zM353.2 194.6h.6v.6h-.6zM386.8 178.8h.6v.6h-.6zM376.2 200.9h.6v.6h-.6zM375.2 237.6h.6v.6h-.6zM384.1 197.1h.6v.6h-.6zM370.4 235.7h.6v.6h-.6zM344.3 203.9h.6v.6h-.6zM406.9 235.2h.6v.6h-.6zM414.0 203.9h.6v.6h-.6zM407.4 187.6h.6v.6h-.6zM411.8 211.7h.6v.6h-.6zM410.3 232.8h.6v.6h-.6zM399.8 236.9h.6v.6h-.6zM358.5 237.7h.6v.6h-.6zM390.8 172.4h.6v.6h-.6zM414.9 196.0h.6v.6h-.6zM420.4 198.2h.6v.6h-.6zM395.9 168.0h.6v.6h-.6zM384.0 198.3h.6v.6h-.6zM405.7 234.3h.6v.6h-.6zM410.1 205.2h.6v.6h-.6zM355.6 235.0h.6v.6h-.6zM345.1 193.8h.6v.6h-.6zM374.0 196.0h.6v.6h-.6zM411.9 205.5h.6v.6h-.6zM377.0 196.8h.6v.6h-.6zM407.2 184.9h.6v.6h-.6zM344.8 202.8h.6v.6h-.6zM356.7 237.1h.6v.6h-.6zM403.8 235.1h.6v.6h-.6zM413.1 206.8h.6v.6h-.6zM361.3 237.1h.6v.6h-.6zM411.7 215.0h.6v.6h-.6zM342.0 198.1h.6v.6h-.6z" fill="#8c8c8c"/><path d="M346.7 238.2l-1 .1-1-.1-.6-.1-.7-.2-.7-.2-.6-.3-.7-.5-.6-.4-.7-.6-.7-.7-.6-.7-.4-.5 0-.8 0-1 0-1 0-1 0-1 0-1 0-1 0-1 0-1 0-1 0-1 0-1 0-1 0-1 0-1 0-1 0-1 0-1 0-1 0-1 0-1 0-1 0-1 0-1 0-1 0-1 .5-.4 .5-.3 .5-.3 .5-.3 .6-.4 .6-.3 .7-.4 .7-.3 .7-.3 .7-.3 .7-.2 .6-.2 .7-.2 .7-.2 .6-.2 .7-.2 .7-.2 .6-.2 .7-.1 .7-.2 .6-.1 .7-.2 .7-.1 .6-.1 .7-.1 .7-.1 .6-.1 .7-.1 1-.1 1-.1 1-.1 1-.1 1 0 1 0 1 0 1 0 1 0 1 0 1 .1 1 .1 1 .1 1 .1 .7 .1 .6 .1 .7 .1 .7 .1 .6 .1 .7 .1 .7 .2 .6 .1 .7 .1 .7 .1 .6 .2 .7 .1 1 .1 1 0 .7-.1 1-.2 .6-.3 .7-.4 .6-.4 .4-.4 .5-.6 .5-.7 .3-.6 .4-.7 .2-.7 .2-.7 .1-.6 .1-.7 0-.7 .1-1-.1-1-.1-1-.1-.6-.1-.7-.1-.7-.1-.6-.1-.7-.2-.7-.1-.6-.1-1 0-1 0-1 0-1 .1-1 .1-.7 .2-.7 .1-.6 .3-.7 .2-.7 .3-.6 .3-.7 .4-.7 .4-.6 .3-.5 .3-.4 .4-.5 .6-.6 .4-.4 .6-.4 .7-.5 .7-.3 .6-.4 .7-.2 .7-.2 .6-.1 1-.1 1 .1 .7 .1 .7 .2 .6 .2 .7 .3 .7 .3 .5 .4 .5 .3 .6 .6 .5 .4 .5 .6 .6 .7 .4 .7 .4 .5 .2 .5 .4 .7 .2 .6 .3 .7 .2 .7 .1 .6 .2 .7 .1 .7 .1 1 .1 1-.1 1 0 1-.2 1-.1 .6-.1 .7-.1 .7-.2 .6-.1 .7-.2 .7-.1 .6-.1 .7-.1 1 0 1 .1 .7 .2 .6 .2 .7 .3 .7 .3 .6 .4 .6 .3 .5 .3 .6 .4 .5 .3 .5 .3 .6 .4 .6 .3 .6 .3 .8 .3 .7 .3 .7 .2 .7 .2 .6 .1 .7 .2 .7 .1 .6 .1 1 0 1 0 1 0 1-.1 1-.1 1-.1 .7-.1 .7-.2 .6-.1 .7-.1 .7-.2 .6-.1 .7-.2 .7-.1 .6-.1 .7-.1 .7-.1 .6-.2 .7-.1 .7-.1 .6-.1 .7-.2 .7-.1 .6-.2 .7-.2 .7-.3 .6-.3 .7-.3 .6-.3 .6-.4 .6-.3 .4-.3 .4-.6 .7-.4 .4-.7 .6-.5 .4-.4 .3-.6 .3-.5 .3-.7 .3-.6 .3-.7 .2-.7 .2-.6 .1-.7 .1-1 .1-1-.1-1-.1-.7-.1-.6-.2-.7-.2-.7-.2-.6-.3-.7-.3-.7-.3-.6-.4-.6-.4-.5-.3-.5-.3-.6-.4-.5-.3-.7-.3-.6-.3-.7-.1-1-.1-1 .1-.7 .1-.6 .2-.7 .2-.7 .2-.6 .2-.7 .1-.7 .2-.6 .2-.7 .2-.7 .1-.6 .2-.7 .1-.7 .2-.6 .1-.7 .1-.7 .1-.6 .1-.7 .1-.7 .1-1 .1-1 .1-.8 0-.8 .1-1 0-1 0-1 0-1 0-1 0-1 0-1-.1-1-.1-1 0-1 0-1 .1-.7 .1-.7 .2-.6 .2-.7 .3-.7 .4-.6 .4-.7 .4-.7 .3-.6 .3-.7 .3-.7 .2-.6 .2M347.4 235.9l-.7 .1-.6 .1-1 0-.7-.1-.7-.2-.6-.2-.7-.4-.6-.4-.4-.3-.7-.6-.4-.4-.5-.7-.4-.4-.3-.5-.4-.6-.3-.5 0-1 0-1 0-1 0-1 0-1 0-1 0-1 0-1 0-1 0-1 0-1 0-1 0-1 0-1 0-1 0-1 0-1 0-1 0-1 .3-.4 .6-.6 .4-.4 .7-.5 .5-.4 .5-.3 .5-.4 .5-.3 .6-.3 .7-.4 .7-.3 .7-.3 .6-.2 .7-.3 .7-.2 .6-.2 .7-.2 .7-.2 .6-.2 .7-.2 .7-.1 .6-.2 .7-.2 .7-.1 .6-.2 .7-.1 .7-.1 .6-.1 .7-.1 .7-.1 1-.1 1-.1 1-.1 1-.1 1 0 1 0 1 0 1 0 1 .1 1 0 1 .1 1 .1 1 .1 .6 .1 .7 .2 .7 .1 .6 .1 .7 .1 .7 .1 .6 .2 .7 .1 .7 .1 .6 .2 .7 .1 .7 .1 1 .1 .8 0 .8 0 .7 0 .7-.1 .6-.2 .7-.2 .7-.4 .5-.4 .5-.4 .5-.6 .5-.5 .3-.5 .3-.5 .3-.5 .4-.7 .2-.6 .2-.7 .2-.7 .1-.6 .1-.7 .1-1 0-1 .1-1-.1-1 0-1-.1-1-.1-.7-.1-.6-.2-.7-.1-.7-.1-.6-.1-1 0-1 0-1 0-1 .1-.7 .1-.6 .2-.7 .2-.6 .2-.8 .3-.6 .3-.7 .4-.7 .4-.6 .4-.4 .6-.6 .4-.4 .6-.5 .7-.5 .7-.3 .6-.2 .7-.2 .7-.1 1-.1 1 .1 .6 .2 .7 .2 .7 .4 .6 .4 .5 .3 .5 .5 .6 .5 .4 .5 .4 .5 .3 .5 .3 .5 .3 .7 .3 .6 .2 .7 .2 .7 .2 .6 .1 .7 .1 1 .1 1-.1 1-.1 1-.1 .7-.1 .6-.1 .7-.2 .7-.1 .6-.2 .7-.1 .6-.2 .7 0 .7-.1 1 0 1 .1 1 .1 .7 .2 .6 .2 .6 .3 .8 .3 .6 .4 .6 .3 .6 .4 .5 .3 .5 .3 .5 .4 .5 .3 .6 .3 .6 .3 .6 .3 .7 .2 .7 .2 .6 .2 .7 .2 .7 .1 .6 .1 .7 .1 1 0 1 0 1 0 1-.2 1-.1 .7-.1 .6-.1 .7-.2 .7-.1 .6-.2 .7-.1 .7-.1 .6-.2 .7-.1 .7-.1 .6-.2 .7-.1 .7-.1 .6-.1 .7-.1 .7-.2 .6-.2 .7-.2 .7-.2 .6-.3 .7-.3 .7-.4 .6-.3 .5-.4 .5-.6 .7-.7 .7-.4 .3-.5 .3-.5 .4-.6 .3-.7 .3-.6 .2-.7 .2-.7 .1-.6 .1-1 0-1 0-.7-.1-.7-.2-.6-.2-.7-.2-.7-.3-.6-.3-.7-.4-.7-.5-.5-.4-.4-.3-.5-.3-.4-.4-.4-.3-.4-.3-.5-.4-.5-.3-.7-.3-.7-.2-.6-.1-1 0-.7 .1-.7 .2-.6 .2-.7 .2-.7 .3-.6 .2-.7 .3-.7 .2-.6 .2-.7 .2-.6 .2-.7 .2-.7 .1-.7 .2-.6 .1-.7 .2-.7 .1-.6 .1-.7 .1-.7 .1-.8 .1-.8 .1-1 .1-1 0-1 .1-1 0-1 0-1 0-1 0-1-.1-1-.1-1 0-1-.1-1 0-1 0-.7 .1-.7 .2-.6 .2-.7 .3-.7 .3-.6 .4-.7 .4-.7 .4-.6 .4-.7 .3-.7 .3M346.4 233.8l-1 .1-1-.2-.7-.2-.6-.3-.6-.4-.4-.3-.7-.6-.6-.7-.4-.6-.3-.4-.4-.7-.3-.6-.3-.7-.3-.7-.2-.7-.2-.6 0-1 0-1 0-1 0-1 0-1 0-1 0-1 0-1 0-1 .1-.7 .2-.5 .4-.7 .3-.6 .3-.5 .4-.5 .4-.5 .6-.6 .4-.4 .6-.5 .6-.5 .6-.4 .6-.3 .5-.3 .7-.3 .6-.3 .7-.3 .7-.2 .6-.3 .7-.2 .7-.2 .6-.2 .7-.2 .7-.2 .6-.2 .7-.2 .7-.1 .6-.2 .7-.2 .7-.1 .6-.1 .7-.2 .7-.1 .6-.1 .7 0 .8-.1 .9-.1 1-.1 1 0 1 0 1 0 1 0 1 0 1 .1 1 .1 1 .1 .6 .1 .7 .2 .7 .1 .6 .1 .7 .1 .7 .2 .6 .1 .7 .2 .7 .1 .6 .1 .7 .2 .7 .1 1 .1 1 0 1 0 1 0 1 0 .6-.1 .7-.2 .6-.2 .7-.3 .5-.4 .5-.4 .6-.6 .4-.4 .5-.6 .4-.6 .5-.7 .3-.5 .3-.5 .3-.7 .2-.6 .2-.7 .1-.7 .2-.6 0-.7 .1-1 .1-1 .1-1 0-1 .1-1 0-1 0-.8-.1-.9-.1-.6-.1-.7-.1-.7-.1-.6-.1-1-.1-1 0-1 .1-1 .1-.7 .2-.7 .2-.6 .3-.7 .3-.7 .4-.6 .4-.5 .5-.5 .5-.5 .7-.5 .6-.3 .7-.3 .6-.1 .7-.1 .9 .1 .8 .2 .7 .3 .6 .3 .7 .5 .7 .7 .3 .4 .3 .5 .4 .6 .2 .5 .3 .7 .2 .6 .2 .7 .1 .7 .1 1 0 1-.1 1-.1 .6-.1 .7-.2 .7-.1 .6-.2 .7-.1 .7-.1 .6-.1 .7-.1 1 0 1 0 1 .1 1 .1 .7 .1 .6 .2 .7 .1 .7 .3 .6 .3 .7 .3 .7 .4 .6 .5 .7 .3 .5 .3 .5 .4 .6 .3 .5 .3 .6 .4 .6 .2 .7 .3 .7 .2 .6 .2 .7 .1 .7 .1 .6 .1 1 0 1 0 1-.1 1-.1 .7-.1 .7-.1 .6-.2 .7-.1 .7-.2 .6-.1 .7-.2 .6-.2 .7-.1 .7-.1 .7-.2 .6-.1 .7-.1 .7-.1 .6-.2 .7-.1 .7-.2 .6-.2 .7-.3 .7-.3 .6-.3 .7-.5 .7-.3 .4-.6 .6-.4 .4-.7 .5-.7 .4-.6 .3-.7 .2-.7 .2-.6 .1-1 .1-1-.1-.7-.1-.7-.2-.6-.3-.6-.2-.6-.3-.5-.4-.5-.3-.4-.3-.4-.4-.7-.6-.6-.7-.7-.7-.4-.4-.6-.6-.7-.5-.7-.4-.6-.2-1-.1-.7 .1-.7 .2-.6 .2-.7 .3-.7 .2-.6 .3-.6 .3-.7 .3-.7 .3-.7 .3-.7 .2-.6 .3-.7 .2-.7 .2-.6 .2-.7 .2-.7 .2-.6 .1-.7 .2-.7 .1-.6 .1-.7 .1-.7 .1-1 .1-.9 .1-.7 .1-1 0-1 0-1 0-1 0-1 0-1-.1-1-.1-1 0-1-.1-1-.1-1 0-1 .1-.7 .2-.7 .2-.6 .3-.7 .4-.7 .4-.5 .4-.6 .3-.5 .3-.6 .4-.8 .3-.6 .2-.7 .1M346.4 231.5l-1 .1-.7-.1-.6-.3-.7-.3-.5-.4-.5-.4-.5-.6-.5-.7-.3-.6-.4-.6-.3-.8-.2-.6-.2-.7-.1-.7-.1-.6-.1-.7-.1-1 0-1 .1-1 .1-.7 .1-.6 .2-.7 .2-.7 .3-.6 .4-.7 .4-.7 .3-.4 .5-.6 .5-.5 .5-.5 .4-.3 .5-.3 .6-.4 .6-.3 .7-.3 .7-.3 .7-.3 .7-.2 .5-.2 .8-.3 .7-.2 .6-.2 .7-.3 .7-.2 .6-.2 .7-.2 .7-.2 .6-.2 .7-.2 .7-.1 .6-.1 .7-.2 .7-.1 .6-.1 .7-.1 1-.1 1 0 1-.1 1 0 1 0 .9 .1 .8 0 1 .1 1 .1 .6 .1 .7 .1 .7 .2 .6 .1 .7 .2 .7 .1 .6 .2 .7 .1 .7 .2 .6 .2 .7 .1 .7 .1 1 .1 1 .1 1 0 1-.1 1 0 1 0 1-.1 1-.1 .6-.2 .7-.3 .5-.3 .5-.4 .6-.6 .4-.5 .3-.4 .4-.4 .3-.5 .3-.4 .4-.5 .3-.5 .3-.5 .4-.5 .3-.5 .3-.7 .3-.6 .2-.7 .1-.7 .1-.6 .1-1 .1-1 0-1 .1-1 .1-1 .1-.7 .1-.7 .1-.6 .1-1 .1-1-.1-1-.1-.7-.1-.7-.1-.6-.1-.7-.1-.9 0-.8 .1-1 .1-.6 .2-.7 .3-.7 .3-.6 .4-.4 .6-.6 .5-.4 .5-.2 .7-.2 1 .1 .7 .2 .6 .3 .6 .5 .4 .5 .3 .5 .4 .7 .2 .6 .2 .7 0 .7 .1 1-.1 1-.2 .6-.1 .7-.2 .7-.1 .6-.2 .7-.1 .7 0 1 0 1 .1 1 .1 1 .1 1 .1 1 .1 .6 .1 .7 .1 .7 .2 .6 .2 .7 .2 .7 .3 .6 .4 .7 .5 .7 .3 .4 .4 .5 .3 .4 .3 .5 .4 .6 .3 .6 .3 .6 .3 .7 .3 .7 .1 .6 .2 .7 .1 .7 .1 1 0 1 0 1-.1 1-.1 .6-.2 .7-.1 .7-.2 .6-.2 .7-.2 .7-.1 .6-.2 .7-.2 .7-.2 .6-.1 .7-.1 .7-.2 .6-.1 .7-.2 .7-.2 .6-.2 .7-.3 .7-.2 .5-.3 .5-.4 .5-.3 .5-.7 .6-.5 .4-.5 .3-.6 .3-.7 .2-.7 .1-1 0-.6-.1-.7-.2-.7-.2-.6-.3-.7-.5-.4-.3-.6-.5-.4-.5-.6-.7-.3-.4-.4-.5-.3-.5-.3-.4-.4-.5-.3-.4-.5-.6-.5-.5-.7-.4-.6-.3-.7-.1-1 .1-.7 .1-.6 .2-.7 .2-.7 .3-.6 .3-.7 .3-.7 .3-.6 .4-.7 .3-.7 .4-.6 .3-.7 .3-.7 .3-.6 .3-.7 .3-.7 .2-.6 .2-.7 .2-.7 .2-.6 .2-.7 .2-.7 .1-.6 .1-.7 .1-.7 .1-1 .1-1 .1-1 .1-1 0-1 0-1 0-1-.1-1-.1-1-.1-1-.1-1-.1-1-.1-1-.1-1 .1-.6 .2-.7 .2-.7 .3-.6 .4-.7 .5-.5 .3-.5 .4-.5 .3-.5 .3-.7 .3-.6 .3-.7 .1M346.7 228.9l-.6 .1-1 0-.7-.3-.7-.4-.4-.5-.5-.6-.4-.7-.3-.7-.2-.6-.2-.7-.1-.7-.1-1 0-1 .2-1 .1-.6 .2-.7 .3-.7 .3-.6 .4-.7 .4-.5 .5-.5 .5-.4 .7-.5 .6-.4 .7-.3 .7-.3 .6-.2 .6-.2 .8-.3 .6-.2 .7-.2 .7-.3 .6-.3 .7-.2 .7-.3 .5-.2 .8-.3 .7-.3 .6-.2 .7-.2 .7-.1 .6-.2 .7-.1 .7-.1 .6-.1 1-.2 1 0 1-.1 1 0 1 0 1 .1 .9 .1 .8 .1 .7 .1 .6 .2 .7 .1 .7 .2 .6 .1 .7 .2 .7 .3 .6 .2 .6 .2 .8 .2 .6 .2 .7 .2 .7 .1 1 .1 1 0 1-.1 1-.1 1 0 1 0 1 .1 1 .1 1 0 .6-.2 .7-.3 .4-.3 .6-.7 .3-.4 .4-.5 .3-.6 .3-.5 .4-.5 .3-.5 .3-.6 .4-.4 .3-.5 .3-.5 .4-.4 .3-.4 .3-.5 .4-.4 .3-.4 .3-.5 .4-.5 .3-.5 .3-.7 .3-.7 .1-.7 .1-1 0-1 .1-1 .1-.6 .2-.7 .5-.6 .9 .3 .4 .6 .1 .7 .2 .7 .1 1 .1 1 .2 .6 .2 .7 .4 .7 .4 .5 .4 .5 .6 .6 .6 .7 .4 .4 .5 .6 .5 .6 .3 .5 .3 .6 .4 .6 .3 .7 .2 .7 .2 .6 .1 .7 .1 1 0 1-.1 1-.1 .7-.1 .6-.1 .7-.2 .6-.2 .7-.2 .7-.3 .7-.2 .6-.2 .7-.2 .7-.2 .6-.2 .7-.2 .7-.2 .6-.2 .7-.3 .7-.3 .6-.4 .7-.4 .5-.5 .5-.5 .3-.6 .3-.7 .2-1-.1-.7-.2-.6-.3-.7-.5-.4-.4-.6-.6-.3-.5-.4-.5-.3-.5-.3-.5-.4-.6-.3-.6-.3-.5-.4-.5-.3-.4-.3-.5-.6-.6-.4-.4-.7-.5-.7-.2-.6-.1-1 .1-.7 .3-.7 .2-.5 .3-.8 .3-.7 .3-.6 .2-.7 .3-.7 .3-.5 .2-.7 .4-.5 .3-.6 .3-.5 .4-.5 .3-.6 .3-.5 .4-.6 .3-.6 .3-.6 .4-.8 .3-.6 .3-.7 .2-.7 .2-.6 .2-.7 .2-.7 .1-.6 .2-.7 .1-.7 .1-.8 .1-.8 0-1 .1-1 0-1 0-1-.1-1-.1-.7-.1-.7-.1-.6-.1-.7-.1-.7-.1-.6-.2-.7-.1-1-.1-1 .1-.7 .1-.6 .2-.7 .3-.7 .5-.6 .4-.4 .4-.4 .3-.5 .3-.5 .4-.5 .3-.7 .3M396.4 222.5l-.7 .2-.6-.2-.6-.3-.4-.4-.7-.6-.6-.7-.4-.5-.3-.5-.4-.4-.3-.5-.3-.5-.4-.6-.3-.6-.3-.7-.2-.7-.2-.7 0-1 0-.7 .2-.9 .2-.7 .3-.7 .3-.6 .3-.7 .4-.6 .3-.5 .4-.4 .4-.5 .6-.6 .5-.4 .4-.3 .6-.4 .8-.2 1-.1 .7 .2 .6 .3 .7 .4 .5 .4 .5 .5 .4 .5 .4 .7 .4 .7 .2 .6 .2 .7 .1 .7 .1 1 0 1-.1 .6-.2 .7-.1 .7-.2 .6-.3 .7-.2 .6-.4 .7-.3 .6-.3 .7-.4 .6-.2 .5-.4 .6-.4 .5-.3 .4-.5 .5-.5 .3M346.4 225.9l-.9-.1-.6-.3-.5-.6-.3-.6-.3-.8 0-1 .1-1 .2-.6 .3-.7 .3-.6 .4-.4 .6-.5 .7-.4 .7-.2 .6-.2 .7-.1 .7-.1 .6-.1 .7-.2 .7-.2 .6-.4 .5-.3 .5-.3 .5-.4 .4-.3 .5-.3 .6-.4 .6-.3 .6-.3 .8-.4 .7-.3 .7-.2 .6-.2 .7-.1 .7-.1 .6-.2 1-.1 1 0 1 0 1 0 1 .1 .7 .1 .7 .1 .6 .2 .7 .2 .7 .2 .6 .2 .7 .3 .7 .3 .6 .4 .7 .4 .6 .4 .7 .7 .6 .6 .2 .7 0 1-.2 .7-.4 .6-.5 .6-.4 .4-.6 .6-.6 .4-.6 .4-.6 .3-.5 .2-.7 .3-.7 .2-.6 .2-.7 .2-.7 .1-.6 .1-1 .2-1 0-1 0-1 0-1-.1-.7-.1-.7-.1-.6-.1-.7-.2-.7-.2-.6-.2-.7-.2-.7-.3-.6-.2-.7-.2-.7-.2-.6-.2-1 0-.7 .2-.7 .4-.5 .5-.5 .5-.5 .5-.5 .6-.4 .4-.6 .5-.6 .4-.7 .2M396.4 217.9l-.7 .2-1-.2-.6-.3-.5-.4-.5-.6-.4-.5-.3-.6-.2-.7-.2-.6-.1-1 .2-1 .1-.7 .3-.7 .4-.6 .5-.7 .7-.7 .5-.3 .8-.3 1 0 .7 .1 .6 .4 .5 .5 .5 .6 .4 .7 .2 .7 .1 .6 0 .8-.1 .9-.1 .7-.3 .6-.3 .7-.4 .7-.5 .6-.6 .7-.6 .3M364.4 221.5l-1 .1-1-.1-1-.1-.7-.2-.6-.2-.6-.2-.7-.3-.5-.3-.6-.6-.3-.5-.2-.6 .2-.9 .3-.6 .6-.5 .4-.3 .7-.4 .7-.2 .6-.2 .7-.2 .7-.1 1-.1 1 .1 1 .1 .6 .1 .7 .2 .7 .2 .6 .3 .7 .5 .6 .7 .4 .6 0 .8-.2 .6-.5 .6-.4 .4-.5 .3-.6 .3-.8 .3-.7 .2-.6 .1-.7 .1M395.7 215.2l-.6-.1-.7-.5-.3-.6-.2-.8 .1-1 .3-.7 .4-.6 .7-.4 .9 0 .6 .3 .5 .7 .2 .7-.1 1-.2 .6-.2 .5-.5 .5-.5 .3" fill="none" stroke="#505050" stroke-width="0.5"/><path d="M339.4,239.6 L343.4,234.7 L408.4,235.1 L414.4,239.6Z" fill="#999" fill-opacity="0.5"/><path d="M340.4,239.6 L342.4,237.1 L410.4,237.3 L414.4,239.6Z" fill="#1e1e1e" fill-opacity="0.9"/><rect x="338.8" y="204.5" width="3.5" height="35.2" fill="#1a1a1a" fill-opacity="0.8"/></g>
<rect x="338.5" y="154.5" width="86" height="86" fill="none" stroke="#707070" stroke-width="1"/>
<line x1="383.50" y1="154.50" x2="383.50" y2="240.50" stroke="#3c3c3c" stroke-width="1"/>
<line x1="338.50" y1="200.50" x2="424.50" y2="200.50" stroke="#3c3c3c" stroke-width="1"/>
<rect x="339" y="155" width="37.8" height="33.5" fill="#fff"/>
<line x1="358.50" y1="157.50" x2="358.50" y2="187.50" stroke="#1e1e1e" stroke-width="1.05"/>
<line x1="340.80" y1="173.30" x2="375.80" y2="173.30" stroke="#262626" stroke-width="1.3"/>
<text x="348.70" y="167.70" style="font-family:'Liberation Serif',serif;font-size:9px;font-weight:normal" text-anchor="middle" fill="#1a1a1a" class="s">0.3</text>
<text x="368.00" y="167.70" style="font-family:'Liberation Serif',serif;font-size:9px;font-weight:normal" text-anchor="middle" fill="#1a1a1a" class="s">8.2</text>
<text x="348.70" y="182.90" style="font-family:'Liberation Serif',serif;font-size:9px;font-weight:normal" text-anchor="middle" fill="#1a1a1a" class="s">41</text>
<text x="368.00" y="182.90" style="font-family:'Liberation Serif',serif;font-size:9px;font-weight:normal" text-anchor="middle" fill="#1a1a1a" class="s">50</text>
<g><path d="M440.1 238.2l-.7 .1-1 0-1-.1-.7-.1-.6-.2-.7-.3-.7-.3-.6-.5-.5-.3-.4-.3-.5-.4-.6-.6-.4-.4-.3-.6 0-1 0-1 0-1 0-1 0-1 0-1 0-1 0-1 0-1 0-1 0-1 0-1 0-1 0-1 0-1 0-1 0-1 0-1 0-1 0-1 0-1 0-1 0-1 0-1 .3-.9 .7-.5 .5-.3 .5-.3 .6-.4 .7-.3 .7-.3 .7-.3 .6-.3 .7-.3 .7-.2 .6-.2 .7-.2 .7-.2 .6-.2 .7-.1 .7-.2 .6-.2 .7-.1 .7-.2 .6-.1 .7-.2 .7-.1 .6-.1 .7-.2 .7-.1 .6-.1 .7-.1 .7-.1 .6-.1 1-.1 1-.1 1-.1 1-.1 1-.1 1 0 1 0 1-.1 1 0 1 0 1 0 1 .1 1 0 1 0 1-.1 1 0 1-.1 1-.1 1-.1 .7-.1 .7-.1 .6-.1 .7-.1 .7-.1 .6-.1 .7-.1 .7-.2 .6-.1 .7-.2 .7-.2 .6-.2 .7-.5 .3-.5 .2-.6-.1-1-.1-.7-.1-.7-.1-.6-.1-.7-.1-.7-.1-.6-.1-1-.1-1-.1-1-.1-1-.1-.7-.1-.7-.2-.6-.1-.7-.2-.7-.3-.6-.2-.7-.2-.6-.2-.7-.2-.7-.2-.7-.1-.6-.1-.7 0-1 0-1 .1-.7 .1-.6 .2-.7 .2-.7 .3-.6 .3-.7 .4-.7 .5-.6 .4-.5 .5-.5 .5-.5 .5-.5 .5-.4 .4-.3 .6-.3 .5-.4 .7-.3 .8-.3 .6-.2 .7-.2 .7-.2 .6-.1 .7-.1 1-.1 1 0 1 .1 .7 .1 .6 .1 .7 .2 .7 .2 .6 .3 .6 .2 .7 .3 .6 .4 .5 .3 .5 .3 .4 .4 .4 .3 .7 .7 .6 .6 .4 .6 .3 .4 .3 .6 .4 .7 .3 .7 .2 .7 .2 .7 .1 .6 .1 1 0 1-.1 1-.1 .7-.1 .7-.3 .6-.2 .7-.3 .7-.4 .6-.4 .7-.4 .4-.5 .6-.5 .5-.5 .5-.5 .4-.6 .5-.7 .4-.5 .4-.5 .3-.5 .3-.5 .4-.5 .6-.5 .7-.3 .7-.3 .6-.2 .7-.1 .7-.2 .6-.2 .7-.1 .7-.1 1 .2 .6 .3 .5 .7 .3 .6 .2 .7 .1 1 .1 1 .1 .7 .1 .6 .1 .7 .2 .7 .1 .6 .3 .6 .3 .6 .3 .5 .3 .5 .4 .5 .5 .4 .5 .5 .6 .3 .7 .2 .7 .2 .6 0 1 0 1-.1 .7-.2 .6-.1 .7-.2 .7-.2 .7-.2 .6-.2 .7-.1 .7-.1 1 0 1 0 1 0 1 .1 1-.1 1 0 1-.1 .6-.2 .7-.1 .7-.2 .6-.2 .7-.3 .7-.3 .6-.3 .7-.4 .7-.4 .6-.4 .4-.3 .5-.4 .5-.6 .6-.4 .4-.6 .5-.6 .5-.5 .3-.5 .3-.5 .4-.6 .3-.6 .3-.7 .3-.7 .2-.6 .2-.7 .2-.7 .2-.6 .1-.7 .1-.7 .1-1 .1-1 0-1 0-1 0-1-.1-1-.1-1-.1-1-.1-1 0-1-.1-1 0-1 .1-1 .1-.6 .1-.7 .1-.7 .2-.6 .1-.7 .2-.7 .1-.6 .2-.7 .1-.7 .2-.6 .1-.7 .2-.7 .1-.6 .1-.7 .1-.7 .1-.6 .1-.7 .1-.7 .1-1 .2-1 .1-1 0-1 .1-1 .1-1 0-1 0-1 0-1 0-1 0-1 0-1 0-1 0-.8 0-.8 .1-.7 .2-.7 .2-.6 .2-.7 .3-.7 .2-.6 .3-.7 .3-.7 .2-.6 .2-.7 .2z" fill="#ececec" stroke="none"/><clipPath id="cl14"><rect x="431.4" y="200.5" width="85.8" height="39.6"/></clipPath><path d="M485.1 197.9l-.7 .2-.7-.1-.6-.4-.5-.4-.5-.7-.4-.6-.3-.7-.2-.7-.1-.7-.1-.6-.1-1-.1-1 0-1 0-1 0-1 0-1-.1-.7-.1-1-.1-.7-.2-.6-.1-.7-.1-.7-.1-.6-.1-1 0-1 .1-.7 .2-.7 .2-.6 .3-.7 .4-.6 .3-.5 .5-.6 .5-.4 .7-.6 .5-.3 .7-.3 .8-.4 .6-.2 .7-.1 .7-.1 1 0 1 .1 .6 .1 .7 .2 .7 .2 .6 .4 .7 .4 .6 .4 .4 .4 .6 .6 .4 .5 .3 .6 .3 .5 .3 .7 .1 .7 .1 .6 0 1-.1 1-.2 .7-.3 .7-.3 .6-.5 .7-.4 .5-.5 .5-.5 .4-.6 .5-.6 .4-.5 .4-.5 .3-.4 .3-.4 .4-.5 .6-.4 .7-.3 .7-.2 .6-.1 .7-.2 .7-.1 .6-.1 .7-.2 .7-.2 .6-.3 .7-.3 .7-.4 .6-.7 .7-.5 .3zM440.1 233.9l-.7 .1-1 0-.7-.1-.6-.2-.7-.2-.6-.3-.5-.4-.4-.3-.5-.4-.6-.6-.4-.5-.3-.5-.4-.5-.3-.5-.3-.7-.3-.6-.3-.7-.1-1 0-1 0-1 0-1 0-1 0-1 0-1 0-1 0-1 0-1 .1-.7 .4-.6 .4-.7 .4-.6 .6-.7 .4-.4 .7-.6 .7-.6 .6-.4 .6-.4 .6-.3 .8-.3 .7-.3 .7-.3 .6-.2 .7-.1 .7-.2 .6-.2 .7-.2 .7-.1 .6-.2 .7-.2 .7-.2 .6-.1 .7-.2 .7-.2 .6-.1 .7-.2 .7-.1 .6-.2 .7-.1 .7-.1 .6-.1 .7-.1 .7-.1 1-.1 1-.1 .7 0 .9-.1 1-.1 1 0 1 0 1-.1 1 0 1-.1 1-.1 1-.1 1-.2 .7-.1 .7-.1 .6-.1 .7-.1 .7-.1 .6-.1 .7-.2 .7-.1 .6-.1 .7-.1 .7-.2 .6-.1 .7-.1 .7-.1 .6-.1 .7-.1 .7-.1 .6-.1 .7-.1 .7-.1 .6-.1 .7-.1 .7-.1 .6-.1 .7-.1 .7-.1 .6-.1 .7-.1 1-.1 1-.1 1 0 1-.1 1-.1 1 0 1-.1 1 .1 1 .1 .7 .1 .6 .2 .7 .2 .7 .4 .6 .5 .4 .3 .5 .7 .3 .7 .2 .6 .1 1-.1 1-.2 .7-.2 .7-.2 .6-.3 .7-.2 .7-.2 .6-.1 .7-.1 .7-.1 1 0 1 0 1 0 1-.1 .9-.1 .7-.1 .7-.2 .7-.2 .6-.3 .7-.3 .7-.3 .6-.5 .7-.3 .5-.5 .5-.5 .5-.5 .5-.5 .3-.4 .4-.5 .3-.6 .3-.7 .4-.8 .3-.7 .2-.7 .2-.6 .1-.7 .1-1 .1-1 .1-1 0-1-.1-1-.1-.7-.1-.6-.2-.7-.1-.7-.1-.6-.1-.7-.2-.7-.1-.6-.1-1 0-1 0-1 .1-.7 .1-.7 .1-.6 .1-.7 .2-.7 .2-.6 .2-.7 .2-.7 .2-.6 .2-.7 .2-.7 .1-.6 .2-.7 .2-.6 .1-.7 .1-.7 .2-.7 .1-.6 .1-.7 .1-.8 .1-.9 .1-1 0-1 .1-1 0-1 0-1 0-1 0-1 0-1-.1-1 0-1-.1-1 .1-1 .1-.6 .1-.7 .2-.7 .3-.6 .3-.5 .2-.7 .3-.7 .4-.8 .3-.7 .2-.6 .2z" fill="#d0d0d0" stroke="none" clip-path="url(#cl14)"/><path d="M481.6 203.2h.6v.6h-.6zM490.1 167.9h.6v.6h-.6zM481.3 171.2h.6v.6h-.6zM495.5 189.7h.6v.6h-.6zM498.0 184.3h.6v.6h-.6zM490.0 196.2h.6v.6h-.6zM485.4 185.5h.6v.6h-.6zM489.6 191.3h.6v.6h-.6zM486.4 169.4h.6v.6h-.6zM483.1 193.9h.6v.6h-.6zM485.1 191.7h.6v.6h-.6zM489.4 194.6h.6v.6h-.6zM495.2 184.1h.6v.6h-.6zM491.7 186.8h.6v.6h-.6zM482.0 179.6h.6v.6h-.6zM473.9 175.4h.6v.6h-.6zM480.4 189.8h.6v.6h-.6zM483.9 199.5h.6v.6h-.6zM495.6 181.7h.6v.6h-.6zM486.5 172.2h.6v.6h-.6zM475.2 158.0h.6v.6h-.6zM497.7 168.6h.6v.6h-.6zM497.2 185.3h.6v.6h-.6zM489.3 192.1h.6v.6h-.6zM477.5 194.2h.6v.6h-.6zM484.5 178.3h.6v.6h-.6zM489.6 188.5h.6v.6h-.6zM490.2 201.5h.6v.6h-.6zM482.0 193.6h.6v.6h-.6zM482.8 196.9h.6v.6h-.6zM500.9 191.8h.6v.6h-.6zM474.4 177.5h.6v.6h-.6zM500.8 190.6h.6v.6h-.6zM480.2 203.4h.6v.6h-.6zM498.5 189.4h.6v.6h-.6zM492.4 169.1h.6v.6h-.6zM492.9 174.8h.6v.6h-.6zM489.5 192.0h.6v.6h-.6zM501.7 198.0h.6v.6h-.6zM492.3 199.4h.6v.6h-.6zM488.2 173.2h.6v.6h-.6zM477.4 197.5h.6v.6h-.6zM492.0 181.1h.6v.6h-.6zM491.1 191.1h.6v.6h-.6zM485.2 182.5h.6v.6h-.6zM480.1 201.1h.6v.6h-.6zM489.3 172.7h.6v.6h-.6zM490.7 186.2h.6v.6h-.6zM486.2 191.0h.6v.6h-.6zM501.1 178.7h.6v.6h-.6zM493.3 184.7h.6v.6h-.6zM476.4 200.5h.6v.6h-.6zM481.4 187.1h.6v.6h-.6zM504.9 198.5h.6v.6h-.6zM491.9 180.4h.6v.6h-.6zM493.9 174.7h.6v.6h-.6zM483.8 167.1h.6v.6h-.6zM487.6 193.0h.6v.6h-.6zM485.9 182.1h.6v.6h-.6zM478.6 194.3h.6v.6h-.6zM476.1 183.0h.6v.6h-.6zM485.4 183.8h.6v.6h-.6zM486.4 191.8h.6v.6h-.6zM480.6 191.4h.6v.6h-.6zM487.7 178.7h.6v.6h-.6zM482.4 195.2h.6v.6h-.6zM507.2 181.6h.6v.6h-.6zM479.7 184.0h.6v.6h-.6zM509.5 222.4h.6v.6h-.6zM489.0 204.7h.6v.6h-.6zM491.4 186.9h.6v.6h-.6zM487.4 182.1h.6v.6h-.6zM490.9 170.3h.6v.6h-.6zM494.3 173.4h.6v.6h-.6zM488.3 187.1h.6v.6h-.6zM487.7 183.0h.6v.6h-.6zM490.7 177.3h.6v.6h-.6zM491.2 184.8h.6v.6h-.6zM497.6 181.1h.6v.6h-.6zM504.0 190.1h.6v.6h-.6zM482.8 172.5h.6v.6h-.6zM491.2 183.7h.6v.6h-.6zM487.9 160.5h.6v.6h-.6zM483.8 182.1h.6v.6h-.6zM482.8 183.8h.6v.6h-.6zM480.6 166.9h.6v.6h-.6zM483.1 174.5h.6v.6h-.6zM483.8 184.7h.6v.6h-.6zM502.9 171.4h.6v.6h-.6zM506.6 189.3h.6v.6h-.6zM490.7 195.9h.6v.6h-.6zM503.5 166.8h.6v.6h-.6zM474.2 194.9h.6v.6h-.6zM500.7 185.7h.6v.6h-.6zM481.9 174.0h.6v.6h-.6zM489.2 200.8h.6v.6h-.6zM481.9 181.1h.6v.6h-.6zM489.6 189.0h.6v.6h-.6zM496.0 178.2h.6v.6h-.6zM485.0 174.2h.6v.6h-.6zM494.0 161.6h.6v.6h-.6zM499.7 175.3h.6v.6h-.6zM499.3 204.8h.6v.6h-.6zM495.6 172.9h.6v.6h-.6zM494.1 174.1h.6v.6h-.6zM489.6 172.6h.6v.6h-.6zM490.0 189.3h.6v.6h-.6zM485.6 174.4h.6v.6h-.6zM478.9 177.3h.6v.6h-.6zM485.2 177.4h.6v.6h-.6zM485.2 177.0h.6v.6h-.6zM502.8 182.7h.6v.6h-.6zM491.2 169.0h.6v.6h-.6zM497.5 162.2h.6v.6h-.6zM483.1 183.4h.6v.6h-.6zM486.2 190.3h.6v.6h-.6zM489.2 188.8h.6v.6h-.6zM488.2 178.7h.6v.6h-.6zM494.8 162.1h.6v.6h-.6zM478.8 196.1h.6v.6h-.6zM494.7 176.4h.6v.6h-.6zM494.5 171.0h.6v.6h-.6zM487.5 186.8h.6v.6h-.6zM483.1 205.4h.6v.6h-.6zM491.7 168.3h.6v.6h-.6zM490.4 184.8h.6v.6h-.6zM479.0 184.4h.6v.6h-.6zM496.2 179.0h.6v.6h-.6zM478.6 200.4h.6v.6h-.6zM485.6 176.1h.6v.6h-.6zM500.2 160.6h.6v.6h-.6zM489.1 178.7h.6v.6h-.6zM477.9 183.2h.6v.6h-.6zM499.6 199.2h.6v.6h-.6zM473.4 191.2h.6v.6h-.6zM492.5 193.0h.6v.6h-.6zM485.1 202.3h.6v.6h-.6zM502.3 172.6h.6v.6h-.6zM495.7 191.8h.6v.6h-.6zM494.8 198.6h.6v.6h-.6zM487.0 185.6h.6v.6h-.6zM491.8 179.5h.6v.6h-.6zM478.6 178.4h.6v.6h-.6zM480.0 190.4h.6v.6h-.6zM491.6 166.0h.6v.6h-.6zM494.5 192.0h.6v.6h-.6zM475.6 169.7h.6v.6h-.6zM486.1 188.2h.6v.6h-.6zM488.8 181.6h.6v.6h-.6zM498.6 193.5h.6v.6h-.6zM488.7 165.2h.6v.6h-.6zM487.8 164.6h.6v.6h-.6zM493.8 190.7h.6v.6h-.6zM494.2 183.1h.6v.6h-.6zM485.3 175.0h.6v.6h-.6zM492.7 179.7h.6v.6h-.6zM496.3 200.0h.6v.6h-.6zM495.4 177.1h.6v.6h-.6zM488.1 179.2h.6v.6h-.6zM479.6 184.1h.6v.6h-.6zM484.9 182.9h.6v.6h-.6zM497.1 182.4h.6v.6h-.6zM488.6 173.1h.6v.6h-.6zM497.1 183.2h.6v.6h-.6zM491.1 189.6h.6v.6h-.6zM494.5 185.7h.6v.6h-.6zM476.8 201.7h.6v.6h-.6zM480.9 176.1h.6v.6h-.6zM474.2 191.2h.6v.6h-.6zM484.9 190.9h.6v.6h-.6zM495.0 185.0h.6v.6h-.6zM479.5 173.5h.6v.6h-.6zM487.1 178.3h.6v.6h-.6zM484.6 163.4h.6v.6h-.6zM497.0 177.4h.6v.6h-.6zM488.2 170.1h.6v.6h-.6zM505.0 203.4h.6v.6h-.6zM495.3 185.8h.6v.6h-.6zM500.5 191.3h.6v.6h-.6zM488.4 167.1h.6v.6h-.6zM494.3 207.3h.6v.6h-.6zM487.7 224.8h.6v.6h-.6zM495.1 228.6h.6v.6h-.6zM509.5 213.7h.6v.6h-.6zM505.4 227.7h.6v.6h-.6zM501.9 237.7h.6v.6h-.6zM492.0 213.8h.6v.6h-.6zM511.3 213.9h.6v.6h-.6zM500.7 204.5h.6v.6h-.6zM486.2 214.2h.6v.6h-.6zM501.2 223.6h.6v.6h-.6zM506.3 215.3h.6v.6h-.6zM503.5 211.7h.6v.6h-.6zM493.3 221.7h.6v.6h-.6zM486.3 210.1h.6v.6h-.6zM497.4 218.6h.6v.6h-.6zM493.9 210.3h.6v.6h-.6zM506.3 195.9h.6v.6h-.6zM505.6 239.1h.6v.6h-.6zM500.6 212.0h.6v.6h-.6zM499.5 221.7h.6v.6h-.6zM491.3 216.9h.6v.6h-.6zM508.2 216.4h.6v.6h-.6zM493.6 224.8h.6v.6h-.6zM492.5 219.1h.6v.6h-.6zM506.1 227.2h.6v.6h-.6zM495.3 211.7h.6v.6h-.6zM502.5 214.4h.6v.6h-.6zM491.5 231.1h.6v.6h-.6zM489.9 217.2h.6v.6h-.6zM505.3 211.3h.6v.6h-.6zM496.2 227.8h.6v.6h-.6zM498.4 213.2h.6v.6h-.6zM486.8 218.1h.6v.6h-.6zM492.8 207.6h.6v.6h-.6zM482.1 224.0h.6v.6h-.6zM510.7 209.8h.6v.6h-.6zM487.5 219.5h.6v.6h-.6zM495.8 221.3h.6v.6h-.6zM503.0 229.1h.6v.6h-.6zM502.0 215.9h.6v.6h-.6zM492.2 228.9h.6v.6h-.6zM500.3 224.8h.6v.6h-.6zM495.3 226.9h.6v.6h-.6zM490.4 197.2h.6v.6h-.6zM495.1 224.0h.6v.6h-.6zM505.3 221.8h.6v.6h-.6zM498.5 221.5h.6v.6h-.6zM487.8 228.2h.6v.6h-.6zM505.9 219.2h.6v.6h-.6zM487.8 224.6h.6v.6h-.6zM494.1 225.2h.6v.6h-.6zM499.0 222.3h.6v.6h-.6zM501.7 230.1h.6v.6h-.6zM489.7 218.3h.6v.6h-.6zM507.7 213.7h.6v.6h-.6zM492.4 231.6h.6v.6h-.6zM493.6 222.8h.6v.6h-.6zM490.4 224.0h.6v.6h-.6zM477.8 169.7h.6v.6h-.6zM490.4 232.6h.6v.6h-.6zM507.2 221.6h.6v.6h-.6zM469.7 239.1h.6v.6h-.6zM478.5 236.7h.6v.6h-.6zM490.5 197.7h.6v.6h-.6zM499.8 179.3h.6v.6h-.6zM503.1 206.9h.6v.6h-.6zM450.7 195.6h.6v.6h-.6zM452.6 236.5h.6v.6h-.6zM504.5 202.4h.6v.6h-.6zM502.5 211.8h.6v.6h-.6zM467.2 202.5h.6v.6h-.6zM499.9 200.3h.6v.6h-.6zM477.9 236.1h.6v.6h-.6zM495.3 191.6h.6v.6h-.6zM496.3 195.6h.6v.6h-.6zM497.3 200.0h.6v.6h-.6zM446.2 236.4h.6v.6h-.6zM452.9 202.7h.6v.6h-.6zM455.5 201.8h.6v.6h-.6zM500.5 176.8h.6v.6h-.6zM476.8 175.0h.6v.6h-.6zM438.3 203.4h.6v.6h-.6zM496.0 170.3h.6v.6h-.6zM503.3 204.3h.6v.6h-.6zM433.8 207.3h.6v.6h-.6zM474.4 181.2h.6v.6h-.6zM501.5 216.6h.6v.6h-.6zM438.4 203.3h.6v.6h-.6zM448.9 236.0h.6v.6h-.6zM504.5 228.4h.6v.6h-.6zM458.0 195.4h.6v.6h-.6zM463.2 235.4h.6v.6h-.6zM486.9 165.6h.6v.6h-.6zM495.4 193.8h.6v.6h-.6zM494.0 193.3h.6v.6h-.6zM449.0 235.8h.6v.6h-.6zM497.3 161.9h.6v.6h-.6zM504.6 207.0h.6v.6h-.6zM472.5 181.9h.6v.6h-.6zM500.8 168.7h.6v.6h-.6zM503.2 216.6h.6v.6h-.6zM475.9 175.9h.6v.6h-.6zM484.0 169.2h.6v.6h-.6zM478.0 238.1h.6v.6h-.6zM443.9 200.5h.6v.6h-.6zM489.0 237.7h.6v.6h-.6zM452.2 201.3h.6v.6h-.6zM449.4 192.4h.6v.6h-.6zM466.3 237.6h.6v.6h-.6zM446.9 237.4h.6v.6h-.6zM445.9 237.3h.6v.6h-.6zM476.8 236.2h.6v.6h-.6zM492.4 231.6h.6v.6h-.6zM444.7 203.6h.6v.6h-.6zM500.1 230.5h.6v.6h-.6zM465.9 202.3h.6v.6h-.6zM470.8 234.9h.6v.6h-.6zM448.8 190.1h.6v.6h-.6zM473.1 201.5h.6v.6h-.6zM467.6 200.5h.6v.6h-.6zM478.1 195.0h.6v.6h-.6zM460.5 236.6h.6v.6h-.6zM449.8 198.2h.6v.6h-.6zM498.5 200.0h.6v.6h-.6zM499.0 235.4h.6v.6h-.6zM459.6 236.4h.6v.6h-.6zM498.5 200.9h.6v.6h-.6zM506.7 216.4h.6v.6h-.6zM468.0 235.7h.6v.6h-.6zM502.6 225.6h.6v.6h-.6zM473.9 198.8h.6v.6h-.6zM485.5 166.5h.6v.6h-.6zM498.5 228.3h.6v.6h-.6zM465.4 235.7h.6v.6h-.6zM460.0 201.7h.6v.6h-.6zM448.3 201.9h.6v.6h-.6zM485.6 162.9h.6v.6h-.6zM508.8 234.9h.6v.6h-.6zM445.3 196.2h.6v.6h-.6zM467.3 200.5h.6v.6h-.6zM484.9 236.2h.6v.6h-.6zM506.7 213.6h.6v.6h-.6zM497.0 172.1h.6v.6h-.6zM485.8 235.4h.6v.6h-.6zM501.8 216.9h.6v.6h-.6zM453.0 237.2h.6v.6h-.6zM498.8 189.4h.6v.6h-.6zM502.0 176.7h.6v.6h-.6zM466.3 202.1h.6v.6h-.6zM485.5 168.0h.6v.6h-.6zM506.7 180.0h.6v.6h-.6zM436.7 200.7h.6v.6h-.6zM502.8 226.0h.6v.6h-.6zM440.3 201.5h.6v.6h-.6zM451.8 198.1h.6v.6h-.6zM467.9 234.5h.6v.6h-.6zM477.7 233.1h.6v.6h-.6zM443.9 200.3h.6v.6h-.6zM479.1 234.4h.6v.6h-.6zM493.8 233.1h.6v.6h-.6zM460.5 236.3h.6v.6h-.6zM497.2 173.4h.6v.6h-.6zM436.7 204.7h.6v.6h-.6zM478.2 173.3h.6v.6h-.6zM480.7 234.9h.6v.6h-.6zM481.5 169.7h.6v.6h-.6zM482.3 164.5h.6v.6h-.6zM491.5 194.0h.6v.6h-.6zM450.0 236.1h.6v.6h-.6zM490.9 198.6h.6v.6h-.6zM477.0 238.6h.6v.6h-.6zM504.2 211.2h.6v.6h-.6zM481.7 166.0h.6v.6h-.6zM505.6 178.2h.6v.6h-.6zM501.0 199.1h.6v.6h-.6zM494.6 193.6h.6v.6h-.6zM455.2 202.4h.6v.6h-.6zM499.0 170.7h.6v.6h-.6zM493.9 235.5h.6v.6h-.6zM499.1 225.8h.6v.6h-.6zM478.3 233.1h.6v.6h-.6zM499.6 226.2h.6v.6h-.6zM468.6 202.0h.6v.6h-.6zM487.7 234.4h.6v.6h-.6zM474.2 201.3h.6v.6h-.6zM499.2 224.5h.6v.6h-.6zM497.3 168.5h.6v.6h-.6zM449.5 199.8h.6v.6h-.6zM475.0 201.2h.6v.6h-.6zM466.2 238.0h.6v.6h-.6zM451.8 199.6h.6v.6h-.6zM479.3 170.2h.6v.6h-.6zM489.0 166.2h.6v.6h-.6zM504.6 202.1h.6v.6h-.6zM474.9 182.5h.6v.6h-.6zM500.7 231.4h.6v.6h-.6zM445.0 204.2h.6v.6h-.6zM473.5 200.4h.6v.6h-.6zM485.2 161.5h.6v.6h-.6zM469.8 234.4h.6v.6h-.6zM470.9 180.5h.6v.6h-.6zM514.8 214.8h.6v.6h-.6zM498.1 190.0h.6v.6h-.6zM488.2 235.4h.6v.6h-.6zM484.8 234.1h.6v.6h-.6zM442.7 204.3h.6v.6h-.6zM474.8 180.1h.6v.6h-.6zM434.3 237.1h.6v.6h-.6zM497.6 198.6h.6v.6h-.6zM508.6 226.0h.6v.6h-.6zM498.3 174.2h.6v.6h-.6zM474.5 168.9h.6v.6h-.6zM447.1 201.3h.6v.6h-.6zM502.1 182.4h.6v.6h-.6zM468.7 201.8h.6v.6h-.6zM474.3 182.0h.6v.6h-.6zM450.5 199.2h.6v.6h-.6zM500.1 184.4h.6v.6h-.6zM489.1 166.6h.6v.6h-.6zM494.2 196.7h.6v.6h-.6zM439.8 204.0h.6v.6h-.6zM471.2 238.3h.6v.6h-.6zM493.6 169.1h.6v.6h-.6zM455.2 199.7h.6v.6h-.6zM443.1 204.2h.6v.6h-.6zM512.3 209.9h.6v.6h-.6zM481.8 236.4h.6v.6h-.6zM499.9 192.6h.6v.6h-.6zM464.3 235.4h.6v.6h-.6zM490.3 233.4h.6v.6h-.6zM460.5 202.0h.6v.6h-.6zM476.9 193.5h.6v.6h-.6zM482.5 237.0h.6v.6h-.6zM500.0 227.9h.6v.6h-.6zM501.0 215.5h.6v.6h-.6zM503.1 206.9h.6v.6h-.6zM503.0 206.5h.6v.6h-.6zM439.4 205.0h.6v.6h-.6zM501.9 216.9h.6v.6h-.6zM503.9 205.0h.6v.6h-.6zM499.7 232.2h.6v.6h-.6zM475.3 198.8h.6v.6h-.6zM469.5 193.5h.6v.6h-.6zM506.2 221.9h.6v.6h-.6zM498.7 174.3h.6v.6h-.6zM469.9 175.5h.6v.6h-.6zM491.7 235.3h.6v.6h-.6zM503.9 181.6h.6v.6h-.6zM502.4 208.1h.6v.6h-.6zM448.6 196.9h.6v.6h-.6zM452.8 202.9h.6v.6h-.6zM478.1 238.1h.6v.6h-.6zM480.2 233.1h.6v.6h-.6zM508.5 205.4h.6v.6h-.6zM453.1 238.9h.6v.6h-.6zM447.7 202.4h.6v.6h-.6zM496.0 232.5h.6v.6h-.6zM454.9 235.7h.6v.6h-.6zM494.9 169.9h.6v.6h-.6zM469.0 201.8h.6v.6h-.6zM491.9 192.0h.6v.6h-.6zM475.6 200.5h.6v.6h-.6zM495.4 189.3h.6v.6h-.6zM458.2 237.9h.6v.6h-.6zM454.5 235.9h.6v.6h-.6zM505.2 221.0h.6v.6h-.6zM502.9 210.0h.6v.6h-.6zM475.0 188.4h.6v.6h-.6zM451.3 198.6h.6v.6h-.6zM452.0 235.8h.6v.6h-.6zM461.0 196.1h.6v.6h-.6zM493.1 232.6h.6v.6h-.6zM468.7 184.0h.6v.6h-.6z" fill="#8c8c8c"/><path d="M440.1 238.2l-.7 .1-1 0-1-.1-.7-.1-.6-.2-.7-.3-.7-.3-.6-.5-.5-.3-.4-.3-.5-.4-.6-.6-.4-.4-.3-.6 0-1 0-1 0-1 0-1 0-1 0-1 0-1 0-1 0-1 0-1 0-1 0-1 0-1 0-1 0-1 0-1 0-1 0-1 0-1 0-1 0-1 0-1 0-1 0-1 .3-.9 .7-.5 .5-.3 .5-.3 .6-.4 .7-.3 .7-.3 .7-.3 .6-.3 .7-.3 .7-.2 .6-.2 .7-.2 .7-.2 .6-.2 .7-.1 .7-.2 .6-.2 .7-.1 .7-.2 .6-.1 .7-.2 .7-.1 .6-.1 .7-.2 .7-.1 .6-.1 .7-.1 .7-.1 .6-.1 1-.1 1-.1 1-.1 1-.1 1-.1 1 0 1 0 1-.1 1 0 1 0 1 0 1 .1 1 0 1 0 1-.1 1 0 1-.1 1-.1 1-.1 .7-.1 .7-.1 .6-.1 .7-.1 .7-.1 .6-.1 .7-.1 .7-.2 .6-.1 .7-.2 .7-.2 .6-.2 .7-.5 .3-.5 .2-.6-.1-1-.1-.7-.1-.7-.1-.6-.1-.7-.1-.7-.1-.6-.1-1-.1-1-.1-1-.1-1-.1-.7-.1-.7-.2-.6-.1-.7-.2-.7-.3-.6-.2-.7-.2-.6-.2-.7-.2-.7-.2-.7-.1-.6-.1-.7 0-1 0-1 .1-.7 .1-.6 .2-.7 .2-.7 .3-.6 .3-.7 .4-.7 .5-.6 .4-.5 .5-.5 .5-.5 .5-.5 .5-.4 .4-.3 .6-.3 .5-.4 .7-.3 .8-.3 .6-.2 .7-.2 .7-.2 .6-.1 .7-.1 1-.1 1 0 1 .1 .7 .1 .6 .1 .7 .2 .7 .2 .6 .3 .6 .2 .7 .3 .6 .4 .5 .3 .5 .3 .4 .4 .4 .3 .7 .7 .6 .6 .4 .6 .3 .4 .3 .6 .4 .7 .3 .7 .2 .7 .2 .7 .1 .6 .1 1 0 1-.1 1-.1 .7-.1 .7-.3 .6-.2 .7-.3 .7-.4 .6-.4 .7-.4 .4-.5 .6-.5 .5-.5 .5-.5 .4-.6 .5-.7 .4-.5 .4-.5 .3-.5 .3-.5 .4-.5 .6-.5 .7-.3 .7-.3 .6-.2 .7-.1 .7-.2 .6-.2 .7-.1 .7-.1 1 .2 .6 .3 .5 .7 .3 .6 .2 .7 .1 1 .1 1 .1 .7 .1 .6 .1 .7 .2 .7 .1 .6 .3 .6 .3 .6 .3 .5 .3 .5 .4 .5 .5 .4 .5 .5 .6 .3 .7 .2 .7 .2 .6 0 1 0 1-.1 .7-.2 .6-.1 .7-.2 .7-.2 .7-.2 .6-.2 .7-.1 .7-.1 1 0 1 0 1 0 1 .1 1-.1 1 0 1-.1 .6-.2 .7-.1 .7-.2 .6-.2 .7-.3 .7-.3 .6-.3 .7-.4 .7-.4 .6-.4 .4-.3 .5-.4 .5-.6 .6-.4 .4-.6 .5-.6 .5-.5 .3-.5 .3-.5 .4-.6 .3-.6 .3-.7 .3-.7 .2-.6 .2-.7 .2-.7 .2-.6 .1-.7 .1-.7 .1-1 .1-1 0-1 0-1 0-1-.1-1-.1-1-.1-1-.1-1 0-1-.1-1 0-1 .1-1 .1-.6 .1-.7 .1-.7 .2-.6 .1-.7 .2-.7 .1-.6 .2-.7 .1-.7 .2-.6 .1-.7 .2-.7 .1-.6 .1-.7 .1-.7 .1-.6 .1-.7 .1-.7 .1-1 .2-1 .1-1 0-1 .1-1 .1-1 0-1 0-1 0-1 0-1 0-1 0-1 0-1 0-.8 0-.8 .1-.7 .2-.7 .2-.6 .2-.7 .3-.7 .2-.6 .3-.7 .3-.7 .2-.6 .2-.7 .2M439.4 236.2l-1 0-1-.1-.7-.2-.6-.2-.7-.4-.7-.4-.5-.4-.5-.4-.6-.6-.6-.7-.4-.5-.4-.5-.3-.4 0-.9 0-1 0-1 0-1 0-1 0-1 0-1 0-1 0-1 0-1 0-1 0-1 0-1 0-1 0-1 0-1 0-1 0-1 .3-1 .4-.4 .6-.6 .5-.3 .4-.4 .5-.3 .5-.3 .5-.3 .6-.4 .7-.3 .7-.3 .6-.3 .7-.2 .7-.2 .6-.2 .7-.2 .7-.2 .6-.2 .7-.1 .7-.2 .6-.2 .7-.1 .7-.2 .6-.1 .7-.2 .6-.1 .7-.2 .7-.1 .7-.1 .6-.1 .7-.2 .7-.1 .6 0 1-.2 .8 0 .9-.1 1-.1 1 0 1-.1 1 0 1 0 1-.1 1 0 1 0 1 0 1-.1 1-.1 1 0 1-.2 .7 0 .6-.1 .7-.1 .7-.1 .6-.1 .7-.2 .7-.1 .6-.1 .7-.1 .7-.1 .6-.2 .7-.1 .7-.1 .6-.1 .7-.1 .7-.2 .6-.1 .7-.2 .7-.3 .6-.3 .6-.5 .1-.7-.1-.7-.2-.6-.3-.7-.2-.7-.3-.6-.2-.7-.2-.7-.2-.6-.1-.7-.1-.7-.1-.7-.1-.9 0-1-.1-1 0-1-.1-1-.1-.7-.1-.7-.2-.6-.1-.7-.2-.6-.2-.7-.2-.7-.1-.7-.1-.6-.1-1 0-1 .1-1 .1-.7 .2-.7 .3-.6 .3-.7 .4-.7 .3-.4 .3-.5 .4-.4 .6-.6 .5-.4 .4-.3 .6-.4 .5-.3 .7-.3 .7-.3 .6-.2 .7-.2 .7-.1 .6-.1 1 0 1 0 1 .1 .7 .2 .7 .1 .6 .3 .7 .3 .7 .3 .6 .4 .7 .5 .4 .3 .6 .6 .4 .4 .5 .7 .4 .6 .4 .7 .3 .7 .2 .7 .1 .6 .2 .7 0 1-.1 1-.1 .7-.2 .6-.2 .7-.2 .6-.4 .6-.3 .5-.3 .5-.4 .5-.6 .6-.4 .4-.6 .4-.7 .5-.5 .4-.5 .3-.5 .4-.4 .3-.4 .4-.5 .6-.4 .7-.3 .6-.2 .7-.2 .7-.2 .6-.1 .7-.2 .7-.2 .6-.2 .7-.2 .7-.3 .6-.2 .7-.3 .7-.1 .6 .2 .7 .7 .5 .7 .2 .6 .1 1 .1 1 0 1 0 .9 .1 .8 .1 .7 .1 .6 .2 .7 .2 .7 .3 .6 .4 .5 .4 .5 .4 .5 .6 .4 .6 .3 .7 .2 .7 .1 .6-.1 1 0 .7-.2 .7-.2 .6-.2 .7-.2 .7-.2 .6-.2 .7-.2 .7-.1 .6 0 1 0 1 0 1 0 1 0 1-.1 1-.1 .7-.2 .7-.1 .6-.2 .7-.3 .7-.3 .6-.3 .7-.4 .7-.5 .6-.4 .5-.4 .5-.6 .6-.4 .4-.6 .5-.6 .5-.6 .4-.6 .3-.5 .3-.7 .3-.6 .3-.7 .2-.7 .2-.6 .1-.7 .2-.7 .1-1 .1-1 0-1 0-1 0-1-.1-1-.1-.6-.1-.7-.1-.7-.1-.6-.1-1-.1-1-.1-1 0-1 .1-1 .1-.7 .1-.7 .2-.6 .1-.7 .2-.7 .1-.6 .2-.7 .2-.7 .1-.6 .2-.7 .2-.7 .1-.6 .2-.7 .1-.7 .1-.6 .1-.7 .1-.7 .1-.6 .1-1 .1-1 .1-.8 .1-.9 .1-1 0-1 0-1 .1-1-.1-1 0-1 0-1 0-1-.1-1 .1-1 0-.7 .1-.6 .2-.7 .2-.7 .2-.6 .3-.7 .3-.5 .3-.8 .3-.7 .2-.7 .2-.6 .2-.7 .1M485.1 197.9l-.7 .2-.7-.1-.6-.4-.5-.4-.5-.7-.4-.6-.3-.7-.2-.7-.1-.7-.1-.6-.1-1-.1-1 0-1 0-1 0-1 0-1-.1-.7-.1-1-.1-.7-.2-.6-.1-.7-.1-.7-.1-.6-.1-1 0-1 .1-.7 .2-.7 .2-.6 .3-.7 .4-.6 .3-.5 .5-.6 .5-.4 .7-.6 .5-.3 .7-.3 .8-.4 .6-.2 .7-.1 .7-.1 1 0 1 .1 .6 .1 .7 .2 .7 .2 .6 .4 .7 .4 .6 .4 .4 .4 .6 .6 .4 .5 .3 .6 .3 .5 .3 .7 .1 .7 .1 .6 0 1-.1 1-.2 .7-.3 .7-.3 .6-.5 .7-.4 .5-.5 .5-.5 .4-.6 .5-.6 .4-.5 .4-.5 .3-.4 .3-.4 .4-.5 .6-.4 .7-.3 .7-.2 .6-.1 .7-.2 .7-.1 .6-.1 .7-.2 .7-.2 .6-.3 .7-.3 .7-.4 .6-.7 .7-.5 .3M440.1 233.9l-.7 .1-1 0-.7-.1-.6-.2-.7-.2-.6-.3-.5-.4-.4-.3-.5-.4-.6-.6-.4-.5-.3-.5-.4-.5-.3-.5-.3-.7-.3-.6-.3-.7-.1-1 0-1 0-1 0-1 0-1 0-1 0-1 0-1 0-1 0-1 .1-.7 .4-.6 .4-.7 .4-.6 .6-.7 .4-.4 .7-.6 .7-.6 .6-.4 .6-.4 .6-.3 .8-.3 .7-.3 .7-.3 .6-.2 .7-.1 .7-.2 .6-.2 .7-.2 .7-.1 .6-.2 .7-.2 .7-.2 .6-.1 .7-.2 .7-.2 .6-.1 .7-.2 .7-.1 .6-.2 .7-.1 .7-.1 .6-.1 .7-.1 .7-.1 1-.1 1-.1 .7 0 .9-.1 1-.1 1 0 1 0 1-.1 1 0 1-.1 1-.1 1-.1 1-.2 .7-.1 .7-.1 .6-.1 .7-.1 .7-.1 .6-.1 .7-.2 .7-.1 .6-.1 .7-.1 .7-.2 .6-.1 .7-.1 .7-.1 .6-.1 .7-.1 .7-.1 .6-.1 .7-.1 .7-.1 .6-.1 .7-.1 .7-.1 .6-.1 .7-.1 .7-.1 .6-.1 .7-.1 1-.1 1-.1 1 0 1-.1 1-.1 1 0 1-.1 1 .1 1 .1 .7 .1 .6 .2 .7 .2 .7 .4 .6 .5 .4 .3 .5 .7 .3 .7 .2 .6 .1 1-.1 1-.2 .7-.2 .7-.2 .6-.3 .7-.2 .7-.2 .6-.1 .7-.1 .7-.1 1 0 1 0 1 0 1-.1 .9-.1 .7-.1 .7-.2 .7-.2 .6-.3 .7-.3 .7-.3 .6-.5 .7-.3 .5-.5 .5-.5 .5-.5 .5-.5 .3-.4 .4-.5 .3-.6 .3-.7 .4-.8 .3-.7 .2-.7 .2-.6 .1-.7 .1-1 .1-1 .1-1 0-1-.1-1-.1-.7-.1-.6-.2-.7-.1-.7-.1-.6-.1-.7-.2-.7-.1-.6-.1-1 0-1 0-1 .1-.7 .1-.7 .1-.6 .1-.7 .2-.7 .2-.6 .2-.7 .2-.7 .2-.6 .2-.7 .2-.7 .1-.6 .2-.7 .2-.6 .1-.7 .1-.7 .2-.7 .1-.6 .1-.7 .1-.8 .1-.9 .1-1 0-1 .1-1 0-1 0-1 0-1 0-1 0-1-.1-1 0-1-.1-1 .1-1 .1-.6 .1-.7 .2-.7 .3-.6 .3-.5 .2-.7 .3-.7 .4-.8 .3-.7 .2-.6 .2M484.4 193.9l-.7-.3-.3-.4-.2-.7-.1-.7 0-1 0-1 .1-.6 .1-.7 .1-.8 0-.9-.1-1-.2-.6-.1-.7-.2-.7-.1-.6-.1-.7-.1-1 0-1 .1-.7 .2-.6 .3-.6 .3-.5 .3-.5 .5-.4 .4-.4 .6-.3 .5-.3 .7-.2 .7-.1 1 0 1 .1 .6 .2 .7 .3 .5 .3 .4 .4 .4 .4 .4 .4 .3 .5 .2 .7 .2 .6 0 1-.1 .7-.2 .7-.4 .6-.4 .5-.4 .5-.6 .5-.6 .5-.6 .4-.5 .3-.5 .3-.5 .4-.6 .5-.5 .5-.4 .6-.3 .7-.1 .7-.1 .6-.1 1-.1 .7-.1 .7-.2 .6-.4 .7-.4 .3M440.4 231.5l-.7 .2-1 0-1-.1-.6-.2-.7-.4-.7-.4-.4-.4-.6-.6-.3-.5-.3-.5-.4-.6-.2-.5-.3-.7-.2-.6-.2-.7-.2-.7-.1-.6-.1-1 0-1 .1-1 .1-.7 .1-.7 .2-.6 .3-.7 .3-.7 .3-.6 .5-.7 .4-.5 .5-.5 .5-.5 .6-.5 .5-.3 .6-.3 .7-.4 .6-.2 .7-.3 .7-.2 .6-.1 .7-.2 .7-.2 .6-.1 .7-.2 .6-.2 .7-.2 .7-.2 .7-.2 .6-.2 .7-.1 .7-.2 .6-.2 .7-.2 .7-.1 .6-.2 .7-.1 .7-.1 .6-.1 .7-.1 .7-.1 1-.1 1-.1 1-.1 .8 0 .8-.1 1-.1 1-.1 1 0 1-.2 .7-.1 .7-.1 .6-.1 .7-.1 .7-.1 .6-.1 .7-.2 .7-.1 .6-.2 .7-.1 .7-.2 .6-.1 .7-.2 .7-.1 .6-.1 .7-.2 .7-.1 .6-.1 .7-.1 .7-.1 .6-.1 .7-.1 1-.1 1-.1 1-.1 1-.1 1-.1 1-.1 1-.1 1-.1 .7-.1 .6-.1 .7-.1 .7-.1 .6-.1 1-.1 1 0 1 0 1 .1 .7 .2 .7 .3 .5 .3 .5 .4 .5 .6 .3 .7 .1 .6 0 1-.1 .7-.2 .7-.2 .6-.3 .7-.2 .7-.2 .6-.2 .7-.1 .7 0 1-.1 1 0 1 0 .8-.1 .8-.1 .7-.1 .7-.2 .6-.3 .7-.2 .5-.3 .6-.4 .6-.3 .4-.5 .6-.5 .5-.6 .5-.4 .3-.6 .3-.6 .4-.7 .3-.8 .3-.6 .1-.7 .2-.7 .1-1 .1-1 0-1-.1-1-.1-.6-.2-.7-.1-.7-.2-.6-.1-.7-.2-.7-.2-.6-.2-.7-.2-.7-.1-.6-.1-1-.1-1 0-1 .2-.7 .1-.7 .2-.6 .2-.7 .2-.7 .3-.6 .2-.7 .2-.7 .3-.6 .2-.7 .2-.7 .2-.6 .2-.7 .1-.7 .2-.6 .1-.7 .2-.7 .1-.6 .1-.7 .1-1 .1-1 0-1 .1-1 0-1 0-1 0-1-.1-1 0-1-.1-1-.1-1 0-1 0-1 .1-.7 .1-.6 .2-.7 .3-.7 .4-.6 .3-.7 .4-.7 .3-.6 .3-.6 .2M439.7 229.2l-1 .1-.6-.1-.7-.3-.6-.4-.7-.7-.4-.4-.3-.5-.3-.7-.3-.7-.2-.7-.1-.6-.1-.7 0-1 .1-1 .1-.7 .2-.6 .3-.7 .3-.6 .3-.6 .4-.4 .6-.7 .5-.4 .5-.3 .6-.3 .7-.4 .7-.2 .7-.2 .7-.1 .6-.1 .7-.2 .7-.1 .6-.2 .7-.2 .7-.2 .6-.2 .7-.2 .7-.3 .6-.2 .7-.2 .7-.3 .6-.2 .7-.2 .7-.1 .6-.2 .7-.1 .7-.1 .6-.2 .7-.1 .7 0 1-.2 1-.1 1 0 1-.1 1-.1 1-.1 1-.2 .6-.1 .7-.1 .7-.1 .6-.1 .7-.2 .7-.1 .6-.2 .7-.2 .7-.2 .6-.1 .7-.2 .7-.2 .6-.2 .7-.1 .7-.2 .6-.1 .7-.2 .7-.1 .6-.1 .7-.2 .7-.1 .6-.1 1-.1 1-.1 1 0 1-.1 1 0 1-.1 1-.1 1-.1 1-.1 .7-.1 .7-.1 .6-.1 .7-.1 1-.1 1 0 1 .2 .7 .2 .5 .3 .5 .5 .3 .7 .1 .8-.2 1-.1 .6-.2 .7-.2 .7-.2 .6-.1 .7-.1 .8 0 .9 0 1-.1 1 0 1-.1 .6-.2 .7-.2 .7-.2 .6-.4 .7-.4 .7-.4 .4-.5 .6-.5 .4-.7 .4-.6 .4-.7 .3-.7 .2-.6 .1-.7 .2-1 0-1 0-1-.1-.7-.1-.6-.2-.7-.2-.7-.2-.6-.2-.7-.3-.7-.3-.6-.3-.7-.3-.7-.3-.6-.2-.7-.2-.7-.2-1 0-.8 .1-.8 .2-.7 .2-.7 .3-.6 .4-.7 .3-.7 .3-.6 .4-.7 .3-.6 .2-.7 .3-.7 .3-.7 .2-.6 .2-.7 .2-.6 .2-.7 .1-.7 .2-.7 .1-.6 .1-1 .1-1 .1-1 0-1 0-1 0-1-.1-1 0-1-.2-.7-.1-.7-.1-.6 0-1-.2-1 0-1 .1-.7 .1-.7 .3-.6 .3-.7 .4-.7 .4-.5 .4-.6 .3-.5 .3-.7 .2-.7 .2M439.7 226.3l-1 0-.6-.3-.6-.5-.4-.7-.3-.6-.1-.7 0-1 .1-.7 .2-.6 .3-.7 .4-.6 .5-.4 .5-.3 .7-.4 .7-.2 .6 0 1 0 1 0 1 0 .7-.1 .7-.2 .6-.3 .7-.4 .6-.4 .5-.4 .6-.3 .5-.3 .7-.4 .7-.3 .7-.3 .7-.3 .7-.2 .6-.2 .7-.1 .7-.2 .6-.1 .7-.1 .7-.1 .8-.1 .8 0 1-.1 1-.1 1-.1 1-.1 1 0 1-.2 .7-.1 .7-.1 .6-.1 .7-.2 .7-.2 .6-.2 .7-.2 .7-.2 .6-.3 .7-.2 .6-.2 .7-.3 .7-.2 .6-.2 .7-.2 .7-.2 .7-.1 .6-.2 .7-.1 .7-.1 .6-.1 1-.1 1 0 1-.1 1-.1 1 0 1-.1 1 0 1-.1 1 0 1 0 1 .1 .7 .3 .5 .4 .3 .7 0 1 0 1 0 1 0 1 0 1 0 1 0 1-.1 1-.2 .7-.3 .6-.3 .7-.5 .7-.4 .4-.7 .5-.6 .4-.7 .3-.7 .2-.6 .1-1 .1-1-.1-.7-.1-.7-.2-.6-.2-.7-.3-.7-.3-.6-.4-.7-.4-.5-.4-.5-.4-.6-.6-.7-.6-.7-.7-.4-.3-.4-.4-.5-.3-.7-.3-.7-.2-1-.1-.6 .1-.7 .2-.5 .3-.5 .3-.5 .4-.5 .5-.5 .5-.5 .5-.4 .5-.6 .5-.5 .5-.4 .3-.5 .3-.5 .4-.6 .3-.5 .3-.7 .3-.6 .3-.7 .2-.7 .2-.6 .2-.7 .1-.7 .1-.6 .1-1 .1-1 .1-1 0-1-.1-1-.1-.7-.1-.7-.1-.6-.2-.7-.1-.7-.2-.6-.3-.7-.2-.7-.2-.6-.2-.7-.2-1 0-.7 .2-.6 .4-.5 .4-.5 .4-.6 .6-.4 .4-.7 .5-.6 .4-.7 .4M485.4 220.9l-.7 .1-1 .1-1-.2-.6-.2-.6-.2-.5-.3-.5-.4-.4-.3-.6-.7-.4-.5-.4-.6-.2-.5-.3-.7-.3-.7-.2-.6-.2-.7 0-1 .2-.5 .5-.5 .5-.3 .7-.2 .7-.2 .6-.2 .7-.1 1-.1 1 0 1 .1 .7 .1 .6 .1 .7 .4 .5 .4 .4 .7 .3 .6 .2 .7 .2 .7 0 .6 .1 1-.1 1-.2 .7-.3 .7-.4 .6-.5 .4-.4 .3-.7 .3M456.1 221.5l-1-.1-.7-.1-.7-.2-.6-.3-.4-.3-.5-.7 .1-1 .4-.5 .6-.5 .7-.3 .7-.3 .7-.2 .7-.1 .6-.1 1 0 1 0 .7 .1 .7 .1 .6 .3 .6 .5 .2 .7-.1 .7-.3 .4-.6 .6-.4 .3-.7 .3-.7 .3-.6 .2-.7 .1-1 .1M484.4 218.9l-1 0-.7-.2-.6-.4-.4-.5-.4-.6-.2-.7 0-1 .3-.6 .7-.6 .6-.2 1-.1 .7 .2 .7 .5 .4 .5 .2 .5 .2 .8-.1 1-.3 .7-.4 .3-.6 .3" fill="none" stroke="#505050" stroke-width="0.5"/><path d="M432.4,239.6 L436.4,234.7 L500.4,235.1 L506.4,239.6Z" fill="#999" fill-opacity="0.5"/><path d="M433.4,239.6 L435.4,237.1 L502.4,237.3 L506.4,239.6Z" fill="#1e1e1e" fill-opacity="0.9"/><rect x="431.8" y="204.5" width="3.5" height="35.2" fill="#1a1a1a" fill-opacity="0.8"/></g>
<rect x="431.5" y="154.5" width="86" height="86" fill="none" stroke="#707070" stroke-width="1"/>
<line x1="476.50" y1="154.50" x2="476.50" y2="240.50" stroke="#3c3c3c" stroke-width="1"/>
<line x1="431.50" y1="200.50" x2="517.50" y2="200.50" stroke="#3c3c3c" stroke-width="1"/>
<rect x="432" y="155" width="37.8" height="33.5" fill="#fff"/>
<line x1="451.50" y1="157.50" x2="451.50" y2="187.50" stroke="#1e1e1e" stroke-width="1.05"/>
<line x1="433.80" y1="173.30" x2="468.80" y2="173.30" stroke="#262626" stroke-width="1.3"/>
<text x="441.80" y="167.70" style="font-family:'Liberation Serif',serif;font-size:9px;font-weight:normal" text-anchor="middle" fill="#1a1a1a" class="s">0.9</text>
<text x="461.20" y="167.70" style="font-family:'Liberation Serif',serif;font-size:9px;font-weight:normal" text-anchor="middle" fill="#1a1a1a" class="s">11</text>
<text x="441.80" y="182.90" style="font-family:'Liberation Serif',serif;font-size:9px;font-weight:normal" text-anchor="middle" fill="#1a1a1a" class="s">40</text>
<text x="461.20" y="182.90" style="font-family:'Liberation Serif',serif;font-size:9px;font-weight:normal" text-anchor="middle" fill="#1a1a1a" class="s">48</text>
<path d="M46.8,94.8 L46.8,136.4 L89.3,136.4" fill="none" stroke="#2a2a2a" stroke-width="1.2"/>
<path d="M43.599999999999994,97.89999999999999 L46.8,94.3 L50.0,97.89999999999999" fill="none" stroke="#2a2a2a" stroke-width="1.2"/>
<path d="M86.2,133.20000000000002 L89.8,136.4 L86.2,139.6" fill="none" stroke="#2a2a2a" stroke-width="1.2"/>
<path d="M46.6,208.9 L46.6,251.6 L89.3,251.6" fill="none" stroke="#2a2a2a" stroke-width="1.2"/>
<path d="M43.4,212.0 L46.6,208.4 L49.800000000000004,212.0" fill="none" stroke="#2a2a2a" stroke-width="1.2"/>
<path d="M86.2,248.4 L89.8,251.6 L86.2,254.79999999999998" fill="none" stroke="#2a2a2a" stroke-width="1.2"/>
<text x="100.40" y="137.90" style="font-family:'Liberation Serif',serif;font-size:9.6px;font-weight:normal" text-anchor="start" fill="#1a1a1a" >CD44</text>
<text x="100.20" y="252.90" style="font-family:'Liberation Serif',serif;font-size:9.6px;font-weight:normal" text-anchor="start" fill="#1a1a1a" >CD44</text>
<text transform="translate(50.9,77.6) rotate(-90)" style="font-family:'Liberation Serif',serif;font-size:9.6px" text-anchor="middle" fill="#1a1a1a">IFN-&#947;</text>
<text transform="translate(51.0,193.1) rotate(-90)" style="font-family:'Liberation Serif',serif;font-size:9.6px" text-anchor="middle" fill="#1a1a1a">IL-4</text>
<line x1="55.00" y1="272.75" x2="55.00" y2="396.20" stroke="#111" stroke-width="1.3"/>
<line x1="52.60" y1="395.60" x2="55.00" y2="395.60" stroke="#111" stroke-width="1.0"/>
<text x="49.40" y="398.00" style="font-family:'Liberation Serif',serif;font-size:7.2px;font-weight:normal" text-anchor="end" fill="#1a1a1a" class="t">0</text>
<line x1="52.60" y1="378.05" x2="55.00" y2="378.05" stroke="#111" stroke-width="1.0"/>
<text x="49.40" y="380.45" style="font-family:'Liberation Serif',serif;font-size:7.2px;font-weight:normal" text-anchor="end" fill="#1a1a1a" class="t">5</text>
<line x1="52.60" y1="360.50" x2="55.00" y2="360.50" stroke="#111" stroke-width="1.0"/>
<text x="49.40" y="362.90" style="font-family:'Liberation Serif',serif;font-size:7.2px;font-weight:normal" text-anchor="end" fill="#1a1a1a" class="t">10</text>
<line x1="52.60" y1="342.95" x2="55.00" y2="342.95" stroke="#111" stroke-width="1.0"/>
<text x="49.40" y="345.35" style="font-family:'Liberation Serif',serif;font-size:7.2px;font-weight:normal" text-anchor="end" fill="#1a1a1a" class="t">15</text>
<line x1="52.60" y1="325.40" x2="55.00" y2="325.40" stroke="#111" stroke-width="1.0"/>
<text x="49.40" y="327.80" style="font-family:'Liberation Serif',serif;font-size:7.2px;font-weight:normal" text-anchor="end" fill="#1a1a1a" class="t">20</text>
<line x1="52.60" y1="307.85" x2="55.00" y2="307.85" stroke="#111" stroke-width="1.0"/>
<text x="49.40" y="310.25" style="font-family:'Liberation Serif',serif;font-size:7.2px;font-weight:normal" text-anchor="end" fill="#1a1a1a" class="t">25</text>
<line x1="52.60" y1="290.30" x2="55.00" y2="290.30" stroke="#111" stroke-width="1.0"/>
<text x="49.40" y="292.70" style="font-family:'Liberation Serif',serif;font-size:7.2px;font-weight:normal" text-anchor="end" fill="#1a1a1a" class="t">30</text>
<line x1="52.60" y1="272.75" x2="55.00" y2="272.75" stroke="#111" stroke-width="1.0"/>
<text x="49.40" y="275.15" style="font-family:'Liberation Serif',serif;font-size:7.2px;font-weight:normal" text-anchor="end" fill="#1a1a1a" class="t">35</text>
<line x1="54.40" y1="395.60" x2="270.30" y2="395.60" stroke="#111" stroke-width="1.3"/>
<line x1="55.00" y1="395.60" x2="55.00" y2="398.00" stroke="#111" stroke-width="1.0"/>
<text x="55.00" y="409.90" style="font-family:'Liberation Serif',serif;font-size:7.2px;font-weight:normal" text-anchor="middle" fill="#1a1a1a" class="t">0</text>
<line x1="114.85" y1="395.60" x2="114.85" y2="398.00" stroke="#111" stroke-width="1.0"/>
<text x="114.85" y="409.90" style="font-family:'Liberation Serif',serif;font-size:7.2px;font-weight:normal" text-anchor="middle" fill="#1a1a1a" class="t">5</text>
<line x1="174.70" y1="395.60" x2="174.70" y2="398.00" stroke="#111" stroke-width="1.0"/>
<text x="174.70" y="409.90" style="font-family:'Liberation Serif',serif;font-size:7.2px;font-weight:normal" text-anchor="middle" fill="#1a1a1a" class="t">10</text>
<line x1="234.55" y1="395.60" x2="234.55" y2="398.00" stroke="#111" stroke-width="1.0"/>
<text x="234.55" y="409.90" style="font-family:'Liberation Serif',serif;font-size:7.2px;font-weight:normal" text-anchor="middle" fill="#1a1a1a" class="t">15</text>
<text x="115.4" y="422.3" style="font-family:'Liberation Serif',serif;font-size:9.4px" fill="#1a1a1a">% Foxp3<tspan dy="-3.2" style="font-size:5.5px">+</tspan><tspan dy="3.2"> cells</tspan></text>
<text transform="translate(20.6,331.2) rotate(-90)" style="font-family:'Liberation Serif',serif;font-size:9.4px" text-anchor="middle" fill="#1a1a1a">%IFN&#947; producers</text>
<text transform="translate(31.8,331.2) rotate(-90)" style="font-family:'Liberation Serif',serif;font-size:9.4px" text-anchor="middle" fill="#1a1a1a">(among CD4<tspan dy="-3" style="font-size:5.5px">+</tspan><tspan dy="3"> CD44</tspan><tspan dy="-3" style="font-size:6.2px">hi</tspan><tspan dy="3">)</tspan></text>
<text x="205" y="280.6" style="font-family:'Liberation Serif',serif;font-size:9.3px" fill="#1a1a1a"><tspan font-style="italic">r</tspan><tspan dy="-3.2" style="font-size:5.5px">2</tspan><tspan dy="3.2"> = 0.78</tspan></text>
<text x="205.00" y="291.10" style="font-family:'Liberation Serif',serif;font-size:9.3px;font-weight:normal" text-anchor="start" fill="#1a1a1a" >p &lt; 0.0001</text>
<line x1="63.50" y1="318.50" x2="246.30" y2="390.60" stroke="#333" stroke-width="1.0"/>
<path d="M75.50,289.50 L73.20,287.20 L70.90,289.50 L73.20,291.80" fill="none" stroke="#1a1a1a" stroke-width="1.1"/>
<path d="M68.50,308.50 L66.20,306.20 L63.90,308.50 L66.20,310.80" fill="none" stroke="#1a1a1a" stroke-width="1.1"/>
<path d="M71.80,310.20 L69.50,307.90 L67.20,310.20 L69.50,312.50" fill="none" stroke="#1a1a1a" stroke-width="1.1"/>
<path d="M87.50,314.80 L85.20,312.50 L82.90,314.80 L85.20,317.10" fill="none" stroke="#1a1a1a" stroke-width="1.1"/>
<path d="M88.30,318.20 L86.00,315.90 L83.70,318.20 L86.00,320.50" fill="none" stroke="#1a1a1a" stroke-width="1.1"/>
<path d="M73.50,318.20 L71.20,315.90 L68.90,318.20 L71.20,320.50" fill="none" stroke="#1a1a1a" stroke-width="1.1"/>
<path d="M64.60,320.70 L62.30,318.40 L60.00,320.70 L62.30,323.00" fill="none" stroke="#1a1a1a" stroke-width="1.1"/>
<path d="M66.80,319.90 L64.50,317.60 L62.20,319.90 L64.50,322.20" fill="none" stroke="#1a1a1a" stroke-width="1.1"/>
<path d="M77.30,324.10 L75.00,321.80 L72.70,324.10 L75.00,326.40" fill="none" stroke="#1a1a1a" stroke-width="1.1"/>
<path d="M66.30,327.10 L64.00,324.80 L61.70,327.10 L64.00,329.40" fill="none" stroke="#1a1a1a" stroke-width="1.1"/>
<path d="M87.50,331.30 L85.20,329.00 L82.90,331.30 L85.20,333.60" fill="none" stroke="#1a1a1a" stroke-width="1.1"/>
<path d="M70.60,335.10 L68.30,332.80 L66.00,335.10 L68.30,337.40" fill="none" stroke="#1a1a1a" stroke-width="1.1"/>
<path d="M71.80,344.80 L69.50,342.50 L67.20,344.80 L69.50,347.10" fill="none" stroke="#1a1a1a" stroke-width="1.1"/>
<path d="M125.70,336.20 L123.40,333.90 L121.10,336.20 L123.40,338.50" fill="none" stroke="#1a1a1a" stroke-width="1.1"/>
<path d="M145.80,331.00 L143.50,328.70 L141.20,331.00 L143.50,333.30" fill="none" stroke="#1a1a1a" stroke-width="1.1"/>
<path d="M148.50,340.40 L146.20,338.10 L143.90,340.40 L146.20,342.70" fill="none" stroke="#1a1a1a" stroke-width="1.1"/>
<path d="M168.90,339.30 L166.60,337.00 L164.30,339.30 L166.60,341.60" fill="none" stroke="#1a1a1a" stroke-width="1.1"/>
<path d="M155.70,345.90 L153.40,343.60 L151.10,345.90 L153.40,348.20" fill="none" stroke="#1a1a1a" stroke-width="1.1"/>
<path d="M148.50,357.40 L146.20,355.10 L143.90,357.40 L146.20,359.70" fill="none" stroke="#1a1a1a" stroke-width="1.1"/>
<path d="M160.60,357.40 L158.30,355.10 L156.00,357.40 L158.30,359.70" fill="none" stroke="#1a1a1a" stroke-width="1.1"/>
<path d="M161.20,360.70 L158.90,358.40 L156.60,360.70 L158.90,363.00" fill="none" stroke="#1a1a1a" stroke-width="1.1"/>
<path d="M167.20,359.10 L164.90,356.80 L162.60,359.10 L164.90,361.40" fill="none" stroke="#1a1a1a" stroke-width="1.1"/>
<path d="M163.40,366.20 L161.10,363.90 L158.80,366.20 L161.10,368.50" fill="none" stroke="#1a1a1a" stroke-width="1.1"/>
<path d="M171.60,371.70 L169.30,369.40 L167.00,371.70 L169.30,374.00" fill="none" stroke="#1a1a1a" stroke-width="1.1"/>
<path d="M175.50,375.00 L173.20,372.70 L170.90,375.00 L173.20,377.30" fill="none" stroke="#1a1a1a" stroke-width="1.1"/>
<path d="M160.10,384.30 L157.80,382.00 L155.50,384.30 L157.80,386.60" fill="none" stroke="#1a1a1a" stroke-width="1.1"/>
<path d="M193.70,360.00 L191.40,357.70 L189.10,360.00 L191.40,362.30" fill="none" stroke="#1a1a1a" stroke-width="1.1"/>
<path d="M188.60,363.30 L186.30,361.00 L184.00,363.30 L186.30,365.60" fill="none" stroke="#1a1a1a" stroke-width="1.1"/>
<path d="M191.80,372.10 L189.50,369.80 L187.20,372.10 L189.50,374.40" fill="none" stroke="#1a1a1a" stroke-width="1.1"/>
<path d="M187.20,376.70 L184.90,374.40 L182.60,376.70 L184.90,379.00" fill="none" stroke="#1a1a1a" stroke-width="1.1"/>
<path d="M182.50,378.60 L180.20,376.30 L177.90,378.60 L180.20,380.90" fill="none" stroke="#1a1a1a" stroke-width="1.1"/>
<path d="M210.40,383.30 L208.10,381.00 L205.80,383.30 L208.10,385.60" fill="none" stroke="#1a1a1a" stroke-width="1.1"/>
<path d="M214.60,385.60 L212.30,383.30 L210.00,385.60 L212.30,387.90" fill="none" stroke="#1a1a1a" stroke-width="1.1"/>
<path d="M218.60,357.70 L216.30,355.40 L214.00,357.70 L216.30,360.00" fill="none" stroke="#1a1a1a" stroke-width="1.1"/>
<path d="M223.60,364.00 L221.30,361.70 L219.00,364.00 L221.30,366.30" fill="none" stroke="#1a1a1a" stroke-width="1.1"/>
<path d="M219.80,392.90 L217.50,390.60 L215.20,392.90 L217.50,395.20" fill="none" stroke="#1a1a1a" stroke-width="1.1"/>
<path d="M227.10,381.30 L224.80,379.00 L222.50,381.30 L224.80,383.60" fill="none" stroke="#1a1a1a" stroke-width="1.1"/>
<path d="M236.50,382.50 L234.20,380.20 L231.90,382.50 L234.20,384.80" fill="none" stroke="#1a1a1a" stroke-width="1.1"/>
<path d="M244.00,382.50 L241.70,380.20 L239.40,382.50 L241.70,384.80" fill="none" stroke="#1a1a1a" stroke-width="1.1"/>
<path d="M248.00,384.20 L245.70,381.90 L243.40,384.20 L245.70,386.50" fill="none" stroke="#1a1a1a" stroke-width="1.1"/>
<line x1="305.70" y1="272.55" x2="305.70" y2="396.00" stroke="#111" stroke-width="1.3"/>
<line x1="303.30" y1="395.40" x2="305.70" y2="395.40" stroke="#111" stroke-width="1.0"/>
<text x="299.90" y="397.80" style="font-family:'Liberation Serif',serif;font-size:7.2px;font-weight:normal" text-anchor="end" fill="#1a1a1a" class="t">0</text>
<line x1="303.30" y1="377.85" x2="305.70" y2="377.85" stroke="#111" stroke-width="1.0"/>
<text x="299.90" y="380.25" style="font-family:'Liberation Serif',serif;font-size:7.2px;font-weight:normal" text-anchor="end" fill="#1a1a1a" class="t">5</text>
<line x1="303.30" y1="360.30" x2="305.70" y2="360.30" stroke="#111" stroke-width="1.0"/>
<text x="299.90" y="362.70" style="font-family:'Liberation Serif',serif;font-size:7.2px;font-weight:normal" text-anchor="end" fill="#1a1a1a" class="t">10</text>
<line x1="303.30" y1="342.75" x2="305.70" y2="342.75" stroke="#111" stroke-width="1.0"/>
<text x="299.90" y="345.15" style="font-family:'Liberation Serif',serif;font-size:7.2px;font-weight:normal" text-anchor="end" fill="#1a1a1a" class="t">15</text>
<line x1="303.30" y1="325.20" x2="305.70" y2="325.20" stroke="#111" stroke-width="1.0"/>
<text x="299.90" y="327.60" style="font-family:'Liberation Serif',serif;font-size:7.2px;font-weight:normal" text-anchor="end" fill="#1a1a1a" class="t">20</text>
<line x1="303.30" y1="307.65" x2="305.70" y2="307.65" stroke="#111" stroke-width="1.0"/>
<text x="299.90" y="310.05" style="font-family:'Liberation Serif',serif;font-size:7.2px;font-weight:normal" text-anchor="end" fill="#1a1a1a" class="t">25</text>
<line x1="303.30" y1="290.10" x2="305.70" y2="290.10" stroke="#111" stroke-width="1.0"/>
<text x="299.90" y="292.50" style="font-family:'Liberation Serif',serif;font-size:7.2px;font-weight:normal" text-anchor="end" fill="#1a1a1a" class="t">30</text>
<line x1="303.30" y1="272.55" x2="305.70" y2="272.55" stroke="#111" stroke-width="1.0"/>
<text x="299.90" y="274.95" style="font-family:'Liberation Serif',serif;font-size:7.2px;font-weight:normal" text-anchor="end" fill="#1a1a1a" class="t">35</text>
<line x1="305.10" y1="395.40" x2="518.00" y2="395.40" stroke="#111" stroke-width="1.3"/>
<line x1="305.70" y1="395.40" x2="305.70" y2="397.80" stroke="#111" stroke-width="1.0"/>
<text x="305.70" y="409.70" style="font-family:'Liberation Serif',serif;font-size:7.2px;font-weight:normal" text-anchor="middle" fill="#1a1a1a" class="t">0</text>
<line x1="364.80" y1="395.40" x2="364.80" y2="397.80" stroke="#111" stroke-width="1.0"/>
<text x="364.80" y="409.70" style="font-family:'Liberation Serif',serif;font-size:7.2px;font-weight:normal" text-anchor="middle" fill="#1a1a1a" class="t">5</text>
<line x1="423.90" y1="395.40" x2="423.90" y2="397.80" stroke="#111" stroke-width="1.0"/>
<text x="423.90" y="409.70" style="font-family:'Liberation Serif',serif;font-size:7.2px;font-weight:normal" text-anchor="middle" fill="#1a1a1a" class="t">10</text>
<line x1="483.00" y1="395.40" x2="483.00" y2="397.80" stroke="#111" stroke-width="1.0"/>
<text x="483.00" y="409.70" style="font-family:'Liberation Serif',serif;font-size:7.2px;font-weight:normal" text-anchor="middle" fill="#1a1a1a" class="t">15</text>
<text x="367.4" y="422.2" style="font-family:'Liberation Serif',serif;font-size:9.4px" fill="#1a1a1a">% Foxp3<tspan dy="-3.2" style="font-size:5.5px">+</tspan><tspan dy="3.2"> cells</tspan></text>
<text transform="translate(272.6,331.1) rotate(-90)" style="font-family:'Liberation Serif',serif;font-size:9.4px" text-anchor="middle" fill="#1a1a1a">%IL-4 producers</text>
<text transform="translate(283.8,331.1) rotate(-90)" style="font-family:'Liberation Serif',serif;font-size:9.4px" text-anchor="middle" fill="#1a1a1a">(among CD4<tspan dy="-3" style="font-size:5.5px">+</tspan><tspan dy="3"> CD44</tspan><tspan dy="-3" style="font-size:6.2px">hi</tspan><tspan dy="3">)</tspan></text>
<text x="471" y="280.6" style="font-family:'Liberation Serif',serif;font-size:9.3px" fill="#1a1a1a"><tspan font-style="italic">r</tspan><tspan dy="-3.2" style="font-size:5.5px">2</tspan><tspan dy="3.2"> = 0.77</tspan></text>
<text x="471.00" y="291.10" style="font-family:'Liberation Serif',serif;font-size:9.3px;font-weight:normal" text-anchor="start" fill="#1a1a1a" >p &lt; 0.0001</text>
<polyline points="313.15,340.23 316.23,343.71 319.31,346.97 322.38,350.02 325.46,352.88 328.54,355.56 331.62,358.07 334.70,360.43 337.78,362.63 340.86,364.70 343.94,366.63 347.02,368.45 350.10,370.15 353.18,371.74 356.26,373.23 359.33,374.63 362.41,375.94 365.49,377.17 368.57,378.32 371.65,379.39 374.73,380.40 377.81,381.35 380.89,382.23 383.97,383.06 387.05,383.84 390.13,384.57 393.21,385.25 396.29,385.89 399.36,386.49 402.44,387.05 405.52,387.58 408.60,388.07 411.68,388.54 414.76,388.97 417.84,389.37 420.92,389.75 424.00,390.11 427.08,390.44 430.16,390.76 433.24,391.05 436.32,391.32 439.39,391.58 442.47,391.82 445.55,392.05 448.63,392.26 451.71,392.46 454.79,392.64 457.87,392.82 460.95,392.98 464.03,393.13 467.11,393.27 470.19,393.41 473.27,393.53 476.34,393.65 479.42,393.76 482.50,393.87 485.58,393.96 488.66,394.05 491.74,394.14 494.82,394.22" fill="none" stroke="#444" stroke-width="0.9"/>
<path d="M326.75,293.50 L323.75,290.50 L320.75,293.50 L323.75,296.50Z" fill="#000"/>
<path d="M317.30,319.80 L314.30,316.80 L311.30,319.80 L314.30,322.80Z" fill="#000"/>
<path d="M320.30,316.80 L317.30,313.80 L314.30,316.80 L317.30,319.80Z" fill="#000"/>
<path d="M329.20,328.00 L326.20,325.00 L323.20,328.00 L326.20,331.00Z" fill="#000"/>
<path d="M316.20,335.90 L313.20,332.90 L310.20,335.90 L313.20,338.90Z" fill="#000"/>
<path d="M318.60,347.40 L315.60,344.40 L312.60,347.40 L315.60,350.40Z" fill="#000"/>
<path d="M321.50,345.50 L318.50,342.50 L315.50,345.50 L318.50,348.50Z" fill="#000"/>
<path d="M324.30,343.60 L321.30,340.60 L318.30,343.60 L321.30,346.60Z" fill="#000"/>
<path d="M323.40,351.30 L320.40,348.30 L317.40,351.30 L320.40,354.30Z" fill="#000"/>
<path d="M339.70,351.00 L336.70,348.00 L333.70,351.00 L336.70,354.00Z" fill="#000"/>
<path d="M338.30,363.20 L335.30,360.20 L332.30,363.20 L335.30,366.20Z" fill="#000"/>
<path d="M322.90,380.30 L319.90,377.30 L316.90,380.30 L319.90,383.30Z" fill="#000"/>
<path d="M338.60,376.70 L335.60,373.70 L332.60,376.70 L335.60,379.70Z" fill="#000"/>
<path d="M398.90,363.80 L395.90,360.80 L392.90,363.80 L395.90,366.80Z" fill="#000"/>
<path d="M398.90,371.30 L395.90,368.30 L392.90,371.30 L395.90,374.30Z" fill="#000"/>
<path d="M376.20,381.70 L373.20,378.70 L370.20,381.70 L373.20,384.70Z" fill="#000"/>
<path d="M396.30,391.40 L393.30,388.40 L390.30,391.40 L393.30,394.40Z" fill="#000"/>
<path d="M405.50,388.30 L402.50,385.30 L399.50,388.30 L402.50,391.30Z" fill="#000"/>
<path d="M410.30,391.70 L407.30,388.70 L404.30,391.70 L407.30,394.70Z" fill="#000"/>
<path d="M412.60,388.80 L409.60,385.80 L406.60,388.80 L409.60,391.80Z" fill="#000"/>
<path d="M417.80,383.10 L414.80,380.10 L411.80,383.10 L414.80,386.10Z" fill="#000"/>
<path d="M421.80,389.40 L418.80,386.40 L415.80,389.40 L418.80,392.40Z" fill="#000"/>
<path d="M425.30,385.60 L422.30,382.60 L419.30,385.60 L422.30,388.60Z" fill="#000"/>
<path d="M432.20,390.00 L429.20,387.00 L426.20,390.00 L429.20,393.00Z" fill="#000"/>
<path d="M437.40,391.70 L434.40,388.70 L431.40,391.70 L434.40,394.70Z" fill="#000"/>
<path d="M438.60,394.00 L435.60,391.00 L432.60,394.00 L435.60,397.00Z" fill="#000"/>
<path d="M442.60,390.20 L439.60,387.20 L436.60,390.20 L439.60,393.20Z" fill="#000"/>
<path d="M459.30,392.30 L456.30,389.30 L453.30,392.30 L456.30,395.30Z" fill="#000"/>
<path d="M463.60,393.80 L460.60,390.80 L457.60,393.80 L460.60,396.80Z" fill="#000"/>
<path d="M466.80,382.50 L463.80,379.50 L460.80,382.50 L463.80,385.50Z" fill="#000"/>
<path d="M468.60,393.80 L465.60,390.80 L462.60,393.80 L465.60,396.80Z" fill="#000"/>
<path d="M473.00,393.80 L470.00,390.80 L467.00,393.80 L470.00,396.80Z" fill="#000"/>
<path d="M476.10,393.80 L473.10,390.80 L470.10,393.80 L473.10,396.80Z" fill="#000"/>
<path d="M486.10,392.30 L483.10,389.30 L480.10,392.30 L483.10,395.30Z" fill="#000"/>
<path d="M492.40,391.30 L489.40,388.30 L486.40,391.30 L489.40,394.30Z" fill="#000"/>
<path d="M497.40,393.10 L494.40,390.10 L491.40,393.10 L494.40,396.10Z" fill="#000"/>
<line x1="54.70" y1="438.55" x2="54.70" y2="560.60" stroke="#111" stroke-width="1.3"/>
<line x1="52.30" y1="560.00" x2="54.70" y2="560.00" stroke="#111" stroke-width="1.0"/>
<text x="49.20" y="562.40" style="font-family:'Liberation Serif',serif;font-size:7.2px;font-weight:normal" text-anchor="end" fill="#1a1a1a" class="t">0</text>
<line x1="52.30" y1="542.65" x2="54.70" y2="542.65" stroke="#111" stroke-width="1.0"/>
<text x="49.20" y="545.05" style="font-family:'Liberation Serif',serif;font-size:7.2px;font-weight:normal" text-anchor="end" fill="#1a1a1a" class="t">5</text>
<line x1="52.30" y1="525.30" x2="54.70" y2="525.30" stroke="#111" stroke-width="1.0"/>
<text x="49.20" y="527.70" style="font-family:'Liberation Serif',serif;font-size:7.2px;font-weight:normal" text-anchor="end" fill="#1a1a1a" class="t">10</text>
<line x1="52.30" y1="507.95" x2="54.70" y2="507.95" stroke="#111" stroke-width="1.0"/>
<text x="49.20" y="510.35" style="font-family:'Liberation Serif',serif;font-size:7.2px;font-weight:normal" text-anchor="end" fill="#1a1a1a" class="t">15</text>
<line x1="52.30" y1="490.60" x2="54.70" y2="490.60" stroke="#111" stroke-width="1.0"/>
<text x="49.20" y="493.00" style="font-family:'Liberation Serif',serif;font-size:7.2px;font-weight:normal" text-anchor="end" fill="#1a1a1a" class="t">20</text>
<line x1="52.30" y1="473.25" x2="54.70" y2="473.25" stroke="#111" stroke-width="1.0"/>
<text x="49.20" y="475.65" style="font-family:'Liberation Serif',serif;font-size:7.2px;font-weight:normal" text-anchor="end" fill="#1a1a1a" class="t">25</text>
<line x1="52.30" y1="455.90" x2="54.70" y2="455.90" stroke="#111" stroke-width="1.0"/>
<text x="49.20" y="458.30" style="font-family:'Liberation Serif',serif;font-size:7.2px;font-weight:normal" text-anchor="end" fill="#1a1a1a" class="t">30</text>
<line x1="52.30" y1="438.55" x2="54.70" y2="438.55" stroke="#111" stroke-width="1.0"/>
<text x="49.20" y="440.95" style="font-family:'Liberation Serif',serif;font-size:7.2px;font-weight:normal" text-anchor="end" fill="#1a1a1a" class="t">35</text>
<line x1="54.10" y1="560.00" x2="270.40" y2="560.00" stroke="#111" stroke-width="1.3"/>
<line x1="54.70" y1="560.00" x2="54.70" y2="562.40" stroke="#111" stroke-width="1.0"/>
<text x="54.70" y="574.30" style="font-family:'Liberation Serif',serif;font-size:7.2px;font-weight:normal" text-anchor="middle" fill="#1a1a1a" class="t">0</text>
<line x1="114.70" y1="560.00" x2="114.70" y2="562.40" stroke="#111" stroke-width="1.0"/>
<text x="114.70" y="574.30" style="font-family:'Liberation Serif',serif;font-size:7.2px;font-weight:normal" text-anchor="middle" fill="#1a1a1a" class="t">5</text>
<line x1="174.70" y1="560.00" x2="174.70" y2="562.40" stroke="#111" stroke-width="1.0"/>
<text x="174.70" y="574.30" style="font-family:'Liberation Serif',serif;font-size:7.2px;font-weight:normal" text-anchor="middle" fill="#1a1a1a" class="t">10</text>
<line x1="234.70" y1="560.00" x2="234.70" y2="562.40" stroke="#111" stroke-width="1.0"/>
<text x="234.70" y="574.30" style="font-family:'Liberation Serif',serif;font-size:7.2px;font-weight:normal" text-anchor="middle" fill="#1a1a1a" class="t">15</text>
<text x="116.0" y="587.0" style="font-family:'Liberation Serif',serif;font-size:9.4px" fill="#1a1a1a">% Foxp3<tspan dy="-3.2" style="font-size:5.5px">+</tspan><tspan dy="3.2"> cells</tspan></text>
<text transform="translate(15.0,498.4) rotate(-90)" style="font-family:'Liberation Serif',serif;font-size:9.4px" text-anchor="middle" fill="#1a1a1a">Fold-change in cytokine producers</text>
<text transform="translate(26.6,498.4) rotate(-90)" style="font-family:'Liberation Serif',serif;font-size:9.4px" text-anchor="middle" fill="#1a1a1a">(among CD4<tspan dy="-3" style="font-size:5.5px">+</tspan><tspan dy="3"> CD44</tspan><tspan dy="-3" style="font-size:6.2px">hi</tspan><tspan dy="3">)</tspan></text>
<polyline points="62.26,493.65 65.39,497.83 68.51,501.75 71.64,505.42 74.76,508.87 77.89,512.09 81.02,515.11 84.14,517.94 87.27,520.59 90.39,523.08 93.52,525.41 96.65,527.59 99.77,529.63 102.90,531.55 106.03,533.34 109.15,535.02 112.28,536.60 115.40,538.07 118.53,539.45 121.66,540.75 124.78,541.96 127.91,543.10 131.03,544.17 134.16,545.16 137.29,546.10 140.41,546.98 143.54,547.80 146.66,548.57 149.79,549.29 152.92,549.96 156.04,550.60 159.17,551.19 162.30,551.74 165.42,552.26 168.55,552.75 171.67,553.21 174.80,553.64 177.93,554.04 181.05,554.41 184.18,554.77 187.30,555.10 190.43,555.41 193.56,555.70 196.68,555.97 199.81,556.22 202.93,556.46 206.06,556.68 209.19,556.89 212.31,557.09 215.44,557.27 218.57,557.44 221.69,557.60 224.82,557.76 227.94,557.90 231.07,558.03 234.20,558.15 237.32,558.27 240.45,558.38 243.57,558.48 246.70,558.58" fill="none" stroke="#444" stroke-width="0.9"/>
<line x1="62.00" y1="542.51" x2="246.30" y2="558.87" stroke="#444" stroke-width="0.9"/>
<path d="M75.75,437.46 L72.75,434.46 L69.75,437.46 L72.75,440.46Z" fill="#000"/>
<path d="M66.30,469.08 L63.30,466.08 L60.30,469.08 L63.30,472.08Z" fill="#000"/>
<path d="M69.30,465.48 L66.30,462.48 L63.30,465.48 L66.30,468.48Z" fill="#000"/>
<path d="M78.20,478.94 L75.20,475.94 L72.20,478.94 L75.20,481.94Z" fill="#000"/>
<path d="M65.20,488.45 L62.20,485.45 L59.20,488.45 L62.20,491.45Z" fill="#000"/>
<path d="M67.60,502.28 L64.60,499.28 L61.60,502.28 L64.60,505.28Z" fill="#000"/>
<path d="M70.50,499.99 L67.50,496.99 L64.50,499.99 L67.50,502.99Z" fill="#000"/>
<path d="M73.30,497.71 L70.30,494.71 L67.30,497.71 L70.30,500.71Z" fill="#000"/>
<path d="M72.40,506.97 L69.40,503.97 L66.40,506.97 L69.40,509.97Z" fill="#000"/>
<path d="M88.70,506.60 L85.70,503.60 L82.70,506.60 L85.70,509.60Z" fill="#000"/>
<path d="M87.30,521.28 L84.30,518.28 L81.30,521.28 L84.30,524.28Z" fill="#000"/>
<path d="M71.90,541.84 L68.90,538.84 L65.90,541.84 L68.90,544.84Z" fill="#000"/>
<path d="M87.60,537.51 L84.60,534.51 L81.60,537.51 L84.60,540.51Z" fill="#000"/>
<path d="M147.90,522.00 L144.90,519.00 L141.90,522.00 L144.90,525.00Z" fill="#000"/>
<path d="M147.90,531.02 L144.90,528.02 L141.90,531.02 L144.90,534.02Z" fill="#000"/>
<path d="M125.20,543.52 L122.20,540.52 L119.20,543.52 L122.20,546.52Z" fill="#000"/>
<path d="M145.30,555.19 L142.30,552.19 L139.30,555.19 L142.30,558.19Z" fill="#000"/>
<path d="M154.50,551.46 L151.50,548.46 L148.50,551.46 L151.50,554.46Z" fill="#000"/>
<path d="M159.30,555.55 L156.30,552.55 L153.30,555.55 L156.30,558.55Z" fill="#000"/>
<path d="M161.60,552.06 L158.60,549.06 L155.60,552.06 L158.60,555.06Z" fill="#000"/>
<path d="M166.80,545.21 L163.80,542.21 L160.80,545.21 L163.80,548.21Z" fill="#000"/>
<path d="M170.80,552.78 L167.80,549.78 L164.80,552.78 L167.80,555.78Z" fill="#000"/>
<path d="M174.30,548.21 L171.30,545.21 L168.30,548.21 L171.30,551.21Z" fill="#000"/>
<path d="M181.20,553.51 L178.20,550.51 L175.20,553.51 L178.20,556.51Z" fill="#000"/>
<path d="M186.40,555.55 L183.40,552.55 L180.40,555.55 L183.40,558.55Z" fill="#000"/>
<path d="M187.60,558.32 L184.60,555.32 L181.60,558.32 L184.60,561.32Z" fill="#000"/>
<path d="M191.60,553.75 L188.60,550.75 L185.60,553.75 L188.60,556.75Z" fill="#000"/>
<path d="M208.30,556.27 L205.30,553.27 L202.30,556.27 L205.30,559.27Z" fill="#000"/>
<path d="M212.60,558.08 L209.60,555.08 L206.60,558.08 L209.60,561.08Z" fill="#000"/>
<path d="M215.80,544.49 L212.80,541.49 L209.80,544.49 L212.80,547.49Z" fill="#000"/>
<path d="M217.60,558.08 L214.60,555.08 L211.60,558.08 L214.60,561.08Z" fill="#000"/>
<path d="M222.00,558.08 L219.00,555.08 L216.00,558.08 L219.00,561.08Z" fill="#000"/>
<path d="M225.10,558.08 L222.10,555.08 L219.10,558.08 L222.10,561.08Z" fill="#000"/>
<path d="M235.10,556.27 L232.10,553.27 L229.10,556.27 L232.10,559.27Z" fill="#000"/>
<path d="M241.40,555.07 L238.40,552.07 L235.40,555.07 L238.40,558.07Z" fill="#000"/>
<path d="M246.40,557.23 L243.40,554.23 L240.40,557.23 L243.40,560.23Z" fill="#000"/>
<path d="M75.20,535.94 L72.90,533.64 L70.60,535.94 L72.90,538.24" fill="none" stroke="#333" stroke-width="0.8"/>
<path d="M68.20,540.25 L65.90,537.95 L63.60,540.25 L65.90,542.55" fill="none" stroke="#333" stroke-width="0.8"/>
<path d="M71.50,540.63 L69.20,538.33 L66.90,540.63 L69.20,542.93" fill="none" stroke="#333" stroke-width="0.8"/>
<path d="M87.20,541.67 L84.90,539.37 L82.60,541.67 L84.90,543.97" fill="none" stroke="#333" stroke-width="0.8"/>
<path d="M88.00,542.45 L85.70,540.15 L83.40,542.45 L85.70,544.75" fill="none" stroke="#333" stroke-width="0.8"/>
<path d="M73.20,542.45 L70.90,540.15 L68.60,542.45 L70.90,544.75" fill="none" stroke="#333" stroke-width="0.8"/>
<path d="M64.30,543.01 L62.00,540.71 L59.70,543.01 L62.00,545.31" fill="none" stroke="#333" stroke-width="0.8"/>
<path d="M66.50,542.83 L64.20,540.53 L61.90,542.83 L64.20,545.13" fill="none" stroke="#333" stroke-width="0.8"/>
<path d="M77.00,543.78 L74.70,541.48 L72.40,543.78 L74.70,546.08" fill="none" stroke="#333" stroke-width="0.8"/>
<path d="M66.00,544.46 L63.70,542.16 L61.40,544.46 L63.70,546.76" fill="none" stroke="#333" stroke-width="0.8"/>
<path d="M87.20,545.42 L84.90,543.12 L82.60,545.42 L84.90,547.72" fill="none" stroke="#333" stroke-width="0.8"/>
<path d="M70.30,546.28 L68.00,543.98 L65.70,546.28 L68.00,548.58" fill="none" stroke="#333" stroke-width="0.8"/>
<path d="M71.50,548.48 L69.20,546.18 L66.90,548.48 L69.20,550.78" fill="none" stroke="#333" stroke-width="0.8"/>
<path d="M125.40,546.53 L123.10,544.23 L120.80,546.53 L123.10,548.83Z" fill="#fff" stroke="#222" stroke-width="0.9"/>
<path d="M145.50,545.35 L143.20,543.05 L140.90,545.35 L143.20,547.65Z" fill="#fff" stroke="#222" stroke-width="0.9"/>
<path d="M148.20,547.48 L145.90,545.18 L143.60,547.48 L145.90,549.78Z" fill="#fff" stroke="#222" stroke-width="0.9"/>
<path d="M168.60,547.23 L166.30,544.93 L164.00,547.23 L166.30,549.53Z" fill="#fff" stroke="#222" stroke-width="0.9"/>
<path d="M155.40,548.73 L153.10,546.43 L150.80,548.73 L153.10,551.03Z" fill="#fff" stroke="#222" stroke-width="0.9"/>
<path d="M148.20,551.34 L145.90,549.04 L143.60,551.34 L145.90,553.64Z" fill="#fff" stroke="#222" stroke-width="0.9"/>
<path d="M160.30,551.34 L158.00,549.04 L155.70,551.34 L158.00,553.64Z" fill="#fff" stroke="#222" stroke-width="0.9"/>
<path d="M160.90,552.08 L158.60,549.78 L156.30,552.08 L158.60,554.38Z" fill="#fff" stroke="#222" stroke-width="0.9"/>
<path d="M166.90,551.72 L164.60,549.42 L162.30,551.72 L164.60,554.02Z" fill="#fff" stroke="#222" stroke-width="0.9"/>
<path d="M163.10,553.33 L160.80,551.03 L158.50,553.33 L160.80,555.63Z" fill="#fff" stroke="#222" stroke-width="0.9"/>
<path d="M171.30,554.58 L169.00,552.28 L166.70,554.58 L169.00,556.88Z" fill="#fff" stroke="#222" stroke-width="0.9"/>
<path d="M175.20,555.33 L172.90,553.03 L170.60,555.33 L172.90,557.63Z" fill="#fff" stroke="#222" stroke-width="0.9"/>
<path d="M159.80,557.44 L157.50,555.14 L155.20,557.44 L157.50,559.74Z" fill="#fff" stroke="#222" stroke-width="0.9"/>
<path d="M193.40,551.93 L191.10,549.63 L188.80,551.93 L191.10,554.23Z" fill="#fff" stroke="#222" stroke-width="0.9"/>
<path d="M188.30,552.67 L186.00,550.37 L183.70,552.67 L186.00,554.97Z" fill="#fff" stroke="#222" stroke-width="0.9"/>
<path d="M191.50,554.67 L189.20,552.37 L186.90,554.67 L189.20,556.97Z" fill="#fff" stroke="#222" stroke-width="0.9"/>
<path d="M186.90,555.71 L184.60,553.41 L182.30,555.71 L184.60,558.01Z" fill="#fff" stroke="#222" stroke-width="0.9"/>
<path d="M182.20,556.14 L179.90,553.84 L177.60,556.14 L179.90,558.44Z" fill="#fff" stroke="#222" stroke-width="0.9"/>
<path d="M210.10,557.21 L207.80,554.91 L205.50,557.21 L207.80,559.51Z" fill="#fff" stroke="#222" stroke-width="0.9"/>
<path d="M214.30,557.73 L212.00,555.43 L209.70,557.73 L212.00,560.03Z" fill="#fff" stroke="#222" stroke-width="0.9"/>
<path d="M218.30,551.40 L216.00,549.10 L213.70,551.40 L216.00,553.70Z" fill="#fff" stroke="#222" stroke-width="0.9"/>
<path d="M223.30,552.83 L221.00,550.53 L218.70,552.83 L221.00,555.13Z" fill="#fff" stroke="#222" stroke-width="0.9"/>
<path d="M219.50,559.39 L217.20,557.09 L214.90,559.39 L217.20,561.69Z" fill="#fff" stroke="#222" stroke-width="0.9"/>
<path d="M226.80,556.76 L224.50,554.46 L222.20,556.76 L224.50,559.06Z" fill="#fff" stroke="#222" stroke-width="0.9"/>
<path d="M236.20,557.03 L233.90,554.73 L231.60,557.03 L233.90,559.33Z" fill="#fff" stroke="#222" stroke-width="0.9"/>
<path d="M243.70,557.03 L241.40,554.73 L239.10,557.03 L241.40,559.33Z" fill="#fff" stroke="#222" stroke-width="0.9"/>
<path d="M247.70,557.41 L245.40,555.11 L243.10,557.41 L245.40,559.71Z" fill="#fff" stroke="#222" stroke-width="0.9"/>
<path d="M213.20,435.80 L211.00,433.60 L208.80,435.80 L211.00,438.00Z" fill="#fff" stroke="#222" stroke-width="0.9"/>
<text x="219.20" y="437.90" style="font-family:'Liberation Serif',serif;font-size:9.3px;font-weight:normal" text-anchor="start" fill="#1a1a1a" >Th1</text>
<text x="209.2" y="454.8" style="font-family:'Liberation Serif',serif;font-size:9.3px" fill="#1a1a1a"><tspan font-style="italic">r</tspan><tspan dy="-3.2" style="font-size:5.5px">2</tspan><tspan dy="3.2"> = 0.78</tspan></text>
<text x="209.20" y="465.30" style="font-family:'Liberation Serif',serif;font-size:9.3px;font-weight:normal" text-anchor="start" fill="#1a1a1a" >p &lt; 0.0001</text>
<path d="M213.60,477.80 L211.00,475.20 L208.40,477.80 L211.00,480.40Z" fill="#000"/>
<text x="219.20" y="479.80" style="font-family:'Liberation Serif',serif;font-size:9.3px;font-weight:normal" text-anchor="start" fill="#1a1a1a" >Th2</text>
<text x="209.2" y="492.0" style="font-family:'Liberation Serif',serif;font-size:9.3px" fill="#1a1a1a"><tspan font-style="italic">r</tspan><tspan dy="-3.2" style="font-size:5.5px">2</tspan><tspan dy="3.2"> = 0.77</tspan></text>
<text x="209.20" y="502.50" style="font-family:'Liberation Serif',serif;font-size:9.3px;font-weight:normal" text-anchor="start" fill="#1a1a1a" >p &lt; 0.0001</text>
<line x1="305.90" y1="433.90" x2="305.90" y2="561.40" stroke="#111" stroke-width="1.3"/>
<line x1="303.50" y1="560.80" x2="305.90" y2="560.80" stroke="#111" stroke-width="1.0"/>
<text x="300.00" y="563.20" style="font-family:'Liberation Serif',serif;font-size:7.2px;font-weight:normal" text-anchor="end" fill="#1a1a1a" class="t">0</text>
<line x1="303.50" y1="539.65" x2="305.90" y2="539.65" stroke="#111" stroke-width="1.0"/>
<text x="300.00" y="542.05" style="font-family:'Liberation Serif',serif;font-size:7.2px;font-weight:normal" text-anchor="end" fill="#1a1a1a" class="t">0.2</text>
<line x1="303.50" y1="518.50" x2="305.90" y2="518.50" stroke="#111" stroke-width="1.0"/>
<text x="300.00" y="520.90" style="font-family:'Liberation Serif',serif;font-size:7.2px;font-weight:normal" text-anchor="end" fill="#1a1a1a" class="t">0.4</text>
<line x1="303.50" y1="497.35" x2="305.90" y2="497.35" stroke="#111" stroke-width="1.0"/>
<text x="300.00" y="499.75" style="font-family:'Liberation Serif',serif;font-size:7.2px;font-weight:normal" text-anchor="end" fill="#1a1a1a" class="t">0.6</text>
<line x1="303.50" y1="476.20" x2="305.90" y2="476.20" stroke="#111" stroke-width="1.0"/>
<text x="300.00" y="478.60" style="font-family:'Liberation Serif',serif;font-size:7.2px;font-weight:normal" text-anchor="end" fill="#1a1a1a" class="t">0.8</text>
<line x1="303.50" y1="455.05" x2="305.90" y2="455.05" stroke="#111" stroke-width="1.0"/>
<text x="300.00" y="457.45" style="font-family:'Liberation Serif',serif;font-size:7.2px;font-weight:normal" text-anchor="end" fill="#1a1a1a" class="t">1</text>
<line x1="303.50" y1="433.90" x2="305.90" y2="433.90" stroke="#111" stroke-width="1.0"/>
<text x="300.00" y="436.30" style="font-family:'Liberation Serif',serif;font-size:7.2px;font-weight:normal" text-anchor="end" fill="#1a1a1a" class="t">1.2</text>
<line x1="305.30" y1="560.80" x2="517.00" y2="560.80" stroke="#111" stroke-width="1.3"/>
<line x1="305.90" y1="560.80" x2="305.90" y2="563.20" stroke="#111" stroke-width="1.0"/>
<text x="305.90" y="575.10" style="font-family:'Liberation Serif',serif;font-size:7.2px;font-weight:normal" text-anchor="middle" fill="#1a1a1a" class="t">0</text>
<line x1="365.00" y1="560.80" x2="365.00" y2="563.20" stroke="#111" stroke-width="1.0"/>
<text x="365.00" y="575.10" style="font-family:'Liberation Serif',serif;font-size:7.2px;font-weight:normal" text-anchor="middle" fill="#1a1a1a" class="t">5</text>
<line x1="424.10" y1="560.80" x2="424.10" y2="563.20" stroke="#111" stroke-width="1.0"/>
<text x="424.10" y="575.10" style="font-family:'Liberation Serif',serif;font-size:7.2px;font-weight:normal" text-anchor="middle" fill="#1a1a1a" class="t">10</text>
<line x1="483.20" y1="560.80" x2="483.20" y2="563.20" stroke="#111" stroke-width="1.0"/>
<text x="483.20" y="575.10" style="font-family:'Liberation Serif',serif;font-size:7.2px;font-weight:normal" text-anchor="middle" fill="#1a1a1a" class="t">15</text>
<text x="367.3" y="586.7" style="font-family:'Liberation Serif',serif;font-size:9.4px" fill="#1a1a1a">% Foxp3<tspan dy="-3.2" style="font-size:5.5px">+</tspan><tspan dy="3.2"> cells</tspan></text>
<text transform="translate(286.5,494.4) rotate(-90)" style="font-family:'Liberation Serif',serif;font-size:9.4px" text-anchor="middle" fill="#1a1a1a">Th2:Th1 ratio</text>
<text x="469.8" y="439.4" style="font-family:'Liberation Serif',serif;font-size:9.3px" fill="#1a1a1a"><tspan font-style="italic">r</tspan><tspan dy="-3.2" style="font-size:5.5px">2</tspan><tspan dy="3.2"> = 0.62</tspan></text>
<text x="469.80" y="449.90" style="font-family:'Liberation Serif',serif;font-size:9.3px;font-weight:normal" text-anchor="start" fill="#1a1a1a" >p &lt; 0.0001</text>
<polyline points="313.20,470.40 313.37,470.79 313.56,471.27 313.80,471.83 314.07,472.48 314.38,473.22 314.74,474.05 315.14,474.98 315.60,476.00 316.07,477.14 316.54,478.40 317.04,479.77 317.59,481.23 318.23,482.75 318.97,484.32 319.85,485.91 320.90,487.50 322.09,489.13 323.40,490.83 324.82,492.58 326.36,494.36 328.02,496.15 329.81,497.93 331.74,499.69 333.80,501.40 336.00,503.09 338.34,504.78 340.81,506.46 343.41,508.13 346.13,509.77 348.97,511.37 351.93,512.92 355.00,514.40 358.29,515.84 361.84,517.25 365.58,518.61 369.40,519.94 373.22,521.21 376.96,522.41 380.51,523.55 383.80,524.60 386.89,525.58 389.90,526.49 392.81,527.34 395.59,528.12 398.23,528.83 400.69,529.49 402.95,530.07 405.00,530.60 406.45,530.98 407.16,531.19 407.48,531.28 407.72,531.34 408.23,531.42 409.34,531.59 411.38,531.93 414.70,532.50 419.65,533.36 426.07,534.48 433.51,535.76 441.51,537.14 449.62,538.52 457.37,539.83 464.32,540.98 470.00,541.90 474.59,542.59 478.58,543.15 482.04,543.59 485.01,543.94 487.54,544.21 489.70,544.43 491.54,544.62 493.10,544.80" fill="none" stroke="#444" stroke-width="0.9"/>
<path d="M317.60,441.70 L314.60,438.70 L311.60,441.70 L314.60,444.70Z" fill="#000"/>
<path d="M326.30,458.40 L323.30,455.40 L320.30,458.40 L323.30,461.40Z" fill="#000"/>
<path d="M328.70,460.80 L325.70,457.80 L322.70,460.80 L325.70,463.80Z" fill="#000"/>
<path d="M319.30,465.40 L316.30,462.40 L313.30,465.40 L316.30,468.40Z" fill="#000"/>
<path d="M321.90,472.30 L318.90,469.30 L315.90,472.30 L318.90,475.30Z" fill="#000"/>
<path d="M315.70,475.60 L312.70,472.60 L309.70,475.60 L312.70,478.60Z" fill="#000"/>
<path d="M324.20,489.40 L321.20,486.40 L318.20,489.40 L321.20,492.40Z" fill="#000"/>
<path d="M318.10,492.30 L315.10,489.30 L312.10,492.30 L315.10,495.30Z" fill="#000"/>
<path d="M339.30,499.00 L336.30,496.00 L333.30,499.00 L336.30,502.00Z" fill="#000"/>
<path d="M322.90,505.80 L319.90,502.80 L316.90,505.80 L319.90,508.80Z" fill="#000"/>
<path d="M338.30,518.00 L335.30,515.00 L332.30,518.00 L335.30,521.00Z" fill="#000"/>
<path d="M323.00,528.80 L320.00,525.80 L317.00,528.80 L320.00,531.80Z" fill="#000"/>
<path d="M338.20,529.80 L335.20,526.80 L332.20,529.80 L335.20,532.80Z" fill="#000"/>
<path d="M398.60,492.20 L395.60,489.20 L392.60,492.20 L395.60,495.20Z" fill="#000"/>
<path d="M398.30,500.10 L395.30,497.10 L392.30,500.10 L395.30,503.10Z" fill="#000"/>
<path d="M375.60,535.80 L372.60,532.80 L369.60,535.80 L372.60,538.80Z" fill="#000"/>
<path d="M395.70,554.10 L392.70,551.10 L389.70,554.10 L392.70,557.10Z" fill="#000"/>
<path d="M405.20,546.20 L402.20,543.20 L399.20,546.20 L402.20,549.20Z" fill="#000"/>
<path d="M409.50,551.20 L406.50,548.20 L403.50,551.20 L406.50,554.20Z" fill="#000"/>
<path d="M409.50,541.20 L406.50,538.20 L403.50,541.20 L406.50,544.20Z" fill="#000"/>
<path d="M412.70,539.00 L409.70,536.00 L406.70,539.00 L409.70,542.00Z" fill="#000"/>
<path d="M416.30,528.20 L413.30,525.20 L410.30,528.20 L413.30,531.20Z" fill="#000"/>
<path d="M417.00,536.80 L414.00,533.80 L411.00,536.80 L414.00,539.80Z" fill="#000"/>
<path d="M424.90,510.60 L421.90,507.60 L418.90,510.60 L421.90,513.60Z" fill="#000"/>
<path d="M431.80,527.50 L428.80,524.50 L425.80,527.50 L428.80,530.50Z" fill="#000"/>
<path d="M418.60,536.30 L415.60,533.30 L412.60,536.30 L415.60,539.30Z" fill="#000"/>
<path d="M421.10,535.60 L418.10,532.60 L415.10,535.60 L418.10,538.60Z" fill="#000"/>
<path d="M436.10,538.10 L433.10,535.10 L430.10,538.10 L433.10,541.10Z" fill="#000"/>
<path d="M439.90,540.00 L436.90,537.00 L433.90,540.00 L436.90,543.00Z" fill="#000"/>
<path d="M442.80,544.00 L439.80,541.00 L436.80,544.00 L439.80,547.00Z" fill="#000"/>
<path d="M437.00,556.30 L434.00,553.30 L431.00,556.30 L434.00,559.30Z" fill="#000"/>
<path d="M468.00,515.00 L465.00,512.00 L462.00,515.00 L465.00,518.00Z" fill="#000"/>
<path d="M467.00,526.40 L464.00,523.40 L461.00,526.40 L464.00,529.40Z" fill="#000"/>
<path d="M458.30,534.60 L455.30,531.60 L452.30,534.60 L455.30,537.60Z" fill="#000"/>
<path d="M463.20,547.50 L460.20,544.50 L457.20,547.50 L460.20,550.50Z" fill="#000"/>
<path d="M471.30,555.00 L468.30,552.00 L465.30,555.00 L468.30,558.00Z" fill="#000"/>
<path d="M475.30,550.30 L472.30,547.30 L469.30,550.30 L472.30,553.30Z" fill="#000"/>
<path d="M484.50,543.10 L481.50,540.10 L478.50,543.10 L481.50,546.10Z" fill="#000"/>
<path d="M491.10,528.80 L488.10,525.80 L485.10,528.80 L488.10,531.80Z" fill="#000"/>
<path d="M496.10,544.00 L493.10,541.00 L490.10,544.00 L493.10,547.00Z" fill="#000"/>
</svg>
</body></html>
